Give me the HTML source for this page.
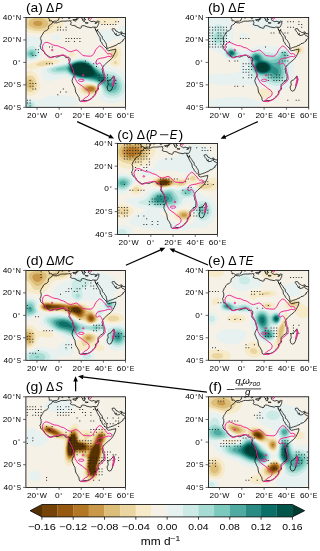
<!DOCTYPE html>
<html><head><meta charset="utf-8"><title>Figure</title>
<style>
html,body{margin:0;padding:0;background:#fff;}
svg{display:block;will-change:transform;}
text{font-family:"Liberation Sans",sans-serif;fill:#000;}
.tl{font-size:7.6px;}
.tt{font-size:10.4px;}
.ti{font-style:italic;}
.ts{font-size:7.2px;}
.tss{font-size:5.2px;}
.cl{font-size:8.6px;}
.cls{font-size:6.2px;}
</style></head><body>
<svg width="320" height="551" viewBox="0 0 320 551">
<defs><filter id="bl" x="-5%" y="-5%" width="110%" height="110%"><feGaussianBlur stdDeviation="0.45"/></filter></defs>
<rect width="320" height="551" fill="#fff"/>
<clipPath id="cpa"><rect x="26.00" y="17.50" width="99.50" height="89.80"/></clipPath>
<g clip-path="url(#cpa)">
<rect x="26.00" y="17.50" width="99.50" height="89.80" fill="#f5f1e6"/>
<g filter="url(#bl)">
<rect x="23.00" y="14.50" width="105.50" height="95.80" fill="#f5f1e6"/>
<path fill="#e7f2f0" fill-rule="evenodd" d="M23.8 109.5l13.3 0 1.1-.9 .2-.2 .9-.8 .4-.3 .7-.7 .8-.4 .3-.2 1.1-.2 1.1 .2 .7 .2 .4 .1 2.2 .6 1.1 .2 .7 .2 .4 .1 2.2 .4 4.4 .4 1.2 .1 4.4 0 5.5-.5 2.2-.4 .4-.1 .7-.2 1.1-.2 1.1-.4 1.1-.3 1.1-.5 1.2-.5 .2-.1 .9-.6 1.1-1.1 .4-.6 .3-1.1-.3-1.1-.4-.5-.6-.7-.5-.4-1.1-.7-1.2-.5-1.1-.5-.2-.1-.9-.3-2.2-.6-.8-.2-.3-.1-2.2-.4-1.1-.1-1.1-.2-1.1-.1-1.1 0-1.1-.1-4.4 0-1.2 .1-1.1 0-1.1 .1-1.1 .2-1.1 .1-2.2 .4-.2 .1-.9 .2-1.1 .3-1.1 .4-.5 .2-.6 .3-1.1 .5-.5 .3-.6 .4-1.1 .7-.2 0-.9 .5-1.1 .2-1.1-.1-1.1-.2-1.1-.3-.5-.1-.7-.1-1.1-.2-3.3-.3-2.2 0-1.1 .1-1.1 .2-1.1 .3-1.1 .4zM108.8 102.8l.1 0 1.1 .2 2.2 .2 1.1 0 1.1-.1 1.2-.1 1.1-.1 .2-.1 .9-.1 1.1-.3 1.1-.4 .8-.3 .3-.1 1.1-.5 .8-.5 .3-.2 1.1-.8 .2-.2 .9-.7 .4-.4 .7-.8 .3-.3 .8-1.1 0-17.1-.4-.9-.7-1 0-.1-.8-1.1-.3-.5-.5-.7-.6-.7-.3-.4-1.9-1.9-.4-.3-.7-.6-.9-.5-.2-.1-1.1-.5-1.1-.4-.7-.2-.4 0-1.1-.2-1.2-.3-1.1-.2-1.1-.3-.4-.1-.7-.2-2.2-.6-1-.3-.1 0-2.2-.8-.7-.3-.4-.2-1.1-.6-.8-.4-.3-.2-1.1-.6-.5-.3-.6-.3-1.1-.6-.3-.2-.8-.5-1.1-.5-.3-.1-.9-.4-1.1-.5-.5-.2-.6-.3-1.1-.5-1.1-.3-.2-.1-.9-.3-1.1-.4-1.1-.2-.8-.2-.3-.1-2.2-.4-2.2-.2-2.2 0-2.2 .2-1.1 .3-.5 .2-.6 .2-1.2 .3-1.1 .4-.5 .2-.6 .2-2.2 .6-.9 .4-.2 0-1.1 .5-1 .6-.1 0-1.1 .5-1.1 .6-1.1 .3-2.2 .8-3.3 .9-.7 .2-.4 .2-1.2 .2-2.2 .6-.5 .2-.6 .1-3.3 .9-.2 .1-.9 .3-2.2 .6-.6 .2-.5 .2-1.1 .5-1.1 .4 0 .1-1.1 .9-.3 .2-.3 1.1 .4 1.1 .2 .2 .5 .9 .6 1 0 .1 .4 1.2 .2 1.1 0 1.1 .3 1.1 .2 .5 .6 .7 .5 .3 1.1 .4 1.1 .2 1.1 0 1.1-.1 1.1-.2 1.1-.1 1.1-.3 1.1-.2 .1 0 1-.3 1.1-.2 1.2-.3 1.1-.3 .2-.1 .9-.2 1.1-.2 2.2-.6 .2-.1 .9-.2 2.2-.2 1.1 0 1.1 .2 .8 .2 .3 .1 1.1 .5 1.1 .4 .4 .1 .7 .4 1.1 .4 1.1 .3 .1 .1 1.1 .4 1.1 .3 1.1 .2 .9 .2 .2 0 1.1 .3 1.1 .2 3.3 .3 1.1 .2 1.1 .1 .2 0 .9 .1 2.2 .2 3.3 .6 .9 .2 .2 .1 1.1 .4 1.2 .5 .2 .2 .9 .5 .7 .6 .4 .4 .6 .7 .5 .8 .2 .3 .3 1.1 0 1.2-.1 1.1-.3 1.1-.1 .4-.4 .7-.5 1.2-.2 .7-.2 .4-.2 1.1 .3 1.1 .1 .1 .9 1 .2 .2 1.1 .7 .5 .3 .6 .3 1.1 .5 .9 .3 .2 .1 3.3 .9zM25.7 60.2l.3 .1 2.2 .6 1.1 .1 1.1 0 1.1-.1 2.2-.4 1.1-.3 .1 0 1.1-.4 1.1-.5 .6-.3 .5-.2 1.1-.7 .2-.2 .9-.8 .3-.3 .8-1.1 .5-1.2 .3-1.1 .2-1.1 .1-.3 .2-.8 .3-1.1 .4-1.2 .2-.4 .4-.7 .5-1.1 .2-.4 .3-.7 .3-1.2 0-1.1-.1-1.1-.5-1-.1-.1-.9-1.1-.1-.2-1.1-.8-.2-.2-.9-.4-1.1-.6-.3-.1-.8-.3-2.2-.6-1-.2-.1 0-1.2-.2-1.1-.2-2.2-.2-1.1 0-1.1-.1-3.3 .3-1.1 .3-.5 .1-.6 .2 0 22.1 .1 .1 1 .7zM104.7 43.3l.9-.1 1.1-.3 1.1-.4 .8-.3 .3-.1 1.1-.6 1-.4 .1-.1 1.1-.6 .9-.4 .2-.2 1.1-.6 .9-.4 .3-.1 1.1-.2 1.1 .1 .6 .2 .5 .2 1.1 .3 1.1 .2 1.1 0 1.1-.4 .4-.3 .7-.5 .5-.6 .6-.9 .1-.2 .5-1.1 .3-1.2 .2-.9 .1-.2 .1-1.1-.2-2.2 0-.1-.3-1.1-.5-1.1-.3-.5-.5-.6-.6-.5-1.1-.5-1.1 0-1.1 .3-1.1 .7-1.1 1-.2 .1-.9 1-.2 .1-.9 1.1-.2 0-.9 .8-1.2 .1-1.1-.1-2.2-.6-.5-.2-.6-.1-3.3-.3-1.1 .1-1.1 0-1.1 .2-1 .1-.1 .1-1.1 .3-1.1 .5-.5 .3-.6 .4-.8 .7-.3 .5-.5 .6-.4 1.1-.1 1.2 .1 1.1 .2 1.1 .4 1.1 .3 .4 .4 .8 .7 .8 .3 .3 .8 .7 .6 .4 .5 .3 1.1 .5 1.1 .3zM54.2 40l.5 .1 1.1 .1 1.2 0 1.1-.2 .2 0 .9-.3 1.1-.6 .3-.3 .6-1.1-.3-1.1-.6-.6-.9-.5-.2-.1-1.1-.3-1.1-.1-1.2 .1-1.1 .2-.5 .2-.6 .2-1.1 .7-.2 .2-.6 1.1 .4 1.1 .4 .4 1.1 .6z"/>
<path fill="#ccebe7" fill-rule="evenodd" d="M25.9 108.4l.1 .1 1.1 .5 1.1 .2 1.1 .1 1.1 0 1.1-.3 1.1-.4 .4-.2 .7-.5 .7-.6 .4-.7 .3-.4 .3-1.1-.2-1.2-.4-.7-.2-.4-.9-.7-.6-.4-.5-.2-1.1-.4-1.1-.2-1.1-.1-1.1 .1-1.1 .3-1.1 .5-1.1 .8-.3 .3-.7 1.1-.1 .7 0 .9 .1 .7 .7 1.1 .3 .3zM106.7 97.2l1.1 .4 1.1 .3 1.1 .2 2.2 .2 1.1 0 1.1-.1 1.2-.1 1.1-.2 1.1-.4 .8-.3 .3-.1 1.1-.6 .6-.4 .5-.3 .9-.8 .2-.2 .8-1 .3-.4 .4-.7 .6-1.1 .1-.4 .3-.7 .2-1.2 .1-1.1 0-2.2-.2-1.1-.3-1.2-.1-.2-.3-.9-.5-1.1-.3-.7-.3-.4-.6-1.2-.2-.2-.6-.9-.5-.6-.4-.5-1.8-1.8-.7-.5-.4-.3-1.1-.7-.1-.1-1-.5-1.2-.5-.2-.1-.9-.3-1.1-.3-2.2-.4-1.1-.1-1.1-.2-1.1-.3-1.1-.4-.5-.2-.6-.4-1.1-.7-.2-.1-.9-.6-.7-.5-.4-.3-1.1-.8-.1 0-1-.7-.8-.4-.3-.3-1.1-.6-.5-.3-.7-.4-2.2-1.4-.6-.4-.5-.3-1.1-.6-.4-.2-.7-.4-1.1-.5-.7-.2-.4-.2-1.1-.4-1.1-.3-1.1-.2-.8-.1-.3 0-2.2-.2-2.2 .2-.5 0-.6 .1-2.2 .4-1.2 .4-.7 .3-.4 .1-1.1 .3-1.1 .5-.3 .2-.8 .3-1.1 .6-.3 .2-.8 .3-1.1 .5-.7 .3-.4 .2-2.2 .6-1.1 .2-.4 .1-.7 .2-1.1 .2-1.1 .3-1.1 .2-1.1 .3-1.2 .3-1.1 .2-1.1 .3-.9 .3-.2 0-2.2 .8-.9 .3-.2 .1-1.1 .6-.7 .4-.8 1.2 .2 1.1 .2 .2 1 .9 .1 .1 1.1 .6 .9 .4 .2 .1 1.1 .4 1.1 .3 1.1 .2 1.1 .1 .9 0 .2 .1 1.2 0 .2-.1 .9 0 5.5-.5 1.1 0 1.1 .1 1.1 .2 .5 .2 .6 .3 1.1 .6 .4 .3 .7 .4 1.1 .6 .1 .1 1 .6 1.1 .5 .1 0 1 .5 1.2 .4 .8 .2 .3 .1 1.1 .4 1.1 .3 1.1 .2 1.1 .1 .1 .1 1 .2 4.4 .8 .3 .1 .8 .2 4.4 .8 .7 .1 .4 .1 1.1 .3 1.1 .4 .9 .3 .3 .2 1.1 .6 .6 .4 .5 .3 .9 .8 .2 .1 .8 1 .3 .5 .3 .6 .4 1.1 .2 1.2 .2 1.1 0 .1 .1 1 .3 1.1 .6 1.2 .1 .1 1.1 1 1.1 .6zM29 59l.3 .1 1.1 .2 1.1 .1 1.1-.2 1-.2 .1 0 1.1-.4 1.2-.5 .2-.2 .9-.7 .4-.4 .7-1 0-.1 .5-1.2 .1-1.1-.1-1.1-.3-1.1-.2-.7-.3-.4-.7-1.2-.1-.2-.9-.9-.2-.3-1.2-.8-1.1-.7-1.1-.3-1.1 0-1.1 .2-1.1 .5-.3 .3-.8 .4-.8 .7-.3 .2-.9 .9-.8 1.2-.5 .9-.1 .2-.3 1.1-.2 1.1 .1 1.1 .4 1.2 .1 .1 .6 1 1.1 1.1 .5 .3 1.1 .6z"/>
<path fill="#a6dcd4" fill-rule="evenodd" d="M28.2 107.3l1.1 .2 1.1-.1 .2-.1 .9-.5 .8-.6 .3-.9 .1-.2-.4-1.2-.8-.7-.8-.4-.3-.1-1.1-.1-1.1 .2-1.1 .6-.5 .5-.4 1.2 .4 1.1 .5 .5zM108.8 95l.1 0 1.1 .3 2.2 .2 1.1 0 1.1-.1 1.2-.3 .5-.1 .6-.2 1.1-.5 .7-.5 .4-.2 1-.9 .1-.1 .8-1 .3-.6 .3-.5 .4-1.2 .2-1.1 .1-1.1-.1-1.1-.2-1.1-.3-1.2-.4-1 0-.1-.6-1.1-.5-.9-.2-.2-.8-1.2-1.2-1.2-1.1-1-.1 0-1-.7-1.2-.6-1.1-.5-1.1-.4-.4-.1-.7-.1-2.2-.4-1.1-.3-.9-.3-.2 0-1.1-.5-1-.6-.1-.1-1.1-.7-.4-.3-.7-.6-.7-.5-.4-.4-1-.8-.1-.1-1.1-.8-.3-.2-.8-.5-.9-.6-.2-.2-1.2-.7-.3-.2-.8-.6-.6-.6-.5-.3-2.2-1.6-.5-.3-.6-.3-1.1-.6-.5-.2-.6-.3-1.1-.4-1.1-.3-.7-.1-.4-.2-1.1-.1-1.1-.2-2.2 0-1.1 .1-1.1 .2-.8 .2-.3 0-1.1 .3-1.2 .3-1.1 .4-.1 .1-1 .3-1.1 .6-.4 .2-.7 .4-1.1 .6-.2 .1-.9 .5-1.1 .5-.4 .1-.7 .3-2.2 .6-1.1 .2-.4 .1-.7 .1-2.2 .4-1.1 .3-1.1 .2-1.2 .3-2.2 .8-.4 .1-.7 .4-1.1 .7-.1 0-.3 1.2 .4 .5 .8 .6 .3 .1 1.1 .4 1.1 .3 1.1 .2 1.2 .1 2.2 0 1.1-.1 1.1 0 2.2-.2 1.1 0 1.1 .2 .4 .1 .7 .3 1.1 .6 .3 .2 .8 .6 .8 .5 .3 .3 1.1 .7 .2 .2 .9 .5 2.2 1.2 1.5 .5 .8 .3 2.2 .6 1.1 .2 .2 0 .9 .2 6.6 1.2 1.1 .3 1.1 .2 1.1 .3 .5 .1 .6 .1 1.1 .2 1.1 .3 1.1 .4 .2 .1 1 .4 1.1 .6 .3 .1 .8 .5 1 .7 .1 0 1.1 .9 .2 .2 .9 1.1 .7 1.1 .4 1 0 .1 .5 1.2 .5 1.1 .1 .2 .6 .9 .5 .5 .8 .6 .3 .2 1.1 .6zM30.2 57.9l.2 .1 1.1 .1 1.1-.2 .2 0 .9-.3 1.1-.5 .5-.3 .7-.7 .3-.4 .5-1.2 .1-1.1-.2-1.1-.6-1.1-.1-.3-.9-.8-.3-.2-1.1-.6-1.1-.3-.5-.1-1 0-.7 .1-1.1 .3-1.1 .7-1.2 1.2-.6 1.1-.2 1.1 .1 1.1 .5 1.2 .3 .4 .7 .7 .4 .3 1.1 .6z"/>
<path fill="#7ccabe" fill-rule="evenodd" d="M109.6 92.7l.4 .1 1.1 .2 1.1 .1 2.2-.2 .5-.2 .7-.2 1.1-.6 .4-.3 .7-.6 .5-.5 .6-1 0-.2 .4-1.1 .2-1.1 0-1.1-.2-1.1-.4-1.2 0-.2-.5-.9-.6-1.1-.9-1.1-.2-.3-1-.9-.1-.1-1.5-1-.8-.4-1.1-.4-1.1-.3-1.1-.2-2.2-.6-.7-.3-.4-.2-1.1-.6-.4-.4-.7-.4-.9-.7-.2-.1-1.1-.9-.1-.1-1-.9-.3-.2-.8-.7-.5-.4-.6-.5-.9-.7-.2-.1-1.1-.8-1.2-.8-.5-.5-.6-.4-.8-.7-.3-.3-1-.9-.1 0-1.1-.8-.3-.3-.8-.5-1-.6-.1 0-1.1-.6-1.1-.4-.4-.1-.7-.3-2.2-.4-2.2-.2-1.1 0-1.1 .1-2.2 .4-1.1 .3-.3 .1-.9 .2-1.1 .4-.9 .5-.2 .1-1.1 .5-.8 .5-.3 .2-1.1 .7-.5 .2-.6 .5-1.1 .6-.2 .1-.9 .4-1.1 .4-1.1 .2-.6 .1-.5 .1-1.1 .2-1.1 .3-2.2 .4-.4 .1-.7 .5-1.2 .6 0 .2 .8 1 .4 .1 1.1 .2 3.3 0 1.1-.1 2.2 0 1.1 .3 1.1 .5 .2 .1 .9 .6 .6 .5 .5 .4 .8 .7 .3 .3 1.1 .8 0 .1 1.1 .7 .6 .4 .5 .3 1.1 .6 1.2 .4 2.2 .8 .6 .1 .5 .2 3.3 .6 2.2 .2 .8 .1 .3 .1 3.3 .6 1.1 .3 .8 .2 .3 0 3.3 .9 .7 .2 .4 .1 1.2 .5 1 .5 .1 0 1.1 .6 .9 .5 .2 .1 1.1 .7 .6 .4 .5 .4 .8 .7 .3 .3 .6 .8 .5 .8 .2 .3 .6 1.1 .3 .5 .5 .7 .6 .6 .6 .5 .5 .3 1.1 .6zM31.3 56.8l.5 0 .8-.1 1.1-.5 .7-.5 .4-.6 .3-.6 .2-1.1-.4-1.1-1.2-1.2-1.1-.5-1.1-.1-1.1 .2-1.1 .5-1.1 1.1-.4 1.1 .1 1.1 .3 .5 .5 .7 .6 .5 1.1 .5z"/>
<path fill="#4faaa1" fill-rule="evenodd" d="M110.4 90.5l.7 .1 1.1 .1 1.1-.2 .2 0 .9-.4 1.2-.7 0-.1 .8-1.1 .3-.7 .1-.4 .1-1.1-.2-1.1 0-.3-.4-.9-.6-1.1-.1-.2-1.2-1.2-1.1-.8-1.1-.6-1.1-.3-.8-.3-.3 0-1.1-.3-1.1-.4-.6-.4-.5-.2-1-.9-.1-.1-1.1-.9-.1-.1-1-.8-.4-.4-.7-.6-.6-.5-.5-.4-.8-.7-.3-.3-1-.8-.1-.2-1.1-.9-.1 0-1-.8-.4-.4-.8-.5-.6-.6-.5-.4-.7-.7-.4-.3-.9-.8-.2-.2-1.1-1-1.1-.8-.4-.3-.7-.4-1.1-.6-.3-.1-.8-.3-1.1-.4-1.1-.3-.8-.1-.3-.1-2.2-.2-1.1 0-1.1 .1-1 .2-.1 0-1.1 .2-1.1 .3-1.2 .4-.5 .2-.6 .2-1.1 .5-.7 .4-.4 .3-1.1 .7-.2 .1-.9 .7-.6 .5-.5 .5-.8 .6-.3 .5-.6 .6 .3 1.1 .3 .3 .7 .9 .4 .3 .7 .8 1.5 1.5 .8 .7 .3 .3 2.2 1.6 .8 .4 .3 .2 1.2 .5 1.1 .4 3.3 .9 1.1 .1 .4 .1 .7 .1 1.1 .2 3.3 .3 1.1 .2 1.1 .1 1 .2 .1 .1 1.1 .2 1.1 .3 1.1 .2 1.1 .3 .2 .1 2.1 .7 .6 .4 .5 .2 1.1 .6 .7 .3 .4 .2 1.1 .5 1 .4 .1 .1 1.1 .5 .8 .6 .3 .2 .8 .9 .3 .3 .6 .8 .5 .8 .3 .3 .8 .9 .3 .2 .8 .6 1.1 .5zM30 54.5l.4 .4 1.1 .3 1.1-.3 .4-.4 .3-1.1-.7-.8-.8-.3-.3-.1-.3 .1-.8 .4-.6 .7z"/>
<path fill="#298b83" fill-rule="evenodd" d="M110.7 87.1l.4 .1 .9-.1 .2-.1 .9-1 0-1.1-.7-1.2-.2-.1-1.1-.7-1.1-.2-1.1 .1-.8 .9 .3 1.2 .5 1 .1 .1 1 .8zM99.5 81.5l.6 .3 2.2 .6 1.1 .1 1.1-.1 1.1-.6 .3-.3-.1-1.1-.2-.3-.3-.9-.7-1.1-.1-.2-.8-.9-1.4-1.4-1.1-.9-1.1-1-.1-.1-1-.9-.2-.2-.9-.8-.4-.3-.7-.7-.6-.4-.6-.5-.6-.7-.5-.3-.7-.8-2.2-2.2-.4-.3-1-.9-.1 0-1.1-.8-.5-.3-.6-.3-1.1-.5-.8-.3-.3-.1-1.1-.3-1.1-.2-2.2-.2-1.1 0-1.1 .1-2.2 .4-1.1 .3-.1 0-1.1 .3-1.1 .5-.6 .3-.5 .3-1.1 .7-.2 .1-.9 .7-1.1 1.1-.4 .5-.5 1.1 .1 1.1 .6 1.2 .2 .2 .6 .9 .5 .5 .5 .6 .6 .6 .7 .5 .4 .4 1.1 .7 0 .1 1.1 .6 1.1 .5 .1 0 2.2 .8 1 .3 .1 0 1.1 .3 1.1 .2 1.1 .1 1.1 .2 2.2 .2 1.1 0 .9 .1 .2 0 1.1 .1 4.4 .8 .9 .2 .2 .1 1.1 .3 1.2 .5 .5 .3 .6 .2 1.1 .6z"/>
<path fill="#0a6f67" fill-rule="evenodd" d="M99.7 80.4l.4 .1 1.1 .2 1.1-.1 .5-.2 .4-1.2-.4-1.1-.5-.7-1.1-1.1-.5-.4-.6-.5-.7-.7-.4-.3-3-3-.4-.3-.7-.8-.4-.4-.6-.8-.5-.4-.5-.7-2.2-2.2-.6-.5-.9-.7-.2-.1-1.1-.6-.7-.4-.4-.2-1.1-.4-1.1-.3-1-.2-.1 0-1.1-.2-2.2 0-2.2 .2-1.1 .2-1.1 .3-1.2 .4-.5 .2-.6 .3-1.1 .6-.3 .2-.8 .6-.7 .6-.4 .5-.5 .6-.4 1.1 0 1.1 .5 1.2 .4 .5 .4 .6 .7 .8 1.1 1.1 .5 .3 .6 .5 1.1 .6 1.2 .6 1.1 .4 .4 .2 .7 .2 2.2 .6 1.1 .2 .6 .1 .5 .1 3.3 .3 1.1 0 1.1 .1 1.1 0 3.3 .3 1.1 .2 .8 .1 .3 .1 1.1 .2 1.2 .4 .8 .4 .3 .2 1.1 .6z"/>
<path fill="#01554b" fill-rule="evenodd" d="M79.3 75.9l.9 .2 2.2 .4 1.1 .1 1.1 .2 11 0 1.2-.1 .8-.8-.6-1.2-.2-.3-.5-.8-.7-.8-.1-.3-.9-1.1-.1-.1-.7-1-.4-.4-.5-.8-.6-.7-.3-.4-.8-.9-.2-.2-.9-.8-.4-.3-.7-.6-.9-.6-.2-.1-2.2-1-1.1-.3-1.1-.2-2.2-.2-2.2 0-2.2 .4-1.1 .3-.2 0-1 .4-1.1 .5-.4 .2-.7 .5-.9 .7-.2 .2-.7 .9-.4 .9-.1 .2 .1 1.1 0 .1 .4 1.1 .7 1 .1 .1 1 1.1 1.1 .9 .4 .2 .7 .5 1.2 .5 .2 .1 .9 .4 1.1 .4 1.1 .3z"/>
<path fill="#003c30" fill-rule="evenodd" d="M82.2 75.9l.2 0 1.1 .2 2.2 .2 1.1 0 1.1-.1 1.1 0 1.1-.2 1.1-.1 1.1-.3 1.1-.4 .7-.5 .2-1.1-.3-1.1-.5-1.1-.1 0-.6-1.1-.5-.7-.2-.5-.9-1 0-.1-1.1-1.1-1.1-1-.2-.1-.9-.6-1.1-.6-1.1-.4-2.2-.6-.7-.1-.4 0-1.1-.1-2.2 0-1 .1-.1 0-1.1 .2-1.1 .3-1.2 .4-.4 .2-.7 .4-1.1 .7 0 .1-1 1.1-.1 .1-.4 1 0 1.1 .4 1 .1 .2 .8 1.1 .2 .3 .9 .8 .2 .2 1.1 .7 .5 .2 .7 .4 1.1 .4 .9 .3 .2 .1 3.3 .9z"/>
<path fill="#f6eac9" fill-rule="evenodd" d="M26.6 95l.5 .1 1.1 .3 1.1 .1 2.2 0 1.1-.3 1-.2 .1-.1 1.1-.5 .9-.6 .3-.1 1.1-1 1-1.1 .1-.1 .7-1 .6-1.2 .4-1.1 .2-1.1 0-1.1-.1-1.1-.3-1.2-.4-1.1 0-.1-.3-1-.4-1.1-.2-1.2-.2-.8-.1-.3-.3-1.1-.5-1.1-.2-.4-.5-.8-.6-.7-.4-.4-.8-.7-.5-.4-.6-.5-1-.6-.1-.1-1.1-.7-1.1-.3-1.1 .2-1.1 .4-.8 .5-.3 .1-1.1 .6-.5 .4-.6 .5-.7 .6-.4 .4 0 19.2 .7 .6 .4 .3 1.1 .6zM85.6 95l.1 0 1.1 .3 1.1 .2 2.2 .2 2.2-.2 1.1-.2 1.1-.3 .1 0 1-.4 1.2-.7 .1-.1 1-.8 .2-.3 .8-1.1 .1-.2 .3-.9 0-1.2-.2-1.1-.1-.2-.6-.9-.5-.6-.6-.5-.5-.4-1.2-.6-.3-.1-.8-.3-1.1-.4-1.1-.2-2.2-.2-.5-.1-3.9 0-1.1 .1-1.1 .2-1.1 .3-1.1 .4-.3 .2-.8 .5-.7 .6-.4 .5-.4 .6-.4 1.1 .1 1.1 .4 1.2 .3 .4 .5 .7 .6 .6 .6 .5 .5 .4 1.1 .6 .2 .1 .9 .5 1.1 .4zM30.2 69.1l.2 .5 1.1-.1 1-.4 .1 0 2.2-.4 1.2-.2 2.2-.4 .2-.1 .9-.1 3.3-.6 1.1-.3 .5-.1 .6-.1 1.1-.3 1.1-.2 1.1-.3 1.1-.2 .1 0 1-.3 2.2-.6 .9-.3 .2 0 2.2-.8 1.2-.4 1.1-.6 .8-.4 .3-.4 .6-.7-.6-1-.2-.1-.9-.4-1.1-.3-1.2-.2-1.1-.2-.9-.1-.2 0-1.1-.1-4.4 0-1.1 .1-.1 0-1 .1-2.2 .2-1.1 .2-2.2 .6-.1 .1-1 .3-1.1 .3-1.1 .4-.3 .1-.8 .3-1.2 .4-1.1 .3-.3 .1-.8 .3-1.1 .4-1.1 .3-.2 .1-.9 .5-1.1 .6 0 .1-.7 1.1 .1 1.1 .6 .8 1.1 1.1zM113.1 65.8l.2 .1 1.1 .3 1.2 .1 1.1-.1 1.1-.2 .6-.2 .5-.3 1-.9 .1 0 .6-1.1 .1-1.1-.2-1.1-.1-1.1 .1-1.2 .3-1.1 .3-1 0-.1 .3-1.1 .2-1.2 0-2.2-.2-1.1-.3-1-.1-.1-.4-1.2-.6-.9-.2-.2-.9-1-.1-.1-1-.7-1-.4-.1-.1-1.1-.2-1.2 0-1.1 .2-.1 .1-1 .3-1.1 .6-.2 .2-.9 .7-.4 .4-.7 .9-.1 .2-.7 1.2-.3 .9-.1 .2-.4 2.2 .1 1.1 .1 1.2 .3 1 0 .1 1 2.2 .1 .2 .4 1 .4 1.1 .3 1.1 .4 1.1 .7 .9 .2 .2 .9 .7zM70.1 56.8l.1 .1 1.1 .3 1.1 0 1-.4 1.1-1.1 .1-.5 .2-.7-.2-1 0-.1-.7-1.1-.4-.3-1.1-.5-1.1 0-1.1 .5-.3 .3-.8 1.1-.2 1.1 .2 1 .1 .2zM35.5 33.2l.5 .1 1.1 .1 1.1 .2 3.3 .3 1.1 0 1.1 .1 3.3 0 2.2-.4 1.1-.3 .5-.1 .6-.2 3.3-.9 .1 0 1-.4 1.2-.3 1.1-.4 1.1-.6 .9-.6 .2-.1 1.1-1 .9-1.1 .2-.4 .4-.7 .4-1.1 .1-1.2-.1-1.1-.3-1.1-.5-.9-.1-.2-.9-1.2-1.2-1.2-1.1-.8-.3-.2-.8-.6-1-.5-.1-.1-1.2-.6-.9-.4-31.1 0 0 15.2 1 .5 .1 0 1.1 .4 2.2 .6 .5 .1 .6 .1 4.4 .8 1.1 .1zM101.7 24.2l.6 .1 1.1 .2 2.2 .2 1.1 0 1.1 .1 2.2 0 2.2-.2 1.1-.2 .9-.2 .2-.1 1.2-.5 .8-.5 .3-.2 .8-.9 .3-.4 .4-.7 .2-1.2-.4-1.1-.2-.2-1-.9-.1-.1-1.1-.6-1.2-.4-.1 0-1-.3-2.2-.4-2.2-.2-2.2 0-2.2 .2-2.2 .4-1 .3-.1 0-1.1 .4-1.1 .5-.4 .2-.7 .5-.8 .6-.3 .5-.5 .6-.1 1.2 .5 1.1 .1 0 1.1 .9 .3 .2 .8 .3 1.1 .4 1.1 .3z"/>
<path fill="#ebd6a2" fill-rule="evenodd" d="M88.3 93.8l.7 .2 2.2 0 1.1-.1 .5-.1 .6-.1 1.1-.3 1.1-.5 1.2-.8 .5-.5 .6-1 .1-.1 .2-1.2-.3-1.1 0-.1-.7-1-.4-.4-1-.7-.2-.1-1.1-.5-1.1-.4-.6-.1-.5-.1-1.1-.2-1.1-.1-1.1 0-2.2 .2-.8 .2-.3 0-1.1 .4-1.1 .5-.3 .2-.8 .7-.4 .4-.5 1.1 0 1.1 .4 1.2 .5 .5 .5 .6 .6 .4 1.1 .7 1.1 .5 2.2 .6zM28.2 91.6l1.1 .3 1.1 .1 1.1-.1 1-.3 .1-.1 1.1-.6 .6-.4 .5-.5 .6-.7 .6-.8 .1-.3 .4-1.1 .2-1.1 .1-1.1-.2-1.2-.2-1.1-.3-1.1-.1-.5-.2-.6-.5-1.2-.5-.9-.1-.2-.8-1.1-.2-.1-1.1-.8-.4-.2-.7-.3-1.1-.2-1.1 .1-1.1 .3 0 .1-1.1 .5-.7 .6-.4 .4-.6 .7-.5 .8-.2 .3-.4 1.2-.3 1.1-.2 1.1 0 2.3 .2 1.1 .3 1.1 .5 1.1 .1 .3 .5 .8 .6 .7 .4 .5 .7 .5zM37.6 65.8l.6 0 1.1 .1 2.2 0 1.1-.1 .3 0 .8-.1 3.3-.6 1.1-.3 .9-.2 .2 0 2.2-.8 .8-.3 .3-.4 .9-.7-.9-.6-1.1-.5-.1 0-1-.2-1.1 0-1.1-.1-1.1 0-2.2 .2-.6 .1-.5 0-1.1 .2-3.3 .9-2.2 1-.3 .1-.8 1-.2 .1 .2 .2 1.1 .8zM113.8 63.5l.6 .5 1.2 .2 1.1-.3 .4-.4 .1-1.1-.5-.9-.4-.2-.7-.6-1.2 .2-.3 .4-.6 1.1zM113.2 57.9l.1 .1 1.1 .5 1.2-.3 .2-.3 .9-.7 .2-.4 .7-1.1 .2-.5 .2-.7 .1-1.1-.2-1.1-.1-.5-.3-.6-.8-1.1 0-.1-1.1-.7-1.2-.2-1.1 .3-1 .7-.1 0-.7 1.1-.4 .8-.1 .3-.1 1.1 .1 1.1 .1 .6 .2 .6 .7 1.1 .2 .3zM38.2 31l1.1 .1 1.1 0 1.1-.1 1.1 0 1.1-.1 2.2-.4 1.1-.3 1-.4 .1 0 1.1-.4 1.1-.6 .2-.1 .9-.6 .7-.5 .4-.5 .6-.6 .5-1 .1-.1 .3-1.2-.1-1.1-.3-.7-.1-.4-.7-1.1-.3-.3-.8-.9-.3-.1-1.1-.9-.2-.1-.9-.5-1.1-.6-.1 0-1-.4-1.1-.4-.9-.3-.2-.1-1.1-.3-2.2-.4-3.3-.3-1.1 0-1.1 .1-1.2 .1-2.2 .4-1.1 .3-.5 .2-.6 .2-1.1 .4-.9 .5-.2 .1-1.1 .7-.4 .3-1.1 1.1-.7 1-.1 .2-.5 1.1-.1 1.1 .1 1.1 .3 1.2 .3 .4 .5 .7 1.1 1.1 .6 .4 1.1 .7 .1 0 1 .5 1.1 .4 .7 .2 .4 .2 1.1 .3 2.2 .4 1.2 .1 1.1 .2z"/>
<path fill="#ddbe78" fill-rule="evenodd" d="M88.4 92.7l.6 .1 1.1 .1 1.1 0 1.1-.1 .5-.1 .6-.1 1.1-.4 1.1-.6 0-.1 1-1 .2-.5 .2-.7-.2-1.1-.9-1.1-.3-.2-1.1-.7-.5-.2-.6-.2-1.1-.3-1.1-.2-2.2 0-1.1 .1-1.1 .3-.8 .3-.3 .1-1.1 .7-.4 .3-.6 1.1 0 1.1 .5 1.2 .5 .4 .8 .7 .3 .2 1.1 .5 1.1 .3zM28.8 88.2l.5 .3 1.1 .2 1.1-.2 .6-.3 .5-.4 .7-.7 .4-.9 .1-.2 .2-1.1 0-1.2-.3-1.1-.4-1.1-.6-1.1-.1-.1-1.1-1-.3-.1-.8-.2-1.1 .1-.2 .1-.9 .6-.5 .6-.6 .8-.1 .3-.3 1.1-.1 1.1 .1 1.2 .3 1.1 .1 .3 .5 .8 .6 .7zM37.5 28.7l.7 .1 1.1 0 .4-.1 .7 0 2.2-.4 1.1-.3 1-.4 .1 0 1.1-.6 .7-.5 .4-.4 .6-.7 .5-1.2 0-1.1-.4-1.1-.7-.8-.3-.3-.8-.7-.7-.5-.4-.2-1.1-.5-1.1-.4-1.1-.3-1.1-.2-2.2-.2-1.1 0-1.1 .1-1.2 .1-1.1 .3-.7 .2-.4 .1-1.1 .5-.9 .5-1.2 1.2-.1 0-.6 1.1-.3 1.1 .1 1.1 .6 1.2 1.1 1.1 .2 .1 1.1 .7 .7 .3 .4 .2 2.2 .6 1.2 .2 1.1 .1z"/>
<path fill="#ca9849" fill-rule="evenodd" d="M88.2 91.6l.8 .2 1.1 .2 1.1 0 1.1-.2 .9-.2 .2-.1 1.1-.6 .6-.4 .5-1.1 .1-.1-.1-.1-.1-1-1.1-1.1-1-.5-1.1-.3-1.1-.2-1.1 0-1.1 .1-1.1 .2-1.1 .4-.5 .3-.6 .7-.3 .4-.1 1.1 .8 1.2 .7 .5 1.1 .5zM34.7 25.4l.1 0 1.2 .4 1.1 .2 1.1 0 1.1-.1 1.1-.3 .7-.2 .4-.3 .9-.9 .1-1.1-.7-1.1-.3-.2-1.1-.6-1.1-.3-1.1-.2-1.1 0-1.1 .2-.1 0-1.1 .4-1.1 .6 0 .1-.6 1.1 .3 1.1 .3 .4z"/>
<path fill="#b37625" fill-rule="evenodd" d="M88.4 90.5l.6 .2 1.1 .2 1.1 0 1.1-.2 .7-.2 .4-.3 .7-.9-.2-1.1-.5-.4-1.1-.6-.5-.1-.6-.1-1.1 0-.9 .1-.2 0-1.1 .6-.6 .5-.1 1.1 .7 .8z"/>
</g>
<path fill="#222" d="M26.9 99.8h1v1h-1zM26.9 102.6h1v1h-1zM29.6 80.1h1v1h-1zM29.6 82.9h1v1h-1zM29.6 85.8h1v1h-1zM29.6 99.8h1v1h-1zM29.6 102.6h1v1h-1zM29.6 105.4h1v1h-1zM32.4 54.9h1v1h-1zM32.4 82.9h1v1h-1zM32.4 85.8h1v1h-1zM32.4 88.6h1v1h-1zM35.2 49.3h1v1h-1zM35.2 54.9h1v1h-1zM35.2 82.9h1v1h-1zM35.2 88.6h1v1h-1zM37.9 49.3h1v1h-1zM37.9 52.1h1v1h-1zM46.2 63.3h1v1h-1zM49.0 46.5h1v1h-1zM49.0 63.3h1v1h-1zM51.8 46.5h1v1h-1zM51.8 63.3h1v1h-1zM57.3 26.8h1v1h-1zM57.3 29.6h1v1h-1zM57.3 94.2h1v1h-1zM60.0 26.8h1v1h-1zM60.0 29.6h1v1h-1zM60.0 91.4h1v1h-1zM62.8 29.6h1v1h-1zM62.8 88.6h1v1h-1zM65.6 26.8h1v1h-1zM65.6 29.6h1v1h-1zM65.6 38.0h1v1h-1zM65.6 40.9h1v1h-1zM65.6 91.4h1v1h-1zM68.3 38.0h1v1h-1zM68.3 40.9h1v1h-1zM71.1 38.0h1v1h-1zM73.9 38.0h1v1h-1zM73.9 40.9h1v1h-1zM76.6 38.0h1v1h-1zM79.4 38.0h1v1h-1zM79.4 40.9h1v1h-1zM82.2 63.3h1v1h-1zM82.2 66.1h1v1h-1zM84.9 60.5h1v1h-1zM84.9 63.3h1v1h-1zM84.9 66.1h1v1h-1zM87.7 63.3h1v1h-1zM87.7 66.1h1v1h-1zM90.5 66.1h1v1h-1zM93.2 63.3h1v1h-1zM96.0 60.5h1v1h-1zM96.0 63.3h1v1h-1zM96.0 66.1h1v1h-1zM98.7 74.5h1v1h-1zM98.7 77.3h1v1h-1zM98.7 80.1h1v1h-1zM101.5 24.0h1v1h-1zM101.5 74.5h1v1h-1zM101.5 77.3h1v1h-1zM101.5 80.1h1v1h-1zM104.3 21.2h1v1h-1zM104.3 24.0h1v1h-1zM104.3 77.3h1v1h-1zM104.3 80.1h1v1h-1zM107.0 24.0h1v1h-1zM107.0 74.5h1v1h-1zM107.0 77.3h1v1h-1zM107.0 80.1h1v1h-1zM109.8 24.0h1v1h-1zM112.6 24.0h1v1h-1zM115.3 21.2h1v1h-1zM115.3 24.0h1v1h-1zM115.3 80.1h1v1h-1zM115.3 82.9h1v1h-1zM118.1 21.2h1v1h-1z"/>
<path fill="none" stroke="#000" stroke-width="0.75" stroke-linejoin="round" d="M52.64,22.21 L53.31,22.10 L54.30,22.89 L55.96,22.78 L56.96,23.00 L57.84,22.33 L59.17,22.10 L60.83,21.32 L62.70,21.09 L65.03,21.20 L67.46,20.87 L68.67,20.98 L70.00,20.53 L70.55,20.87 L71.33,20.76 L70.66,21.43 L70.89,22.10 L71.44,22.89 L70.78,23.67 L70.33,24.35 L71.44,25.02 L72.43,25.47 L73.76,25.47 L75.97,26.14 L76.52,27.15 L78.51,27.71 L80.17,28.39 L81.39,27.60 L81.28,26.37 L82.94,25.58 L84.82,25.92 L87.03,26.93 L89.02,27.27 L91.23,27.71 L92.89,27.04 L94.88,27.27 L95.21,28.73 L95.21,28.84 L95.87,30.41 L96.76,32.09 L97.86,34.34 L98.52,35.57 L99.96,37.70 L100.29,39.95 L100.62,41.52 L101.62,42.31 L102.50,44.44 L103.39,45.45 L104.72,46.69 L105.93,48.03 L107.04,48.93 L106.71,49.49 L108.36,50.73 L110.69,50.28 L112.23,49.83 L114.11,49.49 L115.77,49.04 L115.66,50.73 L115.22,52.30 L114.00,54.77 L112.90,56.79 L111.68,58.47 L110.35,59.93 L108.70,61.17 L106.82,62.74 L105.38,64.08 L104.38,64.98 L103.50,65.99 L102.50,67.68 L102.06,69.70 L102.84,70.82 L102.61,71.94 L103.17,73.62 L103.94,74.52 L104.05,76.43 L103.94,78.68 L103.39,80.36 L100.62,82.16 L99.41,83.28 L98.19,84.63 L98.08,86.53 L98.41,87.66 L98.41,89.34 L96.76,90.35 L95.43,91.36 L95.54,92.60 L95.21,94.39 L94.54,94.95 L93.44,95.96 L92.44,97.42 L91.12,98.66 L89.57,99.67 L87.91,100.34 L87.03,100.56 L85.26,100.45 L84.04,100.56 L82.38,101.01 L81.28,101.46 L80.39,101.13 L79.51,100.68 L79.40,99.78 L78.96,99.11 L79.29,97.98 L78.29,96.52 L77.30,94.50 L76.08,93.04 L75.53,91.02 L75.09,88.22 L74.98,87.32 L73.98,85.86 L73.10,83.73 L72.21,81.82 L72.10,80.36 L72.65,78.56 L73.43,76.99 L74.20,75.87 L74.31,74.41 L73.65,73.18 L73.32,71.72 L72.77,69.25 L72.65,68.91 L72.32,68.01 L71.44,66.78 L70.11,65.66 L69.45,64.53 L68.90,63.30 L69.45,62.06 L69.78,61.28 L70.00,59.82 L70.11,58.92 L69.56,58.02 L69.01,57.46 L68.56,57.24 L67.46,57.46 L66.57,57.57 L65.69,57.57 L64.69,56.11 L64.03,55.33 L62.93,55.22 L62.15,55.33 L61.27,55.55 L60.38,55.78 L58.61,56.45 L57.07,57.12 L55.52,56.68 L54.08,56.56 L52.64,56.79 L50.88,57.46 L49.88,57.12 L48.89,56.45 L47.23,55.44 L46.56,54.65 L45.46,54.21 L44.57,53.20 L44.57,52.30 L44.02,51.74 L43.03,50.95 L42.47,50.16 L41.48,49.49 L40.70,48.48 L40.59,47.47 L40.48,46.69 L40.15,46.01 L39.82,45.90 L40.48,45.34 L40.92,44.22 L41.37,42.08 L41.15,40.96 L41.15,39.95 L40.48,38.83 L40.37,38.38 L41.15,36.92 L41.48,35.80 L42.14,35.01 L42.80,34.11 L43.25,32.88 L44.46,31.42 L45.24,30.97 L46.23,30.75 L47.12,30.07 L48.11,29.17 L48.55,28.16 L48.33,27.38 L48.89,25.81 L49.66,25.02 L50.76,24.57 L51.54,24.12 L52.31,22.89 L52.64,22.21Z M113.67,75.87 L114.33,77.22 L114.78,79.24 L115.00,80.14 L114.33,80.81 L114.00,82.38 L113.56,84.29 L112.90,86.31 L112.12,88.44 L111.24,90.35 L109.58,91.14 L108.36,90.69 L107.59,89.68 L107.37,88.44 L107.04,87.09 L107.59,85.97 L108.25,84.96 L108.03,83.50 L107.81,82.16 L108.25,80.92 L109.03,80.36 L110.35,80.02 L111.35,79.24 L112.01,78.12 L112.79,77.44 L113.67,75.87Z M126.05,34.00 L123.95,33.66 L122.52,33.44 L121.96,32.09 L121.19,31.87 L119.64,32.65 L118.31,32.32 L117.10,31.42 L115.99,31.08 L114.67,28.84 L113.89,28.61 L112.90,28.84 L112.23,28.84 L112.12,29.85 L112.68,30.41 L113.12,31.31 L114.00,32.20 L114.55,32.88 L114.67,33.66 L115.11,34.45 L115.66,34.79 L115.99,34.00 L116.21,33.44 L116.21,34.90 L116.66,35.57 L118.20,35.35 L119.53,35.12 L120.53,33.89 L121.19,33.10 L121.52,32.77 L121.52,34.45 L122.07,35.24 L123.29,35.80 L124.06,35.91 L124.84,36.92 L125.28,37.37 L124.73,38.38 L123.84,39.50 L123.07,39.73 L122.96,41.07 L121.74,41.52 L120.64,42.87 L120.30,43.09 L119.75,43.32 L117.87,43.65 L116.88,44.89 L114.00,45.90 L113.01,46.69 L112.12,46.69 L110.46,47.36 L109.58,47.47 L108.92,48.03 L107.81,48.26 L107.26,48.26 L106.93,47.58 L106.60,45.79 L106.26,44.78 L106.48,44.10 L105.93,43.21 L105.38,42.42 L104.72,41.41 L104.38,40.51 L103.61,39.73 L103.17,39.61 L102.39,38.49 L102.28,37.03 L101.73,35.80 L101.18,35.35 L100.62,35.12 L100.29,34.23 L99.96,33.66 L99.63,33.22 L99.19,32.54 L98.52,31.64 L97.97,30.86 L97.42,30.86 L97.64,29.85 L97.81,29.40 L97.42,30.30 L96.98,31.19 L96.64,30.97 L96.31,30.52 L95.76,29.85 L95.21,28.84 M94.88,27.27 L96.98,27.27 L97.42,26.70 L97.86,25.58 L98.41,24.35 L98.86,23.45 L98.75,22.21 L99.19,21.32 L98.41,21.32 L97.53,21.09 L96.76,21.77 L95.10,21.88 L94.21,21.32 L93.00,21.20 L92.00,21.88 L90.90,21.20 L89.68,20.87 L89.02,20.08 L88.35,19.52 L88.80,18.62 L88.13,18.06 L88.35,17.28 L88.69,16.94 M84.15,16.83 L84.37,17.50 L84.15,18.06 L84.93,18.40 L84.15,18.85 L85.15,19.41 L85.70,19.52 L84.71,19.86 L84.37,20.53 L84.71,21.43 L84.04,21.54 L83.16,21.09 L82.72,20.19 L82.49,19.41 L83.38,19.30 L82.49,19.18 L82.05,18.62 L81.50,17.95 L80.95,17.50 L80.61,16.83 M79.62,17.28 L79.51,17.72 L78.18,17.05 L77.85,16.94 L77.41,17.72 L78.07,18.17 L78.18,18.73 L77.52,18.85 L76.97,19.75 L76.52,19.86 L76.52,19.52 L76.75,18.85 L76.52,18.06 L76.08,17.50 L75.64,17.16 M70.00,16.94 L69.89,18.40 L69.34,18.40 L68.90,18.73 L68.45,18.40 L68.45,17.05 L68.23,16.83 M48.66,16.94 L49.22,17.72 L48.77,18.62 L49.33,19.18 L49.44,19.86 L49.33,20.87 L50.43,20.87 L50.99,20.64 L51.98,20.98 L52.31,21.54 L52.98,21.99 L53.75,21.43 L54.30,21.20 L55.41,21.20 L56.84,21.20 L57.40,20.64 L58.39,20.19 L58.39,19.30 L59.28,18.85 L58.84,18.29 L59.28,17.61 L59.72,17.05 L60.05,16.71 M85.15,22.78 L85.92,22.66 L86.81,22.66 L87.69,22.78 L88.24,22.89 L88.02,23.11 L86.47,23.22 L85.15,22.78Z M94.88,23.11 L95.65,22.66 L96.76,22.55 L97.42,22.33 L96.64,23.00 L95.65,23.56 L94.99,23.45 L94.88,23.11Z M72.88,19.63 L73.98,19.52 L76.30,19.41 L75.86,20.53 L75.86,21.20 L74.98,20.87 L72.99,20.19 L72.88,19.63Z M61.82,17.95 L62.59,17.61 L62.93,17.95 L62.48,18.29 L61.82,17.95Z"/>
<path fill="none" stroke="#ec2592" stroke-width="0.95" stroke-linejoin="round" d="M42.36,46.91 L43.36,44.10 L44.79,42.76 L47.12,42.31 L49.44,43.21 L52.31,44.66 L55.08,45.56 L57.84,45.79 L61.16,47.47 L63.37,47.92 L65.14,48.93 L67.90,50.84 L70.66,51.74 L73.54,50.84 L76.30,49.94 L78.62,51.29 L80.95,53.64 L82.83,55.55 L86.58,56.00 L90.23,56.23 L92.11,55.78 L93.88,53.53 L95.76,49.83 L97.64,47.47 L99.52,46.01 L101.40,46.57 L103.28,48.82 L105.16,50.73 L106.48,52.63 L107.92,53.98 L109.80,53.53 L111.68,54.43 L112.12,55.78 L110.69,56.79 L108.81,56.34 L107.04,56.79 L104.16,57.69 L100.40,58.25 L97.64,59.14 L96.20,61.05 L95.76,63.30 L97.20,64.31 L99.08,62.96 L100.40,63.30 L101.40,64.65 L102.28,66.55 L103.17,68.46 L103.61,71.38 L104.27,73.62 L104.83,75.42 L105.27,79.24 L103.39,82.04 L100.07,84.40 L98.19,86.65 L97.31,89.45 L96.42,92.37 L94.99,95.18 L92.67,97.87 L88.91,100.23 L85.15,101.69 L80.84,101.35 L82.38,100.23 L85.15,97.87 L87.03,96.97 L88.91,95.18 L89.35,92.71 L88.02,90.46 L85.15,88.55 L82.38,86.20 L77.74,83.05 L75.20,78.68 L74.09,74.19 L73.32,70.26 L71.66,66.33 L70.22,63.86 L68.90,61.05 L68.34,58.81 L67.46,56.90 L65.14,55.55 L62.48,54.88 L59.72,55.44 L56.96,55.78 L54.08,56.79 L51.76,57.69 L49.44,57.69 L46.56,55.44 L44.79,52.63 L42.92,49.72 L42.36,46.91Z M84.04,80.36 L83.77,79.87 L83.00,79.48 L81.89,79.27 L80.66,79.27 L79.55,79.48 L78.79,79.87 L78.51,80.36 L78.79,80.85 L79.55,81.24 L80.66,81.45 L81.89,81.45 L83.00,81.24 L83.77,80.85 L84.04,80.36Z M83.93,75.31 L83.70,74.75 L83.16,74.52 L82.61,74.75 L82.38,75.31 L82.61,75.86 L83.16,76.09 L83.70,75.86 L83.93,75.31Z M52.98,50.05 L52.75,49.50 L52.20,49.27 L51.65,49.50 L51.43,50.05 L51.65,50.61 L52.20,50.84 L52.75,50.61 L52.98,50.05Z M91.45,18.29 L91.16,17.57 L90.45,17.28 L89.75,17.57 L89.46,18.29 L89.75,19.00 L90.45,19.30 L91.16,19.00 L91.45,18.29Z M113.78,76.54 L114.67,79.24 L113.89,82.61 L112.90,85.97 L112.34,86.20 L113.12,82.61 L113.78,79.24 L113.23,76.99 L113.78,76.54Z"/>
</g>
<rect x="26.00" y="17.50" width="99.50" height="89.80" fill="none" stroke="#000" stroke-width="0.8"/>
<path stroke="#333" stroke-width="0.75" d="M26.00,17.50h-2.8M26.00,39.95h-2.8M26.00,62.40h-2.8M26.00,84.85h-2.8M26.00,107.30h-2.8M37.06,107.30v2.4M59.17,107.30v2.4M81.28,107.30v2.4M103.39,107.30v2.4M125.50,107.30v2.4"/>
<text x="2.83" y="19.95" style="font-size:7.20px" textLength="9.23" lengthAdjust="spacingAndGlyphs">40</text><text x="12.74" y="18.87" style="font-size:5.18px">°</text><text x="15.68" y="19.95" style="font-size:7.20px" textLength="5.42" lengthAdjust="spacingAndGlyphs">N</text>
<text x="2.83" y="42.40" style="font-size:7.20px" textLength="9.23" lengthAdjust="spacingAndGlyphs">20</text><text x="12.74" y="41.32" style="font-size:5.18px">°</text><text x="15.68" y="42.40" style="font-size:7.20px" textLength="5.42" lengthAdjust="spacingAndGlyphs">N</text>
<text x="12.86" y="64.85" style="font-size:7.20px" textLength="4.61" lengthAdjust="spacingAndGlyphs">0</text><text x="18.16" y="63.77" style="font-size:5.18px">°</text>
<text x="3.65" y="87.30" style="font-size:7.20px" textLength="9.23" lengthAdjust="spacingAndGlyphs">20</text><text x="13.56" y="86.22" style="font-size:5.18px">°</text><text x="16.50" y="87.30" style="font-size:7.20px" textLength="4.60" lengthAdjust="spacingAndGlyphs">S</text>
<text x="3.65" y="109.75" style="font-size:7.20px" textLength="9.23" lengthAdjust="spacingAndGlyphs">40</text><text x="13.56" y="108.67" style="font-size:5.18px">°</text><text x="16.50" y="109.75" style="font-size:7.20px" textLength="4.60" lengthAdjust="spacingAndGlyphs">S</text>
<text x="27.05" y="117.60" style="font-size:7.20px" textLength="9.23" lengthAdjust="spacingAndGlyphs">20</text><text x="36.96" y="116.52" style="font-size:5.18px">°</text><text x="39.90" y="117.60" style="font-size:7.20px" textLength="7.17" lengthAdjust="spacingAndGlyphs">W</text>
<text x="55.05" y="117.60" style="font-size:7.20px" textLength="4.61" lengthAdjust="spacingAndGlyphs">0</text><text x="60.35" y="116.52" style="font-size:5.18px">°</text>
<text x="72.56" y="117.60" style="font-size:7.20px" textLength="9.23" lengthAdjust="spacingAndGlyphs">20</text><text x="82.48" y="116.52" style="font-size:5.18px">°</text><text x="85.41" y="117.60" style="font-size:7.20px" textLength="4.58" lengthAdjust="spacingAndGlyphs">E</text>
<text x="94.67" y="117.60" style="font-size:7.20px" textLength="9.23" lengthAdjust="spacingAndGlyphs">40</text><text x="104.59" y="116.52" style="font-size:5.18px">°</text><text x="107.52" y="117.60" style="font-size:7.20px" textLength="4.58" lengthAdjust="spacingAndGlyphs">E</text>
<text x="116.78" y="117.60" style="font-size:7.20px" textLength="9.23" lengthAdjust="spacingAndGlyphs">60</text><text x="126.70" y="116.52" style="font-size:5.18px">°</text><text x="129.63" y="117.60" style="font-size:7.20px" textLength="4.58" lengthAdjust="spacingAndGlyphs">E</text>
<text x="25.90" y="12.00" style="font-size:12.10px" textLength="16.89" lengthAdjust="spacingAndGlyphs">(a)</text><text x="46.00" y="12.00" style="font-size:12.10px" textLength="8.29" lengthAdjust="spacingAndGlyphs">Δ</text><text x="55.20" y="12.00" style="font-size:12.10px;font-style:italic" textLength="7.31" lengthAdjust="spacingAndGlyphs">P</text>
<clipPath id="cpb"><rect x="208.40" y="17.50" width="100.30" height="89.80"/></clipPath>
<g clip-path="url(#cpb)">
<rect x="208.40" y="17.50" width="100.30" height="89.80" fill="#f5f1e6"/>
<g filter="url(#bl)">
<rect x="205.40" y="14.50" width="106.30" height="95.80" fill="#f5f1e6"/>
<path fill="#e7f2f0" fill-rule="evenodd" d="M230.7 108.4l1.1 .1 8.9 0 1.1-.1 1.1 0 1.2-.1 1.1-.1 1.1 0 3.3-.3 1.1-.2 1.2-.1 1.1-.2 .8-.1 .3 0 1.1-.2 1.1-.3 1.1-.2 1.2-.4 .2 0 .9-.4 1.1-.6 .3-.1 .5-1.2-.8-1-.1-.1-1-.6-.7-.5-.4-.2-1.2-.7-.4-.2-.7-.4-1.1-.5-.5-.3-.6-.2-1.1-.5-1.1-.4-.1 0-1.1-.3-2.2-.4-4.4-.4-1.2 0-1.1-.1-10 0-1.1 .1-1.1 0-1.1 .1-1.2 .1-1.1 0-2.2 .2-1.1 .2-2.2 .2-1.2 .2-.9 .1-.2 .1-1.1 .1-1.1 .3-1.1 .2-1.1 .3-.7 .1-.4 .2-1.2 .4-1.1 .4-.5 .2-.6 .3-1.1 .8-.6 1.1 .6 1.1 1.1 .8 .6 .4 .5 .2 1.1 .4 1.2 .3 .4 .2 .7 .2 1.1 .2 1.1 .3 2.2 .4 .2 0 .9 .1 1.2 .2 1.1 .1 1.1 .2 3.3 .3 1.1 0 1.2 .1 1.1 .1zM278.1 90.5l.5 .1 1.1 0 1.1-.1 .3 0 .9-.2 1.1-.4 1-.6 .1 0 1.1-.7 .6-.4 .5-.4 .8-.7 .3-.3 .9-.8 .2-.3 .7-.8 .5-.6 .4-.6 .7-1.1 .6-1.1 .5-1 0-.1 .6-1.2 .4-1.1 .1-.5 .2-.6 .3-1.1 .3-1.2 .1-1.1 .2-1.1 0-.5 .1-.6 0-3.4-.1-.6 0-.5-.1-1.1-.1-1.2-.1-1.1-.2-1.1-.1-1.1-.2-1.1-.2-1.2-.1-.3-.1-.8-.4-2.2-.3-1.2-.3-.8-.1-.3-.4-1.1-.6-1.1 0-.1-.7-1-.4-.6-.7-.6-.5-.4-1.1-.5-.5-.2-.6-.2-1.1-.3-2.2-.2-1.1 0-1.2 .1-1.1 .1-1.1 0-3.3-.6-1.1-.3-1.2-.3-1.1-.2-1.1-.1-1.1-.2-1.2 0-1-.1-2.3 0-1 .1-1.2 0-1.1 .1-1.1 .2-1.1 .1-1.1 .2-1.2 .2-1.1 .3-1.1 .2-1.1 .3-1.1 .4-.5 .2-.6 .2-1.2 .5-.9 .4-.2 .1-2.2 .8-1.1 .2-.6 .1-1 0-.6-.1-1.2-.1-1.1-.2-2.2-.6-1.1-.1-.3-.1-.8 0-1.1-.2-1.2-.4-.8-.5-.3-.4-.7-.7-.4-.9-.4-.2-.7-1.1-.1-.1-.1-1.1 .2-.9 .1-.2 .8-2.2 .2-1 .1-.2 .6-2.2 .1-1.1 .1-1.2 0-3.3-.1-1.2-.2-2.2-.2-1.1-.3-1.1-.1-.2-.3-1-.4-1.1-.4-.8-.2-.3-.6-1.1-.3-.6-.4-.6-.7-.9-.1-.2-1-1.1-1.2-1.1-1.1-.9-.3-.2-15 0-.3 .2-1.1 .9-1.1 1.1-.9 1.1-.2 .2-.7 .9-.4 .8 0 23.8 .1 .1 .7 1.2 .3 .3 .6 .8 .5 .6 1.1 1.1 .7 .5 .4 .4 1.1 .7 .1 .1 2.2 1 .2 .1 .9 .3 1.1 .4 1.1 .2 .8 .2 .3 .1 1.1 .5 .7 .5 .5 .5 .3 .6 .8 1 .1 .2 1 1.1 1.1 .9 .2 .2 .9 .6 1.1 .5 0 .1 1.1 .5 1.2 .3 1.1 .2 .3 .1 .8 .1 2.2 .2 1.1 0 1.1-.1 2.3 0 1.1 .2 1.1 .4 .4 .3 .6 1.1 0 1.1-.1 1.1-.2 1.2-.1 1.1-.4 2.2-.4 1.2-.9 1.1-1.1 .7-.8 .4-.3 .1-1.2 .3-1.1 .1-1.1 .2-1.1 0-1.1 .1-3.4 0-1.1 .1-2.2 0-1.1 .1-1.1 0-1.1 .1-.4 0-.8 .1-3.3 .3-1.1 .2-1.1 .1-1.1 .2-1 .2-.2 .1-1.1 .2-1.1 .3-1.1 .4-.5 .2-.6 .2-1.1 .5 0 5.2 1.1 .5 .6 .3 .5 .2 3.3 .9 .2 0 1 .2 2.2 .4 1.1 .1 1.1 .2 2.2 .2 1.2 0 .1 .1 2.1 0 1.1 .1 4.5 0 1.1-.1 1.4 0 .8-.1 1.1-.1 1.1 0 1.1-.1 1.2-.1 1.1 0 1.1-.1 4.4 0 1.2 .1 2.2 .2 1 .2 .1 0 3.3 .6 1.2 .1 2.2 .2 1.1-.1 1.1 0 1.1-.1 1.2-.1 2.2-.2 2.2 0 1.1 .1 1.1 .2 1.2 .2 .6 .2 .5 .1 2.2 .8 .5 .2 .6 .2 1.1 .6 .8 .3 .3 .2 1.2 .6 .8 .3 .3 .2 1.1 .5 1.1 .4zM242.8 38.8l.1 .1 1.2 0 .9-.1 .2 0 1.1-.2 1.1-.6 .5-.3 .6-.9 .2-.2 0-1.1-.8-1.2-.5-.3-1.1-.5-1.1-.3-1.1-.1-1.2 0-.3 .1-.8 .1-1.1 .4-1.1 .6 0 .1-.9 1.1 0 1.1 .9 1 .1 .1 1 .6 1.1 .4zM263.9 29.8l.2 .1 4.5 0 .3-.1 .8 0 2.2-.2 1.1-.2 1.2-.2 1.1-.3 .6-.2 .5-.1 2.2-.8 .4-.2 .7-.4 1.1-.6 .2-.1 1-.9 .2-.2 .8-1.2 .1-.5 .1-.6-.1-.6-.1-.5-.8-1.1-.2-.3-1-.9-.2 0-1.1-.7-.7-.4-.4-.1-1.1-.5-1.1-.3-.6-.2-.5-.1-1.1-.3-1.2-.2-1.1-.2-3.3-.3-.4 0-.7-.1-2.3 0-.7 .1-.4 0-3.3 .3-2.2 .4-1.2 .3-.5 .1-.6 .2-1.1 .3-1.1 .5-.4 .1-.7 .4-1.1 .7-.2 0-1 .9-.3 .3-.7 1.1-.1 .3-.1 .8 .1 .8 .1 .3 .7 1.2 .3 .3 1 .8 .2 .1 1.1 .6 .7 .4 .4 .2 2.2 .8 .5 .1 .6 .2 1.2 .3 2.2 .4 2.2 .2z"/>
<path fill="#ccebe7" fill-rule="evenodd" d="M271.8 84.9l.1 0 1.1 .4 1.2 .3 1.1 .2 1.1 .1 1.1 0 1.1-.1 1.1-.2 1.1-.4 .8-.3 .4-.2 1.1-.7 .3-.3 .8-.7 1.1-1.1 .3-.4 .8-1.1 .7-1.2 .4-.9 .1-.2 .5-1.1 .3-1.1 .2-1.2 0-.1 .2-1 .2-2.2-.1-1.1 0-1.2-.2-2.2 0-2.3 .1-1.1 .2-1.1 .1-1.1 0-1.1 .2-1.2 .4-2.2 .1-.2 .1-.9 .1-1.2-.2-1.1-.5-1.1-.7-.9-.2-.2-.9-.7-1-.4-.1-.1-1.1-.3-1.1-.1-1.1 .1-1.1 .4-1.2 .4-1.1 .6 0 .1-1.1 .7-.7 .4-.4 .3-1.1 .4-1.1 .2-1.1 0-1.2-.1-1.1-.2-1.1-.1-1.1-.2-2.2-.2-.9-.1-.2 0-1.2-.3-2.2-.6-.9-.2-.2-.1-1.1-.3-2.2-.4-2.3 0-2.2 .4-.9 .4-.2 0-1.1 .5-.9 .6-.3 .1-1.1 .9-1.2 1.2-.7 1.2-.2 1.1 .2 2.2 .2 1.2 .2 1.1 .3 1.1 .1 .8 .1 .3 .1 1.1 0 3.4 .1 1.1 .2 1.2 .3 1.1 .3 .9 .1 .2 .4 1.1 .6 1.1 0 .2 .7 1 .5 .6 .4 .5 .7 .5 .8 .6 .3 .2 1.1 .7 .5 .2 .6 .3 1.1 .5 1.1 .4 .1 0 1.1 .3 1.1 .4 1.1 .3 .2 .1 .9 .2 1.1 .4 1.1 .3 .5 .2 .7 .2 2.2 .8 .2 .1 .9 .4 1.1 .4zM228.6 57.9l1 .4 1.1 .2 2.2 0 2.2-.4 1.2-.4 1.1-.3 1.1-.5 .3-.1 .8-.4 1.1-.7 .2 0 .6-1.2-.7-1.1-.1 0-1.1-1 0-.1-1.1-.9-.2-.2-.9-.7-.6-.4-.5-.3-1.2-.6-.5-.3-.6-.3-1.1-.6-.8-.2-.3-.2-1.1-.1-1.1 .1-.7 .2-.4 .1-1.2 .5-.7 .5-.4 .3-.7 .9-.4 .6-.3 .5-.3 1.1 0 1.1 .3 1.1 .6 1.2 1.1 1.1 .8 .6 1.2 .5zM216.2 45.6l1.1 .2 1.1 .1 1.1-.1 1.2-.2 1.1-.5 1.1-.6 0-.1 1.1-.9 .2-.2 .8-1.1 .1-.2 .5-.9 .5-1.1 .1-.7 .2-.5 .2-2.2-.1-1.1-.1-1.2-.2-.7 0-.4-.3-1.1-.4-1.1-.4-.9-.1-.3-.6-1.1-.4-.7-.3-.4-.8-1-.1-.1-1-.9-.4-.2-.7-.5-1.2-.3-1.1-.2-1.1 .2-1.1 .3-.7 .5-.4 .2-1 .9-.1 .1-.8 1-.3 .4-.5 .7-.5 1.1-.2 .3-.3 .9-.4 1.1-.3 1.1-.1 .4-.1 .7-.2 1.2 0 2.2 .2 1.1 .1 .5 .2 .7 .4 1.1 .5 .9 .2 .2 .8 1.1 .2 .2 1.1 .9 1.1 .7z"/>
<path fill="#a6dcd4" fill-rule="evenodd" d="M273.2 82.6l1 .2 1.1 .2 1.1 .1 1.1-.1 1.1-.2 .6-.2 .5-.2 1.1-.5 1.2-.8 .8-.7 .3-.3 .7-.9 .4-.6 .3-.5 .6-1.1 .2-.7 .2-.4 .3-1.2 .2-1.1 .1-1.1 0-2.2-.2-1.2-.2-2.2 .1-1.1 .1-1.2 .3-1.1 .2-.9 0-.2 .3-1.1 .1-1.1 .3-1.2 .4-1.1 0-.1 .5-1 .3-1.1 .2-1.2-.2-1.1-.7-1.1-.1-.1-1.1-.8-.7-.2-.4-.2-1.1 0-1.1 .2-.1 0-1 .4-1 .7-.2 .1-.9 1-.2 .2-.8 .9-.3 .4-1 .8-.1 0-1.1 .5-1.1 .3-1.1 .2-1.2 0-1.1 .1-1.1 0-3.3-.3-1.1-.3-1.2-.6-1.1-.8-.3-.3-.8-.5-.9-.6-.2-.1-1.1-.6-1.1-.4-.1 0-1-.3-1.2-.1-1.1 0-1.1 .1-.9 .3-.2 .1-1.1 .4-.9 .6-.2 .2-1 .9-.2 .2-.6 1-.3 1.1-.1 1.1 .1 1.1 .3 1.2 .5 1.1 .1 .3 .4 .8 .3 1.1 0 1.1-.1 1.2 0 2.2 .3 1.1 .3 .8 .1 .4 .5 1.1 .5 .7 .3 .4 1.1 1.1 .8 .7 .7 .4 .4 .4 1.1 .6 .6 .2 .6 .3 2.2 .8 .1 0 1 .4 1.1 .4 .7 .3 .4 .2 1.1 .6 1.2 .6 1.1 .6 .4 .3 .7 .3 1.1 .5 .5 .3 .6 .2 1.1 .5 1.1 .4zM228.5 56.8l1.1 .4 1.1 .3 1.1 .1 1.1-.1 1.1-.3 1.1-.4 .1 0 1.1-.6 .8-.5 .3-.5 .4-.7 .1-1.1-.5-1-.1-.1-.8-1.1-.2-.2-1.2-.9-1.1-.7-1.1-.4-.1-.1-1-.3-1.1 0-1.1 .2-.4 .1-.7 .3-1.2 .7-.1 .2-.9 1.1-.1 .3-.3 .8 0 1.1 .3 1.1 0 .1 .7 1.1 .4 .3zM215.9 42.2l.3 .2 1.1 .4 1.1 .2 1.1-.2 1.2-.4 .3-.2 .8-.7 .4-.4 .6-1.1 .1-.2 .3-1 .1-1.1-.1-1.1-.3-1.1-.6-1.2-.5-.6-.6-.5-.5-.5-1.2-.5-1.1-.1-1.1 .1-1.1 .5-.6 .5-.5 .5-.5 .6-.6 1.2-.3 1.1-.1 1.1 .1 1.1 .3 1 0 .1 .7 1.2 .4 .4z"/>
<path fill="#7ccabe" fill-rule="evenodd" d="M274.2 80.4l1.1 .2 1.1 0 1.1-.1 .4-.1 .7-.2 1.1-.5 .6-.5 .5-.3 1.2-1.2 .4-.7 .6-1.1 .1-.2 .3-1 .3-1.1 .1-1.1 0-1.1-.1-1.1-.2-1.2-.2-1.1-.1-1.1 0-1.1 .2-1.2 .8-2.2 .3-1.1 .2-1.1 .2-1.2 .4-.6 .2-.5 .8-1.1 .1-.2 .5-.9 .2-1.2-.3-1.1-.4-.4-1-.7-.1 0-1.1-.1-.6 .1-.5 .2-1.1 .8-.2 .1-.7 1.1-.3 .7-.2 .5-.7 1.1-.2 .2-1.1 .8-.3 .1-.8 .4-1.1 .5-.7 .2-.4 .2-1.1 .4-1.2 .2-1.1 .2-1.1 0-1.1-.1-2.2-.4-1.1-.3-.5-.2-.7-.3-1.1-.7 0-.1-.9-1.1-.2-.3-.6-.8-1.2-1.2-.4-.3-1.1-.6-.4-.2-.7-.2-1.2-.2-1.1-.1-1.1 .2-.9 .3-.2 .1-1.1 .6-.5 .4-.9 1.2-.5 1.1-.1 1.1 .2 1.1 .4 1.2 .3 .4 .4 .7 .5 1.1 .2 .9 0 .5-.1 .8-.2 1.2-.1 1.1 .1 1.1 .2 1.1 .1 .2 .3 1 .8 1.1 1 1.1 .1 .1 1.1 .8 .3 .2 .8 .5 1.2 .5 .5 .1 .6 .3 1.1 .3 2.2 .4 1.1 .1 .5 .1 .6 .1 1.2 .4 1.1 .5 .1 .1 1 .6 .7 .5 .4 .2 1.1 .7 .4 .2 .7 .4 1.1 .4zM228.2 55.7l.3 .2 1.1 .5 1.1 .3 1.1 .1 1.1-.1 1.1-.4 1.1-.6 .2 0 .9-1.2 .1-.1 .2-1-.2-.6-.2-.5-.8-1.1-.2-.2-1.1-.8-.2-.1-.9-.4-1.1-.3-1.1 0-1.1 .2-.9 .5-.2 .1-1.1 1-.1 .1-.4 1-.1 1.1 .4 1.1 .1 .2zM217.5 38.8l.9 .5 1-.5 .1-.5 .1-.6-.1-.1-1.1-.8-1.1 .8 0 .7z"/>
<path fill="#4faaa1" fill-rule="evenodd" d="M272.3 77l.7 .4 1.2 .4 1.1 .2 1.1 .1 1.1-.2 1.1-.5 .6-.4 1.1-1.1 .6-1.2 .4-1.1 .2-1.1 0-1.1-.2-1.1-.2-1.2-.3-.9 0-.2-.4-1.1-.3-1.1-.1-1.2 .2-1.1 .4-1.1 .1-1.1-1-.3-1.1 .3-1.1 .6-1.1 .4-.2 .1-.9 .3-1.1 .2-1.2 0-1.1-.2-1-.3-.1 0-1.1-.5-1.1-.4-.5-.2-.6-.3-1.1-.4-1.6-.4-.7-.3-1.1-.7-.3-.2-.7-1.1-.1-.2-.4-.9-.7-1.1-.1 0-1-.9-.4-.3-.7-.3-1.2-.3-1.1 0-1.1 .1-1.1 .5-1.1 1-.2 .2-.5 1.1-.2 1.1 .3 1.1 .6 1.2 .7 1.1 .4 .9 .1 .2 0 1.1-.1 .4-.2 .7-.2 1.2-.1 1.1 0 1.1 .3 1.1 .2 .5 .3 .7 .8 1 1.1 1.1 .2 .1 .9 .6 1.2 .5 1.1 .4 1.1 .3 1.1 .2 1.1 .1 4.5 0 .9 .1 .2 .1 1.1 .5 1 .6 .1 .1 1.1 .7zM229.5 55.7l.1 0 1.1 .3 1.1 .1 1.1-.2 .8-.2 .3-.2 1.1-1 0-.1 .3-1-.2-1.1-.1 0-.8-1.1-.3-.2-1.1-.6-1.1-.3-1.1 0-1.1 .3-1.1 .7-.1 .1-.6 1.1-.1 1.1 .5 1.1 .3 .4zM283.5 55.7l.7 .2 .3-.2 .7-1.2-1-.5-.8 .5z"/>
<path fill="#298b83" fill-rule="evenodd" d="M275.1 74.7l.2 .1 1.1 0 0-.1 1.1-.5 .5-.6 .5-1.1 0-1.1-.3-1.1-.7-1.4-1-.9-.1-.1-2.2-1-.1 0-1.1-.7-.3-.4-.8-.6-.5-.6-.6-.4-.9-.7-.2-.1-1.1-.7-.5-.3-.6-.3-1.1-.5-1.2-.3-2.2-.8-1-.3-.1-.1-1-1.1-.1-.3-.2-.8-.5-1.1-.4-.6-.5-.5-.6-.5-1.2-.4-1.1 0-1.1 .2-1.1 .7-.7 1.1-.2 1.1 .3 1.1 .8 1.2 .9 1.1 0 .2 .2 .9-.2 1.1-.4 1.1-.3 1.2-.1 1.1 0 1.1 .3 1.1 .5 .9 .1 .3 1 1.1 1.1 .8 .5 .3 .7 .4 1.1 .4 1.1 .2 .6 .1 .5 .1 1.1 .1 1.1 0 1.1-.1 .5-.1 .7-.1 3.3-.6 1.1-.1 1.1 .3 1 .5 .1 .1 1.2 .7zM229.1 54.5l.5 .4 1.1 .5 1.1 0 1.1-.2 1.1-.7 .5-1.1-.2-1.1-.3-.3-.9-.8-.2-.1-1.1-.4-1.1 0-1.1 .4-.1 .1-.9 1.1-.1 1.1z"/>
<path fill="#0a6f67" fill-rule="evenodd" d="M259.4 72.5l.3 .1 1.1 .3 1.1 .2 2.2 0 1.1-.2 1.2-.2 .6-.2 .5-.2 1.1-.5 .8-.4 .3-.2 1-.9 .1-.3 .5-.9 .1-1.1-.3-1.1-.3-.5-.3-.6-.8-1.1-.1-.1-1-.9-.3-.2-.8-.5-1.1-.5-.2-.1-1-.4-2.2-.6-.7-.1-.4-.1-1.1-.4-1.1-.5-.4-.1-.2-1.2 0-1.1-.4-1.1-.1-.2-1.2-.7-1.1-.1-1.1 .5-.5 .5-.3 1.1 .5 1.1 .3 .4 1 .8 .1 .1 .8 1-.3 1.1-.5 .8-.1 .3-.5 1.1-.4 1.2-.1 .8 0 1.4 .3 1.1 .7 1.2 1.2 1.2zM230.5 54.5l.2 .1 1.1 .1 .7-.2 .4-.2 .6-.9-.3-1.1-.3-.3-1.1-.5-1.1 0-1.1 .7-.1 .1-.1 1.1 .2 .3z"/>
<path fill="#01554b" fill-rule="evenodd" d="M258.5 71.4l.1 0 1.1 .5 1.1 .4 2.2 .2 1.1-.1 1.1-.2 1.2-.3 1.1-.5 1.1-.8 .4-.3 .7-1.2 .3-1.1-.2-1.1-.1-.2-.4-.9-.7-.9-.2-.3-.9-.7-.6-.4-.5-.3-1.2-.4-1.1-.4-1.1-.3-2.2-.2-1.1 0-1.1 .4-.2 .1-1 .9-.1 .2-.7 1.1-.3 .7-.2 .5-.2 1.1 .1 1.1 .3 1.1 .8 1.2 .3 .3zM230.7 53.4l1.1 .2 .2-.2-.2-.6z"/>
<path fill="#003c30" fill-rule="evenodd" d="M260.1 71.4l.7 .2 1.1 .2 2.2 0 1.1-.3 .4-.1 .8-.3 1.1-.7 .1-.1 .9-1.2 .1-.2 .3-.9-.2-1.1-.1-.4-.4-.7-.7-.9-.3-.3-.8-.5-1-.6-.2 0-1.1-.4-2.2-.4-1.1 0-1.1 .3-1.1 .5 0 .1-1 1-.2 .3-.4 .9-.2 1.1 0 1.1 .4 1.1 .2 .3 .8 .9 .4 .3 1.1 .6z"/>
<path fill="#f6eac9" fill-rule="evenodd" d="M261.6 97.2l.3 .1 1.1 .4 1.1 .3 1.1 .1 1.2 0 1.1-.2 1.1-.3 .9-.4 .2-.1 1.1-.9 .2-.1 .7-1.1 .2-1.1 0-.2-.1-1-.6-1.1-.4-.5-.6-.6-.5-.4-1.1-.7-.1-.1-1-.4-1.1-.3-1.2-.2-1.1 0-1.1 .1-1.1 .2-1.1 .5-.3 .1-.8 .6-.7 .6-.4 .7-.3 .4-.3 1.1 .2 1.1 .4 .8 .1 .4 1.1 1.1 1 .7zM297.9 54.5l.8 .2 1.1-.1 .1-.1 1-.2 1.1-.5 .6-.4 .5-.5 .5-.6 .5-1.1 .1-.8 .1-.3-.1-.4-.1-.8-.4-1.1-1.1-1.1-.6-.5-1.1-.5-.6-.1-.5-.2-1.1-.1-1.1 .1-.5 .2-.7 .1-1.1 .6-.5 .4-.6 .7-.3 .4-.4 1.1-.1 1.2 .3 1.1 .5 1 0 .1 1.1 1.1 0 .1 1.1 .7 1.2 .3z"/>
<path fill="#ebd6a2" fill-rule="evenodd" d="M297.3 52.3l.3 .1 1.1 .2 1.1-.1 .4-.2 .7-.5 .6-.6 .3-1.1-.3-1.2-.6-.6-.7-.5-.4-.2-1.1-.2-1.1 .2-.4 .2-.8 .5-.5 .6-.2 1.2 .3 1.1 .4 .5z"/>
</g>
<path fill="#222" d="M209.3 26.8h1v1h-1zM209.3 29.6h1v1h-1zM209.3 32.4h1v1h-1zM209.3 35.2h1v1h-1zM209.3 38.0h1v1h-1zM209.3 40.9h1v1h-1zM209.3 43.7h1v1h-1zM209.3 46.5h1v1h-1zM212.1 26.8h1v1h-1zM212.1 29.6h1v1h-1zM212.1 32.4h1v1h-1zM212.1 35.2h1v1h-1zM212.1 38.0h1v1h-1zM212.1 40.9h1v1h-1zM212.1 43.7h1v1h-1zM212.1 46.5h1v1h-1zM214.9 26.8h1v1h-1zM214.9 29.6h1v1h-1zM214.9 38.0h1v1h-1zM214.9 40.9h1v1h-1zM214.9 43.7h1v1h-1zM214.9 46.5h1v1h-1zM217.7 26.8h1v1h-1zM217.7 29.6h1v1h-1zM217.7 32.4h1v1h-1zM217.7 35.2h1v1h-1zM217.7 38.0h1v1h-1zM217.7 46.5h1v1h-1zM220.4 26.8h1v1h-1zM220.4 29.6h1v1h-1zM220.4 32.4h1v1h-1zM220.4 35.2h1v1h-1zM220.4 38.0h1v1h-1zM220.4 40.9h1v1h-1zM220.4 43.7h1v1h-1zM220.4 46.5h1v1h-1zM223.2 26.8h1v1h-1zM223.2 29.6h1v1h-1zM223.2 32.4h1v1h-1zM223.2 38.0h1v1h-1zM223.2 40.9h1v1h-1zM223.2 43.7h1v1h-1zM223.2 46.5h1v1h-1zM226.0 26.8h1v1h-1zM226.0 29.6h1v1h-1zM226.0 32.4h1v1h-1zM226.0 35.2h1v1h-1zM226.0 38.0h1v1h-1zM226.0 40.9h1v1h-1zM226.0 43.7h1v1h-1zM226.0 46.5h1v1h-1zM228.8 40.9h1v1h-1zM228.8 60.5h1v1h-1zM234.4 60.5h1v1h-1zM234.4 85.8h1v1h-1zM237.2 60.5h1v1h-1zM237.2 85.8h1v1h-1zM239.9 38.0h1v1h-1zM242.7 38.0h1v1h-1zM242.7 63.3h1v1h-1zM242.7 66.1h1v1h-1zM242.7 68.9h1v1h-1zM242.7 71.7h1v1h-1zM242.7 77.3h1v1h-1zM242.7 85.8h1v1h-1zM245.5 38.0h1v1h-1zM245.5 63.3h1v1h-1zM245.5 68.9h1v1h-1zM245.5 71.7h1v1h-1zM248.3 38.0h1v1h-1zM248.3 63.3h1v1h-1zM248.3 66.1h1v1h-1zM248.3 68.9h1v1h-1zM248.3 71.7h1v1h-1zM248.3 74.5h1v1h-1zM248.3 77.3h1v1h-1zM251.1 63.3h1v1h-1zM251.1 66.1h1v1h-1zM251.1 68.9h1v1h-1zM251.1 74.5h1v1h-1zM251.1 77.3h1v1h-1zM256.7 66.1h1v1h-1zM259.4 66.1h1v1h-1zM262.2 66.1h1v1h-1zM265.0 46.5h1v1h-1zM267.8 74.5h1v1h-1zM267.8 77.3h1v1h-1zM267.8 80.1h1v1h-1zM270.6 32.4h1v1h-1zM270.6 74.5h1v1h-1zM270.6 77.3h1v1h-1zM273.4 32.4h1v1h-1zM273.4 77.3h1v1h-1zM273.4 80.1h1v1h-1zM276.2 74.5h1v1h-1zM276.2 77.3h1v1h-1zM276.2 80.1h1v1h-1zM278.9 32.4h1v1h-1zM278.9 74.5h1v1h-1zM278.9 77.3h1v1h-1zM278.9 80.1h1v1h-1zM281.7 52.1h1v1h-1zM281.7 60.5h1v1h-1zM281.7 77.3h1v1h-1zM281.7 80.1h1v1h-1zM284.5 32.4h1v1h-1zM284.5 52.1h1v1h-1zM284.5 54.9h1v1h-1zM284.5 57.7h1v1h-1zM284.5 60.5h1v1h-1zM284.5 80.1h1v1h-1zM287.3 21.2h1v1h-1zM287.3 26.8h1v1h-1zM287.3 32.4h1v1h-1zM287.3 54.9h1v1h-1zM287.3 60.5h1v1h-1zM287.3 99.8h1v1h-1zM290.1 21.2h1v1h-1zM290.1 26.8h1v1h-1zM292.9 21.2h1v1h-1zM292.9 26.8h1v1h-1zM295.7 99.8h1v1h-1zM298.4 21.2h1v1h-1zM298.4 24.0h1v1h-1zM298.4 99.8h1v1h-1zM301.2 24.0h1v1h-1zM301.2 26.8h1v1h-1z"/>
<path fill="none" stroke="#000" stroke-width="0.75" stroke-linejoin="round" d="M235.26,22.21 L235.93,22.10 L236.93,22.89 L238.60,22.78 L239.60,23.00 L240.50,22.33 L241.83,22.10 L243.50,21.32 L245.40,21.09 L247.74,21.20 L250.19,20.87 L251.42,20.98 L252.75,20.53 L253.31,20.87 L254.09,20.76 L253.42,21.43 L253.65,22.10 L254.20,22.89 L253.53,23.67 L253.09,24.35 L254.20,25.02 L255.21,25.47 L256.54,25.47 L258.77,26.14 L259.33,27.15 L261.34,27.71 L263.01,28.39 L264.23,27.60 L264.12,26.37 L265.79,25.58 L267.69,25.92 L269.92,26.93 L271.92,27.27 L274.15,27.71 L275.82,27.04 L277.83,27.27 L278.16,28.73 L278.16,28.84 L278.83,30.41 L279.72,32.09 L280.84,34.34 L281.51,35.57 L282.96,37.70 L283.29,39.95 L283.62,41.52 L284.63,42.31 L285.52,44.44 L286.41,45.45 L287.75,46.69 L288.97,48.03 L290.09,48.93 L289.75,49.49 L291.43,50.73 L293.77,50.28 L295.33,49.83 L297.22,49.49 L298.89,49.04 L298.78,50.73 L298.34,52.30 L297.11,54.77 L296.00,56.79 L294.77,58.47 L293.43,59.93 L291.76,61.17 L289.87,62.74 L288.42,64.08 L287.41,64.98 L286.52,65.99 L285.52,67.68 L285.07,69.70 L285.85,70.82 L285.63,71.94 L286.19,73.62 L286.97,74.52 L287.08,76.43 L286.97,78.68 L286.41,80.36 L283.62,82.16 L282.40,83.28 L281.17,84.63 L281.06,86.53 L281.40,87.66 L281.40,89.34 L279.72,90.35 L278.39,91.36 L278.50,92.60 L278.16,94.39 L277.50,94.95 L276.38,95.96 L275.38,97.42 L274.04,98.66 L272.48,99.67 L270.81,100.34 L269.92,100.56 L268.13,100.45 L266.91,100.56 L265.24,101.01 L264.12,101.46 L263.23,101.13 L262.34,100.68 L262.23,99.78 L261.78,99.11 L262.12,97.98 L261.11,96.52 L260.11,94.50 L258.88,93.04 L258.33,91.02 L257.88,88.22 L257.77,87.32 L256.77,85.86 L255.88,83.73 L254.98,81.82 L254.87,80.36 L255.43,78.56 L256.21,76.99 L256.99,75.87 L257.10,74.41 L256.43,73.18 L256.10,71.72 L255.54,69.25 L255.43,68.91 L255.10,68.01 L254.20,66.78 L252.87,65.66 L252.20,64.53 L251.64,63.30 L252.20,62.06 L252.53,61.28 L252.75,59.82 L252.87,58.92 L252.31,58.02 L251.75,57.46 L251.31,57.24 L250.19,57.46 L249.30,57.57 L248.41,57.57 L247.41,56.11 L246.74,55.33 L245.62,55.22 L244.84,55.33 L243.95,55.55 L243.06,55.78 L241.28,56.45 L239.72,57.12 L238.16,56.68 L236.71,56.56 L235.26,56.79 L233.47,57.46 L232.47,57.12 L231.47,56.45 L229.80,55.44 L229.13,54.65 L228.01,54.21 L227.12,53.20 L227.12,52.30 L226.57,51.74 L225.56,50.95 L225.01,50.16 L224.00,49.49 L223.22,48.48 L223.11,47.47 L223.00,46.69 L222.66,46.01 L222.33,45.90 L223.00,45.34 L223.44,44.22 L223.89,42.08 L223.67,40.96 L223.67,39.95 L223.00,38.83 L222.89,38.38 L223.67,36.92 L224.00,35.80 L224.67,35.01 L225.34,34.11 L225.79,32.88 L227.01,31.42 L227.79,30.97 L228.79,30.75 L229.69,30.07 L230.69,29.17 L231.13,28.16 L230.91,27.38 L231.47,25.81 L232.25,25.02 L233.36,24.57 L234.14,24.12 L234.92,22.89 L235.26,22.21Z M296.78,75.87 L297.44,77.22 L297.89,79.24 L298.11,80.14 L297.44,80.81 L297.11,82.38 L296.66,84.29 L296.00,86.31 L295.22,88.44 L294.32,90.35 L292.65,91.14 L291.43,90.69 L290.65,89.68 L290.42,88.44 L290.09,87.09 L290.65,85.97 L291.31,84.96 L291.09,83.50 L290.87,82.16 L291.31,80.92 L292.09,80.36 L293.43,80.02 L294.44,79.24 L295.10,78.12 L295.88,77.44 L296.78,75.87Z M309.26,34.00 L307.14,33.66 L305.69,33.44 L305.13,32.09 L304.35,31.87 L302.79,32.65 L301.46,32.32 L300.23,31.42 L299.12,31.08 L297.78,28.84 L297.00,28.61 L296.00,28.84 L295.33,28.84 L295.22,29.85 L295.77,30.41 L296.22,31.31 L297.11,32.20 L297.67,32.88 L297.78,33.66 L298.22,34.45 L298.78,34.79 L299.12,34.00 L299.34,33.44 L299.34,34.90 L299.78,35.57 L301.34,35.35 L302.68,35.12 L303.69,33.89 L304.35,33.10 L304.69,32.77 L304.69,34.45 L305.25,35.24 L306.47,35.80 L307.25,35.91 L308.03,36.92 L308.48,37.37 L307.92,38.38 L307.03,39.50 L306.25,39.73 L306.14,41.07 L304.91,41.52 L303.80,42.87 L303.46,43.09 L302.90,43.32 L301.01,43.65 L300.01,44.89 L297.11,45.90 L296.11,46.69 L295.22,46.69 L293.54,47.36 L292.65,47.47 L291.98,48.03 L290.87,48.26 L290.31,48.26 L289.98,47.58 L289.64,45.79 L289.31,44.78 L289.53,44.10 L288.97,43.21 L288.42,42.42 L287.75,41.41 L287.41,40.51 L286.63,39.73 L286.19,39.61 L285.41,38.49 L285.30,37.03 L284.74,35.80 L284.18,35.35 L283.62,35.12 L283.29,34.23 L282.96,33.66 L282.62,33.22 L282.18,32.54 L281.51,31.64 L280.95,30.86 L280.39,30.86 L280.62,29.85 L280.78,29.40 L280.39,30.30 L279.95,31.19 L279.61,30.97 L279.28,30.52 L278.72,29.85 L278.16,28.84 M277.83,27.27 L279.95,27.27 L280.39,26.70 L280.84,25.58 L281.40,24.35 L281.84,23.45 L281.73,22.21 L282.18,21.32 L281.40,21.32 L280.50,21.09 L279.72,21.77 L278.05,21.88 L277.16,21.32 L275.94,21.20 L274.93,21.88 L273.82,21.20 L272.59,20.87 L271.92,20.08 L271.25,19.52 L271.70,18.62 L271.03,18.06 L271.25,17.28 L271.59,16.94 M267.02,16.83 L267.24,17.50 L267.02,18.06 L267.80,18.40 L267.02,18.85 L268.02,19.41 L268.58,19.52 L267.58,19.86 L267.24,20.53 L267.58,21.43 L266.91,21.54 L266.02,21.09 L265.57,20.19 L265.35,19.41 L266.24,19.30 L265.35,19.18 L264.90,18.62 L264.35,17.95 L263.79,17.50 L263.45,16.83 M262.45,17.28 L262.34,17.72 L261.00,17.05 L260.67,16.94 L260.22,17.72 L260.89,18.17 L261.00,18.73 L260.33,18.85 L259.78,19.75 L259.33,19.86 L259.33,19.52 L259.55,18.85 L259.33,18.06 L258.88,17.50 L258.44,17.16 M252.75,16.94 L252.64,18.40 L252.09,18.40 L251.64,18.73 L251.19,18.40 L251.19,17.05 L250.97,16.83 M231.25,16.94 L231.80,17.72 L231.36,18.62 L231.91,19.18 L232.03,19.86 L231.91,20.87 L233.03,20.87 L233.59,20.64 L234.59,20.98 L234.92,21.54 L235.59,21.99 L236.37,21.43 L236.93,21.20 L238.04,21.20 L239.49,21.20 L240.05,20.64 L241.05,20.19 L241.05,19.30 L241.94,18.85 L241.50,18.29 L241.94,17.61 L242.39,17.05 L242.72,16.71 M268.02,22.78 L268.80,22.66 L269.69,22.66 L270.59,22.78 L271.14,22.89 L270.92,23.11 L269.36,23.22 L268.02,22.78Z M277.83,23.11 L278.61,22.66 L279.72,22.55 L280.39,22.33 L279.61,23.00 L278.61,23.56 L277.94,23.45 L277.83,23.11Z M255.65,19.63 L256.77,19.52 L259.11,19.41 L258.66,20.53 L258.66,21.20 L257.77,20.87 L255.76,20.19 L255.65,19.63Z M244.51,17.95 L245.29,17.61 L245.62,17.95 L245.18,18.29 L244.51,17.95Z"/>
<path fill="none" stroke="#ec2592" stroke-width="0.95" stroke-linejoin="round" d="M224.89,46.91 L225.90,44.10 L227.35,42.76 L229.69,42.31 L232.03,43.21 L234.92,44.66 L237.71,45.56 L240.50,45.79 L243.84,47.47 L246.07,47.92 L247.85,48.93 L250.64,50.84 L253.42,51.74 L256.32,50.84 L259.11,49.94 L261.45,51.29 L263.79,53.64 L265.68,55.55 L269.47,56.00 L273.15,56.23 L275.04,55.78 L276.83,53.53 L278.72,49.83 L280.62,47.47 L282.51,46.01 L284.41,46.57 L286.30,48.82 L288.19,50.73 L289.53,52.63 L290.98,53.98 L292.87,53.53 L294.77,54.43 L295.22,55.78 L293.77,56.79 L291.87,56.34 L290.09,56.79 L287.19,57.69 L283.40,58.25 L280.62,59.14 L279.17,61.05 L278.72,63.30 L280.17,64.31 L282.06,62.96 L283.40,63.30 L284.41,64.65 L285.30,66.55 L286.19,68.46 L286.63,71.38 L287.30,73.62 L287.86,75.42 L288.31,79.24 L286.41,82.04 L283.07,84.40 L281.17,86.65 L280.28,89.45 L279.39,92.37 L277.94,95.18 L275.60,97.87 L271.81,100.23 L268.02,101.69 L263.68,101.35 L265.24,100.23 L268.02,97.87 L269.92,96.97 L271.81,95.18 L272.26,92.71 L270.92,90.46 L268.02,88.55 L265.24,86.20 L260.56,83.05 L257.99,78.68 L256.88,74.19 L256.10,70.26 L254.43,66.33 L252.98,63.86 L251.64,61.05 L251.08,58.81 L250.19,56.90 L247.85,55.55 L245.18,54.88 L242.39,55.44 L239.60,55.78 L236.71,56.79 L234.37,57.69 L232.03,57.69 L229.13,55.44 L227.35,52.63 L225.45,49.72 L224.89,46.91Z M266.91,80.36 L266.63,79.87 L265.86,79.48 L264.74,79.27 L263.50,79.27 L262.39,79.48 L261.61,79.87 L261.34,80.36 L261.61,80.85 L262.39,81.24 L263.50,81.45 L264.74,81.45 L265.86,81.24 L266.63,80.85 L266.91,80.36Z M266.80,75.31 L266.57,74.75 L266.02,74.52 L265.47,74.75 L265.24,75.31 L265.47,75.86 L266.02,76.09 L266.57,75.86 L266.80,75.31Z M235.59,50.05 L235.36,49.50 L234.81,49.27 L234.26,49.50 L234.03,50.05 L234.26,50.61 L234.81,50.84 L235.36,50.61 L235.59,50.05Z M274.38,18.29 L274.08,17.57 L273.37,17.28 L272.66,17.57 L272.37,18.29 L272.66,19.00 L273.37,19.30 L274.08,19.00 L274.38,18.29Z M296.89,76.54 L297.78,79.24 L297.00,82.61 L296.00,85.97 L295.44,86.20 L296.22,82.61 L296.89,79.24 L296.33,76.99 L296.89,76.54Z"/>
</g>
<rect x="208.40" y="17.50" width="100.30" height="89.80" fill="none" stroke="#000" stroke-width="0.8"/>
<path stroke="#333" stroke-width="0.75" d="M208.40,17.50h-2.8M208.40,39.95h-2.8M208.40,62.40h-2.8M208.40,84.85h-2.8M208.40,107.30h-2.8M219.54,107.30v2.4M241.83,107.30v2.4M264.12,107.30v2.4M286.41,107.30v2.4M308.70,107.30v2.4"/>
<text x="185.23" y="19.95" style="font-size:7.20px" textLength="9.23" lengthAdjust="spacingAndGlyphs">40</text><text x="195.14" y="18.87" style="font-size:5.18px">°</text><text x="198.08" y="19.95" style="font-size:7.20px" textLength="5.42" lengthAdjust="spacingAndGlyphs">N</text>
<text x="185.23" y="42.40" style="font-size:7.20px" textLength="9.23" lengthAdjust="spacingAndGlyphs">20</text><text x="195.14" y="41.32" style="font-size:5.18px">°</text><text x="198.08" y="42.40" style="font-size:7.20px" textLength="5.42" lengthAdjust="spacingAndGlyphs">N</text>
<text x="195.26" y="64.85" style="font-size:7.20px" textLength="4.61" lengthAdjust="spacingAndGlyphs">0</text><text x="200.56" y="63.77" style="font-size:5.18px">°</text>
<text x="186.05" y="87.30" style="font-size:7.20px" textLength="9.23" lengthAdjust="spacingAndGlyphs">20</text><text x="195.96" y="86.22" style="font-size:5.18px">°</text><text x="198.90" y="87.30" style="font-size:7.20px" textLength="4.60" lengthAdjust="spacingAndGlyphs">S</text>
<text x="186.05" y="109.75" style="font-size:7.20px" textLength="9.23" lengthAdjust="spacingAndGlyphs">40</text><text x="195.96" y="108.67" style="font-size:5.18px">°</text><text x="198.90" y="109.75" style="font-size:7.20px" textLength="4.60" lengthAdjust="spacingAndGlyphs">S</text>
<text x="209.53" y="117.60" style="font-size:7.20px" textLength="9.23" lengthAdjust="spacingAndGlyphs">20</text><text x="219.45" y="116.52" style="font-size:5.18px">°</text><text x="222.39" y="117.60" style="font-size:7.20px" textLength="7.17" lengthAdjust="spacingAndGlyphs">W</text>
<text x="237.71" y="117.60" style="font-size:7.20px" textLength="4.61" lengthAdjust="spacingAndGlyphs">0</text><text x="243.01" y="116.52" style="font-size:5.18px">°</text>
<text x="255.41" y="117.60" style="font-size:7.20px" textLength="9.23" lengthAdjust="spacingAndGlyphs">20</text><text x="265.32" y="116.52" style="font-size:5.18px">°</text><text x="268.26" y="117.60" style="font-size:7.20px" textLength="4.58" lengthAdjust="spacingAndGlyphs">E</text>
<text x="277.70" y="117.60" style="font-size:7.20px" textLength="9.23" lengthAdjust="spacingAndGlyphs">40</text><text x="287.61" y="116.52" style="font-size:5.18px">°</text><text x="290.55" y="117.60" style="font-size:7.20px" textLength="4.58" lengthAdjust="spacingAndGlyphs">E</text>
<text x="299.98" y="117.60" style="font-size:7.20px" textLength="9.23" lengthAdjust="spacingAndGlyphs">60</text><text x="309.90" y="116.52" style="font-size:5.18px">°</text><text x="312.83" y="117.60" style="font-size:7.20px" textLength="4.58" lengthAdjust="spacingAndGlyphs">E</text>
<text x="207.90" y="12.00" style="font-size:12.10px" textLength="17.16" lengthAdjust="spacingAndGlyphs">(b)</text><text x="228.20" y="12.00" style="font-size:12.10px" textLength="8.29" lengthAdjust="spacingAndGlyphs">Δ</text><text x="237.30" y="12.00" style="font-size:12.10px;font-style:italic" textLength="7.66" lengthAdjust="spacingAndGlyphs">E</text>
<clipPath id="cpc"><rect x="117.50" y="143.40" width="100.00" height="91.00"/></clipPath>
<g clip-path="url(#cpc)">
<rect x="117.50" y="143.40" width="100.00" height="91.00" fill="#f5f1e6"/>
<g filter="url(#bl)">
<rect x="114.50" y="140.40" width="106.00" height="97.00" fill="#f5f1e6"/>
<path fill="#e7f2f0" fill-rule="evenodd" d="M115.3 236.7l13.4 0 1-.6 .7-.6 1.1-1.1 .4-.8 .3-.3 .4-1.2 .1-1.1 0-1.2-.4-1.1-.4-.7-.3-.4-.8-.8-.7-.4-.4-.1-1.1-.4-3.3-.3-3.4 0-1.1 .1-2.2 .4-1.1 .3-1.1 .4-1.1 .6zM157.8 229.8l.8 .1 3.3 .3 1.2 .1 1.1 .1 1.1 0 1.1 .1 2.2 0 1.1 .1 4.5 0 1.1-.1 2.2 0 4.4-.4 1.2-.1 1.1-.1 .1-.1 1-.1 6.6-1.2 1.2-.2 1.1-.1 1.1 0 1.1-.1 3.3 0 2.2-.2 1.8-.3 .5-.1 1.1-.3 1.1-.5 .6-.3 .5-.2 1.1-.7 .3-.2 .8-.6 .6-.5 .5-.6 .6-.6 .5-.7 .4-.4 .7-1.1 .1-.1 .6-1.1 .5-.9 .1-.2 .5-1.2 .4-1.1 .1-.2 .3-.9 .3-1.2 .2-1.1 .1-1.2 0-2.2-.2-1.2-.1-1.1-.4-1.1-.3-1.2-.5-1.1-.5-.9-.2-.2-.7-1.2-.2-.3-2-2-.3-.2-1.1-.7-.2-.2-.9-.5-1.1-.5-.3-.1-.8-.4-1.1-.4-1.1-.2-.7-.2-1.6-.4-1.1-.6 0-.1-.9-1.2-.2-.1-.6-1-.5-.5-.5-.6-.6-.6-.5-.6-.6-.5-1.1-1.1-.8-.6-.3-.4-1.1-.8-1.2-.6-1.1-.3-1.1-.1-1.1 .1-3.3 .9-1.1 .4-1.1 .3-1.2 .3-.7 .2-.4 .1-1.1 .2-1.1 .1-1.1 0-1.1-.1-1.1-.3-.3 0-.8-.2-1.1-.1-1.2 0-2.2 .2-.1 .1-1 .1-3.3 .6-2.2 .2-1.2 .1-1.1 0-2.2-.2-1.1 0-2.2-.2-1.1 0-1.1 .1-1.2 .2-.4 .2-.7 .3-1.1 .6-.3 .2-.8 .7-1.6 1.6-.6 .8-.3 .3-.8 .9-.3 .3-.8 .7-.6 .4-.5 .3-1.2 .5-.9 .4-.2 0-3.3 .6-4.4 .4-.9 .1-.3 0-2.2 .4-1.1 .3-1.1 .4-.1 0-1 .9-.3 .3 .3 1 0 .1 1.1 .9 .3 .3 .8 .4 1.1 .7 .1 0 1 .5 1.1 .6 .1 0 2.2 1 .3 .2 .8 .3 1.1 .5 .8 .3 .3 .2 2.2 .8 .6 .1 .5 .3 1.1 .4 1.2 .2 1.1 .3 1.1 .6 1.1 .4 .6 .1-.6 .2-3.3 .9 0 .1-1.2 .2-1.1 .3-1.1 .5 0 .1-1.1 .4-1.1 .6-.1 .1-1 .6-.9 .6-.2 .1-1.1 .8-.4 .2-.7 .6-.7 .5-.5 .4-1.1 1.1-.7 .8-.4 .9-.2 .3-.1 1.1 .3 .9 .1 .2 1 1.5 1.1 .8 .1 0 1.1 .6 1.1 .2 1.1 .3 .4 0 .7 .2 1.1 .2 1.1 .3 2.2 .4 .7 .1 .4 .1 1.2 .2 1.1 .2 1.1 .1 2.2 .4 1 .1 .1 0 1.1 .2 1.1 .1 1.1 .2 1.2 .1 1.1 .1 1.1 .2 2.2 .2zM181.9 224.3l-.5-.1-.6-.1-3.3-.6-1.1-.3-.4-.2-.7-.2-1.1-.3-1.1-.4-.6-.2-.6-.3-1.1-.5-.6-.3-.5-.3-1.1-.8-.1-.1-1-.8-.4-.3-1.4-1.2-.4-.3-1.1-.8-.1 0-1-.6-.9-.5-.3-.2-1.1-.6-.7-.4-.4-.4-.9-.7 .9-.4 1.1-.4 1.1-.3 .1-.1 3.3-.3 3.3-.6 .9-.2 .2 0 1.1-.2 1.1-.3 1.2-.3 1-.3 .1 0 1.1-.4 1.1-.3 1.1-.4 .2-.1 .9-.3 2.2-.8 1.1-.5 1.2-.5 .4-.1 .7-.4 1.1-.7 .1-.1 1-.8 .4-.3 .7-.8 .4-.3 .7-.6 1.1-.3 1 .9-.2 1.1-.1 1.1 .2 1.2 .2 .6 .1 .5 .5 1.1 .6 1.2 .6 1.1 .5 .8 .1 .3 .5 1.2 .4 1.1 .1 .3 .2 .9 .2 2.2-.1 1.2-.1 1.1-.3 1.2-.6 1.1-.4 .8-.4 .3-.8 .7-1.1 .5-1.1 .3-1.1 .2-3.3 0-1.1-.1-1.1-.2zM118.5 193.4l.1 .1 2.2 .4 1.1 .1 1.2 0 1.1-.2 1.1-.3 0-.1 1.1-.4 .7-.7 .4-.3 .5-.8 .6-.7 .2-.5 .8-1.1 .1-.1 .7-1 .4-.5 .6-.7 .5-.6 .6-.5 .6-.6 .6-.5 .5-.6 .7-.6 .4-.5 .6-.6 .5-1.2 0-1.2-.3-1-.8-1.1-.1-.1-1-.9-.3-.2-.8-.5-1.2-.5-.3-.2-.8-.3-2.2-.6-.7-.2-.4-.1-2.2-.4-2.2-.2-2.3 0-1.1 .1-2.2 .4-.8 .2-.3 .1-1.1 .3 0 17.9 1.1 .5 1.1 .3zM143.1 175.4l1.1 .2 1.1 .1 2.2 0 1.1-.2 1-.3 .1 0 1.1-.4 1.1-.5 .4-.2 .8-.5 .8-.6 .3-.4 .7-.8 .4-.7 .4-.4 .7-.6 1.1-.2 2.2 0 2.2 .2 1.2 .1 3.3 .3 1.1 0 2.2 .2 .2 0 .9 .1 1.1 .1 1.2 .1 4.4 .8 2.2 .6 1.1 .2 1.1 .3 1.2 .2 2.2 0 .6-.1 .5-.1 3.3-.9 1.1-.1 .5-.1 .6 0 1.2-.1 1.1 .1 .1 0 1 .1 2.2 .6 1.1 .4 .3 .1 .8 .3 1.1 .3 1.1 .1 1.2-.1 1.1-.3 .8-.3 .3-.1 2.2-1 0-.1 1.1-.5 1.1-.4 .4-.2 .7-.3 1.1-.4 1.2-.4 1.1-.5 1.1-.4 .6-.3 .5-.3 1.1-.7 .1-.1 1-1.1 0-.1 .5-1.1 .2-1.1-.1-1.2-.4-1.1-.2-.3-.5-.8-.6-.8-.4-.4-.7-.6-.6-.5-.5-.4-1.1-.7-.1-.1-1-.6-.8-.5-.4-.2-1.1-.8-.1-.1-1-1.1-.1-.1-.4-1.1-.2-1.1-.3-1.2-.1-.2-.4-.9-.7-.8-.4-.3-.7-.6-1-.6-.1 0-1.1-.5-1.1-.4-1.2-.3-1.1-.3-1.1-.2-3.3-.3-2.2 0-1.1 .1-1.2 .1-1.1 .1-1.1 .2-1.1 .3-.4 .1-.7 .2-1.1 .4-1.1 .5-.1 0-1 .6-.8 .6-.3 .4-.7 .7-.5 1 0 .1-.3 1.2-.3 1.1-.5 1 0 .1-1.1 1-.3 .2-.8 .4-1.1 .5-.7 .2-.4 .1-2.2 .6-1.1 .2-1.2 .2-.4 0-.7 .1-1.1 .2-2.2 .2-2.2 .4-1.1 .3-.1 0-1 .3-1.2 .3-1.1 .5-.1 0-1 .5-1 .7-.1 0-1.1 .9-.2 .2-.9 1-.1 .1-.7 1.2-.3 1-.1 .1-.2 1.2-.3 1.1-.5 .8-.9 .3-.2 .1-1.2 .1-1.1 .1-1.1 0-2.2 .2-3.3 .6-.1 .1-1 .4-1.2 .5-.4 .2-.7 .6-.5 .5-.4 1.2 .5 1.1 .4 .3 1.1 .6z"/>
<path fill="#ccebe7" fill-rule="evenodd" d="M119 234.4l.7 .3 1.1 .2 1.1 .1 1.2-.1 1.1-.2 .7-.3 .4-.2 1.1-.9 .4-1.2-.2-1.1-.2-.2-1.1-1-1.1-.4-1.1-.2-1.2-.1-1.1 .1-1.1 .3-.9 .3-.2 .2-1.1 1-.3 1.1 .3 1 .1 .2 1 .9zM202.6 220.8l.7 0 .9-.1 1.1-.3 1.1-.5 .6-.3 .5-.3 1-.8 .1-.1 1-1.1 .1-.2 .7-.9 .4-.9 .1-.2 .5-1.2 .3-1.1 .2-1.2 0-2.2-.2-1.2-.3-1.1-.5-1.1-.6-1.2-.6-.8-.2-.3-.9-.9-.3-.2-.8-.6-1-.6-.1 0-1.1-.5-1.1-.2-1.1-.1-1.2 .1-1.1 .2-1.1 .4-.2 .1-.9 .5-.9 .7-.2 .1-.9 1-.2 .3-.6 .8-.6 1.2-.4 1.1-.1 1.1 0 1.2 .6 2.2 0 .1 .3 1.1 .4 1.1 .4 1.2 .4 1.1 .5 1.1 .2 .4 .5 .8 .6 .6 .6 .5 .5 .4 1.1 .5 1.1 .2zM153.2 207.1l1 .2 1.1 .3 1.1 .1 1.1 .2 1.1 .1 4.5 0 1.1-.1 1.1 0 3.3-.3 1.1 0 1.1-.1 1.1-.2 1.2-.2 .1 0 1-.2 2.2-.6 .8-.3 .3-.2 1.1-.5 .7-.5 .4-.3 .9-.8 .2-.4 .6-.7 .5-1.2 0-.2 .4-.9 .5-1.2 .3-.2 1.1-.6 .9-.3 .2 0 1.1-.2 1.1-.1 2.2-.4 1.1-.3 .4-.1 .7-.3 1.2-.5 .5-.4 .6-.4 .7-.7 .4-.7 .2-.5 .2-1.1-.4-1.1 0-.1-.7-1.1-1.5-1.5-1.2-.7-.1 0-1-.5-1.1-.2-1.1-.1-1.1 .1-1.1 .2-1.1 .3-.5 .2-.6 .1-1.1 .4-1.2 .4-.5 .2-.6 .3-1.1 .5-.8 .3-.3 .2-1.1 .3-1.1-.2-.6-.3-.5-.2-1.1-.5-1.1-.4-.1 0-1.1-.2-1.1-.1-2.2 .2-.9 .1-.2 0-1.1 .3-3.3 .6-1.2 .1-1.1 .1-.4 0-.7 .1-2.2 .2-1.1 .2-1.1 .3-1 .4-.1 0-1.1 .6-.9 .5-.3 .2-1.1 .9-1.1 1.2-1 1.1-.1 .2-.8 1-1.4 1.4-1.1 .8-.1 0-1 .6-1.1 .5-1.2 .4-1.1 .4-1.1 .3-.6 .1-.5 .5-.6 .7 .6 .4 1.1 .7 1.1 .3 1.1 .2 1.2 .3 1.1 .2 .3 .1 .8 .2 1.1 .3 1.1 .2 1.1 .4 .4 .1 .7 .2 2.2 .6 1.2 .3zM118.4 190l.2 .1 1.1 .4 1.1 .2 1.1 .1 1.2 0 1.1-.2 1.1-.3 .5-.3 .6-.2 1.1-.8 1.2-1.2 1-1.1 .1-.1 .9-1.1 .1-.2 .8-.9 .3-.7 .4-.5 .4-1.1-.1-1.2-.4-1.1-.3-.3-.7-.8-.4-.4-1.1-.7-.1-.1-1-.5-1.1-.4-.8-.2-.3-.1-1.1-.3-2.2-.2-1.2 .1-1.1 .1-1.1 .2-.7 .2-.4 .1-1.1 .4-1.1 .5-.2 .1-.9 .6 0 10.3 .7 .5 .4 .3 1.1 .5z"/>
<path fill="#a6dcd4" fill-rule="evenodd" d="M201.9 217.3l1.2 .2 1.1-.1 .1-.1 1-.3 1.1-.6 1.3-1.3 .7-1.2 .2-.4 .3-.7 .3-1.2 0-1.1-.1-1.1-.2-1.2-.3-.7-.2-.4-.7-1.1-.2-.3-1-.9-.1-.1-1.1-.6-1.1-.4-.4 0-.7-.1-.8 .1-.4 0-1.1 .4-1.1 .6-.1 .1-1 .9-.2 .3-.7 1.1-.2 .6-.2 .5-.2 1.2 .1 1.1 .2 1.1 .1 .6 .2 .6 .5 1.1 .6 1.2 .9 1 .1 .1 1 .7zM156.4 206l1.1 .1 1.1 .2 1.1 0 1.1 .1 1.1-.1 1.2 0 3.3-.3 .7 0 .4-.1 3.3-.3 1.1-.2 1.2-.2 1.1-.3 .2-.1 .9-.3 1.1-.6 .3-.2 .8-.7 .4-.4 .6-1.2 .1-.7 .1-.4-.1-.8 0-.4-.3-1.1-.6-1.1-.6-1.2-.7-.9-.2-.2-.8-1.2-.1-.1-.8-1-1.4-1.4-1.8-.9-.5-.1-1.1-.1-2.2 .2-.2 0-.9 .3-1.1 .2-2.2 .6-1.2 .2-1.1 .2-1.1 .1-1.1 .2-1.1 .3-.8 .2-.3 .1-1.1 .4-1.1 .6-.1 0-1.5 1.2-1.1 1.1-.7 1-.1 .2-.8 1.1-.2 .3-.5 .8-.6 1.2-.3 1.1 .3 1.1 0 .1 1.1 .9 .2 .2 .9 .5 1.1 .5 .4 .1 .8 .3 1.1 .4 1.1 .2zM184.5 195.7l.8 .2 2.2 0 1.1-.1 .2-.1 .9-.2 1.1-.4 1-.5 .1-.2 1-1 .2-.3 .3-.8-.2-1.1-.1-.3-.6-.9-.6-.4-.9-.7-.2-.1-1.1-.4-1.1-.1-1.1 0-1.1 .1-1.1 .3-.8 .2-.3 .2-1.1 .5-.8 .4-.4 .4-.7 .8-.4 1 0 .7 .1 .5 .8 1.2 .2 .2 1.2 .5 1.1 .4zM123.1 188.9l1.1-.1 1.1-.4 1.1-.5 .2-.1 .9-.7 1.1-1.1 .4-.5 .7-1 .1-.1 .5-1.2 .1-1.1-.3-1.2-.4-.6-.4-.5-.7-.6-.9-.5-.2-.1-1.1-.5-1.1-.3-1.1-.2-2.3 0-1.1 .2-1.1 .3-1.1 .4-.3 .2-.8 .4-.9 .7-.2 .3-.7 .8-.4 .9 0 2.9 .3 .8 .8 1 .1 .1 1 .8 .6 .4 .5 .2 1.1 .5 1.1 .3 1.1 .1z"/>
<path fill="#7ccabe" fill-rule="evenodd" d="M201.6 213.9l.3 .2 1.2 .3 1.1-.2 .4-.3 .7-.4 .5-.7 .6-1.1 0-.1 .1-1.1-.1-1.1-.6-1.2-.5-.6-.7-.5-.4-.3-1.1-.2-1.2 .2-.4 .3-.7 .5-.5 .6-.5 1.2-.1 .7 0 .7 .2 .8 .5 1.2 .4 .5zM158 204.8l.6 .1 1.1 .1 2.2 0 1.2-.1 1-.1 .1 0 2.2-.2 1.1-.2 1.1-.1 2.2-.4 1-.2 .1-.1 1.2-.4 1.1-.5 1.1-1.1 .1-.2 .3-1.1-.1-1.2-.3-.8-.1-.3-.6-1.1-.6-1.2-.7-1.1-.2-.4-.5-.8-1.1-1.1-.7-.4-1.1-.4-1.1-.1-1.1 .1-1.1 .2-2.2 .6-.1 0-1 .2-1.2 .2-3.3 .6-.5 .1-.6 .2-1.1 .5-1 .5-.1 0-1.1 .9-.3 .2-.8 1-.2 .2-.7 1.1-.3 .5-.2 .6-.3 1.2 .1 1.1 .4 .7 .3 .5 .9 .6 .8 .5 .3 .1 1.1 .4 2.2 .6zM184.2 193.4l1.1 .6 1.1 .3 1.1 0 1.1-.1 1.1-.4 .6-.4 .5-.6 .3-.5-.1-1.1-.2-.3-.9-.9-.2 0-1.1-.4-1.1-.1-1.1 .2-1.1 .3-.1 0-1 .8-.4 .4-.3 1.1zM119.7 186.6l1.1 .5 1.1 .2 1.2 0 1.1-.1 1.1-.4 .3-.2 .8-.5 .7-.6 .4-.5 .5-.6 .4-1.2 0-1.1-.7-1.2-.2-.2-1.1-.8-.3-.1-.8-.3-1.1-.3-1.1-.1-1.2 .1-1.1 .2-1 .4-.1 .1-1.1 .7-.4 .3-.7 1.1 0 .1-.3 1.1 .2 1.2 .1 0 .7 1.1 .4 .4z"/>
<path fill="#4faaa1" fill-rule="evenodd" d="M159.4 203.7l.3 0 1.1 .1 1.1-.1 .4 0 .8-.1 1.1-.1 3.3-.6 1.1-.3 .4 0 .7-.3 1.1-.5 .8-.4 .3-.3 .7-.8 .1-1.2-.2-1.1-.5-1.1-.1-.1-.6-1.1-.5-.7-.3-.4-.8-.6-1.1-.5-1.1-.1-2.2 .4-1.1 .1-1.1 .2-1.2 .1-1.1 .1-1.1 .2-.3 .1-.8 .2-1.1 .4-1.1 .5 0 .1-1.1 .9-.2 .2-.9 1.1 0 .2-.4 .9-.1 1.2 .4 1.1 .1 .1 1.1 1 0 .1 2.2 .8 1.1 .2zM122.6 185.5l.7 0 .9-.2 1.1-.7 .3-.2 .5-1.2-.4-1.1-.4-.4-1.1-.6-.8-.2-.7 0-.8 .1-1.1 .6-.6 .5-.5 1.1 .5 1.2 .6 .5 1.1 .5z"/>
<path fill="#298b83" fill-rule="evenodd" d="M157 201.4l.5 .3 1.1 .4 1.1 .2 2.2 0 1.2-.2 1.1-.2 1.1-.3 .7-.2 .4-.2 1.1-.5 .7-.4 .8-1.2 0-1.1-.4-.6-.4-.5-.7-.5-1.1-.4-2.2-.2-2.3 0-1.1 .1-1.1 .2-1.1 .4-.8 .4-.3 .2-1 .9-.1 .3-.4 .8 .1 1.2 .3 .4z"/>
<path fill="#0a6f67" fill-rule="evenodd" d="M160 199.1l.8 .6 1.1-.2 .6-.4-.6-.3-1.1-.1z"/>
<path fill="#f6eac9" fill-rule="evenodd" d="M181 220.8l.9 .1 1.2 .2 2.2 0 1.1-.1 1.1-.2 1.1-.3 1.1-.5 .6-.4 .5-.3 .8-.8 .3-.5 .4-.7 .3-1.1 0-1.1-.3-1.2-.4-.9-.1-.2-.7-1.2-.3-.3-.9-.8-.2-.2-1.1-.7-.6-.2-.5-.2-1.1-.3-1.1-.1-1.1 0-1.1 .1-1.2 .2-2.2 .6-1.1 .4-1 .4-.1 .1-1.1 .6-.7 .4-1.2 1.2-.3 .6-.3 .5-.2 1.2 .3 1.1 .2 .2 .5 .9 .6 .7 .5 .5 .6 .4 1.1 .7 .1 0 1 .5 1.1 .4 1.1 .2zM118.4 217.3l.2 .1 1.1 .4 1.1 .3 1.1 .1 1.2 0 2.2-.4 1.1-.4 .1-.1 1-.4 1.1-.6 .2-.1 .9-.6 .7-.5 .4-.4 1-.8 .1-.2 .8-.9 .4-.6 .3-.6 .1-1.1-.3-1.1-.1-.2-.9-1-.3-.2-1.1-.8-.2-.1-.9-.5-1.1-.5-.3-.1-.8-.3-1.1-.4-2.2-.4-.8-.1-2 0-.6 .1-2.2 .4-1.1 .5-.4 .2-.7 .4-1.1 .7 0 8.2 1.1 .9 1.1 .7zM133.1 193.8l1.1 .3 1.1 .2 2.2-.2 1.1-.4 .6-.3 .5-.2 1.1-.8 .1-.1 .9-1.1 .1-.3 .5-.9 .1-1.1-.1-1.1-.6-1.2-1.1-1.1-1-.5-1.1-.3-1.1 0-1.1 .2-1.1 .4-.4 .2-.7 .4-1 .7-.1 .2-.9 1-.3 .3-.5 .8-.4 1.1-.1 1.2 .3 1.1 .7 .9zM200.7 190l.1 .1 1.1 .3 1.2 .2 1.1 .2 1.1 0 1.1 .1 1.1 0 1.1 .1 3.3 0 1.2-.1 1.1-.3 1.1-.5 .1-.1 1-.7 .4-.4 .7-1 .1-.1 .5-1.2 .3-1.1 .1-1.1 0-1.2-.2-1.1-.4-1.2-.4-.8-.2-.3-.9-1.1-1.1-.8-1-.4-.1 0-1.1-.1-.9 .1-.3 .1-1.1 .4-2.2 1.4-.5 .4-.6 .3-2.2 .8-.4 0-.7 .1-1.1 .2-1.2 0-1.1 .1-1.1-.1-.7-.3-.4-.5-.2-.6-.1-1.1-.2-1.2-.6-1-1.3-1.3-.9-.5-1.1-.3-1.1-.1-1.2 .1-1.1 .3-1 .5-.1 .1-1.1 1-.1 .1-.9 1.1-.1 .2-1.1 .8-1.1 .1-1.1-.1-1.1-.2-1.2-.1-2.2 0-2.2 .2-1.1 0-1.1-.1-1.1-.3-1.1-.4-1.2-.4-1.1-.4-1.1-.3-.7-.1-.4-.1-2.2-.4-3.3 0-1.2 .1-1.1 .2-.5 .2-.6 .1-1.1 .2-1.1 .3-1.1 .5-.1 0-1 .4-1.1 .6-.3 .2-.8 .5-.7 .6-.5 .6-.4 .5-.3 1.2 .2 1.1 .5 .7 .3 .5 .9 .6 .6 .5 .5 .3 1.1 .5 .7 .3 .4 .2 2.2 .6 2.2 .4 1.1 .1 2.3 0 1-.1 .1 0 1.1-.2 1.1-.1 1.1-.3 2.2-.4 .7-.2 .4-.1 1.2-.1 1.1-.1 1.1 0 1.1 .2 .5 .1 .6 .1 1.1 .2 1.1 0 1.1-.1 1-.2 .1 0 1.2-.3 1.1-.3 1.1-.4 .3-.1 .8-.4 1.1-.6 .3-.1 .8-.6 1.1-.5 1-.1 .5 0 .7 .1 1.2 .2 1.1 .5 .3 .4 .7 1.1 .1 0 .7 1.1 .4 .5 .6 .7 .5 .4 1 .7 .1 .1 1.1 .6zM127.5 168.8l2.2 .2 1.1 0 1.1-.1 1.2-.2 1.1-.2 .1-.1 1-.2 1.1-.4 1.1-.3 .6-.2 .5-.2 1.1-.3 1.1-.4 .7-.2 .4-.2 1.2-.5 1.1-.4 .1-.1 1-.5 .9-.6 .2-.2 1.1-.9 .1-.1 1-.9 .2-.2 .9-1 .2-.1 .9-1 .2-.2 .9-1 .1-.1 1-1.2 .1-.1 .7-1 .4-.5 .9-1.8 .2-.8 .1-.3 .1-1.1 0-1.2-.2-1 0-.1-.4-1.1-.7-1.4-.6-.9-1-1.2-.7-.6-.6-.5-.5-.4-1-.7-.1-.1-1.1-.7-.7-.4-31.5 0-1.1 .7 0 21.9 .2 .2 .9 .7 .6 .4 .5 .3 1.1 .7 .3 .2 .8 .4 1.1 .5 .6 .2 .5 .2 1.2 .4 1.1 .3z"/>
<path fill="#ebd6a2" fill-rule="evenodd" d="M179.4 218.5l.3 .1 1.1 .5 1.1 .2 1.2 .2 2.2 0 1.1-.2 1.1-.3 1.1-.5 .1 0 1-.8 .4-.4 .6-1.1 .1-1 .1-.1-.1-.1-.2-1.1-.7-1.1-.2-.2-1.1-1-1.1-.6-1.1-.3-1.1-.2-2.2 0-1.2 .2-1.1 .3-1.1 .4-.5 .2-.6 .4-1 .8-.1 .2-.6 .9-.3 1.2 .3 1.1 .6 .8 .3 .3 .8 .7zM119.8 213.9l1 .6 1.1 .4 1.2 .1 1.1 0 1.1-.2 1.1-.4 .8-.5 .3-.2 1-.9 .6-1.2 0-1.1-.5-1-.1-.1-1-.9-.5-.3-.6-.2-1.1-.3-1.1-.2-1.1 0-1.2 .2-1.1 .3-.4 .2-.7 .5-.6 .7-.5 .8-.1 .3-.1 1.1 .2 .7 .2 .5 .9 1zM134.1 191.2l.1 .1 1.1 .3 1.1 0 1.1-.3 .2-.1 .9-.9 .2-.3 .2-1.1-.4-1-.1-.1-1-.6-1.1-.1-1.1 .2-.8 .5-.3 .3-.6 .8-.2 1.1zM200 187.8l.8 .3 1.1 .4 1.2 .2 1.1 .1 3.3-.3 1.1-.2 1.1-.3 .8-.2 .3-.2 1.1-.6 .6-.4 .6-.9 .1-.2 0-1.1-.1-.2-1.2-1-1.1-.1-3.3 0-1.1 .1-2.4 0-.9 .1-1.2 .1-1.1 .3-1.1 .4-.5 .3-.6 .8-.1 .3 .1 .6 .2 .5zM159.2 186.6l.5 .2 2.2 .4 1.2 .1 1.1 0 2.2-.2 1.1-.2 1-.3 .1 0 2.2-.6 1.1-.4 .5-.1 .7-.3 1.1-.3 1.1 0 1.1 .1 1.1 .4 .5 .1 .6 .1 1.1 .2 1.1 0 1.1-.2 .6-.1 .6-.2 1.1-.4 .9-.5 .2-.2 .8-1 .1-1.1-.9-1.1-.1-.1-1-.4-1.1-.4-1.2-.1-1.1-.1-1.1 .1-2.2 .4-1.1 .1-1.1-.1-1.1-.4-.3-.2-2-1-.3-.1-.8-.4-1.1-.4-1.1-.3-.5-.1-.6-.1-1.1-.2-1.1-.1-1.1 0-1.1 .1-1.2 .1-1 .2-.1 0-1.1 .2-1.1 .3-1.1 .5-.4 .2-.7 .3-1.1 .7-.2 .1-.9 1-.2 .1-.4 1.2 .3 1.1 .3 .4 .5 .8 .6 .4 1.1 .7 1.1 .6 1.1 .4zM190.4 179.8l.4 .4 1.1 .5 1.2 .1 1.1-.2 1.1-.7 0-.1 .5-1.1-.2-1.2-.3-.4-.8-.7-.3-.2-1.1-.2-1.2 .2-.3 .2-.8 .6-.4 .5-.3 1.2zM129.2 163.9l.5 0 1.1 .1 2.3 0 1.1-.1 2.2-.4 2.2-.6 .4-.2 .7-.2 1.1-.5 .8-.4 .3-.2 1.2-.6 .4-.3 .7-.5 .8-.7 .3-.2 1-.9 .1-.1 1-1.1 .1 0 .8-1.1 .3-.4 .4-.7 .5-1.2 .2-.7 .1-.4 .1-1.1-.1-1.2-.1-.4-.2-.7-.5-1.1-.8-1.2-1.1-1.1-.7-.6-.8-.6-.3-.2-1.1-.6-.6-.3-.5-.3-1.2-.4-2.2-.8-1.1-.3-2.2-.4-.8-.1-7.1 0-1 .2-2.2 .4-1.1 .4-.6 .2-.5 .2-1.2 .4-.9 .5-.2 .1-1.1 .7-.5 .3-.6 .5-.8 .7-.3 .3-.7 .8-.8 1.2-.6 1.1-.1 .5 0 5.2 .5 1.1 .6 1 .1 .1 .8 1.2 .2 .2 1 .9 .1 .1 1.1 .9 .2 .2 .9 .6 1 .5 .1 .1 1.2 .5 1.1 .5 .1 0 1 .4 1.1 .3 2.2 .4z"/>
<path fill="#ddbe78" fill-rule="evenodd" d="M180.5 217.3l.3 .2 1.1 .4 1.2 .3 2.2 0 1.1-.3 1.1-.5 .2-.1 1.1-1.1 .3-1.1-.3-1.2-1.1-1.1-.2-.1-1.1-.5-1.1-.3-1.1-.1-1.1 .1-1.2 .2-1.1 .4-.5 .3-.6 .5-.5 .6-.4 1.2 .4 1.1 .5 .5zM162.6 186.6l.5 .1 1.1 0 1.1-.1 .1 0 1-.1 1.1-.2 2.2-.6 .6-.2 .5-.3 1.1-.6 .6-.2 .6-.6 .7-.6 .1-1.1-.8-1.1-.1-.1-1.1-.8-.3-.3-.8-.4-1.1-.5-.6-.2-.5-.2-1.1-.3-1.1-.2-1.1-.1-1.1 0-1.1 .1-1.2 .1-1.1 .2-1.1 .3-.2 .1-.9 .2-1.1 .5-.6 .4-.5 .4-.8 .7-.3 .8-.2 .4 .2 .7 .1 .4 1 1.2 1.1 .7 .7 .4 .4 .2 1.1 .4 1.1 .3 1.1 .2zM179.4 184.4l.3 0 1.1 .1 1.1-.1 .2 0 1-.6 .6-.6-.4-1.1-.2-.2-1.2-.4-1.1 0-1.1 .1-1.1 .4-.2 .1-.6 1.1 .8 .7zM127.6 160.5l1 .2 2.2 .2 2.3 0 1.1-.1 1.1-.2 .6-.1 .5-.2 1.1-.3 1.1-.4 .7-.3 .4-.2 1.1-.6 .6-.3 .5-.4 1.1-.8 .1 0 1.1-1.1 .9-1.1 .6-1.2 .4-1.1 .1-1.1-.1-1.2-.4-1.1-.4-.6-.4-.5-.7-.9-.3-.3-.8-.6-.8-.5-.4-.2-1.1-.6-.9-.4-.2 0-1.1-.4-1.1-.3-2.2-.4-.1 0-1-.1-1.1-.1-1.2 0-2.2 .2-.2 0-.9 .1-1.1 .2-1.1 .3-1.1 .4-.4 .1-.7 .4-1.1 .5-.4 .3-.8 .5-.7 .6-.4 .3-.7 .9-.4 .5-.4 .6-.4 1.1-.3 1.2 0 1.1 .2 1.1 .5 1.2 .4 .7 .3 .4 .8 1 .2 .1 .9 .9 .4 .3 .8 .5 1.1 .6 .1 0 1 .5 2.2 .6z"/>
<path fill="#ca9849" fill-rule="evenodd" d="M181.9 216.2l1.2 .5 1.1 .1 1.1-.2 1-.4 .1-.1 .5-1-.5-1.2-1.1-.5-1.1-.1-1.1 .1-1.2 .4-.1 .1-.6 1.2zM159.9 185.5l.9 .3 1.1 .2 1.2 .2 2.2 0 2.2-.4 1.1-.3 1.1-.5 1.1-.6 .1 0 1-1.2 .1 0 .1-1.1-.2-.3-.4-.9-.7-.5-.9-.6-.2-.1-1.1-.5-1.1-.3-1.1-.2-.3 0-.8-.1-1.1-.1-1.1 .1-.5 .1-.7 0-1.1 .2-1.1 .3-1.1 .5-.2 .1-.9 .6-.7 .5-.4 .9-.1 .3 .1 .4 .1 .7 1 1 .1 .2 1 .5 1.1 .5zM128.9 158.2l.8 .1 1.1 .2 1.1 0 1.2-.1 1.1-.1 .6-.1 .5-.1 1.1-.3 1.1-.4 .7-.4 .4-.1 1.1-.7 .4-.3 .7-.6 .6-.5 .5-.7 .4-.5 .4-1.1 .2-1.1-.2-1.2-.5-1.1-.3-.3-.7-.8-.4-.3-1.1-.7-.2-.2-.9-.4-1.1-.4-1.1-.3-2.2-.4-1.1-.1-1.2 0-2.2 .2-2.2 .6-1.1 .4-.8 .4-.3 .2-1.1 .7-1.1 1.1-.2 .3-.7 1.1-.3 1.1 0 .7 .1 .5 .3 1.1 .6 1.2 .2 .1 .9 1 .2 .2 1.1 .7 .4 .2 .7 .4 1.1 .4 1.1 .3z"/>
<path fill="#b37625" fill-rule="evenodd" d="M161.8 185.5l.1 0 1.2 .2 1.1 .1 2.2-.2 .3-.1 .8-.2 1.1-.4 1.1-.5 0-.1 1.1-1.1 0-.4 .1-.7-.1-.2-.6-1-.5-.3-1.1-.7-.2-.1-.9-.3-1.1-.3-1.1-.1-2.2 0-1.2 .2-1.1 .2-.8 .3-.3 .1-1.1 .6-.6 .4-.5 .8-.2 .4 .2 .7 .1 .4 1.2 1.2 .9 .4 1.1 .4zM130.3 155.9l.5 .1 1.1 .1 1.2-.1 .7-.1 .4 0 2.2-.8 .6-.3 .5-.4 .9-.8 .2-.2 .6-.9 .2-1.1-.3-1.2-.5-.6-.4-.5-.7-.5-1.1-.5-.3-.1-.8-.3-1.1-.2-1.1-.1-1.2 0-1.1 .1-1.1 .2-.8 .3-.3 .1-1.1 .6-.6 .4-.5 .5-.5 .6-.5 1.2 .1 1.1 .5 1.1 .4 .4 .9 .8 .2 .1 1.1 .6 1.1 .3z"/>
<path fill="#955910" fill-rule="evenodd" d="M160.1 184.4l.7 .3 1.1 .3 1.2 .2 1.1 .1 2.2-.2 1.1-.3 1-.4 .1-.2 1.1-1 .2-1.1-.8-1.2-.5-.3-1.1-.5-1-.3-.1 0-1.1-.2-2.2 0-1.2 .2-1.1 .3-1.1 .5-.6 .3-.5 .7-.3 .5 .3 1.1 1.1 .9z"/>
<path fill="#754308" fill-rule="evenodd" d="M161.4 184.4l.5 .1 1.2 .2 1.1 .1 1.1 0 1.1-.2 .7-.2 .4-.3 1.1-.8 .1-.1 .2-1.1-.3-.4-.7-.8-.4-.2-1.1-.4-1.1-.2-2.2 0-1.2 .2-1.1 .4-.5 .2-.6 .6-.4 .6 .3 1.1 .1 .1 1.1 .8z"/>
<path fill="#543005" fill-rule="evenodd" d="M164.2 184.4l1.1-.1 1.1-.4 1.1-.6 .2-.1 .2-1.1-.4-.4-1.1-.8-1.1-.2-1.1-.1-1.1 .1-1.2 .2-.1 0-1 .7-.5 .5 .4 1.1 .1 .1 1.1 .6 1.2 .3z"/>
</g>
<path fill="#222" d="M118.4 206.9h1v1h-1zM118.4 209.7h1v1h-1zM118.4 212.6h1v1h-1zM118.4 215.4h1v1h-1zM121.2 206.9h1v1h-1zM121.2 212.6h1v1h-1zM123.9 144.3h1v1h-1zM123.9 147.2h1v1h-1zM123.9 150.0h1v1h-1zM123.9 152.9h1v1h-1zM123.9 155.7h1v1h-1zM123.9 158.5h1v1h-1zM123.9 184.1h1v1h-1zM123.9 206.9h1v1h-1zM123.9 209.7h1v1h-1zM123.9 212.6h1v1h-1zM123.9 215.4h1v1h-1zM126.7 144.3h1v1h-1zM126.7 147.2h1v1h-1zM126.7 150.0h1v1h-1zM126.7 152.9h1v1h-1zM126.7 155.7h1v1h-1zM126.7 158.5h1v1h-1zM126.7 206.9h1v1h-1zM126.7 209.7h1v1h-1zM126.7 212.6h1v1h-1zM126.7 215.4h1v1h-1zM129.5 144.3h1v1h-1zM129.5 147.2h1v1h-1zM129.5 150.0h1v1h-1zM129.5 152.9h1v1h-1zM129.5 155.7h1v1h-1zM129.5 158.5h1v1h-1zM129.5 189.8h1v1h-1zM132.3 147.2h1v1h-1zM132.3 150.0h1v1h-1zM132.3 152.9h1v1h-1zM132.3 155.7h1v1h-1zM132.3 189.8h1v1h-1zM135.1 144.3h1v1h-1zM135.1 147.2h1v1h-1zM135.1 150.0h1v1h-1zM135.1 152.9h1v1h-1zM135.1 158.5h1v1h-1zM135.1 161.4h1v1h-1zM135.1 167.1h1v1h-1zM135.1 169.9h1v1h-1zM137.8 144.3h1v1h-1zM137.8 147.2h1v1h-1zM137.8 150.0h1v1h-1zM137.8 152.9h1v1h-1zM137.8 158.5h1v1h-1zM137.8 161.4h1v1h-1zM137.8 169.9h1v1h-1zM137.8 189.8h1v1h-1zM137.8 215.4h1v1h-1zM140.6 144.3h1v1h-1zM140.6 147.2h1v1h-1zM140.6 150.0h1v1h-1zM140.6 152.9h1v1h-1zM140.6 155.7h1v1h-1zM140.6 158.5h1v1h-1zM140.6 161.4h1v1h-1zM140.6 164.2h1v1h-1zM140.6 169.9h1v1h-1zM140.6 189.8h1v1h-1zM143.4 147.2h1v1h-1zM143.4 150.0h1v1h-1zM143.4 152.9h1v1h-1zM143.4 155.7h1v1h-1zM143.4 158.5h1v1h-1zM143.4 167.1h1v1h-1zM143.4 189.8h1v1h-1zM143.4 215.4h1v1h-1zM143.4 223.9h1v1h-1zM146.2 144.3h1v1h-1zM146.2 147.2h1v1h-1zM146.2 150.0h1v1h-1zM146.2 152.9h1v1h-1zM146.2 155.7h1v1h-1zM146.2 158.5h1v1h-1zM146.2 164.2h1v1h-1zM146.2 167.1h1v1h-1zM146.2 169.9h1v1h-1zM146.2 218.3h1v1h-1zM146.2 223.9h1v1h-1zM148.9 144.3h1v1h-1zM148.9 147.2h1v1h-1zM148.9 150.0h1v1h-1zM148.9 152.9h1v1h-1zM148.9 158.5h1v1h-1zM148.9 161.4h1v1h-1zM148.9 164.2h1v1h-1zM148.9 201.2h1v1h-1zM148.9 204.0h1v1h-1zM151.7 198.4h1v1h-1zM151.7 201.2h1v1h-1zM151.7 221.1h1v1h-1zM151.7 223.9h1v1h-1zM154.5 198.4h1v1h-1zM154.5 201.2h1v1h-1zM154.5 204.0h1v1h-1zM157.3 195.5h1v1h-1zM157.3 201.2h1v1h-1zM157.3 204.0h1v1h-1zM157.3 221.1h1v1h-1zM157.3 223.9h1v1h-1zM160.1 178.4h1v1h-1zM160.1 181.3h1v1h-1zM160.1 184.1h1v1h-1zM160.1 195.5h1v1h-1zM160.1 204.0h1v1h-1zM162.8 178.4h1v1h-1zM162.8 184.1h1v1h-1zM162.8 201.2h1v1h-1zM162.8 204.0h1v1h-1zM165.6 158.5h1v1h-1zM165.6 178.4h1v1h-1zM165.6 181.3h1v1h-1zM165.6 184.1h1v1h-1zM168.4 178.4h1v1h-1zM168.4 181.3h1v1h-1zM168.4 184.1h1v1h-1zM171.2 158.5h1v1h-1zM171.2 181.3h1v1h-1zM173.9 178.4h1v1h-1zM176.7 178.4h1v1h-1zM182.3 189.8h1v1h-1zM185.1 181.3h1v1h-1zM185.1 192.7h1v1h-1zM187.8 178.4h1v1h-1zM187.8 187.0h1v1h-1zM187.8 189.8h1v1h-1zM190.6 187.0h1v1h-1zM193.4 206.9h1v1h-1zM193.4 209.7h1v1h-1zM193.4 212.6h1v1h-1zM193.4 215.4h1v1h-1zM196.2 147.2h1v1h-1zM196.2 209.7h1v1h-1zM196.2 215.4h1v1h-1zM198.9 206.9h1v1h-1zM198.9 209.7h1v1h-1zM198.9 212.6h1v1h-1zM198.9 215.4h1v1h-1zM201.7 147.2h1v1h-1zM201.7 150.0h1v1h-1zM201.7 181.3h1v1h-1zM201.7 206.9h1v1h-1zM201.7 209.7h1v1h-1zM201.7 212.6h1v1h-1zM204.5 147.2h1v1h-1zM204.5 150.0h1v1h-1zM204.5 181.3h1v1h-1zM204.5 184.1h1v1h-1zM204.5 206.9h1v1h-1zM204.5 209.7h1v1h-1zM207.3 150.0h1v1h-1zM207.3 181.3h1v1h-1zM207.3 184.1h1v1h-1zM207.3 209.7h1v1h-1zM207.3 212.6h1v1h-1zM210.1 147.2h1v1h-1zM210.1 150.0h1v1h-1zM212.8 184.1h1v1h-1z"/>
<path fill="none" stroke="#000" stroke-width="0.75" stroke-linejoin="round" d="M144.28,148.18 L144.94,148.06 L145.94,148.86 L147.61,148.75 L148.61,148.97 L149.50,148.29 L150.83,148.06 L152.50,147.27 L154.39,147.04 L156.72,147.15 L159.17,146.81 L160.39,146.93 L161.72,146.47 L162.28,146.81 L163.06,146.70 L162.39,147.38 L162.61,148.06 L163.17,148.86 L162.50,149.66 L162.06,150.34 L163.17,151.02 L164.17,151.48 L165.50,151.48 L167.72,152.16 L168.28,153.18 L170.28,153.75 L171.94,154.43 L173.17,153.64 L173.06,152.39 L174.72,151.59 L176.61,151.93 L178.83,152.96 L180.83,153.30 L183.06,153.75 L184.72,153.07 L186.72,153.30 L187.06,154.78 L187.06,154.89 L187.72,156.48 L188.61,158.19 L189.72,160.46 L190.39,161.71 L191.83,163.88 L192.17,166.15 L192.50,167.74 L193.50,168.54 L194.39,170.70 L195.28,171.72 L196.61,172.97 L197.83,174.34 L198.94,175.25 L198.61,175.82 L200.28,177.07 L202.61,176.62 L204.17,176.16 L206.06,175.82 L207.72,175.36 L207.61,177.07 L207.17,178.66 L205.94,181.17 L204.83,183.21 L203.61,184.92 L202.28,186.40 L200.61,187.65 L198.72,189.24 L197.28,190.61 L196.28,191.52 L195.39,192.54 L194.39,194.25 L193.94,196.29 L194.72,197.43 L194.50,198.57 L195.06,200.28 L195.83,201.19 L195.94,203.12 L195.83,205.39 L195.28,207.10 L192.50,208.92 L191.28,210.06 L190.06,211.42 L189.94,213.36 L190.28,214.49 L190.28,216.20 L188.61,217.22 L187.28,218.25 L187.39,219.50 L187.06,221.32 L186.39,221.89 L185.28,222.91 L184.28,224.39 L182.94,225.64 L181.39,226.67 L179.72,227.35 L178.83,227.57 L177.06,227.46 L175.83,227.57 L174.17,228.03 L173.06,228.49 L172.17,228.14 L171.28,227.69 L171.17,226.78 L170.72,226.10 L171.06,224.96 L170.06,223.48 L169.06,221.43 L167.83,219.95 L167.28,217.91 L166.83,215.06 L166.72,214.15 L165.72,212.67 L164.83,210.51 L163.94,208.58 L163.83,207.10 L164.39,205.28 L165.17,203.69 L165.94,202.55 L166.06,201.07 L165.39,199.82 L165.06,198.34 L164.50,195.84 L164.39,195.50 L164.06,194.59 L163.17,193.34 L161.83,192.20 L161.17,191.06 L160.61,189.81 L161.17,188.56 L161.50,187.76 L161.72,186.28 L161.83,185.37 L161.28,184.46 L160.72,183.90 L160.28,183.67 L159.17,183.90 L158.28,184.01 L157.39,184.01 L156.39,182.53 L155.72,181.73 L154.61,181.62 L153.83,181.73 L152.94,181.96 L152.06,182.19 L150.28,182.87 L148.72,183.55 L147.17,183.10 L145.72,182.99 L144.28,183.21 L142.50,183.90 L141.50,183.55 L140.50,182.87 L138.83,181.85 L138.17,181.05 L137.06,180.60 L136.17,179.57 L136.17,178.66 L135.61,178.09 L134.61,177.30 L134.06,176.50 L133.06,175.82 L132.28,174.80 L132.17,173.77 L132.06,172.97 L131.72,172.29 L131.39,172.18 L132.06,171.61 L132.50,170.47 L132.94,168.31 L132.72,167.17 L132.72,166.15 L132.06,165.01 L131.94,164.56 L132.72,163.08 L133.06,161.94 L133.72,161.15 L134.39,160.24 L134.83,158.98 L136.06,157.50 L136.83,157.05 L137.83,156.82 L138.72,156.14 L139.72,155.23 L140.17,154.21 L139.94,153.41 L140.50,151.82 L141.28,151.02 L142.39,150.57 L143.17,150.11 L143.94,148.86 L144.28,148.18Z M205.61,202.55 L206.28,203.92 L206.72,205.96 L206.94,206.87 L206.28,207.56 L205.94,209.15 L205.50,211.08 L204.83,213.13 L204.06,215.29 L203.17,217.22 L201.50,218.02 L200.28,217.56 L199.50,216.54 L199.28,215.29 L198.94,213.93 L199.50,212.79 L200.17,211.76 L199.94,210.28 L199.72,208.92 L200.17,207.67 L200.94,207.10 L202.28,206.76 L203.28,205.96 L203.94,204.82 L204.72,204.14 L205.61,202.55Z M218.06,160.12 L215.94,159.78 L214.50,159.55 L213.94,158.19 L213.17,157.96 L211.61,158.76 L210.28,158.41 L209.06,157.50 L207.94,157.16 L206.61,154.89 L205.83,154.66 L204.83,154.89 L204.17,154.89 L204.06,155.91 L204.61,156.48 L205.06,157.39 L205.94,158.30 L206.50,158.98 L206.61,159.78 L207.06,160.58 L207.61,160.92 L207.94,160.12 L208.17,159.55 L208.17,161.03 L208.61,161.71 L210.17,161.49 L211.50,161.26 L212.50,160.01 L213.17,159.21 L213.50,158.87 L213.50,160.58 L214.06,161.37 L215.28,161.94 L216.06,162.06 L216.83,163.08 L217.28,163.53 L216.72,164.56 L215.83,165.69 L215.06,165.92 L214.94,167.29 L213.72,167.74 L212.61,169.11 L212.28,169.34 L211.72,169.56 L209.83,169.90 L208.83,171.16 L205.94,172.18 L204.94,172.97 L204.06,172.97 L202.39,173.66 L201.50,173.77 L200.83,174.34 L199.72,174.57 L199.17,174.57 L198.83,173.88 L198.50,172.06 L198.17,171.04 L198.39,170.36 L197.83,169.45 L197.28,168.65 L196.61,167.63 L196.28,166.72 L195.50,165.92 L195.06,165.81 L194.28,164.67 L194.17,163.19 L193.61,161.94 L193.06,161.49 L192.50,161.26 L192.17,160.35 L191.83,159.78 L191.50,159.33 L191.06,158.64 L190.39,157.73 L189.83,156.94 L189.28,156.94 L189.50,155.91 L189.67,155.46 L189.28,156.37 L188.83,157.28 L188.50,157.05 L188.17,156.59 L187.61,155.91 L187.06,154.89 M186.72,153.30 L188.83,153.30 L189.28,152.73 L189.72,151.59 L190.28,150.34 L190.72,149.43 L190.61,148.18 L191.06,147.27 L190.28,147.27 L189.39,147.04 L188.61,147.72 L186.94,147.84 L186.06,147.27 L184.83,147.15 L183.83,147.84 L182.72,147.15 L181.50,146.81 L180.83,146.02 L180.17,145.45 L180.61,144.54 L179.94,143.97 L180.17,143.17 L180.50,142.83 M175.94,142.72 L176.17,143.40 L175.94,143.97 L176.72,144.31 L175.94,144.77 L176.94,145.33 L177.50,145.45 L176.50,145.79 L176.17,146.47 L176.50,147.38 L175.83,147.50 L174.94,147.04 L174.50,146.13 L174.28,145.33 L175.17,145.22 L174.28,145.11 L173.83,144.54 L173.28,143.86 L172.72,143.40 L172.39,142.72 M171.39,143.17 L171.28,143.63 L169.94,142.94 L169.61,142.83 L169.17,143.63 L169.83,144.08 L169.94,144.65 L169.28,144.77 L168.72,145.68 L168.28,145.79 L168.28,145.45 L168.50,144.77 L168.28,143.97 L167.83,143.40 L167.39,143.06 M161.72,142.83 L161.61,144.31 L161.06,144.31 L160.61,144.65 L160.17,144.31 L160.17,142.94 L159.94,142.72 M140.28,142.83 L140.83,143.63 L140.39,144.54 L140.94,145.11 L141.06,145.79 L140.94,146.81 L142.06,146.81 L142.61,146.59 L143.61,146.93 L143.94,147.50 L144.61,147.95 L145.39,147.38 L145.94,147.15 L147.06,147.15 L148.50,147.15 L149.06,146.59 L150.06,146.13 L150.06,145.22 L150.94,144.77 L150.50,144.20 L150.94,143.51 L151.39,142.94 L151.72,142.60 M176.94,148.75 L177.72,148.63 L178.61,148.63 L179.50,148.75 L180.06,148.86 L179.83,149.09 L178.28,149.20 L176.94,148.75Z M186.72,149.09 L187.50,148.63 L188.61,148.52 L189.28,148.29 L188.50,148.97 L187.50,149.54 L186.83,149.43 L186.72,149.09Z M164.61,145.56 L165.72,145.45 L168.06,145.33 L167.61,146.47 L167.61,147.15 L166.72,146.81 L164.72,146.13 L164.61,145.56Z M153.50,143.86 L154.28,143.51 L154.61,143.86 L154.17,144.20 L153.50,143.86Z"/>
<path fill="none" stroke="#ec2592" stroke-width="0.95" stroke-linejoin="round" d="M133.94,173.20 L134.94,170.36 L136.39,168.99 L138.72,168.54 L141.06,169.45 L143.94,170.93 L146.72,171.84 L149.50,172.06 L152.83,173.77 L155.06,174.23 L156.83,175.25 L159.61,177.18 L162.39,178.09 L165.28,177.18 L168.06,176.27 L170.39,177.64 L172.72,180.03 L174.61,181.96 L178.39,182.42 L182.06,182.64 L183.94,182.19 L185.72,179.91 L187.61,176.16 L189.50,173.77 L191.39,172.29 L193.28,172.86 L195.17,175.14 L197.06,177.07 L198.39,179.00 L199.83,180.37 L201.72,179.91 L203.61,180.82 L204.06,182.19 L202.61,183.21 L200.72,182.76 L198.94,183.21 L196.06,184.12 L192.28,184.69 L189.50,185.60 L188.06,187.53 L187.61,189.81 L189.06,190.83 L190.94,189.47 L192.28,189.81 L193.28,191.18 L194.17,193.11 L195.06,195.04 L195.50,198.00 L196.17,200.28 L196.72,202.09 L197.17,205.96 L195.28,208.81 L191.94,211.19 L190.06,213.47 L189.17,216.31 L188.28,219.27 L186.83,222.12 L184.50,224.84 L180.72,227.23 L176.94,228.71 L172.61,228.37 L174.17,227.23 L176.94,224.84 L178.83,223.94 L180.72,222.12 L181.17,219.61 L179.83,217.34 L176.94,215.40 L174.17,213.01 L169.50,209.83 L166.94,205.39 L165.83,200.84 L165.06,196.86 L163.39,192.88 L161.94,190.38 L160.61,187.53 L160.06,185.26 L159.17,183.33 L156.83,181.96 L154.17,181.28 L151.39,181.85 L148.61,182.19 L145.72,183.21 L143.39,184.12 L141.06,184.12 L138.17,181.85 L136.39,179.00 L134.50,176.05 L133.94,173.20Z M175.83,207.10 L175.56,206.61 L174.79,206.21 L173.67,205.99 L172.44,205.99 L171.32,206.21 L170.55,206.61 L170.28,207.10 L170.55,207.59 L171.32,207.99 L172.44,208.21 L173.67,208.21 L174.79,207.99 L175.56,207.59 L175.83,207.10Z M175.72,201.98 L175.49,201.42 L174.94,201.19 L174.39,201.42 L174.17,201.98 L174.39,202.54 L174.94,202.78 L175.49,202.54 L175.72,201.98Z M144.61,176.39 L144.38,175.82 L143.83,175.59 L143.28,175.82 L143.06,176.39 L143.28,176.95 L143.83,177.18 L144.38,176.95 L144.61,176.39Z M183.28,144.20 L182.98,143.47 L182.28,143.17 L181.57,143.47 L181.28,144.20 L181.57,144.92 L182.28,145.22 L182.98,144.92 L183.28,144.20Z M205.72,203.23 L206.61,205.96 L205.83,209.38 L204.83,212.79 L204.28,213.01 L205.06,209.38 L205.72,205.96 L205.17,203.69 L205.72,203.23Z"/>
</g>
<rect x="117.50" y="143.40" width="100.00" height="91.00" fill="none" stroke="#000" stroke-width="0.8"/>
<path stroke="#333" stroke-width="0.75" d="M117.50,143.40h-2.8M117.50,166.15h-2.8M117.50,188.90h-2.8M117.50,211.65h-2.8M117.50,234.40h-2.8M128.61,234.40v2.4M150.83,234.40v2.4M173.06,234.40v2.4M195.28,234.40v2.4M217.50,234.40v2.4"/>
<text x="94.33" y="145.85" style="font-size:7.20px" textLength="9.23" lengthAdjust="spacingAndGlyphs">40</text><text x="104.24" y="144.77" style="font-size:5.18px">°</text><text x="107.18" y="145.85" style="font-size:7.20px" textLength="5.42" lengthAdjust="spacingAndGlyphs">N</text>
<text x="94.33" y="168.60" style="font-size:7.20px" textLength="9.23" lengthAdjust="spacingAndGlyphs">20</text><text x="104.24" y="167.52" style="font-size:5.18px">°</text><text x="107.18" y="168.60" style="font-size:7.20px" textLength="5.42" lengthAdjust="spacingAndGlyphs">N</text>
<text x="104.36" y="191.35" style="font-size:7.20px" textLength="4.61" lengthAdjust="spacingAndGlyphs">0</text><text x="109.66" y="190.27" style="font-size:5.18px">°</text>
<text x="95.15" y="214.10" style="font-size:7.20px" textLength="9.23" lengthAdjust="spacingAndGlyphs">20</text><text x="105.06" y="213.02" style="font-size:5.18px">°</text><text x="108.00" y="214.10" style="font-size:7.20px" textLength="4.60" lengthAdjust="spacingAndGlyphs">S</text>
<text x="95.15" y="236.85" style="font-size:7.20px" textLength="9.23" lengthAdjust="spacingAndGlyphs">40</text><text x="105.06" y="235.77" style="font-size:5.18px">°</text><text x="108.00" y="236.85" style="font-size:7.20px" textLength="4.60" lengthAdjust="spacingAndGlyphs">S</text>
<text x="118.60" y="244.70" style="font-size:7.20px" textLength="9.23" lengthAdjust="spacingAndGlyphs">20</text><text x="128.51" y="243.62" style="font-size:5.18px">°</text><text x="131.45" y="244.70" style="font-size:7.20px" textLength="7.17" lengthAdjust="spacingAndGlyphs">W</text>
<text x="146.71" y="244.70" style="font-size:7.20px" textLength="4.61" lengthAdjust="spacingAndGlyphs">0</text><text x="152.01" y="243.62" style="font-size:5.18px">°</text>
<text x="164.34" y="244.70" style="font-size:7.20px" textLength="9.23" lengthAdjust="spacingAndGlyphs">20</text><text x="174.25" y="243.62" style="font-size:5.18px">°</text><text x="177.19" y="244.70" style="font-size:7.20px" textLength="4.58" lengthAdjust="spacingAndGlyphs">E</text>
<text x="186.56" y="244.70" style="font-size:7.20px" textLength="9.23" lengthAdjust="spacingAndGlyphs">40</text><text x="196.48" y="243.62" style="font-size:5.18px">°</text><text x="199.41" y="244.70" style="font-size:7.20px" textLength="4.58" lengthAdjust="spacingAndGlyphs">E</text>
<text x="208.78" y="244.70" style="font-size:7.20px" textLength="9.23" lengthAdjust="spacingAndGlyphs">60</text><text x="218.70" y="243.62" style="font-size:5.18px">°</text><text x="221.63" y="244.70" style="font-size:7.20px" textLength="4.58" lengthAdjust="spacingAndGlyphs">E</text>
<text x="117.20" y="138.80" style="font-size:12.10px" textLength="16.13" lengthAdjust="spacingAndGlyphs">(c)</text><text x="136.80" y="138.80" style="font-size:12.10px" textLength="8.29" lengthAdjust="spacingAndGlyphs">Δ</text><text x="145.70" y="138.80" style="font-size:12.10px" textLength="4.73" lengthAdjust="spacingAndGlyphs">(</text><text x="149.60" y="138.80" style="font-size:12.10px;font-style:italic" textLength="7.31" lengthAdjust="spacingAndGlyphs">P</text><text x="158.70" y="138.80" style="font-size:12.10px" textLength="10.16" lengthAdjust="spacingAndGlyphs">−</text><text x="169.70" y="138.80" style="font-size:12.10px;font-style:italic" textLength="7.66" lengthAdjust="spacingAndGlyphs">E</text><text x="178.50" y="138.80" style="font-size:12.10px" textLength="4.73" lengthAdjust="spacingAndGlyphs">)</text>
<clipPath id="cpd"><rect x="25.90" y="270.40" width="99.60" height="89.90"/></clipPath>
<g clip-path="url(#cpd)">
<rect x="25.90" y="270.40" width="99.60" height="89.90" fill="#f5f1e6"/>
<g filter="url(#bl)">
<rect x="22.90" y="267.40" width="105.60" height="95.90" fill="#f5f1e6"/>
<path fill="#e7f2f0" fill-rule="evenodd" d="M23.7 362.5l30.8 0 .2-.1 1.1-1 1-1.1 .1-.1 .7-1 .4-.6 .5-.5 .6-.8 .7-.4 .4-.2 1.1-.1 1.1 0 1.1 .1 2.2 0 1.1-.1 1.2-.1 1.1-.3 .9-.4 .2 0 1.1-.7 .4-.4 .7-.8 .2-.3 .4-1.2 .2-1.1 .1-1.1-.1-1.1-.1-1.2-.6-2.2-.1-.4-.4-.7-.6-1.2-.1-.1-.8-1-.3-.6-.7-.5 .7-.6 .8-.5 .3-.1 1.1-.2 1.1-.4 1-.5 .1 0 1.1-.5 .8-.6 .3-.2 1.1-.9 .1 0 1-.9 .2-.2 .9-.8 .4-.3 .7-.7 .6-.5 .5-.3 1.1-.6 .5-.2 .7-.2 1.1-.3 1.1-.1 1.1 0 3.3 .3 1.1 .2 .8 .1 .3 .1 4.4 .8 1.1 .1 .8 .1 .3 .1 1.2 .3 1.1 .4 .6 .4 .5 .6 .2 .5 .4 2.2 .1 1.1 .2 1.2 .2 .6 .1 .5 .4 1.1 .6 1 .1 .1 .8 1.2 .2 .2 .6 .9 .5 .6 .4 .5 .7 .8 1.1 1.1 .6 .4 .5 .3 1.1 .6 .6 .2 .5 .2 2.2 .6 1.1 .1 2.3 0 1.1-.1 2.2-.6 .5-.2 .6-.2 1.1-.6 .6-.3 .5-.3 1.1-.9 1.1-1 0-20.3-1.1-.8-.5-.3-.6-.3-1.1-.4-2.2-.4-3.3 0-1.1 .1-1.2 .1-4.4 .4-2.2 0-1.1-.2-1.1-.3-.4-.2-.7-.2-1.1-.5-.9-.4-.2-.1-1.1-.5-1.1-.3-.8-.2-.3-.1-1.2 0-.3 .1-.8 .1-1.1 .4-1.1 .5-.2 .1-.9 .4-1.1 .4-1.1 .3-.2 0-.9 .2-1.1 .2-1.1 0-1.1-.1-1-.3-.1 0-1.1-.3-1.1-.5-.7-.3-.4-.2-1.2-.4-1.1-.4-.4-.1-.7-.2-1.1-.2-1.1-.4-.6-.3-.5-.3-1.1-.6-.3-.3-.8-.5-.8-.6-.3-.2-1.1-.6-.6-.3-.5-.3-2.2-.8-.1 0-1-.4-1.1-.4-1-.3-.2-.1-1.1-.5-1.1-.4-.6-.2-.5-.1-1.1-.4-1.1-.2-2.2-.2-3.3 0-1.1 .1-1.1 0-1.1 .1-1.1 0-1.2 .1-3.3 .3-3.3 0-1.1-.2-.6-.6-.5-.3-.5-.8-.6-.6-.4-.5-.7-1-.1-.2-.8-1.1-.2-.6-.2-.5-.2-1.1 .1-1.2 .3-.9 0-.2 .5-1.1 .4-1.1 .1-1.2-.7-1.1-.3-.2-1.1-.8-.2-.1-.9-.5-1.1-.4-.8-.2-.4-.2-3.3-.6-1.1 0-2.2 .2-1.1 .2-1 .4-.1 0-1.1 .5 0 21.9 .2 0 .9 .3 1.1 .1 1.1-.1 1.1-.2 .2-.1 .9-.2 1.1-.7 .3-.2 .8-.4 1.1-.7 1.1-.5 1.2-.6 .1 0 1-.4 2.2-.6 .7-.1 .4-.1 1.1-.1 .4 .2 .7 1.1-.2 1.1-.3 1.1-.5 1.1-.6 1.2-.4 1.1 .1 1.1 .8 1.1 1.1 .9 .3 .3 .8 .5 .9 .6 .2 .1 1.1 .6 .6 .4 .5 .2 1.1 .6 .8 .3 .3 .2 2.2 1 1.2 .5 1.1 .5 .2 .1 .9 .4 1.1 .6 .3 .1 .8 .5 1.1 .5 .2 .1 .9 .6 1.1 .6 1.1 .7 .6 .4 .5 .4 1.1 .6 .2 .1 .9 .7 .8 .4 .3 .3 1.1 .7 .3 .1 .8 .9 .6 .3-.6 .3-1.1 .6-.3 .2-.8 .2-1.1 .4-.9 .5-.2 .1-1.1 .6-.5 .4-.6 .5-1.1 1.1-.6 .7-.5 .8-.3 .3-.7 1.1-.1 .3-.7 .9-.4 .4-1.1 .3-1.1-.1-2.2-.6-.1 0-2.2-.8-1.1-.3-.1-.1-1-.3-1.1-.2-1.1-.3-1.1-.1-1.1-.2-2.2 0-2.2 .4-1.1 .4-.9 .3-.2 .1-1.1 .5-1.2 .4-.3 .2-.8 .2-2.2 .8-.5 .1-.6 .1-1.1 .3-4.4 .4zM82.8 361.4l.6 .3 1.2 .3 1.1 .2 1.1 .1 2.2-.2 1.1-.3 .8-.4 .3-.1 1.1-.6 .5-.4 .6-.5 .6-.6 .5-.9 .2-.2 .4-1.2 .1-1.1-.3-1.1-.4-.7-.2-.4-.9-.8-.4-.4-.7-.3-1.1-.4-1.1-.2-1.1-.1-1.1 .1-2.2 .4-1.1 .4-.5 .1-.7 .3-1.1 .5-.6 .4-.5 .4-.9 .7-.2 .2-.7 .9-.2 1.1 .1 1.2 .5 1.1 1.4 1.4 1.1 .6zM99.8 316.5l.2 .1 1.2-.1 1.1-.6 .6-.5 .5-.5 .5-.7 .6-1 .1-.1 .7-1.1 .3-.3 1.1-.4 1.1 0 1.1-.1 1.1 0 1.1-.2 .6-.1 .5-.1 1.1-.4 1.1-.6 .2-.1 .9-.7 .5-.4 .6-1 .2-.1 .5-1.1 .3-1.2 0-1.1-.1-1.1-.2-1.1-.6-1.2-.1-.1-.5-1-.6-.8-.3-.3-.8-1-.2-.1-.9-1.1 0-.1-.2-1.1 .2-.5 .4-.6 .7-.9 .2-.2 .9-1.1 0-.1 .7-1.1 .4-.8 .2-.3 .4-1.1 .2-1.1 .1-1.2-.1-1.1-.2-1.1-.4-1.1-.6-1.2-.7-1 0-.1-.9-1.1-.2-.1-1.1-1.1-1.1-.9-.2-.2-.9-.5-.9-.6-.2-.1-1.1-.6-.9-.4-.2-.1-1.1-.5-1.1-.4-.4-.1-.7-.3-3.3-.9-1.2-.2-2.2-.4-4.4-.4-.8-.1-.3 0-1.1-.1-1.1 0-1.1-.1-4.4 0-1.2 .1-.7 .1-.4 .1-1.1 .2-1.1 .3-1.1 .5-.1 0-1 .5-.9 .7-.2 .1-1.1 .8-.2 .2-.9 .7-.5 .4-.6 .5-.8 .6-.3 .3-1.1 .8-.1 .1-1 .7-.6 .4-.5 .4-1.1 .6-.2 .1-1 .6-1.1 .5-.1 0-1 .5-1.1 .4-.8 .3-.3 .1-1.1 .4-1.1 .5-.3 .1-.8 .4-1 .7-.1 .1-1.1 1-.1 0-.9 1.2-.1 .1-.7 1-.4 .8-.2 .3-.5 1.1-.4 1.2 0 .1-.3 1-.1 1.1 0 1.1 .2 1.1 .2 .4 .3 .8 1.1 1.1 .8 .3 1.1 .5 .8 .3 .3 .1 1.1 .1 2.2 .4 4.4 .4 4.5 0 1.1 .1 1.1 .2 1.1 .1 3.3 .6 1.1 0 1.1 .1 1.1-.1 3.3-.6 1.1-.3 .1 0 2.2-.4 1.1-.1 1.1 .1 1.1 0 1.1 .1 1.1 0 1.1 .1 1.1-.1 1.1 0 1.1-.1 1.1 0 1.1 .1 .6 .3 .5 .6 .2 .6 .3 3.3-.2 1.2-.3 .3-1.1 .5-.5 .3-.6 .2-1.1 .8-.1 .1-.6 1.1-.2 1.2 .1 1.1 .4 1.1 .4 .9 .2 .2 .9 1.2 1.1 .8z"/>
<path fill="#ccebe7" fill-rule="evenodd" d="M26.8 361.4l.2 .1 1.1 .6 1.1 .4 15.5 0 1.1-.4 1.1-.6 .2-.1 .9-.6 .7-.5 .4-.5 .6-.6 .5-1.1 .1 0 .2-1.2-.2-1.1-.1-.1-.5-1-.6-.7-.4-.4-.7-.6-.8-.6-.3-.1-2.2-1-2.2-.6-2.2-.4-2.2 0-1.1 .1-2.2 .4-1.2 .3-.6 .2-.5 .1-2.2 .8-.8 .2-.3 .1-1.1 .4-1.1 .5-.4 .2-.7 .4-1 .7-.1 .1-.8 1-.3 1.1 0 .1 .1 1.1 .5 1.1 .5 .5 .5 .6 .6 .5zM85.5 359.2l.2 0 1.1 .1 1.1 0 .2-.1 .9-.3 1.1-.6 .2-.2 .8-1.2 .1-.5 .1-.6-.1-.2-.4-.9-.7-.7-.9-.4-.2-.1-1.1-.2-1.1 .1-.9 .2-.2 0-1.1 .5-.9 .6-.3 .3-.5 .8-.1 1.1 .6 1.1 .1 .1 1.1 .7zM65.2 350.2l.5 .3 1.1 .1 1-.4 .2-.3 .2-.8-.2-.7-.4-.5-.8-.3-1.1 .2-.3 .1-.7 1.2zM114.9 346.8l.6 .2 1.1 .2 1.2 .1 1.1-.1 1.1-.2 .7-.2 .4-.1 1.1-.4 1-.6 .1-.1 1.1-.8 .3-.2 .8-.9 .2-.3 .8-1.1 .1-.1 .6-1 .4-1.1 .1-.5 0-5.8-.1-.5-.4-1.1-.6-1-.1-.1-.8-1.1-.2-.3-.8-.9-.3-.2-1.1-.8-.2-.1-.9-.4-1.1-.4-1.1-.3-.3 0-.8-.1-1.1-.1-1.2 .1-.9 .1-.2 0-2.2 .4-1.1 .3-1.1 .4-.1 0-1 .4-1.1 .5-.9 .2-.6 1.2 .1 1.1 0 2.2-.1 1.2-.1 1.1 0 1.1 .1 1.1 .2 1.1 .2 .7 .1 .5 .5 1.1 .5 1 .1 .1 .8 1.1 .2 .3 .8 .9 .3 .2 1.1 .8 .1 .1 1 .6 1.1 .4zM68.1 335.6l1 .4 1.1 .3 1.1 .2 1.1 .1 1.1 0 1.1-.2 1.1-.3 1.1-.5 1.1-.7 .6-.4 .5-.5 .9-.7 .2-.2 1.1-.8 .1-.1 1-.7 1-.4 .1-.1 1.2-.3 1.1-.2 1.1 0 4.4 .4 1 .2 .1 0 1.1 .1 1.1 .2 1.1 .1 3.3 0 1.1-.2 1.2-.2 2.2-.6 1.1-.4 .6-.1 .5-.3 1.1-.7 .4-.2-.4-.2-.2-.9-.8-1.1-.1-.1-1.1-1-.1 0-1-.7-.8-.5-.3-.1-1.1-.4-1.2-.2-1.1 0-2.2 .4-1 .3-.1 .1-2.2 .6-1.1 .2-2.2 .2-2.2-.2-2.2-.6-.8-.3-.3-.1-1.2-.3-1.1-.4-.9-.3-.2 0-1.1-.4-1.1-.5-.4-.2-.7-.3-1.1-.7-.2-.1-.9-.6-.8-.6-.3-.2-1.1-.7-.4-.2-.7-.3-1.1-.5-.8-.3-.3-.1-1.1-.4-1.1-.3-1-.3-.2-.1-2.2-.6-2.2-.4-.2 0-.9-.2-1.1-.1-2.2 0-1.1 .1-1.1 0-1.1 .1-.5 .1-.6 0-2.2 .2-1.2 .1-2.2 .4-1.1 .3-.2 .1-.9 .4-.9 .7-.2 .2-.6 .9-.5 1.1 0 1.2 .5 1.1 .6 .8 .2 .3 .9 .9 .3 .2 .8 .8 .3 .4 .8 .7 .5 .4 .6 .5 .8 .6 .3 .2 1.2 .7 .3 .2 .8 .4 1.1 .6 .2 .2 .9 .4 1.1 .5 .4 .2 .7 .3 1.1 .5 .9 .3 .2 .1 2.2 .8 .6 .2 .5 .2 2.2 .8 .5 .2 .6 .2 1.1 .5 1.2 .3zM24.8 316.5l1.1 .4 1.1 .2 1.1 0 1.1-.1 1.1-.3 .7-.2 .4-.1 1.1-.4 1.1-.5 .4-.1 .8-.4 1.1-.5 .5-.3 .6-.4 .7-.7 .4-.8 .1-.3-.1-.6-.1-.5-.5-1.2-.5-1.1 0-.1-.4-1-.2-1.1 0-3.4-.4-1.1-.1-.2-1.1-1.1-1.2-.6-1-.4-.1 0-1.1-.3-1.1-.1-1.1 .1-1.1 .2-.4 .1-.7 .2-1.1 .6-.6 .3-1.6 1.6 0 13.5zM98.4 314.2l.5 .4 1.1 .3 1.2-.4 .3-.3 .6-1.1 0-1.1-.7-1.1-.2-.2-1.2-.4-1.1 0-1.1 .6-.4 1.1 .1 1.1 .3 .5zM106 308.6l.7 .4 1.1 .4 1.1 .1 1.1 0 1.1-.2 1.1-.5 .4-.2 .7-.5 .7-.6 .4-.8 .3-.3 .3-1.2 0-1.1-.2-1.1-.4-.7-.2-.4-.9-1-.2-.2-.9-.6-1.1-.4-.3-.1-.8-.2-1.1 0-1.1 .2-.1 0-1 .3-1.1 .8-.1 0-1 1.2-.6 1.1-.2 1.1 .1 1.1 .3 1.2 .4 .7 .2 .4 .9 .8zM75.6 299.6l.1 .1 1.1 .2 1.1 .1 1.1-.1 .9-.3 .2-.1 1.1-.7 .4-.3 .7-1.1 0-.1 .4-1.1 .2-1.1-.1-1.1-.3-1.1-.2-.6-.2-.5-.4-1.2 0-1.1 .6-.6 .9-.5 .2-.1 1.2-.5 1.1-.4 .2-.1 .9-.5 1-.7 .1 0 1-1.1 .1-.3 .3-.8 0-1.1-.3-.8-.1-.4-.8-1.1-.2-.2-1.1-.9-1.1-.7-1-.4-.1-.1-1.2-.3-1.1-.2-1.1-.1-1.1 0-1.1 .1-1.1 .3-.6 .3-.5 .1-1.1 .6-.6 .4-.5 .4-.9 .7-.2 .3-.8 .8-.3 .6-.4 .6-.4 1.1-.1 1.1 .1 1.1 .3 1.2 .5 .8 .1 .3 .2 1.1-.3 1 0 .1-.7 1.2-.2 1.1 0 1.1 .1 1.1 .5 1.1 .3 .5 .3 .7 .8 .8 .2 .3 .9 .6z"/>
<path fill="#a6dcd4" fill-rule="evenodd" d="M31.5 360.3l1 .4 1.1 .3 1.2 .2 1.1 .1 2.2 0 1.1-.1 1.1-.2 1.1-.3 1.1-.4 1.1-.6 .8-.5 .3-.4 .6-.7 .3-1.2-.3-1.1-.6-.8-.3-.3-.8-.5-1.1-.6-1.1-.4-1.1-.3-1.1-.2-2.2 0-1.1 .1-1.1 .2-1.2 .3-.8 .3-.3 .1-1.1 .5-.9 .5-.2 .1-1.1 1-.5 1.1 .1 1.2 .4 .5 .5 .6 .6 .4 1.1 .7zM115 344.6l.5 .2 1.1 .2 1.2 .1 1.1-.1 1.1-.2 .5-.2 .6-.2 1.1-.6 .4-.4 .7-.5 .6-.6 .5-.7 .3-.4 .6-1.1 .4-1.2 .2-1.1 .1-1.1-.1-1.1-.2-1.1-.4-1.2-.6-1.1-.3-.4-.5-.7-.6-.6-.7-.5-.4-.4-1.1-.6-.6-.2-.5-.1-1.1-.3-1.1-.1-1.2 .1-1.1 .2-.9 .2-.2 .1-1.1 .5-.9 .6-.2 .1-1 1-.1 .2-.6 .9-.5 1.1 0 .1-.3 1.1-.2 1.1 0 1.1 .1 1.1 .2 1.1 .4 1.2 .6 1.1 .3 .4 .5 .7 .6 .6 .7 .5 .4 .4 1.1 .6zM70.3 334.5l1 .2 1.1 .2 1.1 0 1.1-.1 1.1-.3 .1 0 1-.5 1.1-.7 1.1-.8 .3-.3 .8-.7 .6-.4 .5-.5 1-.6 .1-.2 1.1-.5 1.2-.2 1.1-.1 2.2 .2 2.2 .4 1.1 .3 .5 .1 .6 0 1.1 .2 1.1 .1 2.2 0 1.1-.2 .9-.1 .2-.1 1.1-.4 1.2-.6 .1-.1 .8-1.1-.2-1.1-.7-.8-.5-.3-.7-.3-1.1-.2-1.1-.1-1.1 .1-1.1 .3-.9 .2-.2 0-2.2 .6-3.3 .3-1.1-.1-1.1 0-2.2-.4-1.2-.4-2.2-.8-.6-.4-.5-.2-1.1-.5-.6-.4-.5-.3-1.1-.6-.3-.2-.8-.5-.9-.6-.2-.2-1.1-.7-.5-.3-.6-.3-1.1-.5-.7-.3-.4-.1-1.1-.4-1.1-.3-1-.3-.2 0-2.2-.6-1.1-.1-1.1-.2-1.1 0-1.1-.1-1.1 0-1.1 .1-1.1 0-2.2 .2-1.1 .2-1.1 .1-1.1 .2-.9 .2-.3 .1-1.1 .4-1.1 .5-.1 .1-.9 1.1 0 1.2 .5 1.1 .5 .6 .4 .5 .7 .9 .2 .2 .9 1 .2 .2 1 .9 .1 .2 1 .8 .4 .3 .7 .5 1 .6 .1 .1 1.1 .5 1.1 .6 2.2 .8 .7 .3 .4 .1 1.1 .4 3.3 .9 2.2 .8 .2 0 1 .4 1.1 .4 1.1 .3zM27.9 315.4l1.8 0 .6-.1 1.1-.3 1.1-.4 1-.4 .1-.1 1.2-.6 .4-.4 .7-.8 .2-.3 .1-1.1-.2-1.2-.1-.5-.2-.6-.4-1.1-.3-1.1-.2-1.2 0-.3-.3-.8-.6-1.1-.3-.3-1.1-.8-1.1-.4-1.1-.1-1.1 .1-1.1 .2-.2 .2-.9 .4-.9 .7-.2 .2-.8 .9-.3 .5-.4 .6-.4 1.2-.3 1.1 0 3.4 .3 1.1 .5 1.1 .3 .5 .6 .6 .5 .4 1.1 .6zM106.9 307.5l.9 .5 1.1 .2 1.1 0 1.1-.3 .8-.4 .3-.2 .8-.9 .3-.7 .2-.5 0-1.1-.2-.6-.2-.5-.9-1.1-1.1-.7-1.1-.3-1.1 0-1.1 .2-1.1 .7-.1 .1-.9 1.1-.1 .2-.3 .9 0 1.1 .3 .7 .2 .5 .9 1zM76.4 297.4l.4 .2 1.1 .2 1.1-.3 .2-.1 .6-1.2 0-1.1-.7-1.1-.1-.1-1.1-.4-1.1 .2-.4 .3-.7 .9-.1 .2 0 1.1 .1 .3z"/>
<path fill="#7ccabe" fill-rule="evenodd" d="M36.6 358.1l.8 0 .7-.2 1.1-.8 .1-.2-.1-.1-1.1-.8-1.1-.1-1.1 .3-1 .7 1 .9zM114.4 342.3l0 .1 1.1 .5 1.1 .3 1.2 .1 1.1-.1 1.1-.3 1.1-.5 0-.1 1.1-.8 .3-.3 .8-1.1 .6-1.2 .2-1.1 .1-1.1-.1-1.1-.2-1.1-.6-1.2-.8-1.1-.3-.3-1.1-.8 0-.1-1.1-.5-1.1-.3-1.1-.1-1.2 .1-1.1 .2-1.1 .5-.2 .2-.9 .6-.4 .5-.7 .9-.1 .2-.5 1.2-.3 1.1 0 1.1 .1 1.1 .3 1.1 .5 1.2 .8 1.1 .3 .3zM71.6 333.3l.8 .2 1.1 0 1.1-.1 .3-.1 .8-.2 1.1-.6 .5-.3 .6-.5 .8-.6 .3-.4 .7-.7 .4-.7 .4-.5 .4-1.1-.3-1.1-.5-.4-.6-.7-.5-.3-1.1-.9-1.1-.7-.5-.4-.6-.4-2.2-1.4-.8-.4-.3-.2-1.1-.6-.9-.4-.2-.1-1.1-.4-1.1-.3-.9-.3-.3 0-1.1-.3-2.2-.4-1.1-.1-3.3 0-3.3 .3-2.2 .4-.3 .1-.8 .3-1.1 .6-.5 .2-.6 1.2 .2 1.1 .6 1.1 .3 .4 .5 .7 .6 .7 .3 .5 .8 .7 .3 .4 .8 .6 .7 .5 .4 .2 1.1 .7 .5 .2 .6 .3 2.2 .8 .1 .1 1 .3 1.1 .3 1.1 .2 1 .3 .1 0 1.1 .3 1.1 .4 1.2 .4 2.2 .8 1.1 .3zM94.3 328.8l.2 .1 1.1 0 .3-.1 .8-.1 1.1-.5 .7-.5-.6-1.1-.1 0-1.1-.2-1.1 .1-.5 .1-.6 .2-1.1 .5-1.1 .4-.2 0 .2 .1 1.1 .7zM27.1 313.1l1 .5 1.1 .3 1.1-.1 1.1-.2 1.1-.4 .2-.1 .9-.8 .4-.3 .4-1.1 0-1.2-.2-1.1-.4-1.1-.2-.5-.2-.6-.5-1.2-.4-.5-.6-.6-.5-.3-1.1-.3-1.1 .1-1.1 .4-.1 .1-1 .9-.2 .2-.7 1.2-.2 .4-.2 .7-.2 1.1 0 1.1 .2 1.2 .2 .6 .2 .5 .9 1zM107.4 306.4l.4 .2 1.1 .5 1.1-.1 1.1-.4 .3-.2 .8-1.2 0-1.1-.6-1.1-.5-.4-1.1-.4-1.1-.1-1.1 .5-.5 .4-.6 1-.1 .1 .1 1.1z"/>
<path fill="#4faaa1" fill-rule="evenodd" d="M116 341.2l.6 .2 1.2 .2 1.1-.2 .6-.2 .5-.2 1.1-.8 .1-.1 .8-1.2 .2-.4 .2-.7 .1-1.1-.1-1.1-.2-.7-.2-.4-.8-1.2-.1-.1-1.1-.8-.5-.2-.6-.2-1.1-.2-1.2 .1-.7 .3-.4 .1-1.1 .8-.1 .2-1 1.5-.2 .8-.1 1.1 .1 1.1 .2 .7 .2 .4 .8 1.2 .1 .1 1.1 .8zM68.8 331.1l.3 .1 1.1 .4 1.1 .3 1.1 .2 1.1 .1 1.1-.2 1.1-.4 .8-.5 .3-.2 .9-.9 .2-.5 .4-.7 .1-1.1-.4-1.1-.1-.1-.8-1-.3-.3-1.1-.9-1.1-.8-.5-.3-.6-.4-1.1-.7-.1 0-1-.6-2.2-1-1.1-.4-.9-.3-.3 0-1.1-.3-2.2-.4-1.1-.1-2.2 0-2.2 .2-1.1 .2-1.1 .3-.6 .1-.5 .3-1.1 .9-.1 0-.3 1.1 .3 1.1 .1 .1 .6 1 .5 .7 .4 .5 .7 .6 .5 .5 .6 .4 1.1 .7 1.1 .5 1.1 .4 .6 .2 .5 .2 2.2 .6 1.1 .2 .6 .2 .5 .1 1.1 .3 1.2 .4zM28.1 310.9l1.1 .8 1.1 .2 1.1-.4 .7-.6 .3-1.2-.2-1.1-.6-1.1-.2-.3-1.1-.8-1.1 .1-1.1 1-.4 1.1 0 1.1zM108.6 305.2l.3 .2 1.1 0 .2-.2 .1-1.1-.3-.2-1.1-.1-.3 .3z"/>
<path fill="#298b83" fill-rule="evenodd" d="M116.1 338.9l.5 .4 1.2 .2 1.1-.2 .5-.4 .6-.6 .3-.5 .2-1.1-.2-1.1-.3-.5-.6-.6-.5-.4-1.1-.2-1.2 .2-.5 .4-.6 .5-.3 .6-.2 1.1 .2 1.1 .3 .5zM69.9 330l.3 0 2.2 .6 1.1 0 1.1-.3 .5-.3 .6-.6 .4-.6 .1-1.1-.5-1.1 0-.1-1.1-1.1-1.1-.9-.2-.2-.9-.5-.8-.6-.3-.1-1.1-.7-.7-.3-.4-.2-1.1-.5-1.2-.4-1.1-.3-2.2-.4-1.1-.1-2.2 0-1.1 .2-1.1 .3-.8 .3-.3 .2-.9 .9-.1 1.1 .6 1.1 .4 .6 .5 .6 .6 .4 .9 .7 .2 .1 2.2 1 .2 0 .9 .3 1.1 .2 1.1 .3 1.1 .2 .6 .1 .5 .2 1.2 .3 1.1 .3z"/>
<path fill="#0a6f67" fill-rule="evenodd" d="M70 327.7l.2 0 1.1 .1 .8-.1 .1-1.1-.9-1-.1-.1-1-.8-.4-.4-.7-.4-1-.7-.1-.1-1.2-.5-1.1-.5-.1 0-1-.2-1.1-.2-1.1-.1-1.1 .1-1.1 .2-.5 .2-.6 .7-.3 .4 .3 .9 .1 .2 1.2 1.2 .9 .4 1.1 .4 .8 .3 .3 .1 1.1 .1 1.1 .2 1.1 .1 1.2 .2 1.1 .2z"/>
<path fill="#f6eac9" fill-rule="evenodd" d="M78.9 351.3l.1 0 1.1 .1 1.1-.1 2.2-.6 1.2-.3 .5-.2 .6-.2 1.1-.5 1.1-.4 .1 0 2-1.2 .1 0 1.1-.7 .7-.4 .4-.2 1.1-.3 1.1 .5 0 .1 .3 1 .8 1.2 1.1 .9 .3 .2 .8 .4 1.1 .3 1.1 .1 1.2-.1 1.1-.3 .6-.4 .5-.4 .6-.7 .2-1.2-.4-1.1-.4-.5-.8-.6-.3-.2-1.1-.5-1.2-.3-1-.1-.1 0-1.1-.2-.9-1 .6-1.1 .3-.6 .3-.5 .5-1.1 .3-1.2 0-1.1-.3-1.1-.7-1.1-.1 0-1.1-.9-.4-.2-.7-.3-1.1-.5-1.1-.3-.1-.1-1-.2-2.2-.4-1.1-.1-1.1 0-2.2 .2-1.1 .4-.4 .1-.8 .4-1 .8-.1 0-1.1 1 0 .1-1 1.1-.1 .1-.7 1-.4 .8-.2 .3-.6 1.2-.3 .9-.1 .2-.3 1.1-.4 1.1-.2 1.2-.1 .3-.1 .8-.1 1.1 .1 1.1 .1 .5 .2 .7 .5 1.1 .4 .5zM25.3 347.9l.6 .2 1.1 .2 1.1 .1 1.1-.1 1.1-.3 .2-.1 .9-.3 1.1-.6 .4-.2 .7-.5 .8-.6 .4-.4 .6-.7 .5-.8 .2-.4 .5-1.1 .4-1 0-.1 .4-1.1 .4-1.2 .3-.5 .4-.6 .7-.8 .8-.3 .3-.1 1.1 0 .7 .1 .4 .1 1.1 .2 1.1 .1 1.1 .2 1.1 0 1.1 .1 2.2-.2 1.2-.2 .7-.3 .4-.2 1-.9-.1-1.1-1.2-1.2-2-1-.1-.1-1-.3-1.1-.4-1.1-.2-.8-.2-.3-.1-1.1-.1-2.2 0-1.1 .1-2.2 0-1.1-.3-1.1-.7-.1 0-1-.9-.4-.3-.7-.7-.5-.4-.7-.5-.9-.6-.2-.1-1.1-.6-1.1-.4-.4 0-.7-.2-1.1 0-1 .2-.1 0-1.1 .3-1.1 .6-.3 .2-.8 .7 0 19.8 1.1 .7zM87.1 323.2l.8 .3 1.1 .4 1.1 .1 1.1 0 1.1-.1 1.1-.2 1.1-.4 .2-.1 .9-.5 1.1-.6 .1 0 1-.8 .5-.3 .6-.9 .3-.3 .1-1.1-.4-.3-.4-.8-.7-.7-.2-.4-.9-1-.1-.1-.7-1.2-.3-.4-.4-.7-.6-1.1-.1-.3-.5-.8-.6-1.1 0-.1-1.1-1.1-.1 0-1-.7-.7-.4-.4-.2-1.1-.7-.3-.2-.8-.6-1-.6-.1 0-1.1-.6-1.1-.5-.1 0-1.1-.4-1.1-.3-1.1-.2-2.2-.2-.3 0-.8-.1-4.4-.4-1.1 0-1.1-.1-3.3 0-1.2-.1-1.1 0-1.1-.1-1.1 0-3.3-.3-1.5 0-.7-.1-5.5-.5-1.1-.2-1.2-.1-1.1-.2-.8-.1-.3 0-1.1-.1-1.1 0-.6 .1-.5 .1-1.1 .3-1.1 .5-.3 .3-.8 .4-1.1 1.1-.6 .7-.5 1-.1 .1-.2 1.2 .1 1.1 .2 .3 .4 .8 .7 .9 .3 .2 .8 .8 .7 .4 .4 .3 1.1 .4 1.1 .3 .5 .1 .6 .1 1.1 .1 2.2 0 1.1-.1 1.2-.1 1.1 0 1.1-.1 6.6 0 .7 .1 .4 0 1.1 .2 1.1 .3 1.1 .5 .3 .1 .8 .4 1.1 .6 .3 .1 .9 .4 1.1 .5 .6 .3 .5 .2 2.2 .8 .1 .1 1 .4 1.1 .6 .1 .1 1 .7 .6 .4 .5 .4 1.1 .6 .2 .1 .9 .5 2.2 .6 .7 .1 .4 0 1.1 .3 1.2 .5 .5 .3 .6 .3 1.1 .6zM107.2 322.1l.6 .2 1.1 .4 1.1 .2 2.2 .2 1.1 0 2.2-.2 1.1-.2 1.2-.2 1.1-.2 .8-.2 .3-.1 1.1-.4 1.1-.5 .3-.1 .8-.7 .5-.5 .4-1.1-.1-1.1-.6-1.1-.2-.2-1.1-.9 0-.1-1.1-.6-1-.5-.1 0-1.1-.4-1.1-.3-1.2-.1-2.2-.2-1.1 .1-1.1 0-1.1 .2-1.1 .1-2.2 .6-1.1 .6-.7 .6-.4 .3-1.1 1.1-.7 .8-.4 .9-.2 .2 .2 .4 .2 .7 .9 .8 .4 .4 .7 .3 1.1 .6zM35.3 294l.6 .1 2.2 .2 2.2-.2 .2-.1 .9-.2 1.1-.5 .8-.4 .3-.2 1.1-.9 .1 0 1.2-1.2 .9-1 .1-.1 .8-1.1 .2-.3 .6-.8 .5-.8 .3-.4 .7-1.1 .1-.2 .7-.9 .5-.5 .5-.6 .6-.6 .7-.6 .4-.2 1.1-.6 .7-.3 .4-.1 2.2-.4 1.1-.1 1.1-.2 1.1-.1 1.1-.2 .1 0 1-.2 1.1-.3 1.1-.4 .7-.2 .4-.3 1.2-.6 .4-.3 .7-.4 1.1-1.1 .6-.7 .5-.9 .1-.2 .2-1.2-.2-1.1-.1-.3-.5-.8-.6-.7-.6-.4-.5-.4-1.1-.5-.6-.2-43.1 0-.6 .4 0 20.1 1.1 .7 .2 .1 .9 .6 .5 .5 .6 .4 1.1 .7 .1 .1 1 .4 1.1 .5 .5 .2 .6 .2 2.2 .6 1.2 .2z"/>
<path fill="#ebd6a2" fill-rule="evenodd" d="M26.4 345.7l.6 .3 1.1 .2 1.1-.1 1.1-.3 .3-.1 .8-.5 .8-.6 .3-.4 .7-.8 .4-.8 .2-.3 .4-1.1 .6-2.2 0-.1 .2-1.1 .1-1.1 0-1.1-.1-1.1-.2-.7-.2-.5-.5-1.1-.5-.6-.4-.5-.7-.7-.5-.4-.6-.5-1.1-.5-.6-.2-.5-.1-1.1 0-.4 .1-.7 .2-1.1 .7-1.1 1.1-.2 .3-.7 1.1-.2 .5 0 10 .4 .7 .7 1.1 .1 .1 1 .8zM82.9 345.7l.5 .3 1.2-.2 .2-.1 .9-.3 1.1-.4 1-.4 .1-.1 1.1-.3 1.1-.4 .7-.4 .4-.1 1.1-.6 .7-.4 .4-.3 1-.8 .1-.2 .8-.9 .4-1.2 .1-1.1-.2-.8-.1-.3-.8-1.1-.2-.1-1.1-.7-.6-.3-.5-.2-1.1-.3-2.2-.4-1.1 0-2.2 .4-1.1 .5-1.2 .7-.4 .4-.7 .8-.2 .3-.6 1.1-.3 1.1-.1 1.2 .1 .7 .1 .4 .3 1.1 .4 1.1 .3 1.2 0 .1zM89.1 323.2l1 .2 1.1 .1 1.1-.2 .4-.1 .7-.2 1.1-.5 .8-.4 .3-.3 1-.8 .1-.2 .6-1 .1-1.1-.3-1.1-.4-.6-.2-.5-.8-1.1-.1-.2-.7-1-.4-.6-.4-.5-.7-.9-.2-.2-.9-.8-.6-.3-.5-.4-1.1-.5-.7-.3-.4-.2-1.1-.8-.1-.1-1-.9-.2-.2-.9-.8-.5-.3-.6-.5-1.4-.7-.9-.3-1.1-.4-1.1-.3-.7-.1-.4-.1-5.5-.5-4.4 0-1.1-.1-1.2 0-4.4-.4-1.1 0-4.4-.4-1.1 0-1.1-.1-1.1 0-2.2-.2-1.2-.2-2.2-.2-2.2 0-1.1 .2-1.1 .4-1 .5-.1 .1-1.1 .8-.3 .2-.8 1.1 0 .1-.4 1.1 .2 1.1 .2 .3 .5 .8 .6 .6 .6 .5 .5 .3 1.1 .6 1 .3 .1 0 1.1 .3 1.1 .1 2.2 0 1.1-.1 1.2-.1 2.2 0 1.1-.1 6.6 0 2.2 .4 1.1 .3 .7 .3 .4 .2 1.1 .7 1.2 .6 1.1 .6 .1 .1 1 .5 1.1 .4 .5 .3 .6 .2 1.1 .5 .8 .4 .3 .1 1.1 .7 .4 .3 .7 .5 1 .6 .1 .1 1.1 .5 1.1 .4 1.1 .1 .2 0 .9 .1 1.1 .1 1.2 .4 .6 .6 .5 .2 1 .9 .1 0 1.1 .6 1.1 .5zM110.2 321l.9 .2 1.1 .1 1.1 0 2.2-.2 .5-.1 .6-.2 1.2-.5 .7-.5 .4-.5 .3-.6-.3-1.1 0-.1-1.1-.9-.3-.1-.9-.4-1.1-.3-2.2-.2-2.2 .2-1.1 .3-.9 .4-.2 .1-1.1 .9-.1 .1-.3 1.1 .4 .8 .2 .3 .9 .6 1.1 .5zM34.7 289.5l.1 0 1.1 .4 1.1 .1 1.1-.1 1.1-.2 .4-.2 .7-.2 1.1-.6 .4-.3 .7-.5 .8-.6 .3-.4 .8-.8 .3-.4 .6-.7 .5-.7 .4-.4 .7-1.1 .1 0 .8-1.2 .2-.2 .7-.9 .4-.5 .7-.6 .4-.5 1.2-.9 1.1-.7 .7-.2 .4-.1 1.1-.1 2.2 .2 .7 0 .4 .1 1.1 .1 1.1 0 1.1-.1 .9-.1 .2 0 1.1-.2 1.1-.4 1.1-.5 1.1-.9 .2-.2 .6-1.1-.1-1.2-.7-.9-.1-.2-1-.6-1.1-.4-.2-.1-.9-.2-2.2-.2-2.2 .2-.9 .2-.2 .1-3.3 .9-.4 .1-.7 .2-1.1 .2-1.1 0-1.2-.2-.5-.2-.6-.1-2.2-.8-.5-.2-.6-.2-1.1-.4-1.1-.3-.9-.2-.2-.1-2.2-.4-3.3-.3-2.2 .2-1.2 .1-1.1 .3-.7 .2-.4 .1-1.1 .4-1.1 .5-.2 .1-.9 .6-.8 .5-.3 .3-.9 .8-.8 1.2-.5 .9-.1 .2-.3 1.1-.1 1.1 .2 1.2 .3 .5 .4 .6 1.1 1.1 .7 .5 .8 .6 .3 .2 1.1 1 1 1.1 .1 .2 .6 .9 .5 .9 .2 .2 .6 1.2 .3 .4 .6 .7 .5 .5z"/>
<path fill="#ddbe78" fill-rule="evenodd" d="M27.2 343.4l.9 .4 1.1 0 .8-.4 .3-.1 1.1-1 .7-1.1 .4-1.1 0-.1 .3-1.1 .2-2.2-.2-1.1-.3-1.1-.6-1.2-.5-.6-.5-.5-.6-.4-1.1-.4-1.1 .1-1.1 .5-.3 .2-.8 .9-.2 .2-.5 1.2-.4 1.1-.2 1.1-.1 1.1 .1 1.1 .2 .9 0 .3 .5 1.1 .6 1.1 1.1 1.1zM84.6 341.2l1.1 .6 1.1 .3 1.1 0 1.1-.2 1.1-.3 1-.4 .1-.1 1.1-.7 .3-.3 .7-1.2 .1-.3 .1-.8-.1-.3-.3-.8-.8-.8-.4-.3-.7-.3-1.1-.4-1.1-.1-1.1 0-1.1 .2-1.1 .4-.4 .2-.7 .6-.5 .5-.6 1.1-.1 .4 0 1.1 .3 .8zM88.1 322.1l.9 .4 1.1 .3 1.1 0 1.1-.1 1.1-.3 .6-.3 .5-.4 .9-.7 .2-.3 .5-.9 .2-1.1-.2-1.1-.5-.9-.1-.2-.7-1.1-.3-.5-.6-.7-.5-.6-.6-.5-.5-.4-1.1-.5-.8-.2-.3-.1-1.1-.2-1.1-.3-.7-.5-.4-.5-.4-.7-.7-.9-.1-.2-1-1.1-.1 0-1.1-.8-.4-.3-.7-.4-1.1-.5-.9-.3-.2 0-1.1-.3-2.2-.4-1.1-.1-1.1 0-1.1-.1-5.5 0-1.2-.1-.9-.1-.2 0-2.2-.2-1.1-.2-3.3-.3-1.1 0-1.1-.1-2.2 0-3.3-.3-.6 0-.6-.1-1.1-.2-1.1-.1-1.1 0-1.1 .1-1.1 .3-1.1 .4-1.1 .7-.1 0-1 1.1-.5 1.2 .2 1.1 .3 .5 .5 .6 .6 .5 1 .6 .1 .1 1.1 .4 1.1 .3 1.1 .1 2.2 0 1.1-.1 1.2 0 1.1-.1 3.3 0 1.1-.1 5.5 0 1.1 .1 1.1 .3 .7 .2 .4 .2 1.1 .6 .5 .3 .7 .4 1 .7 .1 .1 1.1 .6 .8 .4 .3 .1 2.2 1 .2 .1 .9 .4 1.1 .6 .1 .1 1 .7 .7 .4 .4 .3 1.1 .5 1 .3 .1 0 1.1 .1 2.2-.2 .8 .1 .4 .1 1.1 1 1 1.2 .1 0 1.1 .9zM34.8 285l1.1 .7 1.1 .3 1.1 0 1.1-.3 1.1-.5 .2-.2 .9-.6 1.6-1.6 .6-.7 .4-.5 .7-.9 .1-.2 .8-1.1 .2-.4 .5-.7 .5-1.2 .1-.5 .2-.6-.2-.7-.1-.4-.8-1.1-.2-.2-1.1-.7-.3-.3-.8-.3-2.2-.8-2.2-.4-1.1-.1-1.1 0-1.1 .1-1.1 .2-1.2 .2-1.1 .4-1.1 .5-.3 .2-.8 .6-.6 .6-.5 .7-.3 .4-.3 1.1 0 1.1 .5 1.2 .1 .2 .6 .9 .5 .6 .4 .5 .7 .8 .3 .3 .8 1 .2 .2 .9 1.1z"/>
<path fill="#ca9849" fill-rule="evenodd" d="M27.4 340.1l.7 .6 1.1 0 .8-.6 .3-.5 .3-.7 .2-1.1-.1-1.1-.3-1.1-.1-.1-1.1-1-1.1 .1-.9 1-.2 .3-.3 .8-.1 1.1 .2 1.1 .2 .6zM86.1 338.9l.7 .7 1.1 .4 1.1-.1 1.1-.6 .5-.4 .3-1.1-.8-1.1-1.1-.3-1.1 0-1 .3-.1 .1-.9 1zM89.9 322.1l.2 0 1.1 .1 1.1-.1 1.1-.5 .9-.6 .2-.2 .6-1 .3-1.1-.2-1.1-.5-1.1-.2-.3-.6-.8-.5-.6-.7-.6-.4-.3-1.1-.5-1.1-.1-1.1 .1-1.1 .3-1.1 .5 0 .1-1.1 1-.3-3.3-.3-1.1-.4-1.2-.1-.2-.6-.9-1.1-1.1-.6-.4-1.1-.7-.2 0-.9-.4-2.2-.6-1.1-.1-.3-.1-.8-.1-1.1 0-1.1-.1-1.1 0-1.1 .1-2.2 0-1.1-.1-1.2-.1-2.2-.2-1.1-.2-2.2-.2-1.1-.2-1.1 0-2.2-.2-1.1 0-1.1-.1-1.1 0-2.2-.2-1.2-.1-1.1-.2-1.1-.1-1.1 0-1.1 .1-1.1 .3-1 .5-.1 .1-1.1 .9-.2 .1-.5 1.2 .2 1.1 .5 .6 .4 .5 .7 .4 1.1 .5 .7 .2 .4 .1 1.1 .2 2.2 0 1.1-.1 1.2 0 1.1-.1 3.3 0 1.1-.1 2.2 0 1.1-.1 3.3 0 .8 .1 .3 .1 1.1 .3 1.1 .4 .5 .4 .7 .4 .8 .7 .3 .1 1.1 .8 .3 .2 .8 .4 1.1 .6 .3 .1 .8 .4 1.1 .4 .6 .4 .5 .2 1.1 .7 .4 .2 .7 .4 1.1 .6 .4 .1 .7 .2 1.1-.1 .6-.1 .5-.2 1.1-.7 .6-.2 .6-.6 1.1-.5 0 1.1 .3 1.1 .4 1.1 .4 .7 .2 .4 .9 1.2 1.1 .7zM35.8 281.6l.1 .1 1.1 .4 1.1 0 1.1-.4 0-.1 1.1-.7 1.1-1.1 .3-.4 .7-1.1 .3-1.2-.1-1.1-.1-.2-.6-.9-.5-.3-1.1-.6-.7-.2-.4-.1-1.1-.2-1.1 0-1.1 .2-.4 .1-.7 .2-1.2 .6-.3 .3-.8 1 0 .1-.1 1.1 .1 .7 .2 .5 .6 1.1 .3 .4 .7 .7 .5 .4z"/>
<path fill="#b37625" fill-rule="evenodd" d="M89.2 321l.9 .4 1.1 .1 1.1-.2 .8-.3 .3-.3 .7-.9 .4-1.1-.2-1.1-.6-1.1-.3-.5-.7-.6-.4-.4-1.1-.4-1.1-.1-1.1 .4-.6 .5-.5 .7-.2 .4-.3 1.1 .2 1.1 .3 .7 .2 .4 .9 1zM79 316.5l1.1 .2 1.1-.2 .1 0 1-.8 .4-.3 .6-1.2 .1-.4 .3-.7 .2-1.1-.1-1.1-.4-1.1 0-.1-.7-1.1-.4-.4-.9-.7-.2-.1-1.1-.6-1.1-.4-.1 0-1-.3-1.1-.2-2.2-.2-1.1 0-1.1 .1-1.1 0-1.1 .1-2.2 0-1.2-.1-1.1-.1-1.1-.2-.9-.3-.2 0-1.1-.2-1.1-.1-1.1-.2-2.2-.2-1.1 0-1.1-.1-2.2 0-2.2-.2-.5-.1-.7-.1-2.2-.2-1.1 0-1.1 .1-.6 .2-.5 .2-1.1 .7-.3 .2-.6 1.2 .2 1.1 .7 .7 .5 .4 .6 .3 1.1 .4 1.1 .2 2.2 0 1.1-.1 1.2-.1 1.1 0 1.1-.1 3.3 0 1.1-.1 1.1 0 1.1-.1 1.1 0 1.1-.1 2.2 0 1.1 .1 1.1 .4 .6 .3 .6 .4 .9 .8 .2 .1 1.1 .9 0 .1 1.1 .7 .6 .4 .5 .2 1.1 .5 .9 .4 .2 .1 1.1 .5 1 .6 .1 0 1.1 .6z"/>
<path fill="#955910" fill-rule="evenodd" d="M89.3 319.8l.8 .6 1.1 .3 1.1-.3 .7-.6 .4-.8 .1-.3-.1-.6-.1-.5-.7-1.1-.3-.3-1.1-.5-1.1 .2-.9 .6-.2 .3-.3 .8 0 1.1 .3 .7zM78.8 315.4l.2 0 1.1 .1 .4-.1 .7-.5 .6-.7 .5-1 .1-.1 .3-1.1-.1-1.1-.3-1 0-.2-.8-1.1-.3-.2-1.1-.8-.2-.1-.9-.4-1.1-.3-2.2-.4-2.2 0-2.2 .2-2.2 .4-1.1 .3-1.2 .1-1.1 0-1.1-.5-.3-.5-.8-.2-2.2-.6-1.1-.2-.8-.2-.3 0-2.2-.2-2.2 0-3.3-.3-1.2-.1-1.1-.2-1.1-.1-1.1 0-1.1 .2-1.1 .5-.4 .2-.7 1-.1 .2 .1 .4 .2 .7 .9 .7 .7 .4 .4 .2 1.1 .2 2.2 0 1.1-.1 1.2-.1 1.1-.1 3.3 0 1.1-.1 1.1 0 1.1-.1 1.1-.2 1.1-.1 3.3-.6 1.1-.1 1.1 0 1.2 .8 .1 .3 1 .9 .1 .2 1 1.1 0 .1 1.1 .9 .2 .2 .9 .5 1.1 .6 2.2 1 .4 .1 .7 .4 1.1 .5z"/>
<path fill="#754308" fill-rule="evenodd" d="M90.3 318.7l.9 .5 .7-.5-.4-1.1-.3-.2-.6 .2zM78.7 314.2l.3 .1 .4-.1 .7-.1 1-1 .1-.3 .3-.8 0-1.1-.3-1 0-.2-1-1.1-.1 0-1.1-.7-1.1-.4-2.2-.4-1.1 0-2.2 .2-.6 .2-.5 .2-.9 .9 .3 1.1 .6 .7 .3 .5 .8 .6 .5 .5 .6 .3 1.1 .5 .6 .3 .5 .2 2.2 .8zM44.8 307.5l1 .6 1.1 .3 1.1 .1 2.2-.2 1.2-.1 1.1-.2 2.2 0 1.1-.1 1.1 0 2.2-.2 1-.2 .1-.2 .2-.9-.2-.1-2.2-.4-2.2-.2-1.1 0-2.2-.2-1.1-.2-.3-.1-.9-.1-1.1-.1-1.1-.2-1.1 .1-1.1 .2-.3 .1-.8 .8-.3 .4 .3 1z"/>
<path fill="#543005" fill-rule="evenodd" d="M74.6 312l2.2 .8 1.1 .3 1.1-.1 1.1-1 .1 0 .1-1.1-.4-1.2-.9-.8-.5-.3-.6-.2-1.1-.3-1.1-.2-1.1 .1-1.1 .2-.9 .4-.2 .7-.1 .4 .1 .2 .6 1 .5 .3zM46.1 307.5l.8 .2 1.1 .1 1.1 0 1.1-.2 .8-.1 .4-.3 .8-.8-.8-.2-1.2-.2-1.1-.3-1.1-.2-1.1 .1-1.1 .5-.2 .3 .2 .6z"/>
</g>
<path fill="#222" d="M26.8 305.0h1v1h-1zM26.8 307.8h1v1h-1zM26.8 335.9h1v1h-1zM26.8 338.7h1v1h-1zM29.5 307.8h1v1h-1zM29.5 333.1h1v1h-1zM29.5 335.9h1v1h-1zM29.5 338.7h1v1h-1zM29.5 341.5h1v1h-1zM29.5 352.8h1v1h-1zM32.3 333.1h1v1h-1zM32.3 338.7h1v1h-1zM32.3 341.5h1v1h-1zM32.3 352.8h1v1h-1zM35.1 316.3h1v1h-1zM35.1 352.8h1v1h-1zM37.9 316.3h1v1h-1zM37.9 350.0h1v1h-1zM40.6 271.3h1v1h-1zM40.6 274.1h1v1h-1zM40.6 276.9h1v1h-1zM43.4 330.3h1v1h-1zM46.1 330.3h1v1h-1zM48.9 330.3h1v1h-1zM51.7 330.3h1v1h-1zM60.0 293.8h1v1h-1zM65.5 291.0h1v1h-1zM65.5 344.3h1v1h-1zM65.5 347.2h1v1h-1zM68.3 288.2h1v1h-1zM68.3 291.0h1v1h-1zM68.3 307.8h1v1h-1zM68.3 310.6h1v1h-1zM68.3 344.3h1v1h-1zM71.0 288.2h1v1h-1zM71.0 310.6h1v1h-1zM71.0 344.3h1v1h-1zM71.0 347.2h1v1h-1zM73.8 291.0h1v1h-1zM73.8 307.8h1v1h-1zM73.8 310.6h1v1h-1zM76.6 288.2h1v1h-1zM76.6 291.0h1v1h-1zM76.6 307.8h1v1h-1zM76.6 310.6h1v1h-1zM79.3 288.2h1v1h-1zM79.3 310.6h1v1h-1zM79.3 319.1h1v1h-1zM82.1 285.4h1v1h-1zM84.9 282.5h1v1h-1zM84.9 285.4h1v1h-1zM84.9 288.2h1v1h-1zM90.4 282.5h1v1h-1zM90.4 285.4h1v1h-1zM93.2 285.4h1v1h-1zM93.2 288.2h1v1h-1zM93.2 324.7h1v1h-1zM93.2 330.3h1v1h-1zM95.9 288.2h1v1h-1zM95.9 324.7h1v1h-1zM95.9 327.5h1v1h-1zM95.9 330.3h1v1h-1zM98.7 324.7h1v1h-1zM98.7 327.5h1v1h-1zM101.5 324.7h1v1h-1zM101.5 327.5h1v1h-1zM112.6 335.9h1v1h-1zM115.3 335.9h1v1h-1zM118.1 333.1h1v1h-1zM118.1 335.9h1v1h-1zM120.8 333.1h1v1h-1zM123.6 335.9h1v1h-1z"/>
<path fill="none" stroke="#000" stroke-width="0.75" stroke-linejoin="round" d="M52.57,275.12 L53.23,275.01 L54.23,275.79 L55.89,275.68 L56.89,275.91 L57.77,275.23 L59.10,275.01 L60.76,274.22 L62.64,274.00 L64.97,274.11 L67.40,273.77 L68.62,273.88 L69.95,273.43 L70.50,273.77 L71.27,273.66 L70.61,274.33 L70.83,275.01 L71.38,275.79 L70.72,276.58 L70.28,277.25 L71.38,277.93 L72.38,278.38 L73.71,278.38 L75.92,279.05 L76.47,280.06 L78.47,280.63 L80.13,281.30 L81.34,280.51 L81.23,279.28 L82.89,278.49 L84.77,278.83 L86.99,279.84 L88.98,280.18 L91.19,280.63 L92.85,279.95 L94.85,280.18 L95.18,281.64 L95.18,281.75 L95.84,283.32 L96.73,285.01 L97.83,287.26 L98.50,288.49 L99.94,290.63 L100.27,292.88 L100.60,294.45 L101.60,295.23 L102.48,297.37 L103.37,298.38 L104.69,299.62 L105.91,300.97 L107.02,301.87 L106.69,302.43 L108.35,303.66 L110.67,303.21 L112.22,302.76 L114.10,302.43 L115.76,301.98 L115.65,303.66 L115.21,305.24 L113.99,307.71 L112.88,309.73 L111.67,311.42 L110.34,312.88 L108.68,314.11 L106.80,315.69 L105.36,317.04 L104.36,317.93 L103.48,318.95 L102.48,320.63 L102.04,322.65 L102.81,323.78 L102.59,324.90 L103.15,326.59 L103.92,327.49 L104.03,329.40 L103.92,331.64 L103.37,333.33 L100.60,335.13 L99.38,336.25 L98.17,337.60 L98.05,339.51 L98.39,340.63 L98.39,342.32 L96.73,343.33 L95.40,344.34 L95.51,345.58 L95.18,347.38 L94.51,347.94 L93.41,348.95 L92.41,350.41 L91.08,351.65 L89.53,352.66 L87.87,353.33 L86.99,353.56 L85.22,353.45 L84.00,353.56 L82.34,354.01 L81.23,354.46 L80.35,354.12 L79.46,353.67 L79.35,352.77 L78.91,352.10 L79.24,350.97 L78.25,349.51 L77.25,347.49 L76.03,346.03 L75.48,344.01 L75.04,341.20 L74.93,340.30 L73.93,338.84 L73.04,336.70 L72.16,334.79 L72.05,333.33 L72.60,331.53 L73.38,329.96 L74.15,328.83 L74.26,327.37 L73.60,326.14 L73.27,324.68 L72.71,322.20 L72.60,321.87 L72.27,320.97 L71.38,319.73 L70.06,318.61 L69.39,317.49 L68.84,316.25 L69.39,315.01 L69.72,314.23 L69.95,312.77 L70.06,311.87 L69.50,310.97 L68.95,310.41 L68.51,310.18 L67.40,310.41 L66.51,310.52 L65.63,310.52 L64.63,309.06 L63.97,308.27 L62.86,308.16 L62.09,308.27 L61.20,308.50 L60.32,308.72 L58.55,309.39 L57.00,310.07 L55.45,309.62 L54.01,309.51 L52.57,309.73 L50.80,310.41 L49.80,310.07 L48.81,309.39 L47.15,308.38 L46.48,307.60 L45.38,307.15 L44.49,306.14 L44.49,305.24 L43.94,304.67 L42.94,303.89 L42.39,303.10 L41.39,302.43 L40.62,301.42 L40.51,300.40 L40.40,299.62 L40.07,298.94 L39.73,298.83 L40.40,298.27 L40.84,297.15 L41.28,295.01 L41.06,293.89 L41.06,292.88 L40.40,291.75 L40.29,291.30 L41.06,289.84 L41.39,288.72 L42.06,287.93 L42.72,287.03 L43.16,285.80 L44.38,284.33 L45.16,283.88 L46.15,283.66 L47.04,282.99 L48.03,282.09 L48.48,281.08 L48.25,280.29 L48.81,278.72 L49.58,277.93 L50.69,277.48 L51.46,277.03 L52.24,275.79 L52.57,275.12Z M113.66,328.83 L114.32,330.18 L114.77,332.21 L114.99,333.11 L114.32,333.78 L113.99,335.35 L113.55,337.26 L112.88,339.29 L112.11,341.42 L111.22,343.33 L109.56,344.12 L108.35,343.67 L107.57,342.66 L107.35,341.42 L107.02,340.07 L107.57,338.95 L108.24,337.94 L108.01,336.48 L107.79,335.13 L108.24,333.89 L109.01,333.33 L110.34,332.99 L111.33,332.21 L112.00,331.08 L112.77,330.41 L113.66,328.83Z M126.05,286.92 L123.95,286.58 L122.51,286.36 L121.96,285.01 L121.18,284.78 L119.63,285.57 L118.31,285.23 L117.09,284.33 L115.98,284.00 L114.65,281.75 L113.88,281.53 L112.88,281.75 L112.22,281.75 L112.11,282.76 L112.66,283.32 L113.11,284.22 L113.99,285.12 L114.54,285.80 L114.65,286.58 L115.10,287.37 L115.65,287.71 L115.98,286.92 L116.20,286.36 L116.20,287.82 L116.65,288.49 L118.20,288.27 L119.52,288.04 L120.52,286.81 L121.18,286.02 L121.52,285.68 L121.52,287.37 L122.07,288.16 L123.29,288.72 L124.06,288.83 L124.84,289.84 L125.28,290.29 L124.73,291.30 L123.84,292.43 L123.07,292.65 L122.95,294.00 L121.74,294.45 L120.63,295.80 L120.30,296.02 L119.75,296.25 L117.86,296.58 L116.87,297.82 L113.99,298.83 L112.99,299.62 L112.11,299.62 L110.45,300.29 L109.56,300.40 L108.90,300.97 L107.79,301.19 L107.24,301.19 L106.91,300.52 L106.58,298.72 L106.24,297.71 L106.47,297.03 L105.91,296.13 L105.36,295.35 L104.69,294.34 L104.36,293.44 L103.59,292.65 L103.15,292.54 L102.37,291.41 L102.26,289.95 L101.71,288.72 L101.15,288.27 L100.60,288.04 L100.27,287.14 L99.94,286.58 L99.60,286.13 L99.16,285.46 L98.50,284.56 L97.94,283.77 L97.39,283.77 L97.61,282.76 L97.78,282.31 L97.39,283.21 L96.95,284.11 L96.62,283.88 L96.28,283.44 L95.73,282.76 L95.18,281.75 M94.85,280.18 L96.95,280.18 L97.39,279.61 L97.83,278.49 L98.39,277.25 L98.83,276.36 L98.72,275.12 L99.16,274.22 L98.39,274.22 L97.50,274.00 L96.73,274.67 L95.07,274.78 L94.18,274.22 L92.96,274.11 L91.97,274.78 L90.86,274.11 L89.64,273.77 L88.98,272.98 L88.32,272.42 L88.76,271.52 L88.09,270.96 L88.32,270.18 L88.65,269.84 M84.11,269.73 L84.33,270.40 L84.11,270.96 L84.89,271.30 L84.11,271.75 L85.11,272.31 L85.66,272.42 L84.66,272.76 L84.33,273.43 L84.66,274.33 L84.00,274.45 L83.11,274.00 L82.67,273.10 L82.45,272.31 L83.34,272.20 L82.45,272.09 L82.01,271.52 L81.45,270.85 L80.90,270.40 L80.57,269.73 M79.57,270.18 L79.46,270.62 L78.13,269.95 L77.80,269.84 L77.36,270.62 L78.02,271.07 L78.13,271.64 L77.47,271.75 L76.92,272.65 L76.47,272.76 L76.47,272.42 L76.70,271.75 L76.47,270.96 L76.03,270.40 L75.59,270.06 M69.95,269.84 L69.83,271.30 L69.28,271.30 L68.84,271.64 L68.40,271.30 L68.40,269.95 L68.17,269.73 M48.59,269.84 L49.14,270.62 L48.70,271.52 L49.25,272.09 L49.36,272.76 L49.25,273.77 L50.36,273.77 L50.91,273.55 L51.91,273.88 L52.24,274.45 L52.90,274.89 L53.68,274.33 L54.23,274.11 L55.34,274.11 L56.78,274.11 L57.33,273.55 L58.33,273.10 L58.33,272.20 L59.21,271.75 L58.77,271.19 L59.21,270.51 L59.65,269.95 L59.99,269.61 M85.11,275.68 L85.88,275.57 L86.77,275.57 L87.65,275.68 L88.21,275.79 L87.98,276.02 L86.43,276.13 L85.11,275.68Z M94.85,276.02 L95.62,275.57 L96.73,275.46 L97.39,275.23 L96.62,275.91 L95.62,276.47 L94.96,276.36 L94.85,276.02Z M72.82,272.54 L73.93,272.42 L76.25,272.31 L75.81,273.43 L75.81,274.11 L74.93,273.77 L72.93,273.10 L72.82,272.54Z M61.76,270.85 L62.53,270.51 L62.86,270.85 L62.42,271.19 L61.76,270.85Z"/>
<path fill="none" stroke="#ec2592" stroke-width="0.95" stroke-linejoin="round" d="M42.28,299.84 L43.27,297.03 L44.71,295.68 L47.04,295.23 L49.36,296.13 L52.24,297.59 L55.01,298.49 L57.77,298.72 L61.09,300.40 L63.31,300.85 L65.08,301.87 L67.84,303.78 L70.61,304.67 L73.49,303.78 L76.25,302.88 L78.58,304.22 L80.90,306.58 L82.78,308.50 L86.55,308.94 L90.20,309.17 L92.08,308.72 L93.85,306.47 L95.73,302.76 L97.61,300.40 L99.49,298.94 L101.37,299.51 L103.26,301.75 L105.14,303.66 L106.47,305.57 L107.90,306.92 L109.79,306.47 L111.67,307.37 L112.11,308.72 L110.67,309.73 L108.79,309.28 L107.02,309.73 L104.14,310.63 L100.38,311.19 L97.61,312.09 L96.17,314.00 L95.73,316.25 L97.17,317.26 L99.05,315.91 L100.38,316.25 L101.37,317.60 L102.26,319.51 L103.15,321.42 L103.59,324.34 L104.25,326.59 L104.81,328.39 L105.25,332.21 L103.37,335.02 L100.05,337.38 L98.17,339.62 L97.28,342.43 L96.39,345.35 L94.96,348.16 L92.63,350.86 L88.87,353.22 L85.11,354.68 L80.79,354.34 L82.34,353.22 L85.11,350.86 L86.99,349.96 L88.87,348.16 L89.31,345.69 L87.98,343.44 L85.11,341.53 L82.34,339.17 L77.69,336.03 L75.15,331.64 L74.04,327.15 L73.27,323.22 L71.61,319.28 L70.17,316.81 L68.84,314.00 L68.29,311.75 L67.40,309.84 L65.08,308.50 L62.42,307.82 L59.65,308.38 L56.89,308.72 L54.01,309.73 L51.69,310.63 L49.36,310.63 L46.48,308.38 L44.71,305.57 L42.83,302.65 L42.28,299.84Z M84.00,333.33 L83.73,332.84 L82.96,332.45 L81.85,332.23 L80.62,332.23 L79.51,332.45 L78.74,332.84 L78.47,333.33 L78.74,333.82 L79.51,334.21 L80.62,334.43 L81.85,334.43 L82.96,334.21 L83.73,333.82 L84.00,333.33Z M83.89,328.27 L83.66,327.72 L83.11,327.49 L82.57,327.72 L82.34,328.27 L82.57,328.83 L83.11,329.06 L83.66,328.83 L83.89,328.27Z M52.90,302.99 L52.68,302.43 L52.13,302.20 L51.58,302.43 L51.35,302.99 L51.58,303.54 L52.13,303.78 L52.68,303.54 L52.90,302.99Z M91.41,271.19 L91.12,270.47 L90.42,270.18 L89.71,270.47 L89.42,271.19 L89.71,271.90 L90.42,272.20 L91.12,271.90 L91.41,271.19Z M113.77,329.51 L114.65,332.21 L113.88,335.58 L112.88,338.95 L112.33,339.17 L113.11,335.58 L113.77,332.21 L113.22,329.96 L113.77,329.51Z"/>
</g>
<rect x="25.90" y="270.40" width="99.60" height="89.90" fill="none" stroke="#000" stroke-width="0.8"/>
<path stroke="#333" stroke-width="0.75" d="M25.90,270.40h-2.8M25.90,292.88h-2.8M25.90,315.35h-2.8M25.90,337.82h-2.8M25.90,360.30h-2.8M36.97,360.30v2.4M59.10,360.30v2.4M81.23,360.30v2.4M103.37,360.30v2.4M125.50,360.30v2.4"/>
<text x="2.73" y="272.85" style="font-size:7.20px" textLength="9.23" lengthAdjust="spacingAndGlyphs">40</text><text x="12.64" y="271.77" style="font-size:5.18px">°</text><text x="15.58" y="272.85" style="font-size:7.20px" textLength="5.42" lengthAdjust="spacingAndGlyphs">N</text>
<text x="2.73" y="295.32" style="font-size:7.20px" textLength="9.23" lengthAdjust="spacingAndGlyphs">20</text><text x="12.64" y="294.25" style="font-size:5.18px">°</text><text x="15.58" y="295.32" style="font-size:7.20px" textLength="5.42" lengthAdjust="spacingAndGlyphs">N</text>
<text x="12.76" y="317.80" style="font-size:7.20px" textLength="4.61" lengthAdjust="spacingAndGlyphs">0</text><text x="18.06" y="316.72" style="font-size:5.18px">°</text>
<text x="3.55" y="340.27" style="font-size:7.20px" textLength="9.23" lengthAdjust="spacingAndGlyphs">20</text><text x="13.46" y="339.19" style="font-size:5.18px">°</text><text x="16.40" y="340.27" style="font-size:7.20px" textLength="4.60" lengthAdjust="spacingAndGlyphs">S</text>
<text x="3.55" y="362.75" style="font-size:7.20px" textLength="9.23" lengthAdjust="spacingAndGlyphs">40</text><text x="13.46" y="361.67" style="font-size:5.18px">°</text><text x="16.40" y="362.75" style="font-size:7.20px" textLength="4.60" lengthAdjust="spacingAndGlyphs">S</text>
<text x="26.96" y="370.60" style="font-size:7.20px" textLength="9.23" lengthAdjust="spacingAndGlyphs">20</text><text x="36.87" y="369.52" style="font-size:5.18px">°</text><text x="39.81" y="370.60" style="font-size:7.20px" textLength="7.17" lengthAdjust="spacingAndGlyphs">W</text>
<text x="54.98" y="370.60" style="font-size:7.20px" textLength="4.61" lengthAdjust="spacingAndGlyphs">0</text><text x="60.28" y="369.52" style="font-size:5.18px">°</text>
<text x="72.52" y="370.60" style="font-size:7.20px" textLength="9.23" lengthAdjust="spacingAndGlyphs">20</text><text x="82.43" y="369.52" style="font-size:5.18px">°</text><text x="85.37" y="370.60" style="font-size:7.20px" textLength="4.58" lengthAdjust="spacingAndGlyphs">E</text>
<text x="94.65" y="370.60" style="font-size:7.20px" textLength="9.23" lengthAdjust="spacingAndGlyphs">40</text><text x="104.56" y="369.52" style="font-size:5.18px">°</text><text x="107.50" y="370.60" style="font-size:7.20px" textLength="4.58" lengthAdjust="spacingAndGlyphs">E</text>
<text x="116.78" y="370.60" style="font-size:7.20px" textLength="9.23" lengthAdjust="spacingAndGlyphs">60</text><text x="126.70" y="369.52" style="font-size:5.18px">°</text><text x="129.63" y="370.60" style="font-size:7.20px" textLength="4.58" lengthAdjust="spacingAndGlyphs">E</text>
<text x="26.00" y="264.80" style="font-size:12.10px" textLength="17.16" lengthAdjust="spacingAndGlyphs">(d)</text><text x="46.30" y="264.80" style="font-size:12.10px" textLength="8.29" lengthAdjust="spacingAndGlyphs">Δ</text><text x="54.80" y="264.80" style="font-size:12.10px;font-style:italic" textLength="18.93" lengthAdjust="spacingAndGlyphs">MC</text>
<clipPath id="cpe"><rect x="208.40" y="270.40" width="100.30" height="89.90"/></clipPath>
<g clip-path="url(#cpe)">
<rect x="208.40" y="270.40" width="100.30" height="89.90" fill="#f5f1e6"/>
<g filter="url(#bl)">
<rect x="205.40" y="267.40" width="106.30" height="95.90" fill="#f5f1e6"/>
<path fill="#e7f2f0" fill-rule="evenodd" d="M225.7 343.4l.5 .1 1.1 .3 1.2 .1 1.1 .2 3.3 .3 1.1-.1 1.1 0 1.2-.2 1.1-.3 .7-.4 .4-.1 1.1-.6 .5-.4 .6-.4 .8-.7 .3-.3 1-.8 .1-.2 1.2-1.2 .8-.9 .3-.3 .6-.8 .5-.7 .3-.4 .4-1.1-.1-1.2-.6-.9-.1-.2-1-.7-.6-.4-.5-.3-1.2-.4-1.1-.4-2.2-.6-1.1-.2-2.2-.2-1.2-.1-.6-.1-3.3 0-.5 .1-1.1 0-1.1 .2-1.2 .1-2.2 .4-1.1 .3-.1 .1-1 .3-1.1 .4-.9 .4-1.4 .7-.7 .4-.4 .3-.9 .8-.2 .2-.8 1-.3 .7-.2 .4-.1 1.1 .1 1.1 .2 .4 .4 .7 .7 .9 .3 .3 .8 .6 .8 .5 .3 .2 1.2 .5 1 .4 .1 0 1.1 .4 2.2 .6zM264.1 342.8l1.1 .3 1.2 .2 1.1 .1 1.1 0 1.1-.1 1.1-.2 1.1-.6 .2-.2 .9-.7 .4-.4 .8-.9 .7-1.4 .4-.6 .1-.5 .4-1.1 .2-1.1 .1-1.1 0-1.2-.2-2.2-.3-1.1-.1-1.2 .2-1.1 .7-.7 .3-.4 .8-.6 .4-.5 .7-.6 .4-.6 .7-.8 .2-.3 .8-1.1 .1-.4 .4-.7 .5-1.2 .2-1.1 .1-.4 .1-.7 0-1.1-.1-1.1 0-.5-.2-.7-.3-1.1-.7-1.1-1.1-1.1-.1 0-1-.6-1.1-.3-1.1 0-1.1 .1-1.1 .2-1.2 .2-1.1 .2-1.1-.1-1.1-.2-1.1-.4-.9-.3-.2 0-1.1-.3-1.2-.3-1.1-.4-.4-.1-.7-.2-1.1-.4-1.1-.3-.8-.2-.3-.2-1.1-.4-1.2-.4-.4-.1-.7-.3-1.1-.6-.7-.3-.4-.2-2.2-.8-.2-.1-1-.3-1.1-.4-1.1-.2-.9-.2-.2-.1-2.2-.4-1.1-.1-1.2 0-3.3 .3-1.1 .2-1.1 .1-1.1-.2-1.2-.4-1.1-.4-.1-.1-1-.6-1.1-.5 0-.1-1.1-.5-1.1-.3-1.1-.1-1.2 0-1.1 .1-1.1 .2-1.1 .5-.2 .1-.9 .4-1 .8-.1 0-1.1 1.1-.9 1.1-.3 .6-.2 .5-.3 1.2 0 1.1 .3 1.1 .2 .4 .5 .7 .7 .7 .6 .5 .5 .3 1.1 .5 2.2 .6 1.1 .2 1.1 .1 4.5 0 1.1-.1 1.1 0 1.1-.1 1.2 0 2.2 .2 2.2 .4 1.1 .1 .4 0 .7 .1 1.2 .1 1.1 0 1.1 .1 1.1 0 1.1 .1 1.1 .3 .7 .4 .4 1.2 0 1.6 .1 .6-.1 1.1 0 1.1-.1 1.2 0 2.2 .1 1.1 0 .3 .2 .9 .2 1.1 .4 1.1 .4 1 0 .1 .4 1.2 .4 1.1 .3 .4 .2 .7 .6 1.1 .3 .5 .3 .7 1.6 2.2 .3 .4 .6 .7 1.1 1.1 .6 .5 .7 .7 .4 .3 1.1 .7 .1 .1 1 .6zM208.6 324.3l.9 .6 1.1 .3 1.1 .1 1.2 0 1.1-.3 1.1-.6 .1-.1 1-.8 .2-.3 .8-1.1 .1-.4 .3-.7 .2-1.2 .1-1.1-.1-1.1-.3-1.1-.2-.3-.4-.8-.7-.9-.3-.3-.8-.6-1-.5-.1-.1-1.1-.3-1.2-.1-1.1 0-1.1 .3-.3 .2-.8 .4-1 .7-.1 .2-.8 1-.3 .6 0 5.6 .2 .5 .9 1.1 1.1 1zM288 296.2l.6 .1 1.2 .1 2.2 0 1.1-.1 2.2 0 .2-.1 .9-.1 1.2-.2 1.1-.3 1-.5 .1 0 1.1-1.1 .6-1.1 .4-1.1 .1-1.2-.1-1.1-.4-1.1-.6-1.1 0-.1-.9-1.1-.2-.2-1.1-.9-1.1-.7-1.1-.4-.1 0-1.1-.4-1.1-.3-1.1-.1-2.2 0-1.1 .1-1.2 .3-1.1 .3-.1 .1-1 .4-1.1 .6-.1 .1-1 .8-.3 .3-.8 1.1-.1 .1-.3 1.1 .2 1.1 .2 .3 .4 .8 .7 1.1 0 .1 .7 1.1 .4 1 0 .1 .6 1.1 .5 .5 1.1 .6zM240.7 291.8l1.6 0 .6-.1 1.2-.3 1.1-.4 .7-.4 .4-.1 2.2-1 .1 0 1-.4 1.1-.4 1.2-.3 .1 0 1-.3 2.2-.4 2.2-.2 1.2-.2 .3 0 .8-.3 1.1-.5 .6-.4 .5-.7 .3-.4 .1-1.1-.3-1.1-.1-.1-.8-1.1-.3-.2-1-.9-.1 0-1.1-.8-.4-.3-.8-.5-.8-.6-.3-.3-1-.9-.1 0-1.1-1-.1-.1-1-.8-.4-.3-.7-.6-1.1-.5-.1-.1-1.1-.5-1.1-.3-1.1-.2-.1-.1-1-.1-1.1-.1-1.1 0-1.2 .1-1 .1-.1 .1-1.1 .2-1.1 .3-1.1 .5-.1 .1-1 .5-.8 .6-.3 .2-1 .9-.2 .1-.9 1-.2 .4-.6 .8-.5 1 0 .1-.5 1.1-.3 1.1-.2 1.2 .1 1.1 .2 1.1 .4 1.1 .3 .6 .4 .6 .7 .9 1.1 1.1 .4 .2 .8 .6 .9 .5 .2 .1 1.1 .5z"/>
<path fill="#ccebe7" fill-rule="evenodd" d="M263.1 340.1l1 .5 1.1 .3 1.2 .2 1.1 .1 1.1 0 1.1-.1 1.1-.3 1.1-.4 .4-.3 .7-.5 .6-.7 .6-.6 .2-.5 .5-1.1 .3-1.1 .1-1 0-.4-.1-.9-.3-1.1-.5-1.1-.2-.5-.5-.6-.7-.9-.2-.3-.7-1.1-.1-1.1 1-.8 1.2-.1 1.1-.1 .3-.1 .8-.2 1.1-.5 .5-.5 .6-.5 .6-.6 .5-.7 .3-.4 .6-1.1 .2-.8 .2-.4 .2-1.1 .1-1.1-.1-1.1-.2-1.1-.2-.3-.4-.9-.7-.9-.3-.2-.8-.6-1.1-.4-.9-.1-.2-.1-.5 .1-.6 0-1.1 .2-1.2 .4-1 .5-.1 0-1.1 .3-1-.3-.1 0-1.1-.9-.3-.2-.8-.6-.9-.5-.2-.1-1.2-.5-1.1-.3-.8-.3-.3 0-1.1-.2-1.1-.1-1.1 0-1.1 .1-.8 .2-.4 .2-1.1 .5-1.1 1.1-.3 .5-.5 1.1-.3 .8-.5 1.5-.4 2.2 0 2.2 .1 1.2 .1 1.1 .3 1.1 .4 1.1 .4 1.2 .6 1.1 .1 .1 .5 1 .6 1 .1 .1 1 2 .1 .3 .4 1.1 .2 1.1 .3 1.2 .2 .3 .2 .8 .5 1.1 .4 .5 .4 .6 .7 .7 .5 .4 .6 .5 1.1 .6zM209.3 321l.2 .2 1.1 .7 1.1 .2 1.2-.2 1.1-.7 .2-.2 .6-1.2 .2-1.1-.2-1.1-.7-1.1-.1-.1-1.1-.7-1.2-.2-1.1 .2-1.1 .6-.1 .2-.7 1.1-.2 1.1 .2 1.1zM226.7 310.9l.6 .1 1.2 .1 1.1 .1 2.2 0 1.1-.1 1.1-.2 .7 0 .4-.1 1.2-.1 1.1 .1 .4 .1 .7 .1 3.3 .6 1.1 .1 1.2 .1 1.1 0 1.1-.1 2.2-.4 1.1-.3 .4-.1 .7-.3 1.2-.7 .3-.2 .5-1.1-.3-1.1-.5-.6-.5-.5-.7-.4-1.1-.6-.3-.2-.8-.2-1.1-.3-2.2-.4-2.3 0-1.1 .1-3.3 .6-1.1 .1-1.1 0-1.2-.4-1.1-.4-.2-.2-.9-.5-1-.6-.1-.1-1.1-.6-2.2-.8-1.2-.1-1.1 0-1.1 .2-.7 .3-.4 .1-1.1 .6-.5 .4-1.1 1.1-.5 1.1-.1 .8-.1 .4 .1 .3 .1 .8 .7 1.1 .3 .3 1.1 .8 .1 0 1 .5 1.1 .4 1.1 .2zM241.6 283.9l.2 .1 1.1 .4 1.2 .2 1.1 0 1.1-.1 1.1-.4 .5-.2 .6-.4 .9-.7 .6-1.2 .2-1.1-.2-1.1-.4-.6-.3-.5-1.2-1.2-.7-.3-1.1-.5-1.1-.2-1.1-.1-1.2 .2-1.1 .3-1.1 .6-.1 0-1 1.1-.1 .1-.5 1.1 0 1.1 .3 1.1 .3 .6 .5 .6 .6 .6z"/>
<path fill="#a6dcd4" fill-rule="evenodd" d="M263.8 338.9l.3 .2 1.1 .5 1.2 .2 1.1 .1 1.1 0 1.1-.1 1.1-.3 1.1-.6 1.1-.9 .2-.2 .7-1.1 .3-.8 0-.3 .1-1.1-.1-1.1-.1-.1-.5-1.1-.6-.8-1.1-1.1-.4-.3-.7-.7-.4-.5-.7-1.1 0-.2-.1-.9 0-1.1 .4-1.2 .7-1.1 .1-.1 1.1 .1 .1 0 1 .5 1.2 .4 1.1 .2 1.1-.1 1.1-.4 .8-.6 .3-.2 .7-.9 .4-.6 .3-.5 .4-1.2 .2-1.1 .1-1.1-.2-1.1-.5-1.1-.3-.5-.6-.7-.5-.4-1.1-.5-1-.2-.3 0-.9 .1-1.1 .3-1.2 .6-.1 .1-1 .8-.6 .4-.5 .5-1.1 .1-.7-.6-.4-.4-.6-.8-.5-.6-.5-.5-.6-.5-1.2-.8-1.1-.5-1.1-.3-1.1-.1-1.1 0-1.1 .3-1.1 .4-1.2 .8-.6 .7-.5 .6-.3 .5-.5 1.2-.3 .7-.1 .4-.4 2.2 .1 1.1 .1 1.2 .2 1.1 .1 .2 .3 .9 .4 1.1 .6 1.2 .6 1.1 .3 .4 .5 .7 .7 1 0 .1 .7 1.2 .4 .9 0 .2 .3 1.1 .1 1.1 .2 1.2 .3 1.1 .2 .3 .4 .8 .7 .8 .3 .3 .8 .7zM225.9 309.7l.3 .1 1.1 .2 1.2 .2 1.1 .1 1.1 0 1.1-.1 2.2-.4 .1-.1 1-.4 1.2-.3 1.1 0 1.1 .3 .8 .4 .3 .1 1.1 .4 2.2 .4 2.3 0 2.2-.4 1.1-.5 1.1-1 .1-.1-.1-1 0-.1-1.1-1-.2-.1-.9-.4-1.1-.3-1.1-.2-1.1-.1-1.2 .1-1.1 .1-2.2 .6-.4 .2-.7 .3-1.1 .3-1.1-.1-1.2-.6-1.1-.6-.6-.5-.5-.2-1.1-.8-.2-.1-.9-.6-1.1-.5-1.1-.4-1.2-.2-1.1 0-1.1 .2-1 .4-.1 0-1.1 .8-.3 .3-.7 1.1-.1 1.2 .4 1.1 .7 .8 .4 .3 .7 .5 1.1 .4z"/>
<path fill="#7ccabe" fill-rule="evenodd" d="M264 337.8l.1 .1 1.1 .5 1.2 .4 1.1 .1 1.1 0 1.1-.2 1.1-.4 .8-.5 .3-.2 .8-.9 .3-.8 .2-.3 0-1.1-.3-1.2-.7-1.1-.3-.3-1-.8-.1-.1-1.1-.8-.3-.2-.8-.8-.3-.4-.5-1.1 0-1.1 .2-1.1 .2-1.2 .4-2.2 0-.2 .1-.9 0-1.2-.1-.5-.1-.6-.3-1.1-.6-1.1-.1-.3-.5-.8-.6-.9-.3-.3-.9-.7-.6-.4-.5-.3-1.1-.4-1.1-.1-1.1 .1-1.1 .4-.6 .3-.5 .4-.8 .7-.4 .5-.4 .7-.5 1.1-.2 .6-.1 .5-.1 1.1 0 1.1 .1 1.2 .1 .4 .2 .7 .4 1.1 .5 1.1 0 .1 .7 1.1 .5 .7 .3 .4 .8 1 .1 .1 .8 1.1 .2 .3 .5 .9 .3 1.1 .1 1.1-.1 1.1 .2 1.2 .1 .4 .2 .7 .7 1.1 .2 .2zM274.6 323.2l.7 .2 1.1 0 .5-.2 .6-.2 1.1-.9 .8-1.1 .3-.8 .2-.4 .2-1.1 0-1.1-.3-1.1-.1-.1-.6-1-.5-.6-1-.6-.1 0-1.1-.3-1.1 .2-.4 .1-.7 .3-1.1 .9-.1 0-.9 1.1-.2 .4-.4 .7-.3 1.1 .1 1.1 .5 1.2 .1 0 .8 1.1 .3 .2 1.2 .7zM225.1 308.6l1.1 .4 1.1 .2 1.2 .2 2.2 0 1.1-.2 1.1-.4 .5-.2 .5-1.1-.9-1.1-.1-.1-1.1-.9-.2-.2-.9-.6-.8-.5-.3-.2-1.1-.4-1.2-.3-1.1 0-1.1 .3-1.1 .5-.1 .1-.9 1.1-.1 .9 0 .3 .5 1.1 .6 .5zM241 308.6l.8 .4 1.1 .3 1.2 .2 1.1-.2 1.1-.3 .7-.4 0-1.1-.7-.4-1.1-.3-1.1-.2-1.2 .1-1.1 .4-.8 .4z"/>
<path fill="#4faaa1" fill-rule="evenodd" d="M266.7 337.8l.8 .1 1.1 0 .5-.1 .6-.1 1.1-.6 .5-.4 .6-1 .1-.1 0-1.1-.1-.4-.3-.8-.8-.9-.3-.2-.8-.6-1-.5-.1-.1-1.1-.6-1.1-.4 0-.1-1.2-.8-.5-.3 .5-.2 .3-.9 .5-1.1 .4-.8 0-.3 .4-1.2 .4-2.2 0-2.3-.2-1.1-.3-1.1-.3-.7-.3-.4-.8-1.1-.1-.2-1.1-.9-.2-.1-.9-.3-1.1-.2-1.1 .2-.9 .3-.2 .2-1.1 1-.7 1.1-.5 1.1-.1 1.1 0 1.1 .1 1.2 .3 1.1 .5 1.1 .4 .7 .2 .4 .8 1.2 .1 0 1 1.1 .1 .1 1.1 .9 .2 .1 .9 .7 1 .4 .1 .6 .2 .6-.2 .1-.3 1-.4 1.1-.3 1.1 0 1.2 .4 1.1 .6 .8 .3 .3 .8 .6 1.2 .5zM274.2 322.1l1.1 .5 1.1 .1 1.1-.4 1.3-1.3 .5-1.2 .2-1.1-.1-1.1-.3-1.1-.5-.7-.5-.4-.6-.4-1.1-.3-1.1 .2-1 .5-1.1 1.1-.2 .3-.4 .8-.2 1.1 .1 1.1 .5 1.1zM224.8 307.5l.3 .2 1.1 .4 1.1 .3 1.2 .1 1.1 0 1.1-.2 1.1-.8 0-.1-.5-1-.6-.5-.7-.7-.4-.2-1.1-.6-.9-.3-.3 0-1.1-.1-.3 .1-.8 .3-.9 .8-.2 1 0 .2z"/>
<path fill="#298b83" fill-rule="evenodd" d="M266.7 336.7l.8 .2 1.1-.1 .4-.1 .7-.3 .8-.8 .1-1.1-.6-1.2-.3-.2-1.1-.7-.7-.2-.4-.1-1.1 0-.4 .1-.8 .5-.4 .6-.2 1.2 .4 1.1 .2 .2 1.2 .8zM261.9 325.5l1.1 .3 1.1-.2 .1-.1 1-1.2 0-.1 .4-1 .2-1.1 .1-1.1 0-1.2-.2-1.1-.4-1.1-.1-.1-.7-1-.4-.5-1.1-.6 0-.1-1.1-.1-1 .2-.1 0-1.1 .8-.3 .3-.6 1.1-.2 .8-.1 .3 0 1.1 .1 .6 0 .6 .4 1.1 .6 1.1 .1 .1 .8 1 .3 .4zM274.1 321l.1 .1 1.1 .7 1.1 .1 1.1-.4 .5-.5 .6-.9 .1-.3 .2-1.1-.1-1.1-.2-.6-.4-.5-.7-.7-1.1-.3-1.1 .2-1.1 .8-.1 0-.6 1.1-.3 1.1 .2 1.1zM225.5 306.4l.7 .5 1.1 .5 1.2 0 .8-1-.8-.7-.7-.5-.5-.1-1.1 0-.2 .1z"/>
<path fill="#0a6f67" fill-rule="evenodd" d="M267.4 334.5l.2 0-.1-.1zM261.9 323.2l1.1 .2 .3-.2 .8-.9 .1-.2 .2-1.1 0-1.2-.2-1.1-.1-.1-.7-1-.4-.3-1.1-.3-1.1 .4-.2 .2-.6 1.1-.1 1.1 .3 1.2 .5 1.1 .1 .1zM275.4 321l1 .1 .4-.1 .7-.4 .5-.8 .3-1.1-.2-1.1-.6-.9-.5-.2-.6-.2-1 .2-.1 0-1 1.1-.1 .5-.2 .6 .2 .7 .1 .4 1 1.1z"/>
<path fill="#01554b" fill-rule="evenodd" d="M275.4 319.8l1 .4 .5-.4 .6-.9 .1-.2-.1-.2-.5-.9-.6-.3-1 .3-.1 .2-.3 .9 .3 1z"/>
<path fill="#f6eac9" fill-rule="evenodd" d="M209.1 361.4l.4 .2 2.2 .6 1.2 .2 .9 .1 7 0 1-.1 1.1-.2 2.2-.6 .4-.2 .7-.3 1.1-.5 .6-.3 .6-.4 .9-.7 .2-.2 .8-.9 .3-.7 .2-.5 .1-1.1-.2-1.1-.1-.1-.6-1-1.2-1.2-.4-.3-1.2-.6-.3-.2-.8-.3-1.1-.5-3.3-.9-1.1-.1-1.2-.2-1.1-.1-3.3 0-2.2 .2-1.2 .2-1.1 .3-1 .3-.1 0-1.1 .4-1.1 .5-.4 .2-.7 .5 0 8.1 .5 .4 .6 .3 1.1 .5zM250.6 356.9l.1 .1 1.2 .3 2.2 .2 2.2-.2 1.1-.3 1.2-.3 1.1-.5 .7-.4 .4-.3 .9-.8 .2-.2 .6-.9 .3-1.2 0-1.1-.4-1.1-.5-.9-.2-.2-.8-1.2-.1-.1-.8-1-.3-.3-.7-.8-.4-.5-.7-.6-.5-.5-.8-.7-.3-.2-1.1-.7-.5-.2-.6-.2-1.1-.2-1.1 0-1.2 .2-.4 .2-.7 .3-1.1 .7-1.3 1.3-.8 1.1-.1 .3-.5 .8-.4 1.1-.2 .9-.1 .3-.2 1.1 .1 1.1 .2 .9 0 .2 .5 1.2 .6 .7 .3 .4 .8 .7 .6 .4 .5 .3 1.1 .5zM275 349.1l.3 .3 1.1 .4 1.1-.5 .3-.2 .8-.8 .3-.4 .8-1.1 .7-1.1 .4-.8 .2-.3 1-2 .1-.3 .5-1.1 .4-1.1 .1-.2 .4-1 .4-1.1 .3-1 0-.1 .5-1.1 .3-1.1 .3-1.2 .4-1.1 .3-1.1 .4-2.2 0-.1 .3-1.1 .4-2.2 .2-1.2 .2-2.2 0-.4 .1-.7 .1-1.2 0-3.3-.2-1.1 0-.1-.2-1.1-.6-1.1-.3-.5-1.1-.1-.6 .6-.5 .6-.2 .5-.3 1.2-.2 1.1-.4 1.1 0 .2-.2 .9-.4 1.1-.5 1.2-.5 1.1-.7 .9-.1 .2-.8 1.1-.2 .4-.6 .8-.5 .7-.4 .4-.6 1.1-.1 .3-.3 .8-.2 1.2 0 4.5-.1 1.1-.2 1.1-.3 1.1 0 .1-.3 1-.4 1.2-.4 1-.1 .1-.4 1.1-.3 1.1-.2 1.2-.1 1.1 .1 1.1 .2 1.1zM231.7 322.1l.1 0 2.2 .4 1.1 .1 2.3 0 2.2-.2 1.1-.3 .2 0 .9-.2 1.1-.4 1.1-.5 .1-.1 1.1-.9 .1-.2 .4-1.1-.4-1.1-.1-.2-1.1-.9 0-.1-1.2-.4-1.1-.4-.9-.2-.2-.1-1.1-.2-3.3-.3-1.2 0-2.2 .2-1.1 .2-.7 .2-.4 .1-1.1 .3-1.1 .5-.3 .2-.9 .7-.4 .4-.3 1.1 .5 1.1 .2 .3 1.2 .8 0 .1 1.1 .5 1.1 .3zM300.3 317.6l.6 .2 1.1 .2 1.1 .1 1.1-.1 1.2-.2 .6-.2 .5-.2 1.1-.5 .6-.4 .5-.4 .7-.7 .4-.6 .3-.6 .4-1.1 .2-1.1-.2-1.1-.4-1.2-.3-.5-.4-.6-.7-.7-.5-.4-.6-.4-1.1-.6-.3-.1-.8-.4-1.2-.5-.4-.3-.7-.4-.6-.7-.5-.5-.4-.6-.7-.8-.3-.3-.8-.7-.6-.5-.5-.2-1.1-.5-1.2-.4-2.2-.4-2.2 0-1.1 .2-.9 .2-.2 .1-1.2 .3-1.1 .6-.2 .1-.9 .8-.4 .4-.6 1.1-.1 .6-.1 .5 .1 .6 .1 .5 .5 1.2 .5 .7 .4 .4 .7 .6 1.1 .4 .9 .1 .3 .1 2.2 .4 1.1 .3 .9 .3 .2 .2 .9 1 .2 .7 .1 .4 .3 1.1 .4 1.1 .3 .6 .4 .6 .8 .7 .5 .4 .6 .4 1.1 .5zM270.8 308.6l1.1-.3 1.1-.4 .8-.4 .4-.4 .5-.7 .1-1.2-.6-1-.1-.1-1.1-.8-.6-.3-.5-.2-1.1-.4-1.1-.2-1.1-.1-2.2 0-1.2 .2-1.1 .3-.9 .4-.2 .1-1.1 .8-.2 .2-.3 1.1 .5 .7 .2 .5 .9 .5 1.1 .6 1.1 .4 1.2 .3 2.2 .4zM214.7 305.2l.4 .1 .1-.1 1-.4 .7-.7 .4-.3 .6-.8 .5-.6 .5-.5 .6-.9 .3-.3 .5-1.1-.2-1.1-.6-.5-1.1-.5-1.1-.1-1.1 .1-1.1 .2-1.1 .5-.4 .3-.7 .6-.5 .5-.5 1.1-.2 .9 0 .5 .2 .9 .6 1.1 .4 .3 1.1 .7zM250.8 298.5l1.1 .5 1.1 .3 1.1-.1 1.1-.4 .6-.3 .5-.2 1.1-.5 .9-.4 .3-.1 2.2-.4 6.7 0 3.3-.3 1.1-.2 .7-.2 1.6-.4 1.1-.4 .5-.3 .6-.5 .6-.6-.1-1.1-.5-.5-.9-.6-.2-.2-1.1-.4-1.2-.3-1.1-.3-1.1-.1-1.1-.2-1.1 0-1.1-.1-1.1 .1-1.2 0-2.2 .2-1 .1-.1 0-3.3 .3-1.2 .1-3.3 .3-1.1 .3-.5 .2-.6 .2-1.2 .7-.2 .2-.9 1 0 .1-.3 1.1 .1 1.1 .2 .8 .2 .4 .9 1zM266.6 278.3l.9 .2 2.2 .2 2.2 0 1.1-.1 1.2-.2 .3-.1 .8-.2 1.1-.4 1.1-.6 1.1-.9 .2-.2 .5-1.1-.3-1.1-1.2-1.2-.3-.1-1.1-.6-1.1-.3-.2-.1-.9-.2-1.2-.3-2.2-.2-1.1 0-3.3 .3-1.2 .3-.3 .1-.8 .3-1.1 .5-.6 .3-1 1.2-.1 1.1 .6 1.1 1.1 .9 .4 .2 .7 .4 1.1 .4 1.2 .3zM214 277.1l1.1 .1 .7-.1 .4 0 1.1-.1 1.1-.2 1.1-.3 1.2-.4 .1-.1 1-.5 .8-.6 .3-.3 .7-.8 .3-1.2-.2-1.1-.8-1.1-.1 0-1-.8-.7-.3-.4-.2-1.2-.4-1.1-.3-1.1-.2-4.4 0-1.2 .2-2.2 .6-.5 .3-.6 .3-1.1 .7-.1 .1-.9 1.1-.1 .6 0 1.1 .1 .6 .9 1.1 .1 0 1.1 .8 .6 .3 .5 .2 1.1 .4 1.1 .3 1.2 .2z"/>
<path fill="#ebd6a2" fill-rule="evenodd" d="M213.4 358.1l.6 .2 2.2 .4 1.1 .1 1.1-.1 1.1-.2 1.2-.3 .5-.1 .6-.4 1-.8 .1-.3 .3-.8-.3-.6-.2-.5-.9-.7-.9-.4-.2-.1-1.2-.3-1.1-.2-1.1-.1-2.2 .2-1.1 .3-.4 .2-.7 .4-1 .7-.2 .3-.3 .8 .3 .9 .1 .2 1.1 .8zM252.1 353.6l.9 .2 1.1 .2 1.1-.1 1-.3 1.2-1.2 .2-1.1-.2-.3-.4-.8-.7-.7-.5-.4-.6-.5-1.1-.5-1.1-.2-1.1 .3-1.2 .8 0 .1-.6 1.1 0 1.1 .5 1.1 .1 .2 1.2 .9zM277.4 343.4l.1 .1 .3-.1 .8-.1 .9-1 .2-.2 .6-.9 .5-1 .1-.1 1.1-2.2 0-.1 .4-1.1 .5-1.1 .2-.6 .2-.5 .4-1.2 .3-1.1 .2-.8 .1-.3 .3-1.1 .2-1.2 .4-2.2 .1-1.1 .1-1.2 0-2.2-.1-.6-.2-.5-.9-1-.8 1-.3 .2-.5 .9-.6 .7-.3 .4-.8 1.1-.1 .1-.7 1.1-.4 .6-.3 .5-.6 1.1-.2 .5-.2 .6-.3 1.2-.2 2.2 0 1.1-.1 1.2-.2 2.2-.1 .6-.1 .5-.2 1.1-.1 1.2-.1 1.1 0 1.1zM233.7 318.7l.3 .3 1.1 .5 1.2 .2 1.1-.2 1.1-.5 .3-.3-.3-.3-1.1-.6-1.1-.2-1.2 .2-1.1 .6zM265 306.4l.2 .1 1.2 .4 1.1 .3 1.1 0 1.1-.1 1.1-.5 .4-.2 .1-1.2-.5-.4-1.1-.7-.1 0-1-.2-1.1-.1-1.1 .2-.5 .1-.7 .4-.7 .7zM290.5 306.4l.4 .1 1.1 .3 1.1 .1 1.1 0 1.1-.1 1.1-.3 .4-.1 .8-.5 .5-.7 .3-1.1-.3-1.1-.5-.6-.6-.5-.6-.4-1.1-.4-1.1-.3-1.1-.1-1.1 .1-1.1 .3-1.1 .5-.5 .3-.7 .7-.3 .4-.1 1.1 .4 1 .1 .1 1.1 .8zM261.4 294l.5 .1 1.1 .3 1.1 .2 1.1 .1 2.3 0 2.2-.4 .9-.3-.2-1.1-.7-.3-1.1-.2-1.1-.1-2.3 0-2.2 .4-.9 .2-.2 .3zM267.8 274.9l.8 .4 1.1 .3 1.1-.1 1.1-.5 .2-.1-.2-.1-1.1-.6-1.1-.2-1.1 .4z"/>
<path fill="#ddbe78" fill-rule="evenodd" d="M279.1 336.7l.6 1.1 1-1.1 .1-.1 .5-1 .6-1.1 .1-.2 .3-1 .8-2.2 0-.1 .2-1 .2-1.2 .2-1.1 0-2.2-.5-1.2-.1-.1-.3 .1-.8 .5-.5 .7-.7 .7-.2 .4-.6 1.1-.3 .5-.2 .6-.3 1.2-.2 1.1-.1 1.1 0 3.4zM291 304.1l1 .7 1.1 .3 1.1-.2 1.1-.7 .1-.1-.1-.3-.3-.8-.8-.4-1.1-.2-1.1 .2-.7 .4z"/>
<path fill="#ca9849" fill-rule="evenodd" d="M280.8 331.2l.1-.1-.1-.7z"/>
</g>
<path fill="#222" d="M209.3 291.0h1v1h-1zM212.1 291.0h1v1h-1zM212.1 347.2h1v1h-1zM214.9 291.0h1v1h-1zM214.9 347.2h1v1h-1zM217.7 291.0h1v1h-1zM217.7 302.2h1v1h-1zM217.7 350.0h1v1h-1zM220.4 302.2h1v1h-1zM223.2 302.2h1v1h-1zM228.8 319.1h1v1h-1zM234.4 319.1h1v1h-1zM239.9 319.1h1v1h-1zM245.5 344.3h1v1h-1zM245.5 347.2h1v1h-1zM248.3 347.2h1v1h-1zM251.1 291.0h1v1h-1zM251.1 293.8h1v1h-1zM253.9 291.0h1v1h-1zM253.9 293.8h1v1h-1zM253.9 344.3h1v1h-1zM256.7 291.0h1v1h-1zM256.7 307.8h1v1h-1zM259.4 291.0h1v1h-1zM259.4 293.8h1v1h-1zM262.2 293.8h1v1h-1zM262.2 305.0h1v1h-1zM262.2 307.8h1v1h-1zM265.0 330.3h1v1h-1zM265.0 333.1h1v1h-1zM265.0 335.9h1v1h-1zM267.8 305.0h1v1h-1zM267.8 330.3h1v1h-1zM267.8 333.1h1v1h-1zM267.8 335.9h1v1h-1zM270.6 327.5h1v1h-1zM270.6 330.3h1v1h-1zM270.6 335.9h1v1h-1zM273.4 327.5h1v1h-1zM273.4 330.3h1v1h-1zM273.4 333.1h1v1h-1zM273.4 335.9h1v1h-1zM276.2 327.5h1v1h-1zM276.2 330.3h1v1h-1zM276.2 333.1h1v1h-1zM276.2 335.9h1v1h-1zM287.3 327.5h1v1h-1zM287.3 333.1h1v1h-1zM290.1 276.9h1v1h-1zM290.1 333.1h1v1h-1zM292.9 276.9h1v1h-1zM292.9 324.7h1v1h-1zM292.9 327.5h1v1h-1zM292.9 330.3h1v1h-1zM292.9 333.1h1v1h-1zM295.7 276.9h1v1h-1zM295.7 330.3h1v1h-1zM298.4 276.9h1v1h-1zM298.4 324.7h1v1h-1zM298.4 333.1h1v1h-1zM301.2 276.9h1v1h-1z"/>
<path fill="none" stroke="#000" stroke-width="0.75" stroke-linejoin="round" d="M235.26,275.12 L235.93,275.01 L236.93,275.79 L238.60,275.68 L239.60,275.91 L240.50,275.23 L241.83,275.01 L243.50,274.22 L245.40,274.00 L247.74,274.11 L250.19,273.77 L251.42,273.88 L252.75,273.43 L253.31,273.77 L254.09,273.66 L253.42,274.33 L253.65,275.01 L254.20,275.79 L253.53,276.58 L253.09,277.25 L254.20,277.93 L255.21,278.38 L256.54,278.38 L258.77,279.05 L259.33,280.06 L261.34,280.63 L263.01,281.30 L264.23,280.51 L264.12,279.28 L265.79,278.49 L267.69,278.83 L269.92,279.84 L271.92,280.18 L274.15,280.63 L275.82,279.95 L277.83,280.18 L278.16,281.64 L278.16,281.75 L278.83,283.32 L279.72,285.01 L280.84,287.26 L281.51,288.49 L282.96,290.63 L283.29,292.88 L283.62,294.45 L284.63,295.23 L285.52,297.37 L286.41,298.38 L287.75,299.62 L288.97,300.97 L290.09,301.87 L289.75,302.43 L291.43,303.66 L293.77,303.21 L295.33,302.76 L297.22,302.43 L298.89,301.98 L298.78,303.66 L298.34,305.24 L297.11,307.71 L296.00,309.73 L294.77,311.42 L293.43,312.88 L291.76,314.11 L289.87,315.69 L288.42,317.04 L287.41,317.93 L286.52,318.95 L285.52,320.63 L285.07,322.65 L285.85,323.78 L285.63,324.90 L286.19,326.59 L286.97,327.49 L287.08,329.40 L286.97,331.64 L286.41,333.33 L283.62,335.13 L282.40,336.25 L281.17,337.60 L281.06,339.51 L281.40,340.63 L281.40,342.32 L279.72,343.33 L278.39,344.34 L278.50,345.58 L278.16,347.38 L277.50,347.94 L276.38,348.95 L275.38,350.41 L274.04,351.65 L272.48,352.66 L270.81,353.33 L269.92,353.56 L268.13,353.45 L266.91,353.56 L265.24,354.01 L264.12,354.46 L263.23,354.12 L262.34,353.67 L262.23,352.77 L261.78,352.10 L262.12,350.97 L261.11,349.51 L260.11,347.49 L258.88,346.03 L258.33,344.01 L257.88,341.20 L257.77,340.30 L256.77,338.84 L255.88,336.70 L254.98,334.79 L254.87,333.33 L255.43,331.53 L256.21,329.96 L256.99,328.83 L257.10,327.37 L256.43,326.14 L256.10,324.68 L255.54,322.20 L255.43,321.87 L255.10,320.97 L254.20,319.73 L252.87,318.61 L252.20,317.49 L251.64,316.25 L252.20,315.01 L252.53,314.23 L252.75,312.77 L252.87,311.87 L252.31,310.97 L251.75,310.41 L251.31,310.18 L250.19,310.41 L249.30,310.52 L248.41,310.52 L247.41,309.06 L246.74,308.27 L245.62,308.16 L244.84,308.27 L243.95,308.50 L243.06,308.72 L241.28,309.39 L239.72,310.07 L238.16,309.62 L236.71,309.51 L235.26,309.73 L233.47,310.41 L232.47,310.07 L231.47,309.39 L229.80,308.38 L229.13,307.60 L228.01,307.15 L227.12,306.14 L227.12,305.24 L226.57,304.67 L225.56,303.89 L225.01,303.10 L224.00,302.43 L223.22,301.42 L223.11,300.40 L223.00,299.62 L222.66,298.94 L222.33,298.83 L223.00,298.27 L223.44,297.15 L223.89,295.01 L223.67,293.89 L223.67,292.88 L223.00,291.75 L222.89,291.30 L223.67,289.84 L224.00,288.72 L224.67,287.93 L225.34,287.03 L225.79,285.80 L227.01,284.33 L227.79,283.88 L228.79,283.66 L229.69,282.99 L230.69,282.09 L231.13,281.08 L230.91,280.29 L231.47,278.72 L232.25,277.93 L233.36,277.48 L234.14,277.03 L234.92,275.79 L235.26,275.12Z M296.78,328.83 L297.44,330.18 L297.89,332.21 L298.11,333.11 L297.44,333.78 L297.11,335.35 L296.66,337.26 L296.00,339.29 L295.22,341.42 L294.32,343.33 L292.65,344.12 L291.43,343.67 L290.65,342.66 L290.42,341.42 L290.09,340.07 L290.65,338.95 L291.31,337.94 L291.09,336.48 L290.87,335.13 L291.31,333.89 L292.09,333.33 L293.43,332.99 L294.44,332.21 L295.10,331.08 L295.88,330.41 L296.78,328.83Z M309.26,286.92 L307.14,286.58 L305.69,286.36 L305.13,285.01 L304.35,284.78 L302.79,285.57 L301.46,285.23 L300.23,284.33 L299.12,284.00 L297.78,281.75 L297.00,281.53 L296.00,281.75 L295.33,281.75 L295.22,282.76 L295.77,283.32 L296.22,284.22 L297.11,285.12 L297.67,285.80 L297.78,286.58 L298.22,287.37 L298.78,287.71 L299.12,286.92 L299.34,286.36 L299.34,287.82 L299.78,288.49 L301.34,288.27 L302.68,288.04 L303.69,286.81 L304.35,286.02 L304.69,285.68 L304.69,287.37 L305.25,288.16 L306.47,288.72 L307.25,288.83 L308.03,289.84 L308.48,290.29 L307.92,291.30 L307.03,292.43 L306.25,292.65 L306.14,294.00 L304.91,294.45 L303.80,295.80 L303.46,296.02 L302.90,296.25 L301.01,296.58 L300.01,297.82 L297.11,298.83 L296.11,299.62 L295.22,299.62 L293.54,300.29 L292.65,300.40 L291.98,300.97 L290.87,301.19 L290.31,301.19 L289.98,300.52 L289.64,298.72 L289.31,297.71 L289.53,297.03 L288.97,296.13 L288.42,295.35 L287.75,294.34 L287.41,293.44 L286.63,292.65 L286.19,292.54 L285.41,291.41 L285.30,289.95 L284.74,288.72 L284.18,288.27 L283.62,288.04 L283.29,287.14 L282.96,286.58 L282.62,286.13 L282.18,285.46 L281.51,284.56 L280.95,283.77 L280.39,283.77 L280.62,282.76 L280.78,282.31 L280.39,283.21 L279.95,284.11 L279.61,283.88 L279.28,283.44 L278.72,282.76 L278.16,281.75 M277.83,280.18 L279.95,280.18 L280.39,279.61 L280.84,278.49 L281.40,277.25 L281.84,276.36 L281.73,275.12 L282.18,274.22 L281.40,274.22 L280.50,274.00 L279.72,274.67 L278.05,274.78 L277.16,274.22 L275.94,274.11 L274.93,274.78 L273.82,274.11 L272.59,273.77 L271.92,272.98 L271.25,272.42 L271.70,271.52 L271.03,270.96 L271.25,270.18 L271.59,269.84 M267.02,269.73 L267.24,270.40 L267.02,270.96 L267.80,271.30 L267.02,271.75 L268.02,272.31 L268.58,272.42 L267.58,272.76 L267.24,273.43 L267.58,274.33 L266.91,274.45 L266.02,274.00 L265.57,273.10 L265.35,272.31 L266.24,272.20 L265.35,272.09 L264.90,271.52 L264.35,270.85 L263.79,270.40 L263.45,269.73 M262.45,270.18 L262.34,270.62 L261.00,269.95 L260.67,269.84 L260.22,270.62 L260.89,271.07 L261.00,271.64 L260.33,271.75 L259.78,272.65 L259.33,272.76 L259.33,272.42 L259.55,271.75 L259.33,270.96 L258.88,270.40 L258.44,270.06 M252.75,269.84 L252.64,271.30 L252.09,271.30 L251.64,271.64 L251.19,271.30 L251.19,269.95 L250.97,269.73 M231.25,269.84 L231.80,270.62 L231.36,271.52 L231.91,272.09 L232.03,272.76 L231.91,273.77 L233.03,273.77 L233.59,273.55 L234.59,273.88 L234.92,274.45 L235.59,274.89 L236.37,274.33 L236.93,274.11 L238.04,274.11 L239.49,274.11 L240.05,273.55 L241.05,273.10 L241.05,272.20 L241.94,271.75 L241.50,271.19 L241.94,270.51 L242.39,269.95 L242.72,269.61 M268.02,275.68 L268.80,275.57 L269.69,275.57 L270.59,275.68 L271.14,275.79 L270.92,276.02 L269.36,276.13 L268.02,275.68Z M277.83,276.02 L278.61,275.57 L279.72,275.46 L280.39,275.23 L279.61,275.91 L278.61,276.47 L277.94,276.36 L277.83,276.02Z M255.65,272.54 L256.77,272.42 L259.11,272.31 L258.66,273.43 L258.66,274.11 L257.77,273.77 L255.76,273.10 L255.65,272.54Z M244.51,270.85 L245.29,270.51 L245.62,270.85 L245.18,271.19 L244.51,270.85Z"/>
<path fill="none" stroke="#ec2592" stroke-width="0.95" stroke-linejoin="round" d="M224.89,299.84 L225.90,297.03 L227.35,295.68 L229.69,295.23 L232.03,296.13 L234.92,297.59 L237.71,298.49 L240.50,298.72 L243.84,300.40 L246.07,300.85 L247.85,301.87 L250.64,303.78 L253.42,304.67 L256.32,303.78 L259.11,302.88 L261.45,304.22 L263.79,306.58 L265.68,308.50 L269.47,308.94 L273.15,309.17 L275.04,308.72 L276.83,306.47 L278.72,302.76 L280.62,300.40 L282.51,298.94 L284.41,299.51 L286.30,301.75 L288.19,303.66 L289.53,305.57 L290.98,306.92 L292.87,306.47 L294.77,307.37 L295.22,308.72 L293.77,309.73 L291.87,309.28 L290.09,309.73 L287.19,310.63 L283.40,311.19 L280.62,312.09 L279.17,314.00 L278.72,316.25 L280.17,317.26 L282.06,315.91 L283.40,316.25 L284.41,317.60 L285.30,319.51 L286.19,321.42 L286.63,324.34 L287.30,326.59 L287.86,328.39 L288.31,332.21 L286.41,335.02 L283.07,337.38 L281.17,339.62 L280.28,342.43 L279.39,345.35 L277.94,348.16 L275.60,350.86 L271.81,353.22 L268.02,354.68 L263.68,354.34 L265.24,353.22 L268.02,350.86 L269.92,349.96 L271.81,348.16 L272.26,345.69 L270.92,343.44 L268.02,341.53 L265.24,339.17 L260.56,336.03 L257.99,331.64 L256.88,327.15 L256.10,323.22 L254.43,319.28 L252.98,316.81 L251.64,314.00 L251.08,311.75 L250.19,309.84 L247.85,308.50 L245.18,307.82 L242.39,308.38 L239.60,308.72 L236.71,309.73 L234.37,310.63 L232.03,310.63 L229.13,308.38 L227.35,305.57 L225.45,302.65 L224.89,299.84Z M266.91,333.33 L266.63,332.84 L265.86,332.45 L264.74,332.23 L263.50,332.23 L262.39,332.45 L261.61,332.84 L261.34,333.33 L261.61,333.82 L262.39,334.21 L263.50,334.43 L264.74,334.43 L265.86,334.21 L266.63,333.82 L266.91,333.33Z M266.80,328.27 L266.57,327.72 L266.02,327.49 L265.47,327.72 L265.24,328.27 L265.47,328.83 L266.02,329.06 L266.57,328.83 L266.80,328.27Z M235.59,302.99 L235.36,302.43 L234.81,302.20 L234.26,302.43 L234.03,302.99 L234.26,303.54 L234.81,303.78 L235.36,303.54 L235.59,302.99Z M274.38,271.19 L274.08,270.47 L273.37,270.18 L272.66,270.47 L272.37,271.19 L272.66,271.90 L273.37,272.20 L274.08,271.90 L274.38,271.19Z M296.89,329.51 L297.78,332.21 L297.00,335.58 L296.00,338.95 L295.44,339.17 L296.22,335.58 L296.89,332.21 L296.33,329.96 L296.89,329.51Z"/>
</g>
<rect x="208.40" y="270.40" width="100.30" height="89.90" fill="none" stroke="#000" stroke-width="0.8"/>
<path stroke="#333" stroke-width="0.75" d="M208.40,270.40h-2.8M208.40,292.88h-2.8M208.40,315.35h-2.8M208.40,337.82h-2.8M208.40,360.30h-2.8M219.54,360.30v2.4M241.83,360.30v2.4M264.12,360.30v2.4M286.41,360.30v2.4M308.70,360.30v2.4"/>
<text x="185.23" y="272.85" style="font-size:7.20px" textLength="9.23" lengthAdjust="spacingAndGlyphs">40</text><text x="195.14" y="271.77" style="font-size:5.18px">°</text><text x="198.08" y="272.85" style="font-size:7.20px" textLength="5.42" lengthAdjust="spacingAndGlyphs">N</text>
<text x="185.23" y="295.32" style="font-size:7.20px" textLength="9.23" lengthAdjust="spacingAndGlyphs">20</text><text x="195.14" y="294.25" style="font-size:5.18px">°</text><text x="198.08" y="295.32" style="font-size:7.20px" textLength="5.42" lengthAdjust="spacingAndGlyphs">N</text>
<text x="195.26" y="317.80" style="font-size:7.20px" textLength="4.61" lengthAdjust="spacingAndGlyphs">0</text><text x="200.56" y="316.72" style="font-size:5.18px">°</text>
<text x="186.05" y="340.27" style="font-size:7.20px" textLength="9.23" lengthAdjust="spacingAndGlyphs">20</text><text x="195.96" y="339.19" style="font-size:5.18px">°</text><text x="198.90" y="340.27" style="font-size:7.20px" textLength="4.60" lengthAdjust="spacingAndGlyphs">S</text>
<text x="186.05" y="362.75" style="font-size:7.20px" textLength="9.23" lengthAdjust="spacingAndGlyphs">40</text><text x="195.96" y="361.67" style="font-size:5.18px">°</text><text x="198.90" y="362.75" style="font-size:7.20px" textLength="4.60" lengthAdjust="spacingAndGlyphs">S</text>
<text x="209.53" y="370.60" style="font-size:7.20px" textLength="9.23" lengthAdjust="spacingAndGlyphs">20</text><text x="219.45" y="369.52" style="font-size:5.18px">°</text><text x="222.39" y="370.60" style="font-size:7.20px" textLength="7.17" lengthAdjust="spacingAndGlyphs">W</text>
<text x="237.71" y="370.60" style="font-size:7.20px" textLength="4.61" lengthAdjust="spacingAndGlyphs">0</text><text x="243.01" y="369.52" style="font-size:5.18px">°</text>
<text x="255.41" y="370.60" style="font-size:7.20px" textLength="9.23" lengthAdjust="spacingAndGlyphs">20</text><text x="265.32" y="369.52" style="font-size:5.18px">°</text><text x="268.26" y="370.60" style="font-size:7.20px" textLength="4.58" lengthAdjust="spacingAndGlyphs">E</text>
<text x="277.70" y="370.60" style="font-size:7.20px" textLength="9.23" lengthAdjust="spacingAndGlyphs">40</text><text x="287.61" y="369.52" style="font-size:5.18px">°</text><text x="290.55" y="370.60" style="font-size:7.20px" textLength="4.58" lengthAdjust="spacingAndGlyphs">E</text>
<text x="299.98" y="370.60" style="font-size:7.20px" textLength="9.23" lengthAdjust="spacingAndGlyphs">60</text><text x="309.90" y="369.52" style="font-size:5.18px">°</text><text x="312.83" y="370.60" style="font-size:7.20px" textLength="4.58" lengthAdjust="spacingAndGlyphs">E</text>
<text x="208.10" y="264.80" style="font-size:12.10px" textLength="16.92" lengthAdjust="spacingAndGlyphs">(e)</text><text x="228.30" y="264.80" style="font-size:12.10px" textLength="8.29" lengthAdjust="spacingAndGlyphs">Δ</text><text x="238.20" y="264.80" style="font-size:12.10px;font-style:italic" textLength="15.07" lengthAdjust="spacingAndGlyphs">TE</text>
<clipPath id="cpg"><rect x="25.90" y="396.80" width="99.60" height="90.60"/></clipPath>
<g clip-path="url(#cpg)">
<rect x="25.90" y="396.80" width="99.60" height="90.60" fill="#f5f1e6"/>
<g filter="url(#bl)">
<rect x="22.90" y="393.80" width="105.60" height="96.60" fill="#f5f1e6"/>
<path fill="#e7f2f0" fill-rule="evenodd" d="M32 480.6l.5 .2 1.1 .3 1.2 .1 1.1-.1 1.1-.3 .5-.2 .6-.3 1.1-.8 .9-1.2 .2-.3 .3-.8 .1-1.1-.1-1.2-.3-.7-.2-.4-.9-1.1 0-.1-1.1-.8-.6-.3-.5-.2-1.1-.2-1.1-.1-1.2 .1-1.1 .2-.5 .2-.6 .3-1.1 .8 0 .1-.9 1.1-.2 .4-.3 .7-.1 1.2 .1 1.1 .3 .8 .2 .3 .9 1.2 1.1 .8zM31.3 445.5l.1 0 1.1 .4 1.1 .3 1.2 .2 1.1 .2 2.2 0 2.2-.4 1.1-.3 1.1-.4 .1 0 1-.5 1.1-.6 1.1-.8 1.5-1.5 .7-1.1 0-.1 .4-1.1-.3-1.1-.1-.1-.8-1-.3-.2-1.1-1-1.1-.6-.6-.5-.5-.2-1.1-.8-.1-.1-1-.7-.6-.5-.5-.3-.9-.8-.2-.2-1.1-.9-.1 0-1-.8-.6-.4-.5-.3-1.1-.7-.4-.1-.8-.3-1.1-.3-1.1 0-1.1 .2-.9 .4-.2 .1-1.1 .7-1.1 1.1-.3 .4-.8 1-.1 .1-.5 1.1-.5 1.5-.2 .8-.1 1.1 .1 1.2 .2 .8 .1 .3 .4 1.1 .5 1.2 .1 0 .8 1.1 .3 .4 1.1 1.1 1.1 .8 1.1 .6zM51.9 411.5l.6 .1 2.2 .4 2.2 .2 1.1 0 1.1 .1 1.1-.1 1.1 0 1.1-.1 1.1-.2 1.1-.1 1.1-.2 .2-.1 .9-.2 1.2-.3 1.1-.4 .4-.2 .7-.3 1.1-.6 .4-.2 .7-.6 .6-.6 .5-.7 .3-.4 .2-1.1-.2-1.2-.3-.4-.5-.7-.6-.6-.7-.5-.4-.3-1.1-.6-.7-.3-.4-.2-1.1-.3-1.2-.4-1-.2-.1 0-2.2-.4-3.3-.3-2.2 0-3.3 .3-2.2 .4-.2 0-.9 .2-1.2 .4-1.1 .3-.5 .2-.6 .3-1.1 .6-.4 .3-.7 .5-.6 .6-.5 .6-.3 .5-.3 1.2 .2 1.1 .4 .6 .3 .5 .8 .8 .5 .4 .6 .3 1.1 .6 .4 .2 .7 .3 1.1 .4 1.2 .3z"/>
<path fill="#f6eac9" fill-rule="evenodd" d="M86.5 482.9l.3 .2 1.1 .2 1.1-.2 .6-.2 .5-.2 1.1-.4 1.1-.6 1.1-.4 1.1-.6 .2-.1 .9-.5 .7-.6 1.2-1.2 .3-.4 .5-.7 .5-1.1 .1-.3 .4-.9 .4-1.1 .1-1.1 .2-1.2 0-1.6 .1-.6 .1-1.2 .6-3.3 .3-1.2 .1-.2 .3-.9 .4-1.1 .2-1.2 .2-.5 .2-.6 .3-1.1 .3-1.2 .2-1.1 .1-.3 .5-2 .4-2.2 .2-1.2 0-.1 .2-1 .2-1.1 .3-1.2 .3-1.1 .1-.4 .3-.7 .5-1.2 .3-.8 .1-.3 .6-1.1 .4-1.2 0-.1 .3-1 .3-1.1 .1-1.2 0-1.1-.2-1.1-.3-1.2-.2-.4-.3-.7-.8-1.1-1.1-1.2-1.1-.8-.7-.3-.4-.2-1.1-.3-1.1 0-1.2 .3-.4 .2-.7 .2-1.1 .7-.4 .2-.7 .5-.8 .7-.3 .1-1.1 .7-1.1 .3-1.1-.3-1.1-.5-.8-.3-.3-.2-1.1-.3-1.1-.2-1.1-.1-2.2 .2-1.2 .4-.7 .2-.4 .1-1.1 0-.2-.1-.9-.8-.1-.4-.6-1.1-.4-.8-.1-.3-.6-1.2-.4-.7-.3-.4-.8-.8-.6-.3-.5-.3-1.1 0-.8 .3-.3 .1-1.1 .7-.4 .3-1.1 1.1-.7 1.1-.1 .1-.7 1.1-.3 .6-.4 .5-.7 1.2 0 .1-1.2 1-1.1 0-1.1-.5-1-.6-.1-.1-1.1-.7-.6-.4-.5-.2-1.1-.6-.5-.3-.6-.3-1.1-.6-.6-.2-.5-.3-1.1-.5-.9-.4-.2-.1-1.1-.5-1.1-.4-.5-.1-1.8-.6-2.2-.4-1.1-.1-1.1 0-1.1-.1-1.1 0-.5 .1-.6 0-1.1 .2-1.1 .5-.6 .4-.5 1.1 .1 1.2 .5 1.1 .5 .7 .2 .4 .9 1.1 0 .1 1.1 1.1 .1 0 1 .9 .4 .2 .7 .5 1.1 .6 .3 .1 .8 .5 1.1 .4 .4 .2 .7 .4 1.1 .5 .6 .2 .6 .3 1.1 .5 .9 .4 .2 .1 1.1 .5 1.1 .3 .6 .2 .5 .2 1.1 .4 1.1 .3 1.1 .2 .3 0 .8 .3 1.1 .3 1.1 .4 .2 .2 .5 1.1 0 1.1-.1 1.2-.2 1.1-.1 1.1-.1 1.2-.1 1.1 0 1.1-.1 1.2 0 3.4 .2 2.2 .1 1.2 .1 1.1 .2 1.1 .4 1.2 .1 .4 .2 .7 .5 1.1 .4 .7 .4 .5 .7 .8 .7 .3 .5 .2 1.1 .1 .8-.3 .3-.1 1.1-.7 1.1-1.1 .3-.4 .8-1 .1-.1 .7-1.1 .3-.6 .4-.6 .5-1.1 .2-.3 .5-.8 .6-.9 .4-.3 .7-.4 1.1 .2 .4 .2 .7 .4 1.1 .6 .3 .2 .8 .4 1.1 .4 .5 .3 .7 1 0 .8-.1 .5-.4 2.2-.2 1.2-.2 1.1-.2 2.2 0 1.2-.1 .1 0 1-.1 1.1 0 2.3 .1 1.1 0 .7 .1 .5 .1 1.1 .2 1.1 .3 1.2 .5 1.1 .6 1.1 .5 .6z"/>
<path fill="#ebd6a2" fill-rule="evenodd" d="M88.7 479.5l.3 .1 1.1 .1 1.1-.1 .5-.1 .6-.1 1.1-.3 1.1-.5 .4-.3 .7-.5 .7-.6 .4-.6 .4-.5 .6-1.2 .1-.3 .3-.8 .3-1.1 .2-1.2 .1-1.1 0-1.1 .1-1.2 .1-1.1 0-.5 .2-.6 .3-1.1 .3-1.2 .3-1.1 0-.3 .3-.8 .4-1.2 .3-1.1 .2-.7 .4-1.6 .3-1.1 .2-1.1 .3-1.2 .4-2.2 .2-1.2 .1-1.1 .2-1.1 .2-1.2 .6-2.2 .4-1 0-.2 .6-1.1 .4-1.1 .1-.1 .8-2.2 .2-1.1 .1-1.2-.1-1.1-.2-1.1-.5-1.2-.3-.4-.6-.7-.5-.5-1.1-.6-1.1-.4-1.1 0-1.2 .2-.3 .2-.8 .3-1.1 .7-.2 .1-.9 .7-1.1 1.1-.4 .5-.7 .8-.3 .3-.7 1.1-.1 .3-.4 .9-.6 2.2-.1 .2-.7 1-.4 .4-1.1 .3-1.1-.4-.8-.3-.3-.3-1.1-.8-.3-.1-.1-1.1 .4 0 1.1-.5 .9-.6 .2-.2 .8-1 .2-1.1-.6-1.1-.4-.4-1.1-.6-1-.2-.3 0-.9 .2-1.1 .6-.5 .4-.5 1.1 .1 1.1 .6 1.2 .3 .5 .8 .6-.8 .4-1.2 .3-1.1 .2-1.1-.1-1.1-.5-.2-.3-.3-1.1-.1-1.2-.1-1.1-.3-1.1-.1-.2-.2-1-.3-1.1-.5-1.1-.1-.2-.4-1-.7-1-1.1-1.1-.5-.1-.6-.2-1 .2-.1 0-1.1 .6-1.1 1.1-.4 .5-.7 1-.1 .2-.8 1.1-.2 .4-.6 .7-.5 .7-.7 .5-.5 .3-1.1-.1-.3-.2-.8-.6-.6-.6-.5-.3-.9-.8-.2-.1-1.1-.8-.4-.2-.7-.5-1.1-.6-.1-.1-1-.5-1.1-.6-.1 0-1-.6-1.1-.5-.2 0-.9-.5-1.1-.5-.7-.2-.4-.1-1.2-.4-2.2-.4-3.3 0-1.1 .3-1.1 .5-.2 .1-.7 1.2 0 1.1 .5 1.1 .8 1.2 .7 .7 .5 .4 .6 .5 1.1 .6 1.1 .7 1.1 .4 .2 .1 .9 .4 1.1 .5 .6 .2 .6 .3 1.1 .5 1 .3 .1 .1 2.2 .8 2.2 .6 2.2 .4 2.2 .2 1.1 0 1.1 .2 .9 1.1 .2 1.2 0 1.1-.1 1.1-.2 1.2-.2 1.1-.1 1.1-.1 1.2-.2 2.2 0 2.3 .1 1.1 .1 1.2 .1 1.1 .2 1.1 .2 1.2 .2 .7 .1 .4 .5 1.1 .5 1 .2 .2 1 .9 .5 .2 .6 .2 .9-.2 .2 0 1.1-.7 .5-.4 .6-.6 .4-.6 .7-.9 .1-.2 .7-1.1 .3-.6 .4-.6 .7-1.1 0-.1 .9-1 .2-.2 1.1-.5 1.1 0 1.1 .4 .4 .3 .7 .9 .1 .2 1 .9 .3 .2 .8 .5 1.2 .4 .4 .3 .7 .5 .3 .6 .1 1.1-.1 1.2-.2 1.1-.1 1-.1 .1-.2 1.2-.3 3.3-.1 1.2 0 2.2 .1 1.2 .1 1.1 .3 1.1 .3 1.2 .4 1.1 .6 .9 1.1 1.1z"/>
<path fill="#ddbe78" fill-rule="evenodd" d="M88.4 477.2l.6 .4 1.1 .4 1.1 .2 1.1-.1 1.1-.3 1.1-.5 .1-.1 1-.8 .3-.3 .8-1.2 .5-1.1 .4-1.1 .1-1.2 .1-1.1 0-.1 .1-1 .1-1.2 .2-2.2 .3-1.1 .3-1.2 .1-.6 .2-.5 .4-1.1 .5-2 .1-.3 .4-1.1 .3-1.2 .2-1.1 .2-.7 .1-.4 .2-1.2 .3-1.1 .1-1.1 .2-1.2 .1-1.1 .1-.6 0-.5 .2-1.2 .2-1.1 .3-1.1 .4-1 0-.2 .6-1.1 .4-1.1 .1-.1 .8-2.2 .2-1.1 0-1.2-.1-1.1-.4-1.1-.5-.9-.2-.3-.9-.7-1-.4-.1 0-1.1-.1-.8 .1-.4 .1-1.1 .4-.8 .6-.3 .2-1.1 1.1-.8 1-.3 .5-.4 .6-.5 1.2-.2 .5-.2 .6-.4 1.1-.4 1.2-.1 .1-.6 1-.5 .6-.7 .5-.4 .3-1.1 .2-1.1-.4-.2-.1-.9-.4-1.1-.6-.4-.1-.7-.3-1.1-.4-1.2-.2-1.1-.1-1-.1-.1 0-1.1-.4-1.1-.7-.1-.1-.4-1.1-.2-1.1-.1-1.2-.2-1.1-.1-.4-.1-.7-.3-1.2-.4-1.1-.3-.5-.4-.6-.7-1-.4-.2-.7-.3-1.1 0-.6 .3-.5 .3-1.1 1.1-.7 .9-.4 .5-.4 .6-.7 1.1-.1 .1-.9 1.1-.1 .3-.8 .8-.3 1.2-.1 .1-.1 1 0 1.1-.1 1.2-.1 1.1-.2 1.1-.2 1.2-.2 2.2-.1 1.2-.1 .6 0 .5-.1 1.1 0 1.2 .1 1.1 0 .6 .1 .5 .1 1.2 .4 2.2 .5 1.5 .5 .8 .7 .9 .4 .2 .7 .4 1.1-.1 .5-.3 .6-.3 .8-.8 .3-.2 .7-.9 .4-.6 .3-.6 .7-1.1 .1-.1 .7-1 .4-.6 .6-.6 .5-.4 1.1-.4 1.1-.1 1.1 .2 1.1 .3 1.1 .2 .8 .2 .2 1.2 .1 .9 .1 .2 1.1 .8 .5 .3 .6 .3 1 .9 .1 .1 .2 1 0 1.1-.1 1.2-.1 .6-.1 .5-.2 1.1-.2 1.2-.3 3.3 0 2.3 .1 1.1 .1 1.2 .3 1.1 .3 .9 0 .2 .6 1.2 .5 .6zM55.9 436.4l1 .3 1.1 .3 2.2 .2 1.1 0 1.1-.2 1.1-.6 .3-1.1-.3-.4-.3-.7-.8-.9-.2-.3-.9-.7-.4-.4-.7-.5-.9-.6-.2-.1-1.1-.7-.7-.4-.4-.2-1.1-.6-.7-.3-.4-.2-1.1-.6-.9-.3-.2-.1-1.1-.5-1.2-.3-1.1-.2-.2-.1-.9-.1-1.1 0-1.1 .1-.4 0-.7 .2-1.1 .6-.3 .4-.4 1.1 .3 1.1 .8 1.2 .7 .7 .6 .4 .5 .4 1.1 .6 .4 .1 .7 .4 1.1 .5 .8 .3 .3 .1 1.2 .5 1.1 .4 .1 .1 1 .4 1.1 .4 1.1 .3z"/>
<path fill="#ca9849" fill-rule="evenodd" d="M89 476.1l1.1 .7 1.1 .3 1.1 0 1.1-.2 1.1-.6 .3-.2 .8-.9 .2-.3 .7-1.1 .2-.8 .2-.3 .2-1.2 .2-2.2 .1-1.2 0-1.1 .4-2.2 0-.2 .3-1 .4-1.1 .3-1.1 .1-.5 .3-.7 .6-2.2 .2-.9 .1-.3 .6-2.2 .2-1.2 .2-1.1 .1-.7 0-.4 .2-1.2 .2-2.2 .2-1.2 .1-1.1 .3-1.1 .4-1.2 .5-1.1 .3-.7 .2-.4 .5-1.2 .3-1.1 .1-.4 .1-.7 0-1.2-.1-.8-.1-.3-.6-1.1-.4-.5-1.1-.7-1.1-.2-1 .2-.2 .1-1.1 .5-.7 .6-.4 .3-.7 .8-.4 .5-.4 .6-.6 1.2-.1 .3-.3 .8-.4 1.1-.4 1.2-.6 1.1-.5 .9-.2 .2-.9 1.1-.2 .1-.9 .7-1.1 .2-1.1-.5-.7-.4-.4-.3-1.1-.7-.4-.2-.7-.3-1.1-.4-1.2-.3-.3-.1-.8-.2-2.2-.4-1.1-.4-.2-.1-.8-1.2-.1-.2-.2-.9-.1-1.1-.2-1.2-.2-1.1-.3-1.1-.4-1.2-.7-1.1-.1-.2-1.1-.8-1.1-.1-1.1 .5-1.1 1.1-.5 .6-.9 1.2-.7 1.1-.1 .2-.7 .9-.4 1.2-.1 0-.3 1.1-.2 1.1-.2 1.2-.1 1.1-.2 1.1-.1 .5-.1 .7-.2 1.1-.1 1.1-.1 1.2-.1 1.1 0 2.3 .2 2.2 .2 1.2 .2 .9 .1 .2 .4 1.1 .6 1.2 .1 .1 1.1 .9 1.1 0 1.1-.5 .6-.5 .5-.5 .5-.7 .6-.8 .2-.3 .7-1.1 .8-1.2 .5-.6 .6-.5 .5-.4 1.1-.3 1.1 0 1.1 .2 2.2 .2 1.1-.1 1.2-.1 1.1-.2 1.1-.3 1.1 .1 .4 .9-.3 1.1-.1 .3-1 .9-.1 .1-.7 1 .7 .7 .8 1.6 .2 1.1-.1 1.1-.2 1.2-.4 2.2-.1 1.2-.2 2.2 0 3.4 .1 1.1 .2 1.2 .4 1.1 .4 .9 .1 .2zM54.5 435.3l.2 .1 2.2 .6 2.2 .2 1.1-.1 1.1-.4 .4-.4-.1-1.1-.3-.5-.5-.7-.6-.5-.6-.6-.5-.3-1.1-.7-.1-.1-2-1.2-.1 0-1.1-.6-1-.5-.1-.1-1.1-.5-1.1-.4-1.2-.4-1.1-.3-1.1-.1-1.1 0-1.1 .2-1 .5-.1 .1-.7 1 .2 1.1 .5 .9 .2 .3 .9 .7 .5 .4 .6 .4 1.1 .5 .6 .2 .5 .3 1.1 .4 1.2 .4 .1 .1 1 .4 1.1 .4z"/>
<path fill="#b37625" fill-rule="evenodd" d="M91 476.1l.2 .1 1.1 .1 .8-.2 .3-.1 1.1-.6 .5-.5 .6-.8 .2-.3 .5-1.1 .2-1.2 .2-1.1 0-1.1 .1-1.2 .2-2.2 .3-1.1 .3-1.2 .2-.9 .1-.2 .4-1.1 .3-1.2 .3-1 .1-.1 .3-1.1 .3-1.2 .3-1.1 .1-.9 .1-.2 .2-1.2 .4-2.2 .1-1.2 .2-2.2 .1-1.2 .1-.7 0-.4 .2-1.1 .4-1.2 .4-1.1 .1 0 .5-1.1 .5-1.2 .1-.3 .2-.8 .2-1.1 0-1.2-.4-1.1 0-.1-1.1-1 0-.1-1.1-.2-1.2 .1-.2 .2-.9 .4-.8 .7-.3 .3-.6 .8-.5 .9-.1 .3-.5 1.1-.3 1.1-.2 .5-.2 .7-.5 1.1-.4 .6-.3 .5-.8 1.1 0 .1-1.1 1.1 0 .1-1.1 1-.1 0-1 .8-1.1-.5-.1-.3-1-1.1-1.1-1-.2-.1-.9-.6-1.1-.5-.2-.1-1-.3-2.2-.6-1.1-.2-.1 0-1-.3-1.1-.8-.5-1.2-.3-1.1-.2-1.1-.1-.7-.1-.5-.2-1.1-.4-1.1-.4-.8-.3-.4-.8-.8-1.1-.2-1.1 .5-.6 .5-.5 .5-.5 .7-.6 .8-.3 .3-.7 1.1-.1 .4-.5 .8-.4 1.1-.2 1.1 0 .3-.2 .9-.3 1.1-.2 1.1-.1 1.2-.2 1.1-.1 1.1-.1 .6 0 .6-.1 1.1 0 1.1 .1 1.2 0 .8 .1 .3 .1 1.1 .3 1.2 .4 1.1 .3 .6 .3 .5 .8 .8 1.1 .2 1.1-.4 .5-.6 .6-.5 .5-.6 .6-.8 1-1.5 .1-.2 .8-.9 .3-.4 1-.7 .1-.1 1.1-.3 3.3 .3 1.1 0 1.1-.1 1.2-.2 1.1-.3 1.1-.4 .1-.1 1-.5 1.1-.3 .4 .8 .1 1.2 0 1.1-.4 1.1-.1 .4-.6 .8-.5 1.1 .1 1.1 .3 1.2 0 1.1-.1 1.1-.2 1.2-.1 1.1 0 .1-.2 1-.1 1.2-.2 2.2 0 2.3 .2 2.2 .3 1 0 .2 .5 1.1 .6 1 .1 .1 1 .8zM53.1 434.2l.5 .2 2.2 .6 1.1 .2 1.1 .1 1.1-.2 .9-.9-.5-1.2-.4-.3-.8-.8-.3-.2-1.1-.7-.3-.2-.8-.5-1.1-.6-.1-.1-1-.5-1.1-.6-1.1-.5-1.2-.3-1.1-.3-.4 0-.7-.1-.8 .1-.3 0-1.1 .4-.7 .7 0 1.1 .7 1.2 1.1 .8 .5 .3 .6 .3 1.1 .5 .9 .3 .2 .1 1.2 .4 1.1 .4z"/>
<path fill="#955910" fill-rule="evenodd" d="M90.4 474.9l.8 .4 1.1 .2 1.1-.2 .5-.4 .6-.4 .6-.7 .5-1 .1-.1 .3-1.2 .2-1.1 .1-1.1 0-1.2 .2-2.2 .2-1.1 .4-1.2 .3-1.1 .4-1.1 0-.2 .4-1 .6-2.2 .1-.5 .2-.7 .6-2.2 .2-1.2 .1-1.1 0-.2 .2-.9 .1-1.2 .1-1.1 0-1.1 .1-1.2 0-1.1 .2-1.1 .3-1.2 .2-.4 .2-.7 .6-1.1 .3-.7 .2-.5 .3-1.1 .2-1.1-.2-1.2-.5-1-.2-.1-.9-.4-1.2 .1-.5 .3-.6 .4-.7 .7-.4 .5-.4 .7-.4 1.1-.3 .7-.1 .4-.4 1.2-.5 1.1-.1 .2-.5 .9-.6 .8-.2 .4-.9 1 0 .1-1 1.1-.1 .2-.7 1-.4 .8-.2 .3-.4 1.1-.2 1.2-.2 1.1-.1 .5-.3 .6-.5 1.2-.3 .8-.1 .3-.1 1.1 .1 1.2-.2 2.2-.2 1.2-.1 1.1-.2 1.1-.1 1.2-.1 1.1 0 1.1-.1 1.1 .1 1.2 .1 1.1 .2 1.1 .3 1.2 .4 .7 .2 .4 .9 .9zM68.5 455.7l.6 .6 1.1 .4 1.1-.4 .7-.6 .4-.4 .6-.7 .5-.7 .3-.5 .8-1.1 1-1.1 .1-.1 1.1-.8 1.1-.2 3.3 .3 1.1 0 1.1-.1 1.1-.3 .1 0 1.1-.5 .9-.6 .2-.3 .5-.8-.1-1.2-.4-.7-.3-.4-.8-.7-.6-.4-.5-.3-1.2-.5-.9-.4-.2 0-2.2-.6-1.1-.2-.7-.3-.4-.2-.7-.9-.4-1.1 0-.1-.4-2.2-.3-1.2-.3-1.1-.1-.2-.5-.9-.6-.7-1.1-.4-1.1 .4-.7 .7-.4 .3-.6 .8-.5 .7-.3 .4-.6 1.2-.2 .5-.3 .6-.3 1.1-.3 1.2-.2 1.1 0 .3-.2 .8-.2 1.2-.2 1.1-.1 1.1-.1 1.2-.1 1.1 .1 1.1 0 1.2 .4 2.2 .3 1.2 .1 0zM55.5 434.2l.3 0 1.1 .1 .7-.1 .4-.9 0-.3-1-1.1-.1 0-1.1-.8-.5-.3-.6-.4-1.1-.6-.2-.2-.9-.4-1.1-.6-1.2-.4-1.1-.2-1.1-.1-1.1 .3-.6 .3-.3 1.1 .7 1.2 .2 .1 1.1 .7 .6 .3 .5 .2 1.1 .4 1.5 .5 .8 .3 1.1 .3 1.1 .4z"/>
<path fill="#754308" fill-rule="evenodd" d="M90.1 473.8l1.1 .7 1.1 .3 1.1-.3 .9-.7 .2-.2 .6-.9 .4-1.2 .1-.6 .1-.5 .1-1.1 0-1.2 .1-1.1 .4-2.2 .4-1.6 .3-.7 .4-1.1 .3-1.2 .1-.3 .3-.8 .3-1.1 .3-1.2 .2-1 .1-.1 .2-1.1 .2-1.2 .2-1.1 .1-1.1 .1-1.2 .1-1.1 0-1.1-.1-1.2 0-1.1 .1-1.1 .1-1 .1-.2 .4-1.1 .6-1.1 .1-.2 .4-1 .4-1.1 0-1.1-.5-1.2-.3-.3-1.2 0-.5 .3-.6 .5-.5 .7-.6 1 0 .1-.3 1.1-.3 1.2-.5 1 0 .1-.6 1.1-.5 .5-.4 .7-.7 .7-.3 .4-.8 1-.1 .1-1 1.5-.4 .8-.5 1.1-.2 .9-.1 .3-.3 1.1-.4 1.1-.4 1.2-.5 1.1-.1 1.1-.1 1.2 0 1.1-.2 1.1-.1 1.2-.2 1.1-.1 1.1-.1 1.2-.1 1.1 0 1.1-.1 1.1 .1 1.2 .1 1.1 .3 1.1 .4 1.2zM70.1 455.7l.1 0 1.1-.3 .9-.8 .2-.2 .8-1 .3-.3 .5-.8 .6-.8 .3-.3 .8-.9 .5-.3 .6-.3 1.1-.2 3.3 .3 1.1-.1 1.1-.2 1.2-.4 .3-.2 .8-.8 .2-.3 .1-1.2-.3-.5-.4-.6-.7-.6-.9-.5-.3-.2-1.1-.5-1.1-.3-.7-.2-.4-.1-1.1-.2-1.1-.4-.5-.4-.6-.8-.5-1.5-.4-2.2-.2-.7-.2-.5-.5-1.1-.4-.6-1-.5-.1-.1-.1 .1-1 .3-1 .8-.1 .1-.8 1-.3 .5-.4 .7-.5 1.1-.2 .7-.2 .4-.3 1.2-.2 1.1-.3 1.1-.1 1.2-.4 2.2 0 1.2-.1 1.1 .1 1.1 .1 1.2 .2 1.1 .1 .4 .2 .7 .5 1.2 .4 .5zM50.2 431.9l1.2 .3 2.2 .6 1.1 .2 .5-1.1-.5-.4-.8-.7-.3-.2-1.1-.7-.4-.3-.7-.3-1.2-.4-1.1-.3-1.1 0-1 1 .8 1.2 .2 .1z"/>
<path fill="#543005" fill-rule="evenodd" d="M91.4 473.8l.9 .2 .9-.2 .2 0 1.1-1.1 0-.1 .5-1.1 .2-1.1 .1-1.1 .1-1.2 0-1.1 .2-1.1 0-.1 .2-1 .4-1.2 .3-1.1 .2-.6 .2-.5 .4-1.2 .4-1.1 .1-.6 .2-.5 .3-1.2 .3-1.1 .2-1.1 .1-.8 .1-.4 .2-1.1 .1-1.1 0-1.2 .1-1.1-.1-1.1-.1-1.2-.1-1.1-.2-.9-.1-.2-.5-1.2-.5-.3-.1 .3-1 .7-.4 .5-.7 .5-.5 .6-.6 .6-.4 .5-.7 .9-.2 .3-.6 1.1-.3 .6-.2 .5-.4 1.2-.4 1.1-.1 .4-.3 .7-.4 1.2-.4 1.1-.2 1.1-.1 1.2-.1 1.1-.2 1.1-.1 1.2-.1 1.1-.2 1.1 0 1.2-.1 1.1 0 .1-.1 1 .1 1.1 0 1.2 .2 1.1 .3 1.1 .6 1.2 1.1 1zM69.8 454.6l.4 .2 .9-.2 .2-.1 1.1-.9 .1-.2 1-1.1 .8-1.1 .3-.4 .7-.8 .4-.4 1.1-.6 1-.1 .2 0 1 .1 2.2 .2 1.1-.2 .6-.1 .5-.2 1.2-.9 .2-1.2-.2-.3-.5-.8-.7-.5-.9-.6-.2-.1-1.1-.4-1.1-.3-1.1-.2-.8-.2-.3-.1-1.1-.8-.1-.2-.5-1.1-.3-1.2-.2-.9-.1-.2-.3-1.1-.4-1.2-.3-.5-.8-.6-.3-.2-.9 .2-.2 0-1.1 1-.1 .1-1 1.5-.4 .8-.4 1.1-.3 1.1-.1 .1-.3 1.1-.2 1.1-.2 1.2-.2 1.1-.1 1.1 0 .8-.1 .4 0 1.1 .1 .7 0 .4 .1 1.2 .3 1.1 .4 1.1 .3 .6zM98.8 441l.1 .4 .3-.4 .8-.7 .3-.5 .3-1.1-.6-.8-.8 .8-.3 .5-.1 .6zM49.6 430.8l.6 .1 1.2 .1 .3-.2-.3-.2-1.2-.9-.1-.1-1-.1-.3 .1 .3 .6z"/>
</g>
<path fill="#222" d="M26.8 406.2h1v1h-1zM26.8 409.0h1v1h-1zM26.8 411.9h1v1h-1zM26.8 414.7h1v1h-1zM26.8 437.4h1v1h-1zM26.8 443.0h1v1h-1zM29.5 406.2h1v1h-1zM29.5 409.0h1v1h-1zM32.3 406.2h1v1h-1zM32.3 409.0h1v1h-1zM32.3 414.7h1v1h-1zM32.3 437.4h1v1h-1zM32.3 440.2h1v1h-1zM35.1 406.2h1v1h-1zM35.1 409.0h1v1h-1zM35.1 411.9h1v1h-1zM35.1 414.7h1v1h-1zM37.9 409.0h1v1h-1zM37.9 411.9h1v1h-1zM37.9 414.7h1v1h-1zM40.6 406.2h1v1h-1zM40.6 409.0h1v1h-1zM40.6 411.9h1v1h-1zM40.6 414.7h1v1h-1zM46.1 426.0h1v1h-1zM46.1 477.0h1v1h-1zM46.1 479.8h1v1h-1zM48.9 428.9h1v1h-1zM51.7 426.0h1v1h-1zM57.2 406.2h1v1h-1zM57.2 409.0h1v1h-1zM57.2 411.9h1v1h-1zM57.2 414.7h1v1h-1zM60.0 406.2h1v1h-1zM60.0 409.0h1v1h-1zM60.0 411.9h1v1h-1zM60.0 414.7h1v1h-1zM62.8 409.0h1v1h-1zM62.8 411.9h1v1h-1zM62.8 414.7h1v1h-1zM65.5 406.2h1v1h-1zM65.5 411.9h1v1h-1zM65.5 414.7h1v1h-1zM65.5 431.7h1v1h-1zM65.5 434.5h1v1h-1zM68.3 406.2h1v1h-1zM68.3 409.0h1v1h-1zM68.3 411.9h1v1h-1zM68.3 414.7h1v1h-1zM68.3 437.4h1v1h-1zM68.3 440.2h1v1h-1zM68.3 443.0h1v1h-1zM68.3 445.8h1v1h-1zM68.3 448.7h1v1h-1zM68.3 451.5h1v1h-1zM68.3 454.3h1v1h-1zM71.0 409.0h1v1h-1zM71.0 411.9h1v1h-1zM71.0 431.7h1v1h-1zM71.0 434.5h1v1h-1zM71.0 437.4h1v1h-1zM71.0 440.2h1v1h-1zM71.0 443.0h1v1h-1zM71.0 445.8h1v1h-1zM71.0 448.7h1v1h-1zM71.0 451.5h1v1h-1zM71.0 454.3h1v1h-1zM73.8 411.9h1v1h-1zM73.8 434.5h1v1h-1zM73.8 437.4h1v1h-1zM73.8 440.2h1v1h-1zM73.8 443.0h1v1h-1zM73.8 445.8h1v1h-1zM73.8 448.7h1v1h-1zM73.8 451.5h1v1h-1zM73.8 454.3h1v1h-1zM76.6 417.5h1v1h-1zM76.6 437.4h1v1h-1zM76.6 440.2h1v1h-1zM76.6 443.0h1v1h-1zM76.6 445.8h1v1h-1zM76.6 448.7h1v1h-1zM76.6 451.5h1v1h-1zM76.6 454.3h1v1h-1zM79.3 409.0h1v1h-1zM79.3 420.4h1v1h-1zM79.3 440.2h1v1h-1zM79.3 445.8h1v1h-1zM79.3 448.7h1v1h-1zM79.3 451.5h1v1h-1zM82.1 409.0h1v1h-1zM82.1 411.9h1v1h-1zM82.1 440.2h1v1h-1zM82.1 443.0h1v1h-1zM82.1 445.8h1v1h-1zM82.1 451.5h1v1h-1zM84.9 411.9h1v1h-1zM84.9 414.7h1v1h-1zM84.9 440.2h1v1h-1zM84.9 443.0h1v1h-1zM84.9 445.8h1v1h-1zM84.9 448.7h1v1h-1zM84.9 451.5h1v1h-1zM87.7 440.2h1v1h-1zM87.7 443.0h1v1h-1zM87.7 445.8h1v1h-1zM87.7 448.7h1v1h-1zM87.7 457.2h1v1h-1zM87.7 460.0h1v1h-1zM87.7 462.8h1v1h-1zM87.7 465.7h1v1h-1zM87.7 471.3h1v1h-1zM87.7 474.2h1v1h-1zM87.7 479.8h1v1h-1zM90.4 411.9h1v1h-1zM90.4 414.7h1v1h-1zM90.4 420.4h1v1h-1zM90.4 428.9h1v1h-1zM90.4 431.7h1v1h-1zM90.4 440.2h1v1h-1zM90.4 443.0h1v1h-1zM90.4 445.8h1v1h-1zM90.4 448.7h1v1h-1zM90.4 451.5h1v1h-1zM90.4 457.2h1v1h-1zM90.4 460.0h1v1h-1zM90.4 462.8h1v1h-1zM90.4 468.5h1v1h-1zM90.4 474.2h1v1h-1zM93.2 409.0h1v1h-1zM93.2 420.4h1v1h-1zM93.2 428.9h1v1h-1zM93.2 434.5h1v1h-1zM93.2 457.2h1v1h-1zM93.2 460.0h1v1h-1zM93.2 462.8h1v1h-1zM93.2 465.7h1v1h-1zM93.2 468.5h1v1h-1zM93.2 471.3h1v1h-1zM93.2 474.2h1v1h-1zM93.2 479.8h1v1h-1zM95.9 428.9h1v1h-1zM95.9 431.7h1v1h-1zM95.9 457.2h1v1h-1zM95.9 460.0h1v1h-1zM95.9 462.8h1v1h-1zM95.9 468.5h1v1h-1zM95.9 471.3h1v1h-1zM95.9 474.2h1v1h-1zM98.7 428.9h1v1h-1zM98.7 434.5h1v1h-1zM98.7 457.2h1v1h-1zM98.7 460.0h1v1h-1zM98.7 462.8h1v1h-1zM98.7 468.5h1v1h-1zM98.7 471.3h1v1h-1zM98.7 474.2h1v1h-1zM98.7 479.8h1v1h-1zM101.5 417.5h1v1h-1zM101.5 420.4h1v1h-1zM101.5 428.9h1v1h-1zM101.5 431.7h1v1h-1zM101.5 434.5h1v1h-1zM101.5 457.2h1v1h-1zM101.5 460.0h1v1h-1zM101.5 462.8h1v1h-1zM101.5 468.5h1v1h-1zM101.5 471.3h1v1h-1zM101.5 474.2h1v1h-1zM104.2 423.2h1v1h-1zM104.2 426.0h1v1h-1zM104.2 428.9h1v1h-1zM104.2 434.5h1v1h-1zM104.2 451.5h1v1h-1zM104.2 454.3h1v1h-1zM104.2 457.2h1v1h-1zM104.2 460.0h1v1h-1zM107.0 417.5h1v1h-1zM107.0 423.2h1v1h-1zM107.0 451.5h1v1h-1zM107.0 454.3h1v1h-1zM107.0 457.2h1v1h-1zM107.0 460.0h1v1h-1zM109.8 423.2h1v1h-1zM109.8 451.5h1v1h-1zM112.6 417.5h1v1h-1zM112.6 423.2h1v1h-1zM112.6 454.3h1v1h-1zM112.6 460.0h1v1h-1zM115.3 420.4h1v1h-1zM115.3 454.3h1v1h-1zM118.1 417.5h1v1h-1zM118.1 420.4h1v1h-1zM118.1 423.2h1v1h-1zM118.1 426.0h1v1h-1zM118.1 457.2h1v1h-1zM118.1 460.0h1v1h-1z"/>
<path fill="none" stroke="#000" stroke-width="0.75" stroke-linejoin="round" d="M52.57,401.56 L53.23,401.44 L54.23,402.24 L55.89,402.12 L56.89,402.35 L57.77,401.67 L59.10,401.44 L60.76,400.65 L62.64,400.42 L64.97,400.54 L67.40,400.20 L68.62,400.31 L69.95,399.86 L70.50,400.20 L71.27,400.08 L70.61,400.76 L70.83,401.44 L71.38,402.24 L70.72,403.03 L70.28,403.71 L71.38,404.39 L72.38,404.84 L73.71,404.84 L75.92,405.52 L76.47,406.54 L78.47,407.11 L80.13,407.79 L81.34,406.99 L81.23,405.75 L82.89,404.95 L84.77,405.29 L86.99,406.31 L88.98,406.65 L91.19,407.11 L92.85,406.43 L94.85,406.65 L95.18,408.12 L95.18,408.24 L95.84,409.82 L96.73,411.52 L97.83,413.79 L98.50,415.03 L99.94,417.19 L100.27,419.45 L100.60,421.04 L101.60,421.83 L102.48,423.98 L103.37,425.00 L104.69,426.25 L105.91,427.60 L107.02,428.51 L106.69,429.08 L108.35,430.32 L110.67,429.87 L112.22,429.42 L114.10,429.08 L115.76,428.62 L115.65,430.32 L115.21,431.91 L113.99,434.40 L112.88,436.44 L111.67,438.14 L110.34,439.61 L108.68,440.85 L106.80,442.44 L105.36,443.80 L104.36,444.70 L103.48,445.72 L102.48,447.42 L102.04,449.46 L102.81,450.59 L102.59,451.73 L103.15,453.43 L103.92,454.33 L104.03,456.26 L103.92,458.52 L103.37,460.22 L100.60,462.03 L99.38,463.16 L98.17,464.52 L98.05,466.45 L98.39,467.58 L98.39,469.28 L96.73,470.30 L95.40,471.32 L95.51,472.56 L95.18,474.38 L94.51,474.94 L93.41,475.96 L92.41,477.43 L91.08,478.68 L89.53,479.70 L87.87,480.38 L86.99,480.61 L85.22,480.49 L84.00,480.61 L82.34,481.06 L81.23,481.51 L80.35,481.17 L79.46,480.72 L79.35,479.81 L78.91,479.13 L79.24,478.00 L78.25,476.53 L77.25,474.49 L76.03,473.02 L75.48,470.98 L75.04,468.15 L74.93,467.24 L73.93,465.77 L73.04,463.62 L72.16,461.69 L72.05,460.22 L72.60,458.41 L73.38,456.82 L74.15,455.69 L74.26,454.22 L73.60,452.97 L73.27,451.50 L72.71,449.01 L72.60,448.67 L72.27,447.76 L71.38,446.52 L70.06,445.38 L69.39,444.25 L68.84,443.01 L69.39,441.76 L69.72,440.97 L69.95,439.50 L70.06,438.59 L69.50,437.68 L68.95,437.12 L68.51,436.89 L67.40,437.12 L66.51,437.23 L65.63,437.23 L64.63,435.76 L63.97,434.97 L62.86,434.85 L62.09,434.97 L61.20,435.19 L60.32,435.42 L58.55,436.10 L57.00,436.78 L55.45,436.32 L54.01,436.21 L52.57,436.44 L50.80,437.12 L49.80,436.78 L48.81,436.10 L47.15,435.08 L46.48,434.29 L45.38,433.83 L44.49,432.81 L44.49,431.91 L43.94,431.34 L42.94,430.55 L42.39,429.76 L41.39,429.08 L40.62,428.06 L40.51,427.04 L40.40,426.25 L40.07,425.57 L39.73,425.45 L40.40,424.89 L40.84,423.75 L41.28,421.60 L41.06,420.47 L41.06,419.45 L40.40,418.32 L40.29,417.86 L41.06,416.39 L41.39,415.26 L42.06,414.47 L42.72,413.56 L43.16,412.32 L44.38,410.84 L45.16,410.39 L46.15,410.16 L47.04,409.48 L48.03,408.58 L48.48,407.56 L48.25,406.77 L48.81,405.18 L49.58,404.39 L50.69,403.93 L51.46,403.48 L52.24,402.24 L52.57,401.56Z M113.66,455.69 L114.32,457.05 L114.77,459.09 L114.99,459.99 L114.32,460.67 L113.99,462.26 L113.55,464.18 L112.88,466.22 L112.11,468.37 L111.22,470.30 L109.56,471.09 L108.35,470.64 L107.57,469.62 L107.35,468.37 L107.02,467.01 L107.57,465.88 L108.24,464.86 L108.01,463.39 L107.79,462.03 L108.24,460.79 L109.01,460.22 L110.34,459.88 L111.33,459.09 L112.00,457.95 L112.77,457.28 L113.66,455.69Z M126.05,413.45 L123.95,413.11 L122.51,412.88 L121.96,411.52 L121.18,411.30 L119.63,412.09 L118.31,411.75 L117.09,410.84 L115.98,410.50 L114.65,408.24 L113.88,408.01 L112.88,408.24 L112.22,408.24 L112.11,409.26 L112.66,409.82 L113.11,410.73 L113.99,411.64 L114.54,412.32 L114.65,413.11 L115.10,413.90 L115.65,414.24 L115.98,413.45 L116.20,412.88 L116.20,414.35 L116.65,415.03 L118.20,414.81 L119.52,414.58 L120.52,413.33 L121.18,412.54 L121.52,412.20 L121.52,413.90 L122.07,414.69 L123.29,415.26 L124.06,415.37 L124.84,416.39 L125.28,416.85 L124.73,417.86 L123.84,419.00 L123.07,419.22 L122.95,420.58 L121.74,421.04 L120.63,422.39 L120.30,422.62 L119.75,422.85 L117.86,423.19 L116.87,424.43 L113.99,425.45 L112.99,426.25 L112.11,426.25 L110.45,426.92 L109.56,427.04 L108.90,427.60 L107.79,427.83 L107.24,427.83 L106.91,427.15 L106.58,425.34 L106.24,424.32 L106.47,423.64 L105.91,422.73 L105.36,421.94 L104.69,420.92 L104.36,420.02 L103.59,419.22 L103.15,419.11 L102.37,417.98 L102.26,416.51 L101.71,415.26 L101.15,414.81 L100.60,414.58 L100.27,413.67 L99.94,413.11 L99.60,412.66 L99.16,411.98 L98.50,411.07 L97.94,410.28 L97.39,410.28 L97.61,409.26 L97.78,408.80 L97.39,409.71 L96.95,410.62 L96.62,410.39 L96.28,409.94 L95.73,409.26 L95.18,408.24 M94.85,406.65 L96.95,406.65 L97.39,406.09 L97.83,404.95 L98.39,403.71 L98.83,402.80 L98.72,401.56 L99.16,400.65 L98.39,400.65 L97.50,400.42 L96.73,401.10 L95.07,401.22 L94.18,400.65 L92.96,400.54 L91.97,401.22 L90.86,400.54 L89.64,400.20 L88.98,399.40 L88.32,398.84 L88.76,397.93 L88.09,397.37 L88.32,396.57 L88.65,396.23 M84.11,396.12 L84.33,396.80 L84.11,397.37 L84.89,397.71 L84.11,398.16 L85.11,398.73 L85.66,398.84 L84.66,399.18 L84.33,399.86 L84.66,400.76 L84.00,400.88 L83.11,400.42 L82.67,399.52 L82.45,398.73 L83.34,398.61 L82.45,398.50 L82.01,397.93 L81.45,397.25 L80.90,396.80 L80.57,396.12 M79.57,396.57 L79.46,397.03 L78.13,396.35 L77.80,396.23 L77.36,397.03 L78.02,397.48 L78.13,398.05 L77.47,398.16 L76.92,399.06 L76.47,399.18 L76.47,398.84 L76.70,398.16 L76.47,397.37 L76.03,396.80 L75.59,396.46 M69.95,396.23 L69.83,397.71 L69.28,397.71 L68.84,398.05 L68.40,397.71 L68.40,396.35 L68.17,396.12 M48.59,396.23 L49.14,397.03 L48.70,397.93 L49.25,398.50 L49.36,399.18 L49.25,400.20 L50.36,400.20 L50.91,399.97 L51.91,400.31 L52.24,400.88 L52.90,401.33 L53.68,400.76 L54.23,400.54 L55.34,400.54 L56.78,400.54 L57.33,399.97 L58.33,399.52 L58.33,398.61 L59.21,398.16 L58.77,397.59 L59.21,396.91 L59.65,396.35 L59.99,396.01 M85.11,402.12 L85.88,402.01 L86.77,402.01 L87.65,402.12 L88.21,402.24 L87.98,402.46 L86.43,402.58 L85.11,402.12Z M94.85,402.46 L95.62,402.01 L96.73,401.90 L97.39,401.67 L96.62,402.35 L95.62,402.92 L94.96,402.80 L94.85,402.46Z M72.82,398.95 L73.93,398.84 L76.25,398.73 L75.81,399.86 L75.81,400.54 L74.93,400.20 L72.93,399.52 L72.82,398.95Z M61.76,397.25 L62.53,396.91 L62.86,397.25 L62.42,397.59 L61.76,397.25Z"/>
<path fill="none" stroke="#ec2592" stroke-width="0.95" stroke-linejoin="round" d="M42.28,426.47 L43.27,423.64 L44.71,422.28 L47.04,421.83 L49.36,422.73 L52.24,424.21 L55.01,425.11 L57.77,425.34 L61.09,427.04 L63.31,427.49 L65.08,428.51 L67.84,430.44 L70.61,431.34 L73.49,430.44 L76.25,429.53 L78.58,430.89 L80.90,433.27 L82.78,435.19 L86.55,435.64 L90.20,435.87 L92.08,435.42 L93.85,433.15 L95.73,429.42 L97.61,427.04 L99.49,425.57 L101.37,426.13 L103.26,428.40 L105.14,430.32 L106.47,432.25 L107.90,433.61 L109.79,433.15 L111.67,434.06 L112.11,435.42 L110.67,436.44 L108.79,435.98 L107.02,436.44 L104.14,437.34 L100.38,437.91 L97.61,438.82 L96.17,440.74 L95.73,443.01 L97.17,444.03 L99.05,442.67 L100.38,443.01 L101.37,444.37 L102.26,446.29 L103.15,448.22 L103.59,451.16 L104.25,453.43 L104.81,455.24 L105.25,459.09 L103.37,461.92 L100.05,464.30 L98.17,466.56 L97.28,469.39 L96.39,472.34 L94.96,475.17 L92.63,477.89 L88.87,480.27 L85.11,481.74 L80.79,481.40 L82.34,480.27 L85.11,477.89 L86.99,476.98 L88.87,475.17 L89.31,472.68 L87.98,470.41 L85.11,468.49 L82.34,466.11 L77.69,462.94 L75.15,458.52 L74.04,453.99 L73.27,450.03 L71.61,446.06 L70.17,443.57 L68.84,440.74 L68.29,438.48 L67.40,436.55 L65.08,435.19 L62.42,434.51 L59.65,435.08 L56.89,435.42 L54.01,436.44 L51.69,437.34 L49.36,437.34 L46.48,435.08 L44.71,432.25 L42.83,429.30 L42.28,426.47Z M84.00,460.22 L83.73,459.73 L82.96,459.33 L81.85,459.12 L80.62,459.12 L79.51,459.33 L78.74,459.73 L78.47,460.22 L78.74,460.71 L79.51,461.11 L80.62,461.32 L81.85,461.32 L82.96,461.11 L83.73,460.71 L84.00,460.22Z M83.89,455.12 L83.66,454.56 L83.11,454.33 L82.57,454.56 L82.34,455.12 L82.57,455.68 L83.11,455.92 L83.66,455.68 L83.89,455.12Z M52.90,429.64 L52.68,429.08 L52.13,428.85 L51.58,429.08 L51.35,429.64 L51.58,430.20 L52.13,430.44 L52.68,430.20 L52.90,429.64Z M91.41,397.59 L91.12,396.87 L90.42,396.57 L89.71,396.87 L89.42,397.59 L89.71,398.31 L90.42,398.61 L91.12,398.31 L91.41,397.59Z M113.77,456.37 L114.65,459.09 L113.88,462.49 L112.88,465.88 L112.33,466.11 L113.11,462.49 L113.77,459.09 L113.22,456.82 L113.77,456.37Z"/>
</g>
<rect x="25.90" y="396.80" width="99.60" height="90.60" fill="none" stroke="#000" stroke-width="0.8"/>
<path stroke="#333" stroke-width="0.75" d="M25.90,396.80h-2.8M25.90,419.45h-2.8M25.90,442.10h-2.8M25.90,464.75h-2.8M25.90,487.40h-2.8M36.97,487.40v2.4M59.10,487.40v2.4M81.23,487.40v2.4M103.37,487.40v2.4M125.50,487.40v2.4"/>
<text x="2.73" y="399.25" style="font-size:7.20px" textLength="9.23" lengthAdjust="spacingAndGlyphs">40</text><text x="12.64" y="398.17" style="font-size:5.18px">°</text><text x="15.58" y="399.25" style="font-size:7.20px" textLength="5.42" lengthAdjust="spacingAndGlyphs">N</text>
<text x="2.73" y="421.90" style="font-size:7.20px" textLength="9.23" lengthAdjust="spacingAndGlyphs">20</text><text x="12.64" y="420.82" style="font-size:5.18px">°</text><text x="15.58" y="421.90" style="font-size:7.20px" textLength="5.42" lengthAdjust="spacingAndGlyphs">N</text>
<text x="12.76" y="444.55" style="font-size:7.20px" textLength="4.61" lengthAdjust="spacingAndGlyphs">0</text><text x="18.06" y="443.47" style="font-size:5.18px">°</text>
<text x="3.55" y="467.20" style="font-size:7.20px" textLength="9.23" lengthAdjust="spacingAndGlyphs">20</text><text x="13.46" y="466.12" style="font-size:5.18px">°</text><text x="16.40" y="467.20" style="font-size:7.20px" textLength="4.60" lengthAdjust="spacingAndGlyphs">S</text>
<text x="3.55" y="489.85" style="font-size:7.20px" textLength="9.23" lengthAdjust="spacingAndGlyphs">40</text><text x="13.46" y="488.77" style="font-size:5.18px">°</text><text x="16.40" y="489.85" style="font-size:7.20px" textLength="4.60" lengthAdjust="spacingAndGlyphs">S</text>
<text x="26.96" y="497.70" style="font-size:7.20px" textLength="9.23" lengthAdjust="spacingAndGlyphs">20</text><text x="36.87" y="496.62" style="font-size:5.18px">°</text><text x="39.81" y="497.70" style="font-size:7.20px" textLength="7.17" lengthAdjust="spacingAndGlyphs">W</text>
<text x="54.98" y="497.70" style="font-size:7.20px" textLength="4.61" lengthAdjust="spacingAndGlyphs">0</text><text x="60.28" y="496.62" style="font-size:5.18px">°</text>
<text x="72.52" y="497.70" style="font-size:7.20px" textLength="9.23" lengthAdjust="spacingAndGlyphs">20</text><text x="82.43" y="496.62" style="font-size:5.18px">°</text><text x="85.37" y="497.70" style="font-size:7.20px" textLength="4.58" lengthAdjust="spacingAndGlyphs">E</text>
<text x="94.65" y="497.70" style="font-size:7.20px" textLength="9.23" lengthAdjust="spacingAndGlyphs">40</text><text x="104.56" y="496.62" style="font-size:5.18px">°</text><text x="107.50" y="497.70" style="font-size:7.20px" textLength="4.58" lengthAdjust="spacingAndGlyphs">E</text>
<text x="116.78" y="497.70" style="font-size:7.20px" textLength="9.23" lengthAdjust="spacingAndGlyphs">60</text><text x="126.70" y="496.62" style="font-size:5.18px">°</text><text x="129.63" y="497.70" style="font-size:7.20px" textLength="4.58" lengthAdjust="spacingAndGlyphs">E</text>
<text x="25.80" y="391.30" style="font-size:12.10px" textLength="17.16" lengthAdjust="spacingAndGlyphs">(g)</text><text x="46.00" y="391.30" style="font-size:12.10px" textLength="8.29" lengthAdjust="spacingAndGlyphs">Δ</text><text x="55.30" y="391.30" style="font-size:12.10px;font-style:italic" textLength="7.70" lengthAdjust="spacingAndGlyphs">S</text>
<clipPath id="cpf"><rect x="208.40" y="396.80" width="100.30" height="90.60"/></clipPath>
<g clip-path="url(#cpf)">
<rect x="208.40" y="396.80" width="100.30" height="90.60" fill="#f5f1e6"/>
<g filter="url(#bl)">
<rect x="205.40" y="393.80" width="106.30" height="96.60" fill="#f5f1e6"/>
<path fill="#e7f2f0" fill-rule="evenodd" d="M206.4 488.5l.9 .6 1.1 .4 .5 .2 5.6 0 .6-.2 1.1-.5 .7-.5 .4-.3 .9-.8 .2-.4 .5-.7 .3-1.2-.1-1.1-.6-1.1-.1-.1-1.1-1-.1-.1-1-.5-1.1-.5-.3-.1-.8-.2-1.1-.2-1.2-.2-1.1-.1-1.1 0-1.1 .1-1.1 .3-.9 .3-.2 .1 0 7.6zM285 487.4l.3 0 1.1 .2 2.2 .2 1.2 .1 4.4 0 2.2-.2 1.2-.1 1.1-.1 .4-.1 .7-.1 2.2-.4 2.2-.6 .1 0 2.2-.8 .7-.4 .4-.2 1.1-.7 .3-.2 .8-.9 .2-.2 .4-1.2-.1-1.1-.5-1 0-.1-.7-1.2-.4-.8-.1-.3-.2-1.1 .2-1.2 .1 0 .5-1.1 .6-.9 .2-.2 .7-1.2 .2-.2 0-21.3-1-1.1-.1-.1-1.1-.9-.2-.1-.9-.7-.9-.5-.2-.1-1.1-.5-1.2-.4-.6-.1-.5-.1-1.1-.2-2.2-.2-2.2 0-1.2-.2-1.1-.4-1.1-1-.1-.2-.9-1.1-.1-.2-.6-.9-.5-.7-.3-.5-.6-1.1-.2-.7-.1-.4 0-1.2 .1-.3 .2-.8 .4-1.1 .4-1.2 .1-.1 .4-1 .5-1.1 .2-.7 .3-.5 .6-1.1 .2-.5 .7-.6 .4-.5 1.1-.6 .2-.1 1-.4 1.1-.5 .3-.2 .8-.4 1.1-.7 1.1-1 .2-.2 .9-1.1 .7-1.1 .4-1.1 .1-.1 .2-1.1 .1-1.1-.1-1.1-.2-1.2-.1 0-.4-1.1-.7-1.1-.9-1.2-1.1-1.1-.2-.1-1.1-.9-.2-.1-1.8-1.2-1.4-.7-1-.4-.1 0-1.1-.5-1.1-.4-.9-.2-.2-.1-2.2-.6-1.2-.2-1.1-.2-.5-.1-.6-.1-3.3-.3-5.6 0-4.4 .4-.1 0-3.3 .6-1.1 .3-.8 .3-.3 .1-1.1 .4-1.2 .4-.3 .2-.8 .4-1.1 .7-.1 0-1 .7-.6 .5-.5 .5-.7 .6-.4 .5-.6 .6-.5 .9-.3 .3-.6 1.1-.3 .8-.1 .3-.3 1.2 0 1.1 .1 1.1 .3 1.1 0 .2 .5 1 .7 .8 .2 .3 .9 .8 .4 .3 .7 .5 1 .7 .1 .1 1.1 .6 .7 .4 .4 .2 1.1 .7 .5 .2 .7 .4 1.1 .6 .4 .2 .7 .3 1.1 .5 .7 .3 .4 .2 1.1 .5 .6 .4 .5 .4 .6 .8 .6 .6 .2 .5 .6 1.1 .3 .4 .4 .8 .7 .9 .1 .2 .7 1.1 .3 .4 .4 .8 .4 1.1 .2 1.1 .1 1.2 0 2.2-.1 1.2-.1 1.1-.2 1.1-.2 1.2-.3 1.1-.2 .7-.2 .4-.4 1.2-.5 1.1-.7 1.1-.4 1-.3 .2-.8 1.1 .1 1.1 1 .5 .4 .7 .7 .5 .5 .6 .6 .4 .6 .7 .5 .4 .7 .8 .4 .3 .8 .8 .3 .4 .7 .7 .5 .6 .3 .6 .6 1.1 .2 .4 .2 .7 .3 1.1 0 1.2-.2 2.2-.2 1.2-.1 .5-.2 .6-.4 1.1-.5 1-1.2 1.2 0 .1-1.1 .9-.4 .2-.7 .5-1 .7-.1 .1-1.1 1-.1 0-.7 1.1-.2 1.2 .4 1.1 .6 .6 .7 .5 .4 .2 1.1 .5 1.1 .4 .1 .1 1 .3 1.2 .3 2.2 .4zM248.5 467.3l2.2 .4 4.5 0 1.1-.1 1.1-.2 1.2-.2 .7-.2 .4 0 1.1-.3 1.1-.5 .7-.3 .4-.2 1.1-.5 .8-.4 .3-.2 1.2-.7 .3-.3 .8-.5 .7-.6 .4-.3 1-.8 2.3-2.3 0-.1 1-1 .1-.5 1-.7 0-1.1-1-.4-.4-.7-.7-.5-.6-.7-.5-.4-.7-.7-.4-.3-.8-.8-.3-.4-.8-.8-.3-.4-.7-.7-.4-.6-.5-.5-.7-.9-.2-.3-.9-1-.1-.1-1-.7-.5-.4-.6-.3-1.1-.7-.3-.2-.8-.4-1.1-.6-1.2-.6-1-.6-.1-.1-1.1-.6-.7-.5-.4-.2-1.1-.8-.3-.1-.8-.6-1-.5-.2-.2-1.1-.6-.8-.4-.3-.1-1.1-.3-1.1-.1-2.2 .4-.4 .1-.8 .3-2.2 .8-.3 .1-.8 .7-.3 .4 .3 .5 .2 .6 .2 1.2-.4 .4-.5 .7-.6 .3-1.1 .4-1.1 .3-.5 .1-.7 .1-3.3 .3-2.2 0-1.1 .1-7.8 0-1.2-.1-1.1-.1-1.1-.2-.4-.1 .4-1.1 1.1-.3 2.2-.8 .1 0 1.1-.3 2.2-.4 1.1-.3 .9-.2 .2 0 1.1-.2 1.2-.2 3.3-.6 .5-.1 .6-.2 1.1-.4 1.1-.5-.7-1.2-.4-.2-.9-.9-.2-.1-1.1-.9-.2-.1-.9-.8-.4-.4-.7-.5-.7-.6-.4-.4-.8-.7-.4-.3-.8-.9-.3-.2-.8-.9-.3-.4-.6-.7-.5-.9-.2-.3-.5-1.1-.1-1.1 .1-1.2 .5-1.1 .2-.5 .3-.6 .2-1.2-.4-1.1-1.2-1.2-1.1-.9-.2-.1-.9-.7-.8-.5-.4-.2-1.1-.6-.6-.3-.5-.2-2.2-.8-.8-.1-.3-.1-1.1-.1-1.2 .1-.6 .1-.5 0-1.1 .4-1.1 .5-.3 .2-.8 .6-.7 .5-.4 .6 0 26.9 1.1 .4 1.1 .3 .6 .1 .5 .2 2.2 .8 .3 .2 .9 1 0 .1 .8 1.1 .3 .3 .6 .9 .5 .6 .3 .5 .8 1 .1 .1 1 1.1 0 .1 1.1 1 .1 .1 1 .8 2 1.5 .3 .2 1.1 .7 .3 .2 .8 .5 2.2 1.2 1.1 .5 .1 .1 1.1 .5 1.1 .4 .6 .2 .5 .2 1.1 .4 1.1 .3 .7 .2 .4 .2 1.1 .4 1.2 .5 .2 .1 .9 .4 1.1 .6 .2 .1 .9 .6 .8 .5 .3 .2 1.1 .7 .4 .3 .7 .4 1.4 .7 .9 .4 1.1 .4z"/>
<path fill="#ccebe7" fill-rule="evenodd" d="M209.8 486.3l.8 .3 1.1 .1 1.2-.1 .7-.3 .4-.3 .7-.9 .1-1.1-.8-1.1 0-.1-1.1-.4-1.2-.3-1.1 .1-1.1 .4-.5 .3-.6 1-.1 .1 .1 .4 .1 .7 1 1zM290.7 476.1l.2 0 1.1 .3 1.1 .1 1.1-.1 1.1-.2 .6-.1 .5-.1 1.2-.3 1.1-.5 .5-.3 .6-.2 1.1-.6 .4-.3 .7-.4 1.1-.7 0-.1 1.1-.8 .3-.3 .9-.7 1.5-1.5 .7-.9 .2-.3 .7-1.1 .2-.3 .5-.8 .4-1.1 .4-1.2 .3-1.1 .2-1.1 0-1.2-.1-1.1-.2-1.1-.3-1.2-.1-.3-.3-.8-.6-1.1-.8-1.2-.5-.6-.5-.5-.6-.5-.9-.6-.2-.2-2-1-.3-.1-1.1-.3-1.1-.2-1.1-.1-1.1 0-1.1 .1-1.2 0-1.1-.1-.9-.4-.2-.1-1-1-.1-.2-.4-1-.5-1.1-.2-.4-.3-.7-.4-1.2-.4-.8-.2-.3-.5-1.1-.4-.8-.3-.4-.5-1.1-.1-1.1 .2-1.2 .4-1.1 .3-.5 .2-.6 .5-1.2 .3-1.1 .1-1 0-.3-.1-1-.4-1.1-.6-1-.1-.1-1.1-1-.2-.2-.9-.5-1.1-.4-1.1-.2-1.3 0-.9 .1-1.1 .3-1.2 .6-.1 .1-1 .8-.3 .4-.8 1.1 0 .1-.5 1-.2 1.2 0 1.1 .2 1.1 .5 1.5 .4 .8 .6 1.1 .4 1.2 .2 1.1-.1 1.1-.3 1.2-.1 .5-.1 .6-.1 1.1-.2 1.2-.2 1.1-.1 1.1-.2 1.2-.2 .9 0 .2-.3 1.1-.3 1.2-.4 2.2-.1 .5-.1 .7-.1 1.1 .2 1 0 .1 .4 1.2 .6 1.1 .1 .1 .8 1 .3 .4 .7 .8 .4 .4 .6 .7 .6 .6 .4 .5 .7 .9 .1 .3 .7 1.1 .3 .7 .2 .4 .3 1.1 .2 1.2 .2 1.1 .2 1 0 .1 .5 1.2 .6 .9 1.1 1.1 .5 .2 .6 .4 1.2 .5zM256.5 464.8l.9 0 1.2 .1 1.1 0 1.1-.1 .2 0 .9-.2 1.1-.2 1.1-.4 .7-.4 1.6-.8 .3-.3 .8-.6 .6-.5 .5-.5 .6-.7 .5-.7 .3-.4 .4-1.1 .2-1.2-.2-1.1-.5-1.1-.2-.4-.5-.8-.6-.7-.3-.4-2.3-2.3-.8-.7-.5-.4-1.7-1.7-.5-.6-1.7-1.7-.6-.5-1.5-1.2-.1-.1-1.2-.7-.4-.3-.7-.4-1-.7-.1-.1-1.1-.6-.7-.5-.4-.2-1.1-.7-.5-.2-.7-.4-1.1-.5-.8-.2-.3-.1-1.1-.2-1.1 .1-.8 .2-.3 .1-1.1 .5-.8 .5-.4 .5-.3 .6-.5 1.2-.3 .3-.5 .8-.6 .4-1.1 .6-.2 .1-.9 .4-2.2 .4-1.2 .2-1.1 0-2.2 .2-1.1 0-2.2 .2-1.2 .1-1.1 .1-2.2 .4-1.1 .3-1.1 .8-.4 .3-.2 1.2 .3 1.1 .3 .6 .2 .5 .8 1.2 1.2 1.2 1.1 .9 .2 .1 1.8 1.2 .2 .1 1.2 .5 1.1 .5 2.2 .8 1.1 .3 1.1 .4 1.1 .3 1.2 .4 .2 .1 .9 .3 1.1 .4 .8 .4 .3 .1 1.1 .6 .8 .4 .3 .2 1.1 .6 .6 .4 .6 .2 1.1 .6 .6 .3 .5 .2 1.1 .5 1.1 .3 .4 .1 .7 .2 1.1 .3 1.2 .2 1.1 .2 2.2 .2 1.1 0zM210.8 439.8l.9 .2 1.2 .2 1.1 .1 1.1 0 1.1-.1 1.1 0 1.1-.2 1.1-.1 .4-.1 .8-.1 1.1-.1 3.3-.6 1.1-.3 .2 0 .9-.3 1.2-.3 1.1-.4 .2-.1 .8-1.2-.3-1.1-.7-1.1-1-1.2-1.1-1.1-.2-.1-4.4-4.4-1-1.2-.1-.1-.9-1-.2-.5-.6-.6-.6-1.1 0-.1-1-2.2-.1-.1-.6-1.1-.5-.6-.5-.5-.6-.4-1.1-.5-1.1-.1-1.1 .5-.6 .5-.6 .6-.3 .5-.7 1.2-.1 .1-.7 1-.4 .5-.5 .6-.6 .7-.4 .5-.7 .8-.3 .3-.8 1 0 11.6 1.1 .8 .3 .2 .8 .4 1.1 .4 1.1 .3zM269.7 419.4l1.1 .4 1.1 .2 1.1 .1 1.2-.1 1.1-.2 1.1-.3 0-.1 1.1-.5 .9-.6 .2-.2 .7-.9 .4-1.1-.1-1.2-.4-1.1-.6-.7-.3-.4-.8-.6-.9-.6-.2-.1-1.1-.4-1.1-.3-1.2-.1-1.1 0-1.1 .1-1.1 .4-1 .4-.1 .1-1.1 .9-.2 .2-.7 1.1-.2 .8-.1 .3 .1 1.1 0 .1 .4 1.1 .7 .8 .3 .3 .8 .6z"/>
<path fill="#a6dcd4" fill-rule="evenodd" d="M290.4 472.7l.5 .1 1.1 .3 1.1 .1 1.1 0 1.1-.1 1.1-.2 .7-.2 .5-.2 1.1-.4 1.1-.5 .1-.1 1-.5 .9-.6 .2-.1 1.1-.9 .2-.1 2.1-2.1 .1-.2 .8-1.1 .2-.4 .4-.7 .5-1.2 .2-.7 .1-.4 .2-1.1 0-1.2-.1-1.1-.2-1.1 0-.1-.4-1.1-.6-1.1-.1-.1-.8-1-.3-.4-1-.8-.2-.1-1.1-.6-1.1-.4-1.1-.3-1.1-.1-1.1 0-1.1 .1-1.2 .2-1.1 0-1.1-.2-1.1-.8-.1 0-.8-1.2-.2-.4-.3-.7-.4-1.1-.4-1.2 0-.1-.3-1-.8-2.2-.1-.1-.5-1.1-.6-.9-.1-.2-1-1.5-.5-.8-.1-1.1 .5-1.2 .1-.1 .6-1 .5-.8 .2-.3 .5-1.2 .2-1.1 0-1.1-.3-1.2-.6-.8-.3-.3-.8-.7-1-.4-.1-.1-1.1-.2-1.1-.1-1.1 .3-.3 .1-.8 .3-1.1 .8-.1 .1-.8 1-.4 1.2-.1 1.1 .2 1.1 0 .2 .4 1 .7 1.1 0 .1 .8 1 .6 1.2 0 1.1-.2 .5-.3 .6-.5 1.2-.4 .7-.1 .4-.3 1.1-.3 1.2-.2 1.1-.2 1 0 .1-.2 1.2-.1 1.1-.2 1.1-.2 1.2-.1 1.1-.2 1.1 0 2.3 .1 1.1 .3 1.2 .6 1.1 .7 1.1 .4 .5 .5 .7 .7 .6 .4 .5 .7 .8 .3 .3 .8 1.1 .1 .1 .8 1.1 .2 .5 .4 .6 .5 1.1 .2 .7 .2 .5 .7 1.1 .2 .4 .8 .7 .3 .3zM251.7 462.5l.2 0 1.1 .3 1.1 .1 1.1 .2 2.2 .2 1.2 .1 1.1 .1 1.1 0 1.1-.1 1.1-.2 1.1-.4 .8-.3 .3-.2 1.2-.7 .3-.2 .8-.8 .3-.4 .7-1.1 .1-.2 .3-.9 .1-1.2-.2-1.1-.2-.6-.2-.5-.8-1.2-.1-.1-.9-1-.2-.2-1.1-.9-.1-.1-1.1-.9-.2-.2-.9-.7-1.5-1.5-.7-.9-.2-.3-.9-1-.1-.1-1-1.1-1.2-1-.1-.2-1-.7-.5-.4-.6-.4-1.1-.7-.1 0-2-1.2-.1 0-1.2-.5-1.1-.4-.9-.2-1.4 0-1 .3-1.1 .7-.2 .1-.9 1.1-.1 .1-1 1.1-.1 .1-1.1 .8-.3 .2-.8 .5-1.1 .5-.6 .2-.5 .1-1.1 .3-1.1 .1-1.2 .2-1.1 0-4.4 .4-.1 0-1 .2-1.2 .4-1.1 .4-.2 .1-.8 1.2-.1 .6 0 .6 .4 1 .7 1.1 1.1 1.1 .2 .1 1 .6 .8 .5 .3 .2 1.1 .5 1.1 .4 0 .1 1.1 .3 1.1 .4 1.1 .3 .2 .1 1 .3 2.2 .8 .1 0 1 .5 1.1 .5 .4 .2 .7 .4 1.1 .5 .3 .2 .9 .5 1.1 .5 .2 .1 .9 .5 1.1 .4 .6 .3 .5 .2 1.1 .4 1.1 .3zM214.9 438.7l.2 0 1.1 .1 2.2 0 1.1-.1 .3 0 .9-.1 3.3-.6 1.1-.3 .3-.1 .8-.5 1.1-.7 0-.1 .4-1-.2-1.1-.2-.2-.5-1-.6-.6-.3-.5-1.1-1.1-.8-.7-.4-.5-.7-.6-.7-.5-.4-.4-1-.7-.1-.2-1.5-1-.8-.5-1.1-.5-.3-.1-.8-.3-1.1-.2-1.1 .1-1.1 .3-.2 .1-1 .4-1 .7-.1 .1-1.1 .9-1.1 1.1-.1 .2-.8 1.1-.2 .6-.3 .6-.2 1.1 .1 1.1 .3 1.2 .1 .1 .6 1 1.1 1.1 .5 .4 1.1 .7 .2 .1 .9 .4 1.2 .3 1.1 .3zM271.6 414.9l.3 .5 1.1-.3 .1-.2-.1-.1-1.1-.1z"/>
<path fill="#7ccabe" fill-rule="evenodd" d="M291.6 470.4l.4 .1 1.1 .2 1.1 .1 1.1-.1 1.1-.2 1.2-.3 1.1-.5 .8-.4 .3-.2 1.1-.7 .4-.3 .7-.5 1.1-1.1 .5-.6 .6-.8 .3-.3 .6-1.2 .3-.8 .1-.3 .2-1.1 0-1.2-.1-1.1-.2-.8-.1-.3-.7-1.2-.4-.5-.6-.6-.5-.4-1.1-.6-.3-.1-.8-.3-1.1-.1-1.1 0-2.2 .4-.1 0-1.1 .2-1.1-.1-.2-.1-.9-.5-.6-.7-.5-.5-.3-.6-.6-1.1-.4-1.2-.9-3.3-.1-.1-.3-1.1-.4-1.1-.4-.8-.1-.4-.8-1.1-.2-.3-.9-.8-.2-.3-1.1-.6-1.1 0-1.1 .6-.2 .3-.9 1-.1 .1-.5 1.1-.4 1.2-.2 .4-.1 .7-.2 1.1-.2 1.2-.2 1.1-.1 1.1-.1 1.2-.2 2.2 0 2.3 .2 1.1 .3 1.2 .5 1.1 .1 .3 .6 .8 .6 .7 .3 .5 3.4 3.4 .7 .8 .3 .3 .8 1 .1 .1 .9 1.1 .1 .3 1 .9 .2 .1 1.1 .7zM252.5 461.4l.5 .1 2.2 .4 2.2 .2 1.2 .1 1.1 .1 2.2 0 1.1-.2 1.1-.4 .8-.3 .3-.2 1.2-.9 0-.1 .8-1.1 .3-.7 .1-.4 .1-1.2-.2-1.1 0-.1-.5-1-.6-.9-.3-.3-.9-.8-.3-.3-.8-.6-.7-.5-.4-.4-1-.8-.1-.1-1.1-1-.9-1.1-.8-1.2-.5-.6-.4-.5-.8-.9-1.4-1.4-.8-.6-.7-.5-.4-.2-1.1-.7-.5-.2-.6-.3-1.2-.5-1.1-.2-1.1-.1-1.1 .3-1.1 .6-.3 .2-.8 .6-.5 .5-.6 .5-1.2 .9-1.1 .7-.4 .2-.7 .4-1.1 .4-.9 .3-.2 .1-2.2 .4-1.2 .2-3.3 .3-.5 .1-.6 .2-1.1 .5-.7 .5-.4 .9-.1 .2 .1 .4 .1 .7 .9 1.2 .1 0 1.1 .9 .3 .2 .8 .4 1.1 .5 .6 .2 .5 .2 1.1 .4 1.2 .4 .4 .2 .7 .2 1.1 .4 2.2 1 1.1 .6 .1 0 1 .6 1.1 .6 .1 0 1.1 .6 1 .5 .1 0 1.1 .6 1.1 .4 .3 .1 .8 .3 1.1 .4 1.2 .3zM213.3 436.4l.7 .3 1.1 .3 1.1 .2 2.2 .2 1.1-.1 1.2-.1 2.2-.6 .4-.2 .7-.4 .8-.7 .3-1.1-.3-1.2-.8-1.1-1-1.1-.1-.1-1.1-.9-.2-.2-.9-.6-.9-.5-.3-.2-1.1-.5-1.1-.3-.8-.1-.3-.1-1.1 0-.2 .1-.9 .2-1.1 .4-.8 .5-.4 .3-.8 .8-.3 .4-.4 .8-.3 1.1 .1 1.1 .5 1.2 .1 .1 .9 1 .2 .2 1.2 .7zM282.6 435.3l.5 .4 1.1 .5 1.1-.1 1.1-.7 .1-.1 1-1.1 .6-1.2 .3-1.1-.2-1.1-.6-1.2-.1-.1-1.1-.8-.6-.2-.5-.1-1.1 0-.6 .1-.5 .2-1.1 .7-.3 .2-.7 1.2-.2 .8 0 .6 .2 .8 .5 1.2z"/>
<path fill="#4faaa1" fill-rule="evenodd" d="M293.4 467l.8 .3 1.1 .3 1.1-.1 1.2-.2 .6-.3 .5-.2 1.1-.6 .5-.3 .6-.5 .7-.6 .4-.5 .5-.7 .6-1.1 0-.2 .3-.9 0-1.2-.3-1.1-.7-1.1-.4-.5-1.1-.6-.1-.1-1-.2-1.1 .1-.7 .1-.4 .1-1.2 .5-1.1 .5-.3 .1-.8 .2-.5-.2-.6-.3-.6-.9-.5-.6-.2-.5-.6-1.1-.3-.7-.2-.5-.8-2.2-.3-1.2-.6-2.2-.3-1.2-.1-.2-.3-.9-.4-1.1-.8-1.2-.7-.7-.7-.4-.4-.2-1.1 0-.3 .2-.8 .5-.5 .6-.6 1-.1 .2-.4 1.1-.2 1.1-.2 1.2-.2 1.1-.1 1.1 0 1.2-.2 2.2 0 2.3 .2 1.1 0 .2 .3 1 .5 1.1 .4 .5 .4 .6 .7 .9 .3 .3 .8 .7 .4 .4 .7 .5 1 .6 .1 .1 1.1 .6 1.1 .3 1.2 .3 1.1 .2 1.1 .7 0 .1 1.1 .9zM252.4 460.2l.6 .2 3.3 .6 1.1 .1 1.2 .1 1.1 .1 1.1 0 1.1-.1 1.1-.2 1.1-.4 .6-.4 .5-.4 .7-.7 .5-1 0-.1 .1-1.2-.1-.6-.2-.5-.6-1.1-.4-.5-.6-.7-.5-.4-.9-.7-.2-.1-1.1-.9-.2-.1-.9-.8-.4-.4-.7-.8-.3-.3-.8-1.1-.1 0-.8-1.2-.3-.4-.5-.7-.6-.7-1.6-1.6-.6-.4-1.1-.7-.1 0-1-.5-1.2-.3-1.1-.2-1.1 .1-1.1 .4-.9 .5-.2 .1-1.1 .8-.3 .2-1.6 1.2-.4 .2-1.1 .7-.3 .2-.8 .5-1.1 .5-.4 .1-.7 .4-1.1 .3-1.1 .2-1.2 .3-1.1 .3-1.1 .6-.3 .2-.2 1.1 .5 .7 .4 .5 .7 .4 1.1 .6 .2 .1 1 .4 1.1 .4 .5 .3 .6 .3 1.1 .5 .7 .4 .4 .2 1.1 .6 .6 .3 .5 .3 1.2 .6 .3 .2 .8 .4 1.1 .6 .3 .2 .8 .4 1.1 .5 .5 .2 .6 .2 1.1 .4 1.2 .4zM217.2 435.3l.1 0 1.1 .1 1-.1 .1 0 1.2-.4 1.1-.7 .2-1.2-.2-.5-.3-.6-.8-.7-.5-.4-.7-.4-1.1-.4-1.1-.3-1.1 0-1.1 .3-1.1 .7-.1 .1-.5 1.1 .1 1.1 .5 .7 .4 .5 .7 .4 1.1 .5zM283.5 434.2l.7 .3 1.1-.1 .4-.2 .7-.6 .4-.6 .3-1.1-.3-1.1-.4-.5-1.1-.7-1.2 0-1 .5-.6 .7-.4 1.1 .3 1.1 .7 .9z"/>
<path fill="#298b83" fill-rule="evenodd" d="M284.8 461.4l.5 .3 1.1 .5 1.1 .1 1.1-.3 .9-.6 .3-.4 .5-.8 .2-1.1 .1-1.1-.2-1.2-.6-2.2 0-.1-.4-1.1-.6-2.2-.2-.7-.1-.5-.2-1.1-.3-1.1-.3-1.2-.2-.4-.3-.7-.7-1.1-.1-.1-1.1-.8-1.1 .1-1 .8-.1 .1-.5 1-.4 1.1-.2 .9-.1 .3-.2 2.2-.1 1.2 0 1.1-.1 1.1 0 1.2 .2 2.2 .3 .9 0 .3 .6 1.1 .5 .7 1.1 1.1zM258.8 460.2l.9 .1 1.1 0 .5-.1 .6 0 1.1-.4 1.1-.6 .2-.1 .7-1.1 .2-1.2-.3-1.1-.8-1.1 0-.1-1.1-1-.1-.1-1-.7-.5-.4-.6-.5-.7-.6-.4-.5-.7-.7-.4-.5-.5-.6-.7-.9-.1-.2-.8-1.2-.2-.2-.6-.9-1.6-1.6-1-.7-.1 0-1.1-.6-1.2-.3-1.1-.1-1.1 .2-1.1 .4-.7 .4-.4 .3-1.1 .7-.3 .2-.8 .6-.7 .5-.5 .4-1 .7-.1 .1-1.1 .9-.3 .2-.8 .6-.8 .5-.3 .4-.6 .7 .4 1.2 .2 .1 1 1 .1 0 1.1 .8 .4 .3 .7 .5 1 .7 .1 0 1.2 .7 .5 .4 .6 .3 1.1 .6 .4 .2 .7 .4 1.1 .5 .5 .3 .6 .2 1.1 .5 1.2 .4 .1 0 1 .3 3.3 .6 1.1 .1 1.2 .1z"/>
<path fill="#0a6f67" fill-rule="evenodd" d="M285.1 460.2l.2 .1 1.1 .3 1.1-.2 .2-.2 .9-1.1 .3-1.1 .1-1.2-.2-1.1-.2-.8 0-.3-.3-1.2-.6-2.2-.3-1.2-.2-1.1-.4-1.1-.4-1.2-1-1.1-.1-.1-1.1 .1-.8 1.1-.3 .7-.1 .5-.2 1.1-.1 1.1-.1 1.2-.1 1.1 0 3.4 .2 1.1 .4 1.2 .7 1.1 .4 .4zM257 459.1l.4 0 1.2 .1 1.1 0 1.1-.1 .1 0 1-.3 1.1-.6 .3-.2 .3-1.2-.3-1.1-.3-.4-.6-.7-.5-.5-.8-.7-.3-.2-1-.9-1.1-1.1-.1-.2-.9-1-.3-.3-.5-.8-.6-.8-1-1.5-.1-.1-.9-1-.2-.2-1.1-.9 0-.1-1.1-.5-1.2-.4-1.1 0-1.1 .2-1.1 .4-.6 .4-.5 .3-1.1 .8-.1 0-1 .9-.3 .2-.9 .9-.2 .3-.9 1 0 .1-.6 1.1 .2 1.2 .4 .6 .3 .5 .8 .7 .4 .4 .8 .5 .8 .7 .3 .1 1.1 .7 .4 .3 .7 .4 1.1 .5 .4 .2 .7 .3 1.1 .5 .9 .4 .3 0 1.1 .4 1.1 .3 1.1 .2 1.1 .1z"/>
<path fill="#01554b" fill-rule="evenodd" d="M256.2 458l2.4 0 1.1-.2 1.1-.5 .5-.5-.1-1.1-.4-.6-.4-.5-.7-.8-.4-.4-.7-.8-.3-.3-.9-1-.1-.1-.9-1.2-.1-.1-.7-1-.4-.6-.4-.5-.7-1-1.1-1.1-.4-.2-.7-.5-1.2-.4-1.1 0-1.1 .2-1.1 .5-.4 .2-.7 .5-.7 .6-.4 .4-.7 .8-.4 .7-.3 .4-.4 1.1 .1 1.2 .6 .9 .1 .2 1.1 1.1 1 .7 .6 .5 .5 .2 1.1 .7 .4 .2 .7 .3 1.1 .5 .7 .3 .5 .2 2.2 .6 1.1 .2zM284.7 458l.6 .5 1.1 0 .6-.5 .4-1.2 0-1.1-.3-1.1-.3-1.2-.3-1.1-.1-.6-.2-.5-.5-1.2-.4-1.1-.1 0-1 .9-.1 .2-.1 1.2-.2 2.2-.1 1.2 .1 1.1 .2 1.1 .2 .4z"/>
<path fill="#003c30" fill-rule="evenodd" d="M251.6 455.7l.3 .1 2.2 .6 1.1 .2 1.1-.1 1.1-.3 .8-.5-.1-1.1-.6-1.2-.1 0-.7-1.1-.4-.5-.5-.6-.8-1.2-.8-1.1-.1-.2-.8-.9-.3-.4-1-.8-.1-.1-1.2-.4-1.1-.1-1.1 .2-.8 .4-.3 .2-1.1 1-.7 1.1-.3 1.1 .1 1.2 .7 1.1 .2 .1 1.1 1 1.1 .8 .7 .4 .4 .2 1.1 .5z"/>
<path fill="#f6eac9" fill-rule="evenodd" d="M252.6 482.9l.4 .1 1.1 .4 1.1 .3 2.2 .2 2.3 0 2.2-.4 1.1-.4 .6-.2 .5-.3 1.1-.7 1.2-.8 .4-.5 .7-.6 .6-.5 .5-.4 1.1-.6 .4-.2 .7-.2 1.1-.3 1.1-.4 .5-.2 .7-.2 1.1-.3 1.1-.5 .3-.1 .8-.4 1.1-.6 .2-.2 .9-.6 .5-.5 .6-.7 .4-.4 .6-1.2 .2-.3 .2-.8 .3-1.1 .1-1.2-.2-1.1-.3-1.1-.1-.2-.5-.9-.7-.9-.2-.3-1.1-1.1-.9-.8-.5-.3-.6-.5-1.1-.5-.6-.2-.5-.2-1.1 0-.7 .2-.5 .1-1.1 .6-.6 .5-.5 .3-2.2 1.6-.4 .3-.7 .5-.9 .7-.2 .2-1.2 .8-.1 .1-1 .8-.5 .3-.6 .7-.6 .4-.5 .8-.3 .4-.6 1.1-.2 .6-.3 .5-.5 1.2-.3 .5-.7 .6-.4 .3-1.2 .4-1.1 .3-.4 .1-.7 .2-2.2 .8-.5 .2-.6 .3-1.1 .8-.1 0-.9 1.1-.2 .9 0 .6 .2 .8 .9 1.1 .1 0 1.1 .8zM213.8 478.3l.2 .1 3.3 .3 1.1-.1 1.1-.3 1.2-.4 .9-.7 .2-.2 .8-.9 .3-.4 .5-.8 .5-1.1 .1-.1 .4-1 .3-1.2 .2-1.1 .1-1.1 0-1.2-.1-1.1-.2-1.1-.3-1.1-.4-.9-.1-.3-.6-1.1-.4-.6-.4-.5-.7-.8-.4-.4-.7-.6-.7-.5-.5-.3-1.1-.6-.5-.2-.6-.3-1.1-.3-1.1-.2-1.1-.1-1.1 .1-1.2 .3-1.1 .4-.1 .1-1 .4-.9 .7-.2 .1-1.1 1 0 .1-.9 1.1-.2 .3 0 13.7 .6 .7 .5 .3 1.1 .6 .4 .2 .7 .2 2.2 .6 1.2 .2zM270.9 451.2l1 .6 1.1 .3 1.2-.2 1.1-.7 .9-1.2 .2-.2 .4-.9 .4-1.1 .3-1.2 .2-1.1 .1-1.1 0-1.2-.2-1.1-.1-.8-.5-1.5-.6-.9-1.1-1.1-.5-.2-.6-.4-1.2-.4-1.1-.2-.8-.2-.3 0-1.1-.7-.4-.4-.7-.9-.2-.2-.9-1.2-1-1.1-.1-.1-1.2-1-1.1-.9-.4-.3-.7-.5-1.1-.5-.1-.1-1-.5-1.1-.4-.7-.2-.4-.2-1.2-.3-1.1-.2-2.2-.2-2.2 .2-1.2 .2-1.1 .2-1.1 .1-1.1 0-1.1-.3-1.1-.4-.4-.3-.7-.3-1.6-.8-.7-.3-1.1-.5-.8-.3-.3-.2-1.1-.4-2.2-.6-1.2-.3-1.1-.2-2.2-.2-2.2 .2-1.1 .2-.8 .3-.4 .2-1.1 .8-.1 .2-.6 1.1 .1 1.1 .4 1.2 .2 .3 .6 .8 .5 .6 1.7 1.7 .6 .5 .8 .6 .3 .2 1.1 .8 .2 .1 .9 .6 2.2 1.2 1.2 .3 .7 .2 .4 .1 1.1 .2 1.1 0 1.1-.1 1.1-.2 .1 0 1-.2 1.2-.3 1.1-.3 1.1-.1 1.1 .1 1.1 .5 .5 .3 .6 .4 1 .7 .1 .1 1.2 .8 .3 .3 .8 .5 .8 .6 .3 .2 1.1 .7 .4 .2 .7 .5 1.1 .6 .3 .1 .9 .4 1.1 .5 .5 .2 .6 .3 2.2 .6 1 .2 .1 .1 1.1 .5 .6 .6 .6 .7 .1 .4 .5 1.1 .5 .7 .2 .5 .8 1.1 .1 .1 .9 1 .2 .2 1.1 .9zM224.9 442.1l.2 .1 1.1 .2 1.1 .1 1.2 .1 3.3 0 2.2-.2 1.1-.2 .6-.1 .6-.6 .4-.5-.4-.3-1.2-.4-2.2-.2-3.3 .3-1.1 .2-1.2 .2-.9 .2-.2 .1-1.1 .8zM294.7 438.7l.6 .4 1.1 .3 1.2 .1 1.1 0 1.1-.1 1.1-.3 1.1-.4 1.1-.7 .6-.4 .5-.7 .3-.5 .2-1.1-.3-1.1-.2-.2-.8-1-.3-.1-1.1-.6-.9-.4-.2-.1-1.1-.2-1.1-.1-1.1 0-1.2 .3-.3 .1-.8 .3-.9 .8-.2 .2-.6 1-.5 1.1 0 1.2 .4 1.1 .7 .8zM225.5 413.8l.7 .1 1.1 .2 2.3 0 1.1-.2 .5-.1 .6-.1 2.2-.8 .6-.2 .5-.3 1.2-.6 .4-.3 .7-.4 .9-.7 .2-.2 1-.9 .1-.2 .8-1 .3-.4 .5-.7 .5-1.1 .1-.6 .2-.6 .1-1.1 0-1.1-.3-1.2-.4-1.1-.7-1.1-.9-1.2-.2-.2-1-.9-.1-.1-1.1-.8-.3-.2-.8-.5-1.2-.6 0-.1-28.9 0 0 15.2 1.1 0 1.1 .1 2.2 0 1.1 .1 1.2 .2 1.1 .1 .7 .2 .4 .1 2.2 .6 2.2 .8 1.2 .5 .8 .3 .3 .1 1.1 .3 1.1 .4 1.1 .2z"/>
<path fill="#ebd6a2" fill-rule="evenodd" d="M213.8 476.1l.2 0 1.1 .1 .7-.1 .4-.1 1.1-.3 1.1-.6 .2-.2 .9-.8 .3-.3 .7-1.1 .2-.3 .3-.9 .3-1.1 .2-1.1 0-1.2-.2-1.1-.3-1.1-.3-.9-.2-.2-.7-1.2-1.1-1.1-.3-.2-1.1-.7-.6-.2-.5-.2-1.1-.3-1.1 0-1.1 .2-.6 .3-.6 .2-1.1 .7-.2 .2-.9 .8-1 1.5-.1 .2-.4 .9-.3 1.1-.1 1.1 0 1.2 .1 1.1 .3 1.1 .4 .9 .1 .3 .8 1.1 .2 .2 1.1 .9 0 .1 1.1 .5 1.2 .4zM265.4 474.9l1 .6 1.1 .3 2.2 .2 2.2-.2 1.1-.2 1.2-.2 1.1-.4 .1-.1 1-.3 1.1-.5 .4-.3 .7-.4 .8-.7 .3-.3 .7-.9 .4-.6 .3-.5 .4-1.1 .2-1.2-.1-1.1-.4-1.1-.4-.8-.2-.3-.9-1.1 0-.1-1.1-.9-.3-.2-.8-.5-1.1-.5-1-.1-.1-.1-.4 .1-.7 0-1.2 .2-1.1 .5-.6 .4-.5 .3-1.1 .7-.1 .1-1 .7-.6 .5-.5 .4-.9 .7-.2 .3-.9 .8-.3 .3-.6 .8-.5 .9-.1 .3-.3 1.1-.1 1.1 .2 1.2 .3 .6 .3 .5 .8 1zM271.5 450l.4 .3 1.1 .2 1.2-.2 .3-.3 .8-.5 .4-.6 .7-1.1 0-.1 .3-1.1 .2-1.1 .1-1.1-.1-1.2-.2-1.1-.3-.7-.3-.4-.8-1.1-.1-.1-1-.6-1.2-.3-1.1 0-1.1 .1-1.1 .2-1.1 0-.4-.5-.5-1.1-.4-1.2-.4-1.1-.5-.9-.2-.2-.8-1.2-.2-.1-.9-1-.2-.2-1.1-.9-.1 0-1-.7-.9-.5-.2-.1-1.1-.5-1.1-.3-1.2-.3-1.1-.2-1.1-.1-1.1 .1-1.1 .2-.6 .1-.5 .2-1.2 .4-1 .5-.1 .1-1.1 .9-.4 .2-.4 1.1 .8 .9 .1 .2 .9 1.2 1.2 1.2 1.1 1 .1 .1 1.1 .9 .2 .2 .9 .6 .7 .5 .4 .3 1.1 .7 .4 .1 .7 .4 1.2 .5 .6 .3 .5 .1 1.1 .4 1.1 .2 2.2 0 1.1-.2 1.2-.2 1 .8 .1 .1 .1 1 .2 1.2 .3 1.1 .4 1.1 .6 1.2 .6 .8 .2 .3 .9 .8zM238.4 434.2l1.4 0 .9-.1 1.1-.3 1.1-.4 1-.4 .2-.1 1.1-.7 .6-.3 .3-1.1-.9-1.1-1.1-1.1-.2-.1-1-.7-.5-.4-.6-.4-1.1-.6-.2-.2-.9-.4-1.1-.5-.7-.2-.4-.2-1.1-.3-1.2-.2-1.1-.2-2.2-.2-1.1 .1-1.1 .2-1.1 .5-.5 .3-.6 1.1 .1 1.2 .6 1.1 .4 .4 .6 .7 .5 .5 .8 .7 .3 .2 1.1 .8 .2 .1 .9 .6 1.1 .5 .1 0 1 .5 1.2 .3 1.1 .3zM221.6 410.4l.2 0 2.2 .4 1.1 .1 1.1 0 1.1-.2 1.2-.2 .4-.1 .7-.2 1.1-.5 .9-.4 .2-.1 1.1-.8 .4-.3 1.1-1.1 .7-1.1 0-.1 .5-1.1 .1-1.1-.1-1.1-.4-1.2-.1 0-.7-1.1-.4-.5-.6-.6-.5-.4-1.1-.8-1.1-.6-1.1-.5-1.1-.4-1.2-.4-1.1-.2-.4-.1-.7-.2-1.1-.1-1.1-.2-4.5 0-1.1 .2-1.1 .1-.6 .2-.5 .1-1.1 .2-2.2 .8-.1 0-1.1 .5-1.1 .6 0 .1-1.1 .8-.4 .3-.7 .7-.3 .4-.7 1.1-.1 .5 0 2.2 .3 .7 .8 .9 .2 .3 .9 .5 1.1 .5 .3 .1 .8 .3 1.1 .3 1.2 .3 .7 .2 .4 .1 2.2 .6 1.1 .4 .3 .1 .8 .2 1.1 .3 1.2 .4z"/>
<path fill="#ddbe78" fill-rule="evenodd" d="M267.6 473.8l1 .4 1.1 .3 1.1 .1 1.1 0 1.1-.2 1.2-.2 1.1-.3 .1-.1 1-.4 1.1-.6 .2-.1 .9-.7 .5-.5 .6-.7 .3-.4 .5-1.1 .3-1.2 0-1.1-.4-1.1-.6-1.1-1.2-1.2-1.1-.7-1.1-.4-.1 0-1-.2-1.1 .1-1.2 .3-1.1 .4-.9 .5-.2 .1-1.1 .8-.4 .3-.7 .5-.7 .6-.4 .5-.7 .6-.4 .7-.4 .4-.4 1.2-.2 1.1 .2 1.1 .6 1.2 .2 .2 1.1 .9zM212.2 472.7l.7 .4 1.1 .3 1.1 0 1.1-.3 .7-.4 .4-.4 .7-.8 .4-.8 .1-.3 .3-1.1 0-1.2-.3-1.1-.1-.2-.4-.9-.7-.8-.4-.3-.7-.5-1.1-.3-1.1 0-1.1 .3-.7 .5-.5 .3-.6 .8-.5 .9-.1 .2-.2 1.1 0 1.2 .2 1.1 .1 .3 .5 .8 .6 .8zM271.8 448.9l.1 .1 1.1 .2 1.1-.3 .1 0 1.1-1 0-.1 .6-1.2 .2-1.1 .1-1.1-.2-1.2-.4-1.1-.3-.5-.8-.6-.3-.3-1.2-.3-1.1 0-1.1 .4-.2 .2-.9 1-.1 .1-.4 1.1-.1 1.2 .2 1.1 .4 1.1 0 .1 .7 1.1 .4 .4zM257.9 439.8l.7 .3 1.1 .4 1.1 .2 1.1 0 1.1-.1 1.1-.4 .7-.4 .4-.5 .5-.6 .2-1.1-.1-1.2-.3-1.1-.3-.4-.3-.7-.8-1-.1-.2-1-.9-.2-.2-.9-.7-.8-.4-.3-.2-1.1-.6-1.1-.3-.2-.1-1-.2-1.1-.2-1.1 0-1.1 .2-1 .2-.1 .1-1.1 .5-.8 .6-.4 .6-.3 .5 0 1.1 .3 .7 .2 .5 .8 1.1 .2 .2 .8 .9 .3 .3 1 .9 .1 0 1.1 .8 .5 .3 .6 .4 1.1 .5zM233.9 431.9l.1 .1 1.1 .4 1.2 .3 1.1 .2 1.1 .1 1.1-.1 1.1-.3 1.1-.6 .2-.1 .6-1.1-.3-1.2-.5-.5-.5-.6-.6-.4-1-.7-.1-.1-2.2-1-.2-.1-.9-.3-1.2-.3-2.2-.2-1.1 0-1.1 .3-1.1 .5 0 .1-.4 1.1 .4 1.1 .9 1.1 .2 .2 1.1 .9 .1 .1 1 .6zM220.9 408.1l.9 .2 1.1 .1 1.1 0 1.1-.1 1.1-.2 1.1-.4 1.2-.5 .3-.2 .8-.6 .5-.5 .6-1.1 0-.1 .3-1.1-.2-1.1-.1-.2-.6-1-.5-.6-.6-.5-.5-.4-1.2-.6-.3-.1-.8-.4-2.2-.6-1.1-.1-.3-.1-.8 0-1.1-.1-1.2 .1-.6 0-.5 .1-2.2 .4-1.1 .4-.7 .3-.4 .2-1.1 .7-.3 .2-1.1 1.1-.4 1.2 .2 1.1 .4 .6 .5 .5 .7 .5 1.1 .7 1.1 .4 1.1 .5 .6 .2 .5 .2 2.2 .6 1.2 .3z"/>
<path fill="#ca9849" fill-rule="evenodd" d="M268.4 472.7l.2 .1 1.1 .5 1.1 .2 2.2 0 1.2-.2 1.1-.4 .5-.2 .6-.3 1.1-.6 .3-.3 .8-.7 .3-.4 .7-1.1 .3-1.2 0-1.1-.2-.7-.1-.4-.8-1.1-.2-.2-1.1-.8-.4-.2-.7-.3-1.1-.1-1.1 .1-1.2 .2-.2 .1-.9 .4-1.1 .6-.2 .2-.9 .6-.6 .5-1.1 1.1-.5 .9-.2 .2-.4 1.2-.1 1.1 .4 1.1zM272.4 447.8l.6 .1 .5-.1 .7-.3 .6-.9 .5-1.1 0-1.3-.3-1-.8-1-.2-.1-1-.4-1.1 .2-.3 .2-.8 .8-.2 .3-.3 1.2 .1 1.1 .4 1 1.1 1.1zM260.1 439.8l.7 .1 1.1 0 .1-.1 1-.3 1.1-.8 0-.1 .5-1 .1-1.2-.3-1.1-.3-.4-.3-.7-.8-1-.2-.2-.9-.8-.4-.3-.7-.4-1.1-.6-.4-.1-.7-.3-1.2-.3-1.1-.1-1.1 .1-1.1 .2-.9 .4-.2 .1-1 1-.1 .5-.2 .6 .2 .7 .1 .5 .6 1.1 .4 .4 .6 .7 .5 .5 .8 .7 .3 .2 1.1 .7 .4 .2 .7 .4 1.2 .4 1.1 .3zM234 430.8l1.1 .4 1.2 .3 1.1 .1 1.1-.1 1.1-.5 .2-.2 0-1.2-.2-.2-.8-.9-.3-.2-1.1-.6-.6-.3-.5-.2-1.2-.3-1.1-.1-1.1 0-1.1 .4-.3 .2-.1 1.1 .4 .6 .5 .5 .6 .5zM218.6 404.7l.9 .3 1.2 .3 1.1 .2 1.1-.1 1.1-.3 .8-.4 .3-.4 .4-.7-.3-1.1-.1-.1-1.1-.8-.5-.3-.6-.1-1.1-.2-1.1-.1-1.2 .1-1.1 .3-1.1 .9-.3 .3 .2 1.1 .1 .1 1.1 .9z"/>
<path fill="#b37625" fill-rule="evenodd" d="M268.9 471.5l.8 .6 1.1 .4 1.1 .1 1.1 0 1.2-.2 1.1-.4 1-.5 .1 0 1.1-.8 .3-.3 .8-1 .1-.1 .4-1.2 0-1.1-.5-1.1 0-.1-1.1-1 0-.1-1.1-.5-1.1-.2-1.1 .1-1.2 .3-.9 .4-.2 0-1.1 .7-.5 .4-.6 .6-.6 .5-.5 .9-.2 .2-.3 1.2 .1 1.1 .4 .7zM271.9 445.5l0 .1 1.1 .6 .8-.7 .1-1.1-.9-1-1.1 .7-.1 .3zM258.1 438.7l.5 .2 1.1 .2 1.1 .1 1.1-.2 .5-.3 .6-.5 .5-.6 .1-1.2-.2-1.1-.4-.7-.2-.4-.9-1-.2-.2-.9-.7-.7-.4-.4-.2-1.1-.5-1.2-.2-1.1-.1-1.1 .1-1.1 .4-.7 .5-.4 .8-.2 .3 .1 1.2 .1 .1 .5 1 .6 .7 .3 .4 .8 .7 .6 .5 .5 .3 1.1 .6z"/>
<path fill="#955910" fill-rule="evenodd" d="M271.4 471.5l.5 .2 1.1 0 1-.2 .2 0 1.1-.4 1.1-.6 1.2-1.2 .5-1.2 0-1.1-.6-1.1-1.1-.7-1.1-.3-1.1 0-1.2 .3-1.1 .5-.2 .2-.9 .7-.5 .4-.6 .9-.2 .2-.2 1.2 .3 1.1 .1 .1 1.1 .9zM256.9 437.6l.5 .2 1.2 .4 1.1 .2 1.1 0 1.1-.5 .3-.3 .4-1.2-.2-1.1-.5-1-1.3-1.3-.9-.5-1.1-.5-1.2-.3-1.1 0-1 .2-.1 0-1.1 .9-.1 .2-.1 1.2 .2 .5 .2 .6 .9 1.1 .1 0 1 .8z"/>
<path fill="#754308" fill-rule="evenodd" d="M271.6 470.4l.3 .1 1.1 .2 1.2-.1 .4-.2 .7-.3 1.1-.8 .6-1.2-.1-1.1-.5-.6-1-.5-.1-.1-1.1 0-1.2 .4-1.1 .6-.2 .2-.9 1.1-.2 1.2 .2 .3zM258.5 437.6l.1 0 1.1 .1 .6-.1 .5-.2 .7-1-.1-1.1-.6-1.1-1.1-.9-.5-.3-.6-.2-1.2-.3-1.1 .1-.9 .4-.2 .2-.3 1 .3 1 0 .1 1.1 1.1 0 .1 1.1 .6z"/>
<path fill="#543005" fill-rule="evenodd" d="M272.7 468.1l.3 1.1 1.2 0 1.1-1 0-.2-1.1-.7-1.2 .5zM257.9 436.4l.7 .2 1.1 0 .2-.2 .3-1.1-.5-.8-.4-.3-.7-.4-1.2-.2-1.1 .4-.1 .2 .1 .7 .1 .4 1 .9z"/>
</g>
<path fill="#222" d="M209.3 428.9h1v1h-1zM209.3 460.0h1v1h-1zM209.3 462.8h1v1h-1zM209.3 465.7h1v1h-1zM212.1 428.9h1v1h-1zM212.1 460.0h1v1h-1zM212.1 462.8h1v1h-1zM214.9 428.9h1v1h-1zM214.9 460.0h1v1h-1zM214.9 462.8h1v1h-1zM214.9 465.7h1v1h-1zM217.7 400.5h1v1h-1zM217.7 428.9h1v1h-1zM220.4 400.5h1v1h-1zM220.4 443.0h1v1h-1zM220.4 445.8h1v1h-1zM223.2 397.7h1v1h-1zM223.2 400.5h1v1h-1zM223.2 440.2h1v1h-1zM223.2 443.0h1v1h-1zM223.2 445.8h1v1h-1zM226.0 440.2h1v1h-1zM226.0 443.0h1v1h-1zM226.0 445.8h1v1h-1zM228.8 420.4h1v1h-1zM228.8 440.2h1v1h-1zM228.8 443.0h1v1h-1zM228.8 445.8h1v1h-1zM231.6 420.4h1v1h-1zM231.6 440.2h1v1h-1zM231.6 443.0h1v1h-1zM234.4 420.4h1v1h-1zM234.4 440.2h1v1h-1zM234.4 443.0h1v1h-1zM234.4 445.8h1v1h-1zM237.2 420.4h1v1h-1zM237.2 440.2h1v1h-1zM237.2 445.8h1v1h-1zM239.9 440.2h1v1h-1zM239.9 443.0h1v1h-1zM239.9 445.8h1v1h-1zM242.7 434.5h1v1h-1zM242.7 437.4h1v1h-1zM245.5 437.4h1v1h-1zM245.5 479.8h1v1h-1zM248.3 434.5h1v1h-1zM248.3 479.8h1v1h-1zM251.1 477.0h1v1h-1zM253.9 414.7h1v1h-1zM253.9 434.5h1v1h-1zM253.9 437.4h1v1h-1zM256.7 414.7h1v1h-1zM256.7 417.5h1v1h-1zM256.7 479.8h1v1h-1zM259.4 411.9h1v1h-1zM259.4 414.7h1v1h-1zM259.4 417.5h1v1h-1zM262.2 417.5h1v1h-1zM267.8 460.0h1v1h-1zM267.8 465.7h1v1h-1zM270.6 462.8h1v1h-1zM273.4 462.8h1v1h-1zM273.4 468.5h1v1h-1zM276.2 462.8h1v1h-1zM276.2 468.5h1v1h-1zM281.7 440.2h1v1h-1zM281.7 443.0h1v1h-1zM281.7 448.7h1v1h-1zM281.7 451.5h1v1h-1zM281.7 454.3h1v1h-1zM284.5 440.2h1v1h-1zM284.5 443.0h1v1h-1zM284.5 445.8h1v1h-1zM284.5 448.7h1v1h-1zM284.5 451.5h1v1h-1zM284.5 454.3h1v1h-1zM287.3 440.2h1v1h-1zM287.3 443.0h1v1h-1zM287.3 445.8h1v1h-1zM287.3 454.3h1v1h-1zM295.7 451.5h1v1h-1zM295.7 454.3h1v1h-1zM295.7 457.2h1v1h-1zM295.7 460.0h1v1h-1zM295.7 462.8h1v1h-1zM298.4 451.5h1v1h-1zM298.4 454.3h1v1h-1zM298.4 457.2h1v1h-1zM298.4 460.0h1v1h-1zM298.4 462.8h1v1h-1zM301.2 454.3h1v1h-1zM301.2 460.0h1v1h-1zM301.2 462.8h1v1h-1zM304.0 454.3h1v1h-1zM304.0 457.2h1v1h-1zM306.8 451.5h1v1h-1zM306.8 457.2h1v1h-1zM306.8 460.0h1v1h-1zM306.8 462.8h1v1h-1z"/>
<path fill="none" stroke="#000" stroke-width="0.75" stroke-linejoin="round" d="M235.26,401.56 L235.93,401.44 L236.93,402.24 L238.60,402.12 L239.60,402.35 L240.50,401.67 L241.83,401.44 L243.50,400.65 L245.40,400.42 L247.74,400.54 L250.19,400.20 L251.42,400.31 L252.75,399.86 L253.31,400.20 L254.09,400.08 L253.42,400.76 L253.65,401.44 L254.20,402.24 L253.53,403.03 L253.09,403.71 L254.20,404.39 L255.21,404.84 L256.54,404.84 L258.77,405.52 L259.33,406.54 L261.34,407.11 L263.01,407.79 L264.23,406.99 L264.12,405.75 L265.79,404.95 L267.69,405.29 L269.92,406.31 L271.92,406.65 L274.15,407.11 L275.82,406.43 L277.83,406.65 L278.16,408.12 L278.16,408.24 L278.83,409.82 L279.72,411.52 L280.84,413.79 L281.51,415.03 L282.96,417.19 L283.29,419.45 L283.62,421.04 L284.63,421.83 L285.52,423.98 L286.41,425.00 L287.75,426.25 L288.97,427.60 L290.09,428.51 L289.75,429.08 L291.43,430.32 L293.77,429.87 L295.33,429.42 L297.22,429.08 L298.89,428.62 L298.78,430.32 L298.34,431.91 L297.11,434.40 L296.00,436.44 L294.77,438.14 L293.43,439.61 L291.76,440.85 L289.87,442.44 L288.42,443.80 L287.41,444.70 L286.52,445.72 L285.52,447.42 L285.07,449.46 L285.85,450.59 L285.63,451.73 L286.19,453.43 L286.97,454.33 L287.08,456.26 L286.97,458.52 L286.41,460.22 L283.62,462.03 L282.40,463.16 L281.17,464.52 L281.06,466.45 L281.40,467.58 L281.40,469.28 L279.72,470.30 L278.39,471.32 L278.50,472.56 L278.16,474.38 L277.50,474.94 L276.38,475.96 L275.38,477.43 L274.04,478.68 L272.48,479.70 L270.81,480.38 L269.92,480.61 L268.13,480.49 L266.91,480.61 L265.24,481.06 L264.12,481.51 L263.23,481.17 L262.34,480.72 L262.23,479.81 L261.78,479.13 L262.12,478.00 L261.11,476.53 L260.11,474.49 L258.88,473.02 L258.33,470.98 L257.88,468.15 L257.77,467.24 L256.77,465.77 L255.88,463.62 L254.98,461.69 L254.87,460.22 L255.43,458.41 L256.21,456.82 L256.99,455.69 L257.10,454.22 L256.43,452.97 L256.10,451.50 L255.54,449.01 L255.43,448.67 L255.10,447.76 L254.20,446.52 L252.87,445.38 L252.20,444.25 L251.64,443.01 L252.20,441.76 L252.53,440.97 L252.75,439.50 L252.87,438.59 L252.31,437.68 L251.75,437.12 L251.31,436.89 L250.19,437.12 L249.30,437.23 L248.41,437.23 L247.41,435.76 L246.74,434.97 L245.62,434.85 L244.84,434.97 L243.95,435.19 L243.06,435.42 L241.28,436.10 L239.72,436.78 L238.16,436.32 L236.71,436.21 L235.26,436.44 L233.47,437.12 L232.47,436.78 L231.47,436.10 L229.80,435.08 L229.13,434.29 L228.01,433.83 L227.12,432.81 L227.12,431.91 L226.57,431.34 L225.56,430.55 L225.01,429.76 L224.00,429.08 L223.22,428.06 L223.11,427.04 L223.00,426.25 L222.66,425.57 L222.33,425.45 L223.00,424.89 L223.44,423.75 L223.89,421.60 L223.67,420.47 L223.67,419.45 L223.00,418.32 L222.89,417.86 L223.67,416.39 L224.00,415.26 L224.67,414.47 L225.34,413.56 L225.79,412.32 L227.01,410.84 L227.79,410.39 L228.79,410.16 L229.69,409.48 L230.69,408.58 L231.13,407.56 L230.91,406.77 L231.47,405.18 L232.25,404.39 L233.36,403.93 L234.14,403.48 L234.92,402.24 L235.26,401.56Z M296.78,455.69 L297.44,457.05 L297.89,459.09 L298.11,459.99 L297.44,460.67 L297.11,462.26 L296.66,464.18 L296.00,466.22 L295.22,468.37 L294.32,470.30 L292.65,471.09 L291.43,470.64 L290.65,469.62 L290.42,468.37 L290.09,467.01 L290.65,465.88 L291.31,464.86 L291.09,463.39 L290.87,462.03 L291.31,460.79 L292.09,460.22 L293.43,459.88 L294.44,459.09 L295.10,457.95 L295.88,457.28 L296.78,455.69Z M309.26,413.45 L307.14,413.11 L305.69,412.88 L305.13,411.52 L304.35,411.30 L302.79,412.09 L301.46,411.75 L300.23,410.84 L299.12,410.50 L297.78,408.24 L297.00,408.01 L296.00,408.24 L295.33,408.24 L295.22,409.26 L295.77,409.82 L296.22,410.73 L297.11,411.64 L297.67,412.32 L297.78,413.11 L298.22,413.90 L298.78,414.24 L299.12,413.45 L299.34,412.88 L299.34,414.35 L299.78,415.03 L301.34,414.81 L302.68,414.58 L303.69,413.33 L304.35,412.54 L304.69,412.20 L304.69,413.90 L305.25,414.69 L306.47,415.26 L307.25,415.37 L308.03,416.39 L308.48,416.85 L307.92,417.86 L307.03,419.00 L306.25,419.22 L306.14,420.58 L304.91,421.04 L303.80,422.39 L303.46,422.62 L302.90,422.85 L301.01,423.19 L300.01,424.43 L297.11,425.45 L296.11,426.25 L295.22,426.25 L293.54,426.92 L292.65,427.04 L291.98,427.60 L290.87,427.83 L290.31,427.83 L289.98,427.15 L289.64,425.34 L289.31,424.32 L289.53,423.64 L288.97,422.73 L288.42,421.94 L287.75,420.92 L287.41,420.02 L286.63,419.22 L286.19,419.11 L285.41,417.98 L285.30,416.51 L284.74,415.26 L284.18,414.81 L283.62,414.58 L283.29,413.67 L282.96,413.11 L282.62,412.66 L282.18,411.98 L281.51,411.07 L280.95,410.28 L280.39,410.28 L280.62,409.26 L280.78,408.80 L280.39,409.71 L279.95,410.62 L279.61,410.39 L279.28,409.94 L278.72,409.26 L278.16,408.24 M277.83,406.65 L279.95,406.65 L280.39,406.09 L280.84,404.95 L281.40,403.71 L281.84,402.80 L281.73,401.56 L282.18,400.65 L281.40,400.65 L280.50,400.42 L279.72,401.10 L278.05,401.22 L277.16,400.65 L275.94,400.54 L274.93,401.22 L273.82,400.54 L272.59,400.20 L271.92,399.40 L271.25,398.84 L271.70,397.93 L271.03,397.37 L271.25,396.57 L271.59,396.23 M267.02,396.12 L267.24,396.80 L267.02,397.37 L267.80,397.71 L267.02,398.16 L268.02,398.73 L268.58,398.84 L267.58,399.18 L267.24,399.86 L267.58,400.76 L266.91,400.88 L266.02,400.42 L265.57,399.52 L265.35,398.73 L266.24,398.61 L265.35,398.50 L264.90,397.93 L264.35,397.25 L263.79,396.80 L263.45,396.12 M262.45,396.57 L262.34,397.03 L261.00,396.35 L260.67,396.23 L260.22,397.03 L260.89,397.48 L261.00,398.05 L260.33,398.16 L259.78,399.06 L259.33,399.18 L259.33,398.84 L259.55,398.16 L259.33,397.37 L258.88,396.80 L258.44,396.46 M252.75,396.23 L252.64,397.71 L252.09,397.71 L251.64,398.05 L251.19,397.71 L251.19,396.35 L250.97,396.12 M231.25,396.23 L231.80,397.03 L231.36,397.93 L231.91,398.50 L232.03,399.18 L231.91,400.20 L233.03,400.20 L233.59,399.97 L234.59,400.31 L234.92,400.88 L235.59,401.33 L236.37,400.76 L236.93,400.54 L238.04,400.54 L239.49,400.54 L240.05,399.97 L241.05,399.52 L241.05,398.61 L241.94,398.16 L241.50,397.59 L241.94,396.91 L242.39,396.35 L242.72,396.01 M268.02,402.12 L268.80,402.01 L269.69,402.01 L270.59,402.12 L271.14,402.24 L270.92,402.46 L269.36,402.58 L268.02,402.12Z M277.83,402.46 L278.61,402.01 L279.72,401.90 L280.39,401.67 L279.61,402.35 L278.61,402.92 L277.94,402.80 L277.83,402.46Z M255.65,398.95 L256.77,398.84 L259.11,398.73 L258.66,399.86 L258.66,400.54 L257.77,400.20 L255.76,399.52 L255.65,398.95Z M244.51,397.25 L245.29,396.91 L245.62,397.25 L245.18,397.59 L244.51,397.25Z"/>
<path fill="none" stroke="#ec2592" stroke-width="0.95" stroke-linejoin="round" d="M224.89,426.47 L225.90,423.64 L227.35,422.28 L229.69,421.83 L232.03,422.73 L234.92,424.21 L237.71,425.11 L240.50,425.34 L243.84,427.04 L246.07,427.49 L247.85,428.51 L250.64,430.44 L253.42,431.34 L256.32,430.44 L259.11,429.53 L261.45,430.89 L263.79,433.27 L265.68,435.19 L269.47,435.64 L273.15,435.87 L275.04,435.42 L276.83,433.15 L278.72,429.42 L280.62,427.04 L282.51,425.57 L284.41,426.13 L286.30,428.40 L288.19,430.32 L289.53,432.25 L290.98,433.61 L292.87,433.15 L294.77,434.06 L295.22,435.42 L293.77,436.44 L291.87,435.98 L290.09,436.44 L287.19,437.34 L283.40,437.91 L280.62,438.82 L279.17,440.74 L278.72,443.01 L280.17,444.03 L282.06,442.67 L283.40,443.01 L284.41,444.37 L285.30,446.29 L286.19,448.22 L286.63,451.16 L287.30,453.43 L287.86,455.24 L288.31,459.09 L286.41,461.92 L283.07,464.30 L281.17,466.56 L280.28,469.39 L279.39,472.34 L277.94,475.17 L275.60,477.89 L271.81,480.27 L268.02,481.74 L263.68,481.40 L265.24,480.27 L268.02,477.89 L269.92,476.98 L271.81,475.17 L272.26,472.68 L270.92,470.41 L268.02,468.49 L265.24,466.11 L260.56,462.94 L257.99,458.52 L256.88,453.99 L256.10,450.03 L254.43,446.06 L252.98,443.57 L251.64,440.74 L251.08,438.48 L250.19,436.55 L247.85,435.19 L245.18,434.51 L242.39,435.08 L239.60,435.42 L236.71,436.44 L234.37,437.34 L232.03,437.34 L229.13,435.08 L227.35,432.25 L225.45,429.30 L224.89,426.47Z M266.91,460.22 L266.63,459.73 L265.86,459.33 L264.74,459.12 L263.50,459.12 L262.39,459.33 L261.61,459.73 L261.34,460.22 L261.61,460.71 L262.39,461.11 L263.50,461.32 L264.74,461.32 L265.86,461.11 L266.63,460.71 L266.91,460.22Z M266.80,455.12 L266.57,454.56 L266.02,454.33 L265.47,454.56 L265.24,455.12 L265.47,455.68 L266.02,455.92 L266.57,455.68 L266.80,455.12Z M235.59,429.64 L235.36,429.08 L234.81,428.85 L234.26,429.08 L234.03,429.64 L234.26,430.20 L234.81,430.44 L235.36,430.20 L235.59,429.64Z M274.38,397.59 L274.08,396.87 L273.37,396.57 L272.66,396.87 L272.37,397.59 L272.66,398.31 L273.37,398.61 L274.08,398.31 L274.38,397.59Z M296.89,456.37 L297.78,459.09 L297.00,462.49 L296.00,465.88 L295.44,466.11 L296.22,462.49 L296.89,459.09 L296.33,456.82 L296.89,456.37Z"/>
</g>
<rect x="208.40" y="396.80" width="100.30" height="90.60" fill="none" stroke="#000" stroke-width="0.8"/>
<path stroke="#333" stroke-width="0.75" d="M208.40,396.80h-2.8M208.40,419.45h-2.8M208.40,442.10h-2.8M208.40,464.75h-2.8M208.40,487.40h-2.8M219.54,487.40v2.4M241.83,487.40v2.4M264.12,487.40v2.4M286.41,487.40v2.4M308.70,487.40v2.4"/>
<text x="185.23" y="399.25" style="font-size:7.20px" textLength="9.23" lengthAdjust="spacingAndGlyphs">40</text><text x="195.14" y="398.17" style="font-size:5.18px">°</text><text x="198.08" y="399.25" style="font-size:7.20px" textLength="5.42" lengthAdjust="spacingAndGlyphs">N</text>
<text x="185.23" y="421.90" style="font-size:7.20px" textLength="9.23" lengthAdjust="spacingAndGlyphs">20</text><text x="195.14" y="420.82" style="font-size:5.18px">°</text><text x="198.08" y="421.90" style="font-size:7.20px" textLength="5.42" lengthAdjust="spacingAndGlyphs">N</text>
<text x="195.26" y="444.55" style="font-size:7.20px" textLength="4.61" lengthAdjust="spacingAndGlyphs">0</text><text x="200.56" y="443.47" style="font-size:5.18px">°</text>
<text x="186.05" y="467.20" style="font-size:7.20px" textLength="9.23" lengthAdjust="spacingAndGlyphs">20</text><text x="195.96" y="466.12" style="font-size:5.18px">°</text><text x="198.90" y="467.20" style="font-size:7.20px" textLength="4.60" lengthAdjust="spacingAndGlyphs">S</text>
<text x="186.05" y="489.85" style="font-size:7.20px" textLength="9.23" lengthAdjust="spacingAndGlyphs">40</text><text x="195.96" y="488.77" style="font-size:5.18px">°</text><text x="198.90" y="489.85" style="font-size:7.20px" textLength="4.60" lengthAdjust="spacingAndGlyphs">S</text>
<text x="209.53" y="497.70" style="font-size:7.20px" textLength="9.23" lengthAdjust="spacingAndGlyphs">20</text><text x="219.45" y="496.62" style="font-size:5.18px">°</text><text x="222.39" y="497.70" style="font-size:7.20px" textLength="7.17" lengthAdjust="spacingAndGlyphs">W</text>
<text x="237.71" y="497.70" style="font-size:7.20px" textLength="4.61" lengthAdjust="spacingAndGlyphs">0</text><text x="243.01" y="496.62" style="font-size:5.18px">°</text>
<text x="255.41" y="497.70" style="font-size:7.20px" textLength="9.23" lengthAdjust="spacingAndGlyphs">20</text><text x="265.32" y="496.62" style="font-size:5.18px">°</text><text x="268.26" y="497.70" style="font-size:7.20px" textLength="4.58" lengthAdjust="spacingAndGlyphs">E</text>
<text x="277.70" y="497.70" style="font-size:7.20px" textLength="9.23" lengthAdjust="spacingAndGlyphs">40</text><text x="287.61" y="496.62" style="font-size:5.18px">°</text><text x="290.55" y="497.70" style="font-size:7.20px" textLength="4.58" lengthAdjust="spacingAndGlyphs">E</text>
<text x="299.98" y="497.70" style="font-size:7.20px" textLength="9.23" lengthAdjust="spacingAndGlyphs">60</text><text x="309.90" y="496.62" style="font-size:5.18px">°</text><text x="312.83" y="497.70" style="font-size:7.20px" textLength="4.58" lengthAdjust="spacingAndGlyphs">E</text>
<text x="208.40" y="391.30" style="font-size:12.10px" textLength="13.73" lengthAdjust="spacingAndGlyphs">(f)</text><text x="226.00" y="392.60" style="font-size:11.00px" textLength="9.22" lengthAdjust="spacingAndGlyphs">−</text><text x="235.30" y="384.40" style="font-size:8.60px;font-style:italic" textLength="5.47" lengthAdjust="spacingAndGlyphs">q</text><text x="240.20" y="386.20" style="font-size:6.00px;font-style:italic" textLength="3.13" lengthAdjust="spacingAndGlyphs">s</text><text x="242.60" y="384.40" style="font-size:8.60px;font-style:italic" textLength="7.22" lengthAdjust="spacingAndGlyphs">ω</text><text x="248.60" y="386.20" style="font-size:6.00px;font-style:italic" textLength="11.45" lengthAdjust="spacingAndGlyphs">700</text><path d="M235.1,388.9H261.2" stroke="#000" stroke-width="0.75"/><text x="245.00" y="394.50" style="font-size:8.60px;font-style:italic" textLength="5.47" lengthAdjust="spacingAndGlyphs">g</text>
<path d="M77.10,121.60L110.09,136.58" stroke="#000" stroke-width="1.25"/><path d="M114.10,138.40L108.41,138.34L110.32,134.16Z" fill="#000"/>
<path d="M257.80,121.60L224.59,136.95" stroke="#000" stroke-width="1.25"/><path d="M220.60,138.80L224.35,134.53L226.29,138.71Z" fill="#000"/>
<path d="M125.90,265.30L161.28,249.59" stroke="#000" stroke-width="1.25"/><path d="M165.30,247.80L161.48,252.01L159.61,247.81Z" fill="#000"/>
<path d="M208.00,265.00L173.45,250.32" stroke="#000" stroke-width="1.25"/><path d="M169.40,248.60L175.09,248.52L173.29,252.75Z" fill="#000"/>
<path d="M75.60,391.30L75.60,380.60" stroke="#000" stroke-width="1.25"/><path d="M75.60,376.20L77.90,381.40L73.30,381.40Z" fill="#000"/>
<path d="M206.90,392.20L82.37,376.84" stroke="#000" stroke-width="1.25"/><path d="M78.00,376.30L83.44,374.65L82.88,379.22Z" fill="#000"/>
<path d="M42.20,504.50L30.1,510.70L42.20,516.90Z" fill="#543005"/>
<path d="M292.10,504.50L304.6,510.70L292.10,516.90Z" fill="#003c30"/>
<rect x="41.85" y="504.50" width="15.76" height="12.40" fill="#754308"/>
<rect x="57.51" y="504.50" width="15.76" height="12.40" fill="#955910"/>
<rect x="73.16" y="504.50" width="15.76" height="12.40" fill="#b37625"/>
<rect x="88.82" y="504.50" width="15.76" height="12.40" fill="#ca9849"/>
<rect x="104.47" y="504.50" width="15.76" height="12.40" fill="#ddbe78"/>
<rect x="120.13" y="504.50" width="15.76" height="12.40" fill="#ebd6a2"/>
<rect x="135.79" y="504.50" width="15.76" height="12.40" fill="#f6eac9"/>
<rect x="151.44" y="504.50" width="15.76" height="12.40" fill="#f5f1e6"/>
<rect x="167.10" y="504.50" width="15.76" height="12.40" fill="#e7f2f0"/>
<rect x="182.76" y="504.50" width="15.76" height="12.40" fill="#ccebe7"/>
<rect x="198.41" y="504.50" width="15.76" height="12.40" fill="#a6dcd4"/>
<rect x="214.07" y="504.50" width="15.76" height="12.40" fill="#7ccabe"/>
<rect x="229.72" y="504.50" width="15.76" height="12.40" fill="#4faaa1"/>
<rect x="245.38" y="504.50" width="15.76" height="12.40" fill="#298b83"/>
<rect x="261.04" y="504.50" width="15.76" height="12.40" fill="#0a6f67"/>
<rect x="276.69" y="504.50" width="15.76" height="12.40" fill="#01554b"/>
<path d="M41.90,504.50L30.1,510.70L41.90,516.90L292.40,516.90L304.6,510.70L292.40,504.50Z" fill="none" stroke="#000" stroke-width="0.8"/>
<text x="41.90" y="529.50" text-anchor="middle" style="font-size:9.10px" textLength="27.96" lengthAdjust="spacingAndGlyphs">−0.16</text>
<text x="73.21" y="529.50" text-anchor="middle" style="font-size:9.10px" textLength="27.96" lengthAdjust="spacingAndGlyphs">−0.12</text>
<text x="104.52" y="529.50" text-anchor="middle" style="font-size:9.10px" textLength="27.96" lengthAdjust="spacingAndGlyphs">−0.08</text>
<text x="135.84" y="529.50" text-anchor="middle" style="font-size:9.10px" textLength="27.96" lengthAdjust="spacingAndGlyphs">−0.04</text>
<text x="167.15" y="529.50" text-anchor="middle" style="font-size:9.10px" textLength="20.32" lengthAdjust="spacingAndGlyphs">0.00</text>
<text x="198.46" y="529.50" text-anchor="middle" style="font-size:9.10px" textLength="20.32" lengthAdjust="spacingAndGlyphs">0.04</text>
<text x="229.77" y="529.50" text-anchor="middle" style="font-size:9.10px" textLength="20.32" lengthAdjust="spacingAndGlyphs">0.08</text>
<text x="261.09" y="529.50" text-anchor="middle" style="font-size:9.10px" textLength="20.32" lengthAdjust="spacingAndGlyphs">0.12</text>
<text x="292.40" y="529.50" text-anchor="middle" style="font-size:9.10px" textLength="20.32" lengthAdjust="spacingAndGlyphs">0.16</text>
<path stroke="#000" stroke-width="0.75" d="M41.90,516.90v2.8M73.21,516.90v2.8M104.52,516.90v2.8M135.84,516.90v2.8M167.15,516.90v2.8M198.46,516.90v2.8M229.77,516.90v2.8M261.09,516.90v2.8M292.40,516.90v2.8"/>
<text x="140.80" y="545.20" style="font-size:10.30px" textLength="29.73" lengthAdjust="spacingAndGlyphs">mm d</text><text x="169.90" y="540.60" style="font-size:7.20px" textLength="10.69" lengthAdjust="spacingAndGlyphs">−1</text>
</svg>
</body></html>
